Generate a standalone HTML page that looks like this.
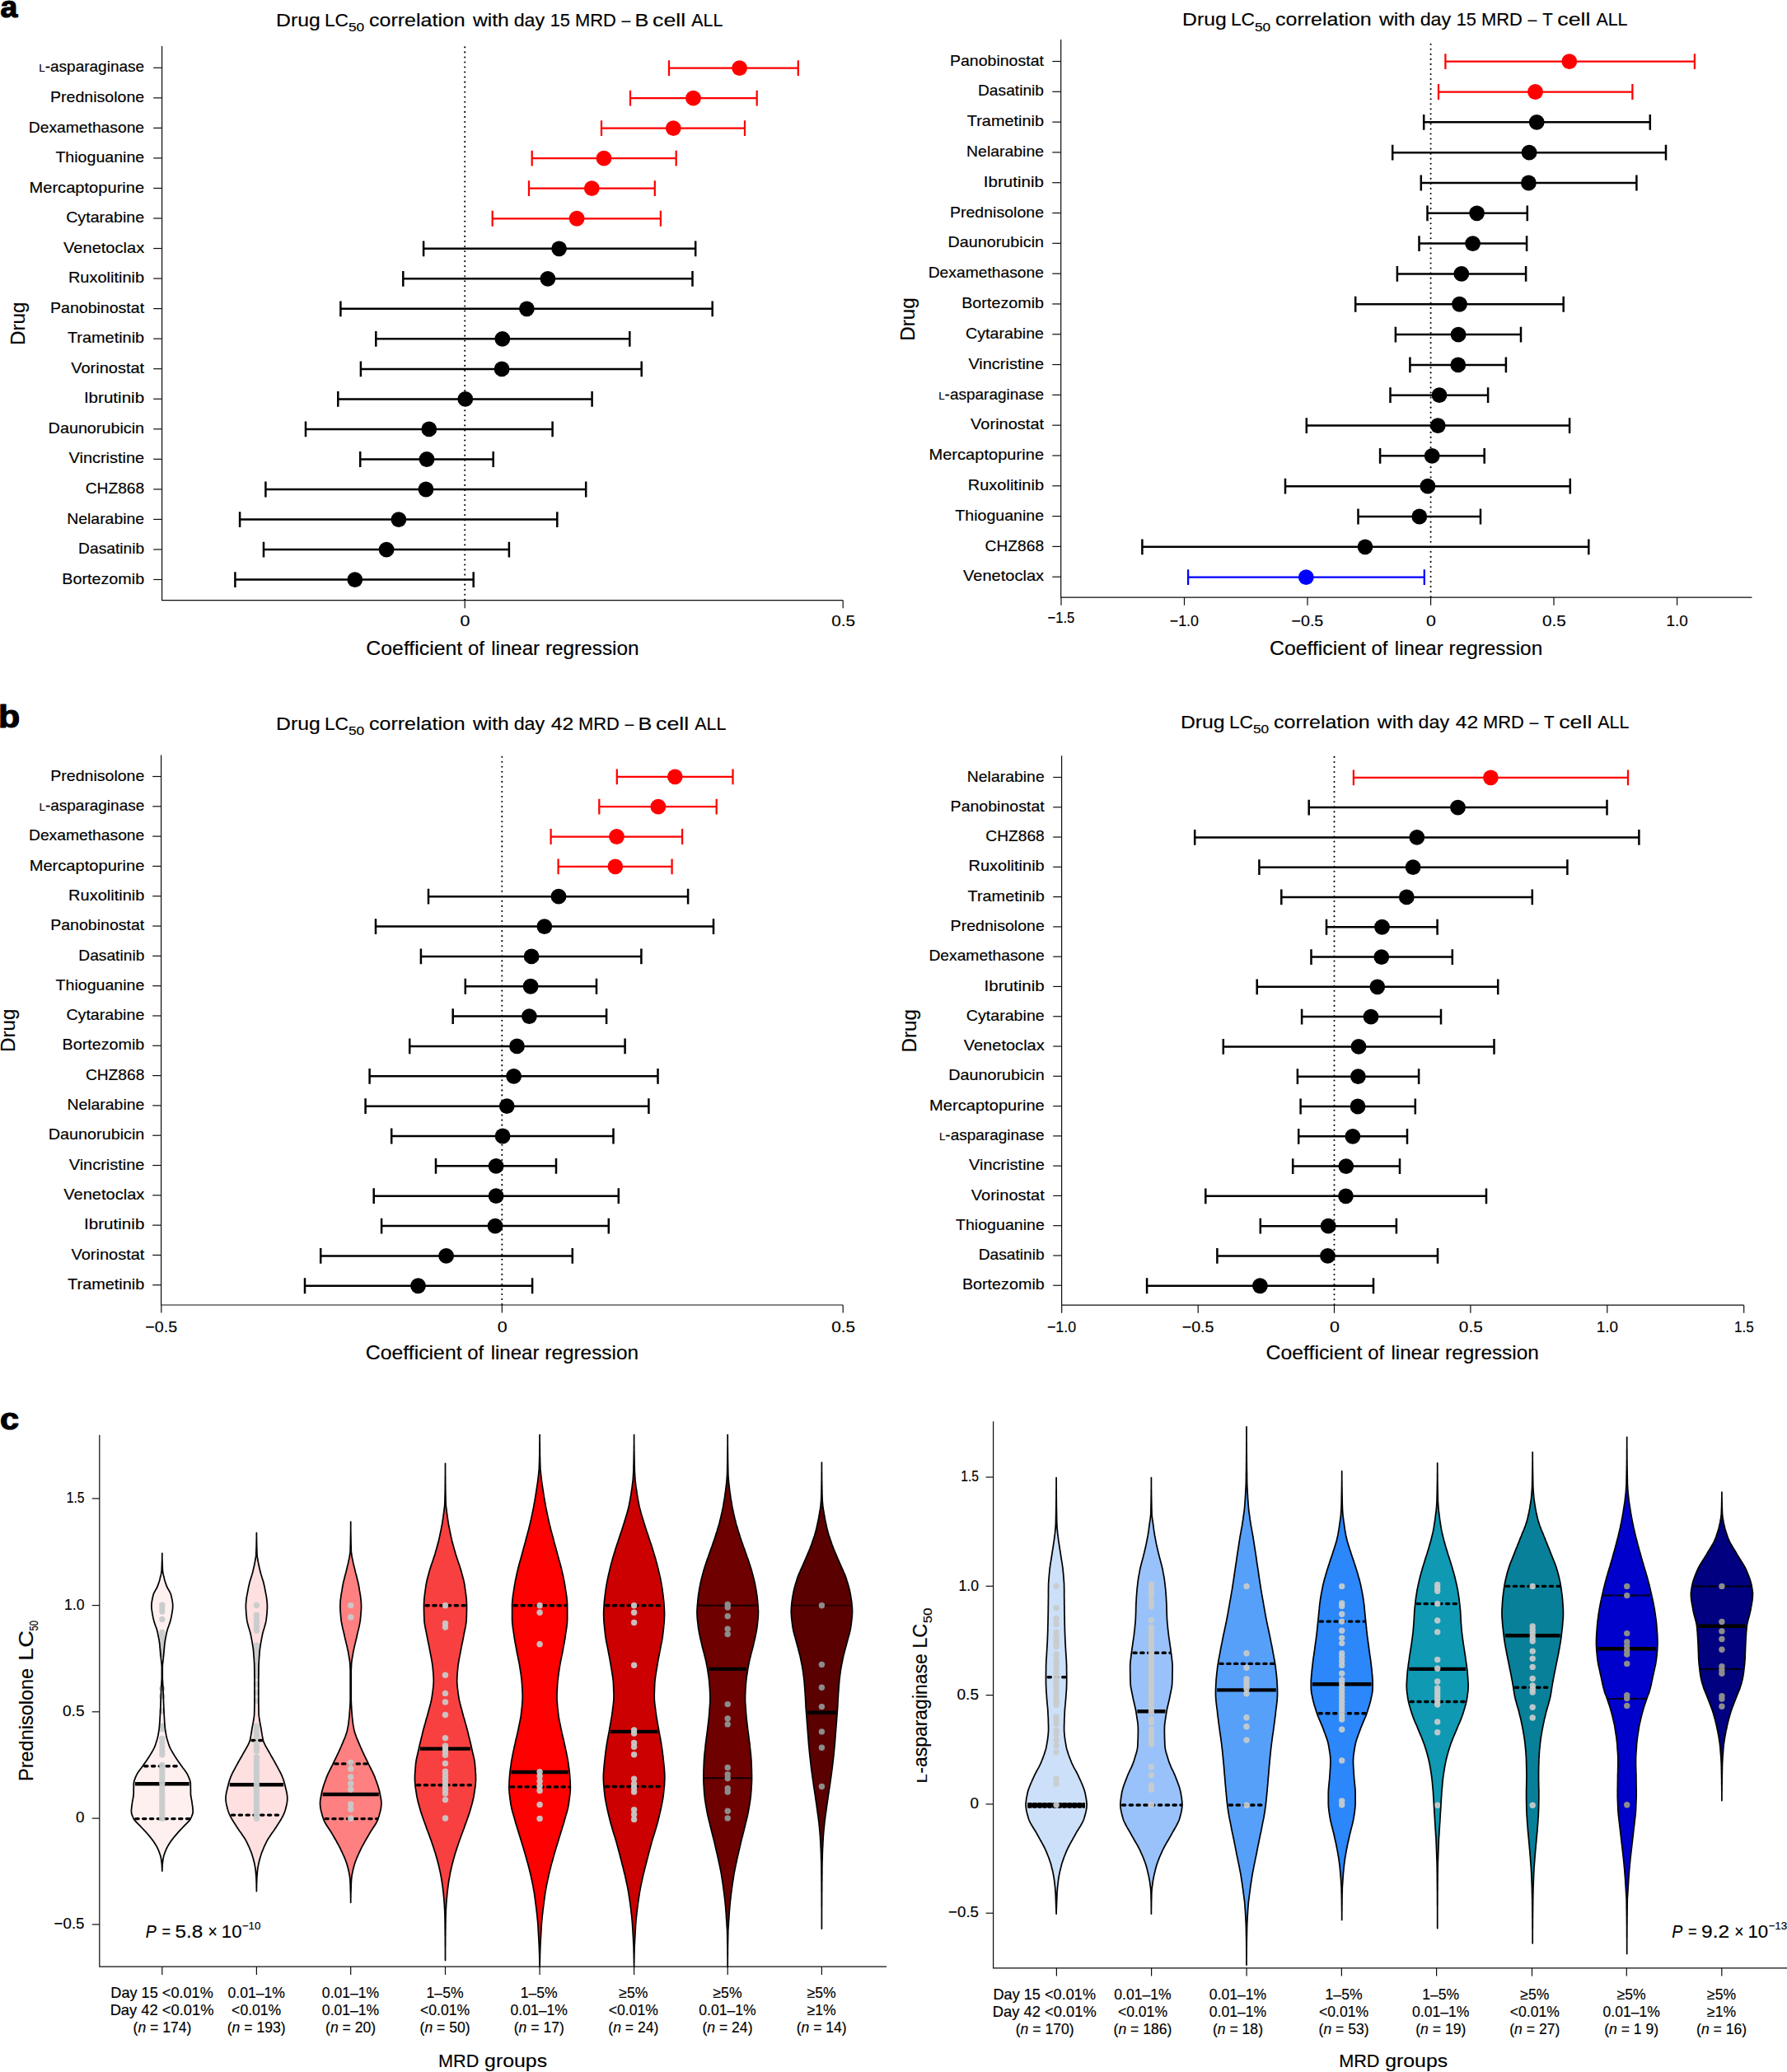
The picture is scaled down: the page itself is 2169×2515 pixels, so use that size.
<!DOCTYPE html>
<html lang="en"><head><meta charset="utf-8"><title>Drug LC50 correlation with MRD</title>
<style>
html,body{margin:0;padding:0;background:#fff;}
body{width:2169px;height:2515px;overflow:hidden;}
svg{display:block;font-family:"Liberation Sans", sans-serif;}
svg text{stroke:#000;stroke-width:0.16px;}
</style></head><body>
<svg width="2169" height="2515" viewBox="0 0 2169 2515">
<rect width="2169" height="2515" fill="#fff"/>
<line x1="564.2" y1="727.8" x2="564.2" y2="56.5" stroke="#000" stroke-width="2.1" stroke-linecap="round" stroke-dasharray="0.01 6.03" />
<path d="M196.6 56 V728.7 H1023.2" fill="none" stroke="#0d0d0d" stroke-width="1.22"/>
<line x1="186.2" y1="82.3" x2="196.6" y2="82.3" stroke="#0d0d0d" stroke-width="1.2"/>
<text transform="translate(47.3 87.45) scale(1.0332 1)" fill="#000"><tspan font-size="12.9" dy="0">L</tspan><tspan font-size="18.4" dy="0">-asparaginase</tspan></text>
<line x1="186.2" y1="118.84" x2="196.6" y2="118.84" stroke="#0d0d0d" stroke-width="1.2"/>
<text transform="translate(61 123.99) scale(1.0632 1)" font-size="18.4" fill="#000">Prednisolone</text>
<line x1="186.2" y1="155.38" x2="196.6" y2="155.38" stroke="#0d0d0d" stroke-width="1.2"/>
<text transform="translate(34.8 160.53) scale(1.0478 1)" font-size="18.4" fill="#000">Dexamethasone</text>
<line x1="186.2" y1="191.92" x2="196.6" y2="191.92" stroke="#0d0d0d" stroke-width="1.2"/>
<text transform="translate(67.4 197.07) scale(1.0643 1)" font-size="18.4" fill="#000">Thioguanine</text>
<line x1="186.2" y1="228.46" x2="196.6" y2="228.46" stroke="#0d0d0d" stroke-width="1.2"/>
<text transform="translate(35.5 233.61) scale(1.0927 1)" font-size="18.4" fill="#000">Mercaptopurine</text>
<line x1="186.2" y1="265" x2="196.6" y2="265" stroke="#0d0d0d" stroke-width="1.2"/>
<text transform="translate(80.2 270.15) scale(1.0676 1)" font-size="18.4" fill="#000">Cytarabine</text>
<line x1="186.2" y1="301.54" x2="196.6" y2="301.54" stroke="#0d0d0d" stroke-width="1.2"/>
<text transform="translate(77.1 306.69) scale(1.0897 1)" font-size="18.4" fill="#000">Venetoclax</text>
<line x1="186.2" y1="338.08" x2="196.6" y2="338.08" stroke="#0d0d0d" stroke-width="1.2"/>
<text transform="translate(82.9 343.23) scale(1.0873 1)" font-size="18.4" fill="#000">Ruxolitinib</text>
<line x1="186.2" y1="374.62" x2="196.6" y2="374.62" stroke="#0d0d0d" stroke-width="1.2"/>
<text transform="translate(61 379.77) scale(1.0631 1)" font-size="18.4" fill="#000">Panobinostat</text>
<line x1="186.2" y1="411.16" x2="196.6" y2="411.16" stroke="#0d0d0d" stroke-width="1.2"/>
<text transform="translate(81.9 416.31) scale(1.0819 1)" font-size="18.4" fill="#000">Trametinib</text>
<line x1="186.2" y1="447.7" x2="196.6" y2="447.7" stroke="#0d0d0d" stroke-width="1.2"/>
<text transform="translate(86.2 452.85) scale(1.0876 1)" font-size="18.4" fill="#000">Vorinostat</text>
<line x1="186.2" y1="484.24" x2="196.6" y2="484.24" stroke="#0d0d0d" stroke-width="1.2"/>
<text transform="translate(101.9 489.39) scale(1.1197 1)" font-size="18.4" fill="#000">Ibrutinib</text>
<line x1="186.2" y1="520.78" x2="196.6" y2="520.78" stroke="#0d0d0d" stroke-width="1.2"/>
<text transform="translate(58.6 525.93) scale(1.0754 1)" font-size="18.4" fill="#000">Daunorubicin</text>
<line x1="186.2" y1="557.32" x2="196.6" y2="557.32" stroke="#0d0d0d" stroke-width="1.2"/>
<text transform="translate(83.5 562.47) scale(1.0846 1)" font-size="18.4" fill="#000">Vincristine</text>
<line x1="186.2" y1="593.86" x2="196.6" y2="593.86" stroke="#0d0d0d" stroke-width="1.2"/>
<text transform="translate(103.7 599.01) scale(1.0435 1)" font-size="18.4" fill="#000">CHZ868</text>
<line x1="186.2" y1="630.4" x2="196.6" y2="630.4" stroke="#0d0d0d" stroke-width="1.2"/>
<text transform="translate(81.2 635.55) scale(1.0562 1)" font-size="18.4" fill="#000">Nelarabine</text>
<line x1="186.2" y1="666.94" x2="196.6" y2="666.94" stroke="#0d0d0d" stroke-width="1.2"/>
<text transform="translate(95.1 672.09) scale(1.0442 1)" font-size="18.4" fill="#000">Dasatinib</text>
<line x1="186.2" y1="703.48" x2="196.6" y2="703.48" stroke="#0d0d0d" stroke-width="1.2"/>
<text transform="translate(75.3 708.63) scale(1.0735 1)" font-size="18.4" fill="#000">Bortezomib</text>
<line x1="564.2" y1="728.7" x2="564.2" y2="738.3" stroke="#0d0d0d" stroke-width="1.2"/>
<text transform="translate(558.59 760.1) scale(1.1537 1)" font-size="18.6" fill="#000">0</text>
<line x1="1023.2" y1="728.7" x2="1023.2" y2="738.3" stroke="#0d0d0d" stroke-width="1.2"/>
<text transform="translate(1009.17 760.1) scale(1.1163 1)" font-size="18.6" fill="#000">0.5</text>
<path d="M812 73.2 V92 M968.8 73.2 V92 M812 82.6 H968.8" stroke="#ff0000" stroke-width="2.25" fill="none"/>
<circle cx="897.6" cy="82.6" r="9.4" fill="#ff0000"/>
<path d="M765 109.73 V128.53 M918.7 109.73 V128.53 M765 119.13 H918.7" stroke="#ff0000" stroke-width="2.25" fill="none"/>
<circle cx="841.5" cy="119.13" r="9.4" fill="#ff0000"/>
<path d="M730 146.26 V165.06 M904 146.26 V165.06 M730 155.66 H904" stroke="#ff0000" stroke-width="2.25" fill="none"/>
<circle cx="817.3" cy="155.66" r="9.4" fill="#ff0000"/>
<path d="M645.7 182.79 V201.59 M820.7 182.79 V201.59 M645.7 192.19 H820.7" stroke="#ff0000" stroke-width="2.25" fill="none"/>
<circle cx="733" cy="192.19" r="9.4" fill="#ff0000"/>
<path d="M642 219.32 V238.12 M794.8 219.32 V238.12 M642 228.72 H794.8" stroke="#ff0000" stroke-width="2.25" fill="none"/>
<circle cx="718.3" cy="228.72" r="9.4" fill="#ff0000"/>
<path d="M597.7 255.85 V274.65 M801.9 255.85 V274.65 M597.7 265.25 H801.9" stroke="#ff0000" stroke-width="2.25" fill="none"/>
<circle cx="700.1" cy="265.25" r="9.4" fill="#ff0000"/>
<path d="M514.1 292.38 V311.18 M844.2 292.38 V311.18 M514.1 301.78 H844.2" stroke="#000000" stroke-width="2.5" fill="none"/>
<circle cx="678.6" cy="301.78" r="9.4" fill="#000000"/>
<path d="M489.3 328.91 V347.71 M840.5 328.91 V347.71 M489.3 338.31 H840.5" stroke="#000000" stroke-width="2.5" fill="none"/>
<circle cx="664.9" cy="338.31" r="9.4" fill="#000000"/>
<path d="M413.4 365.44 V384.24 M864.7 365.44 V384.24 M413.4 374.84 H864.7" stroke="#000000" stroke-width="2.5" fill="none"/>
<circle cx="639.4" cy="374.84" r="9.4" fill="#000000"/>
<path d="M456.3 401.97 V420.77 M764.3 401.97 V420.77 M456.3 411.37 H764.3" stroke="#000000" stroke-width="2.5" fill="none"/>
<circle cx="609.8" cy="411.37" r="9.4" fill="#000000"/>
<path d="M437.9 438.5 V457.3 M778.7 438.5 V457.3 M437.9 447.9 H778.7" stroke="#000000" stroke-width="2.5" fill="none"/>
<circle cx="609.1" cy="447.9" r="9.4" fill="#000000"/>
<path d="M410.3 475.03 V493.83 M718.6 475.03 V493.83 M410.3 484.43 H718.6" stroke="#000000" stroke-width="2.5" fill="none"/>
<circle cx="564.8" cy="484.43" r="9.4" fill="#000000"/>
<path d="M371 511.56 V530.36 M670.6 511.56 V530.36 M371 520.96 H670.6" stroke="#000000" stroke-width="2.5" fill="none"/>
<circle cx="520.8" cy="520.96" r="9.4" fill="#000000"/>
<path d="M437.2 548.09 V566.89 M598.7 548.09 V566.89 M437.2 557.49 H598.7" stroke="#000000" stroke-width="2.5" fill="none"/>
<circle cx="518" cy="557.49" r="9.4" fill="#000000"/>
<path d="M322.4 584.62 V603.42 M711.2 584.62 V603.42 M322.4 594.02 H711.2" stroke="#000000" stroke-width="2.5" fill="none"/>
<circle cx="517" cy="594.02" r="9.4" fill="#000000"/>
<path d="M291.1 621.15 V639.95 M676.3 621.15 V639.95 M291.1 630.55 H676.3" stroke="#000000" stroke-width="2.5" fill="none"/>
<circle cx="483.9" cy="630.55" r="9.4" fill="#000000"/>
<path d="M320 657.68 V676.48 M617.9 657.68 V676.48 M320 667.08 H617.9" stroke="#000000" stroke-width="2.5" fill="none"/>
<circle cx="469.1" cy="667.08" r="9.4" fill="#000000"/>
<path d="M285.4 694.21 V713.01 M574.7 694.21 V713.01 M285.4 703.61 H574.7" stroke="#000000" stroke-width="2.5" fill="none"/>
<circle cx="430.8" cy="703.61" r="9.4" fill="#000000"/>
<text transform="translate(335.02 32.1) scale(1.0969 1)" font-size="22.6" fill="#000">Drug</text>
<text transform="translate(393.98 32.1) scale(1.0070 1)" font-size="22.6" fill="#000">LC</text>
<text transform="translate(423.01 38.4) scale(1.2532 1)" font-size="13.8" fill="#000">50</text>
<text transform="translate(448.1 32.1) scale(1.1057 1)" font-size="22.6" fill="#000">correlation</text>
<text transform="translate(573.9 32.1) scale(1.0939 1)" font-size="22.6" fill="#000">with</text>
<text transform="translate(623.67 32.1) scale(1.0315 1)" font-size="22.6" fill="#000">day</text>
<text transform="translate(667.66 32.1) scale(0.9650 1)" font-size="22.6" fill="#000">15</text>
<text transform="translate(698.05 32.1) scale(0.9693 1)" font-size="22.6" fill="#000">MRD</text>
<text transform="translate(754.6 32.1) scale(0.8610 1)" font-size="22.6" fill="#000">–</text>
<text transform="translate(770.58 32.1) scale(1.1165 1)" font-size="22.6" fill="#000">B</text>
<text transform="translate(792.03 32.1) scale(1.1863 1)" font-size="22.6" fill="#000">cell</text>
<text transform="translate(839.2 32.1) scale(0.9482 1)" font-size="22.6" fill="#000">ALL</text>
<text transform="translate(444.36 794.6) scale(1.0799 1)" font-size="23" fill="#000">Coefficient</text>
<text transform="translate(567.94 794.6) scale(1.0391 1)" font-size="23" fill="#000">of</text>
<text transform="translate(596.23 794.6) scale(1.0475 1)" font-size="23" fill="#000">linear</text>
<text transform="translate(661.92 794.6) scale(1.0590 1)" font-size="23" fill="#000">regression</text>
<text transform="translate(30.3 417) rotate(-90) translate(-1.94 0) scale(1.0274 1)" font-size="23.6" fill="#000">Drug</text>
<line x1="1736.6" y1="724.2" x2="1736.6" y2="48.4" stroke="#000" stroke-width="2.1" stroke-linecap="round" stroke-dasharray="0.01 6.03" />
<path d="M1287.7 47.9 V725.1 H2126.4" fill="none" stroke="#0d0d0d" stroke-width="1.22"/>
<line x1="1277.3" y1="74.5" x2="1287.7" y2="74.5" stroke="#0d0d0d" stroke-width="1.2"/>
<text transform="translate(1152.9 79.65) scale(1.0631 1)" font-size="18.4" fill="#000">Panobinostat</text>
<line x1="1277.3" y1="111.31" x2="1287.7" y2="111.31" stroke="#0d0d0d" stroke-width="1.2"/>
<text transform="translate(1187 116.46) scale(1.0442 1)" font-size="18.4" fill="#000">Dasatinib</text>
<line x1="1277.3" y1="148.11" x2="1287.7" y2="148.11" stroke="#0d0d0d" stroke-width="1.2"/>
<text transform="translate(1173.8 153.26) scale(1.0819 1)" font-size="18.4" fill="#000">Trametinib</text>
<line x1="1277.3" y1="184.92" x2="1287.7" y2="184.92" stroke="#0d0d0d" stroke-width="1.2"/>
<text transform="translate(1173.1 190.07) scale(1.0562 1)" font-size="18.4" fill="#000">Nelarabine</text>
<line x1="1277.3" y1="221.72" x2="1287.7" y2="221.72" stroke="#0d0d0d" stroke-width="1.2"/>
<text transform="translate(1193.8 226.87) scale(1.1197 1)" font-size="18.4" fill="#000">Ibrutinib</text>
<line x1="1277.3" y1="258.53" x2="1287.7" y2="258.53" stroke="#0d0d0d" stroke-width="1.2"/>
<text transform="translate(1152.9 263.68) scale(1.0632 1)" font-size="18.4" fill="#000">Prednisolone</text>
<line x1="1277.3" y1="295.34" x2="1287.7" y2="295.34" stroke="#0d0d0d" stroke-width="1.2"/>
<text transform="translate(1150.5 300.49) scale(1.0754 1)" font-size="18.4" fill="#000">Daunorubicin</text>
<line x1="1277.3" y1="332.14" x2="1287.7" y2="332.14" stroke="#0d0d0d" stroke-width="1.2"/>
<text transform="translate(1126.7 337.29) scale(1.0478 1)" font-size="18.4" fill="#000">Dexamethasone</text>
<line x1="1277.3" y1="368.95" x2="1287.7" y2="368.95" stroke="#0d0d0d" stroke-width="1.2"/>
<text transform="translate(1167.2 374.1) scale(1.0735 1)" font-size="18.4" fill="#000">Bortezomib</text>
<line x1="1277.3" y1="405.75" x2="1287.7" y2="405.75" stroke="#0d0d0d" stroke-width="1.2"/>
<text transform="translate(1172.1 410.9) scale(1.0676 1)" font-size="18.4" fill="#000">Cytarabine</text>
<line x1="1277.3" y1="442.56" x2="1287.7" y2="442.56" stroke="#0d0d0d" stroke-width="1.2"/>
<text transform="translate(1175.4 447.71) scale(1.0846 1)" font-size="18.4" fill="#000">Vincristine</text>
<line x1="1277.3" y1="479.37" x2="1287.7" y2="479.37" stroke="#0d0d0d" stroke-width="1.2"/>
<text transform="translate(1139.2 484.52) scale(1.0332 1)" fill="#000"><tspan font-size="12.9" dy="0">L</tspan><tspan font-size="18.4" dy="0">-asparaginase</tspan></text>
<line x1="1277.3" y1="516.17" x2="1287.7" y2="516.17" stroke="#0d0d0d" stroke-width="1.2"/>
<text transform="translate(1178.1 521.32) scale(1.0876 1)" font-size="18.4" fill="#000">Vorinostat</text>
<line x1="1277.3" y1="552.98" x2="1287.7" y2="552.98" stroke="#0d0d0d" stroke-width="1.2"/>
<text transform="translate(1127.4 558.13) scale(1.0927 1)" font-size="18.4" fill="#000">Mercaptopurine</text>
<line x1="1277.3" y1="589.78" x2="1287.7" y2="589.78" stroke="#0d0d0d" stroke-width="1.2"/>
<text transform="translate(1174.8 594.93) scale(1.0873 1)" font-size="18.4" fill="#000">Ruxolitinib</text>
<line x1="1277.3" y1="626.59" x2="1287.7" y2="626.59" stroke="#0d0d0d" stroke-width="1.2"/>
<text transform="translate(1159.3 631.74) scale(1.0643 1)" font-size="18.4" fill="#000">Thioguanine</text>
<line x1="1277.3" y1="663.4" x2="1287.7" y2="663.4" stroke="#0d0d0d" stroke-width="1.2"/>
<text transform="translate(1195.6 668.55) scale(1.0435 1)" font-size="18.4" fill="#000">CHZ868</text>
<line x1="1277.3" y1="700.2" x2="1287.7" y2="700.2" stroke="#0d0d0d" stroke-width="1.2"/>
<text transform="translate(1169 705.35) scale(1.0897 1)" font-size="18.4" fill="#000">Venetoclax</text>
<line x1="1288" y1="725.1" x2="1288" y2="734.7" stroke="#0d0d0d" stroke-width="1.2"/>
<text transform="translate(1271.41 756.1) scale(0.8984 1)" font-size="18.6" fill="#000">−1.5</text>
<line x1="1437.5" y1="725.1" x2="1437.5" y2="734.7" stroke="#0d0d0d" stroke-width="1.2"/>
<text transform="translate(1419.71 760.1) scale(0.9615 1)" font-size="18.6" fill="#000">−1.0</text>
<line x1="1587" y1="725.1" x2="1587" y2="734.7" stroke="#0d0d0d" stroke-width="1.2"/>
<text transform="translate(1567.47 760.1) scale(1.0582 1)" font-size="18.6" fill="#000">−0.5</text>
<line x1="1736.6" y1="725.1" x2="1736.6" y2="734.7" stroke="#0d0d0d" stroke-width="1.2"/>
<text transform="translate(1730.99 760.1) scale(1.1537 1)" font-size="18.6" fill="#000">0</text>
<line x1="1886" y1="725.1" x2="1886" y2="734.7" stroke="#0d0d0d" stroke-width="1.2"/>
<text transform="translate(1871.97 760.1) scale(1.1163 1)" font-size="18.6" fill="#000">0.5</text>
<line x1="2035.6" y1="725.1" x2="2035.6" y2="734.7" stroke="#0d0d0d" stroke-width="1.2"/>
<text transform="translate(2022.48 760.1) scale(1.0165 1)" font-size="18.6" fill="#000">1.0</text>
<path d="M1754.4 65.3 V84.1 M2056.9 65.3 V84.1 M1754.4 74.7 H2056.9" stroke="#ff0000" stroke-width="2.25" fill="none"/>
<circle cx="1904.8" cy="74.7" r="9.4" fill="#ff0000"/>
<path d="M1746 102.12 V120.92 M1981.4 102.12 V120.92 M1746 111.52 H1981.4" stroke="#ff0000" stroke-width="2.25" fill="none"/>
<circle cx="1863.5" cy="111.52" r="9.4" fill="#ff0000"/>
<path d="M1728.2 138.94 V157.74 M2002.8 138.94 V157.74 M1728.2 148.34 H2002.8" stroke="#000000" stroke-width="2.5" fill="none"/>
<circle cx="1865.2" cy="148.34" r="9.4" fill="#000000"/>
<path d="M1690.2 175.76 V194.56 M2022 175.76 V194.56 M1690.2 185.16 H2022" stroke="#000000" stroke-width="2.5" fill="none"/>
<circle cx="1856.1" cy="185.16" r="9.4" fill="#000000"/>
<path d="M1724.8 212.58 V231.38 M1986.4 212.58 V231.38 M1724.8 221.98 H1986.4" stroke="#000000" stroke-width="2.5" fill="none"/>
<circle cx="1855.4" cy="221.98" r="9.4" fill="#000000"/>
<path d="M1732.5 249.4 V268.2 M1853.8 249.4 V268.2 M1732.5 258.8 H1853.8" stroke="#000000" stroke-width="2.5" fill="none"/>
<circle cx="1792.6" cy="258.8" r="9.4" fill="#000000"/>
<path d="M1722.5 286.22 V305.02 M1853.1 286.22 V305.02 M1722.5 295.62 H1853.1" stroke="#000000" stroke-width="2.5" fill="none"/>
<circle cx="1787.6" cy="295.62" r="9.4" fill="#000000"/>
<path d="M1695.9 323.04 V341.84 M1852.1 323.04 V341.84 M1695.9 332.44 H1852.1" stroke="#000000" stroke-width="2.5" fill="none"/>
<circle cx="1773.8" cy="332.44" r="9.4" fill="#000000"/>
<path d="M1645.2 359.86 V378.66 M1897.7 359.86 V378.66 M1645.2 369.26 H1897.7" stroke="#000000" stroke-width="2.5" fill="none"/>
<circle cx="1771.5" cy="369.26" r="9.4" fill="#000000"/>
<path d="M1693.9 396.68 V415.48 M1846 396.68 V415.48 M1693.9 406.08 H1846" stroke="#000000" stroke-width="2.5" fill="none"/>
<circle cx="1770.1" cy="406.08" r="9.4" fill="#000000"/>
<path d="M1711.4 433.5 V452.3 M1827.9 433.5 V452.3 M1711.4 442.9 H1827.9" stroke="#000000" stroke-width="2.5" fill="none"/>
<circle cx="1769.8" cy="442.9" r="9.4" fill="#000000"/>
<path d="M1687.5 470.32 V489.12 M1806.1 470.32 V489.12 M1687.5 479.72 H1806.1" stroke="#000000" stroke-width="2.5" fill="none"/>
<circle cx="1747" cy="479.72" r="9.4" fill="#000000"/>
<path d="M1585.8 507.14 V525.94 M1905.1 507.14 V525.94 M1585.8 516.54 H1905.1" stroke="#000000" stroke-width="2.5" fill="none"/>
<circle cx="1745.3" cy="516.54" r="9.4" fill="#000000"/>
<path d="M1675.1 543.96 V562.76 M1801.7 543.96 V562.76 M1675.1 553.36 H1801.7" stroke="#000000" stroke-width="2.5" fill="none"/>
<circle cx="1738.2" cy="553.36" r="9.4" fill="#000000"/>
<path d="M1560 580.78 V599.58 M1905.8 580.78 V599.58 M1560 590.18 H1905.8" stroke="#000000" stroke-width="2.5" fill="none"/>
<circle cx="1732.9" cy="590.18" r="9.4" fill="#000000"/>
<path d="M1648.5 617.6 V636.4 M1797 617.6 V636.4 M1648.5 627 H1797" stroke="#000000" stroke-width="2.5" fill="none"/>
<circle cx="1722.8" cy="627" r="9.4" fill="#000000"/>
<path d="M1386.4 654.42 V673.22 M1928.3 654.42 V673.22 M1386.4 663.82 H1928.3" stroke="#000000" stroke-width="2.5" fill="none"/>
<circle cx="1657" cy="663.82" r="9.4" fill="#000000"/>
<path d="M1442.1 691.24 V710.04 M1728.8 691.24 V710.04 M1442.1 700.64 H1728.8" stroke="#0000ff" stroke-width="2.25" fill="none"/>
<circle cx="1585.3" cy="700.64" r="9.4" fill="#0000ff"/>
<text transform="translate(1435.02 31.3) scale(1.0969 1)" font-size="22.6" fill="#000">Drug</text>
<text transform="translate(1493.98 31.3) scale(1.0070 1)" font-size="22.6" fill="#000">LC</text>
<text transform="translate(1523.01 37.6) scale(1.2532 1)" font-size="13.8" fill="#000">50</text>
<text transform="translate(1548.1 31.3) scale(1.1057 1)" font-size="22.6" fill="#000">correlation</text>
<text transform="translate(1673.9 31.3) scale(1.0939 1)" font-size="22.6" fill="#000">with</text>
<text transform="translate(1723.67 31.3) scale(1.0315 1)" font-size="22.6" fill="#000">day</text>
<text transform="translate(1767.66 31.3) scale(0.9650 1)" font-size="22.6" fill="#000">15</text>
<text transform="translate(1798.05 31.3) scale(0.9693 1)" font-size="22.6" fill="#000">MRD</text>
<text transform="translate(1854.6 31.3) scale(0.8610 1)" font-size="22.6" fill="#000">–</text>
<text transform="translate(1872.19 31.3) scale(0.9082 1)" font-size="22.6" fill="#000">T</text>
<text transform="translate(1890.23 31.3) scale(1.1863 1)" font-size="22.6" fill="#000">cell</text>
<text transform="translate(1937.4 31.3) scale(0.9482 1)" font-size="22.6" fill="#000">ALL</text>
<text transform="translate(1540.96 794.6) scale(1.0799 1)" font-size="23" fill="#000">Coefficient</text>
<text transform="translate(1664.54 794.6) scale(1.0391 1)" font-size="23" fill="#000">of</text>
<text transform="translate(1692.83 794.6) scale(1.0475 1)" font-size="23" fill="#000">linear</text>
<text transform="translate(1758.52 794.6) scale(1.0590 1)" font-size="23" fill="#000">regression</text>
<text transform="translate(1109.8 411.9) rotate(-90) translate(-1.94 0) scale(1.0274 1)" font-size="23.6" fill="#000">Drug</text>
<line x1="609.3" y1="1583.1" x2="609.3" y2="917.1" stroke="#000" stroke-width="2.1" stroke-linecap="round" stroke-dasharray="0.01 6.03" />
<path d="M195.6 916.6 V1584 H1023.2" fill="none" stroke="#0d0d0d" stroke-width="1.22"/>
<line x1="185.2" y1="942.5" x2="195.6" y2="942.5" stroke="#0d0d0d" stroke-width="1.2"/>
<text transform="translate(61.2 947.65) scale(1.0632 1)" font-size="18.4" fill="#000">Prednisolone</text>
<line x1="185.2" y1="978.81" x2="195.6" y2="978.81" stroke="#0d0d0d" stroke-width="1.2"/>
<text transform="translate(47.5 983.96) scale(1.0332 1)" fill="#000"><tspan font-size="12.9" dy="0">L</tspan><tspan font-size="18.4" dy="0">-asparaginase</tspan></text>
<line x1="185.2" y1="1015.12" x2="195.6" y2="1015.12" stroke="#0d0d0d" stroke-width="1.2"/>
<text transform="translate(35 1020.27) scale(1.0478 1)" font-size="18.4" fill="#000">Dexamethasone</text>
<line x1="185.2" y1="1051.43" x2="195.6" y2="1051.43" stroke="#0d0d0d" stroke-width="1.2"/>
<text transform="translate(35.7 1056.58) scale(1.0927 1)" font-size="18.4" fill="#000">Mercaptopurine</text>
<line x1="185.2" y1="1087.74" x2="195.6" y2="1087.74" stroke="#0d0d0d" stroke-width="1.2"/>
<text transform="translate(83.1 1092.89) scale(1.0873 1)" font-size="18.4" fill="#000">Ruxolitinib</text>
<line x1="185.2" y1="1124.05" x2="195.6" y2="1124.05" stroke="#0d0d0d" stroke-width="1.2"/>
<text transform="translate(61.2 1129.2) scale(1.0631 1)" font-size="18.4" fill="#000">Panobinostat</text>
<line x1="185.2" y1="1160.36" x2="195.6" y2="1160.36" stroke="#0d0d0d" stroke-width="1.2"/>
<text transform="translate(95.3 1165.51) scale(1.0442 1)" font-size="18.4" fill="#000">Dasatinib</text>
<line x1="185.2" y1="1196.67" x2="195.6" y2="1196.67" stroke="#0d0d0d" stroke-width="1.2"/>
<text transform="translate(67.6 1201.82) scale(1.0643 1)" font-size="18.4" fill="#000">Thioguanine</text>
<line x1="185.2" y1="1232.98" x2="195.6" y2="1232.98" stroke="#0d0d0d" stroke-width="1.2"/>
<text transform="translate(80.4 1238.13) scale(1.0676 1)" font-size="18.4" fill="#000">Cytarabine</text>
<line x1="185.2" y1="1269.29" x2="195.6" y2="1269.29" stroke="#0d0d0d" stroke-width="1.2"/>
<text transform="translate(75.5 1274.44) scale(1.0735 1)" font-size="18.4" fill="#000">Bortezomib</text>
<line x1="185.2" y1="1305.6" x2="195.6" y2="1305.6" stroke="#0d0d0d" stroke-width="1.2"/>
<text transform="translate(103.9 1310.75) scale(1.0435 1)" font-size="18.4" fill="#000">CHZ868</text>
<line x1="185.2" y1="1341.91" x2="195.6" y2="1341.91" stroke="#0d0d0d" stroke-width="1.2"/>
<text transform="translate(81.4 1347.06) scale(1.0562 1)" font-size="18.4" fill="#000">Nelarabine</text>
<line x1="185.2" y1="1378.22" x2="195.6" y2="1378.22" stroke="#0d0d0d" stroke-width="1.2"/>
<text transform="translate(58.8 1383.37) scale(1.0754 1)" font-size="18.4" fill="#000">Daunorubicin</text>
<line x1="185.2" y1="1414.53" x2="195.6" y2="1414.53" stroke="#0d0d0d" stroke-width="1.2"/>
<text transform="translate(83.7 1419.68) scale(1.0846 1)" font-size="18.4" fill="#000">Vincristine</text>
<line x1="185.2" y1="1450.84" x2="195.6" y2="1450.84" stroke="#0d0d0d" stroke-width="1.2"/>
<text transform="translate(77.3 1455.99) scale(1.0897 1)" font-size="18.4" fill="#000">Venetoclax</text>
<line x1="185.2" y1="1487.15" x2="195.6" y2="1487.15" stroke="#0d0d0d" stroke-width="1.2"/>
<text transform="translate(102.1 1492.3) scale(1.1197 1)" font-size="18.4" fill="#000">Ibrutinib</text>
<line x1="185.2" y1="1523.46" x2="195.6" y2="1523.46" stroke="#0d0d0d" stroke-width="1.2"/>
<text transform="translate(86.4 1528.61) scale(1.0876 1)" font-size="18.4" fill="#000">Vorinostat</text>
<line x1="185.2" y1="1559.77" x2="195.6" y2="1559.77" stroke="#0d0d0d" stroke-width="1.2"/>
<text transform="translate(82.1 1564.92) scale(1.0819 1)" font-size="18.4" fill="#000">Trametinib</text>
<line x1="195.8" y1="1584" x2="195.8" y2="1593.6" stroke="#0d0d0d" stroke-width="1.2"/>
<text transform="translate(176.27 1616.8) scale(1.0582 1)" font-size="18.6" fill="#000">−0.5</text>
<line x1="609.3" y1="1584" x2="609.3" y2="1593.6" stroke="#0d0d0d" stroke-width="1.2"/>
<text transform="translate(603.69 1616.8) scale(1.1537 1)" font-size="18.6" fill="#000">0</text>
<line x1="1023.2" y1="1584" x2="1023.2" y2="1593.6" stroke="#0d0d0d" stroke-width="1.2"/>
<text transform="translate(1009.17 1616.8) scale(1.1163 1)" font-size="18.6" fill="#000">0.5</text>
<path d="M748.8 933.4 V952.2 M889.5 933.4 V952.2 M748.8 942.8 H889.5" stroke="#ff0000" stroke-width="2.25" fill="none"/>
<circle cx="819.3" cy="942.8" r="9.4" fill="#ff0000"/>
<path d="M727.3 969.75 V988.55 M869.7 969.75 V988.55 M727.3 979.15 H869.7" stroke="#ff0000" stroke-width="2.25" fill="none"/>
<circle cx="798.9" cy="979.15" r="9.4" fill="#ff0000"/>
<path d="M668.6 1006.1 V1024.9 M828.1 1006.1 V1024.9 M668.6 1015.5 H828.1" stroke="#ff0000" stroke-width="2.25" fill="none"/>
<circle cx="748.5" cy="1015.5" r="9.4" fill="#ff0000"/>
<path d="M677.6 1042.45 V1061.25 M815.6 1042.45 V1061.25 M677.6 1051.85 H815.6" stroke="#ff0000" stroke-width="2.25" fill="none"/>
<circle cx="746.8" cy="1051.85" r="9.4" fill="#ff0000"/>
<path d="M520 1078.8 V1097.6 M835.1 1078.8 V1097.6 M520 1088.2 H835.1" stroke="#000000" stroke-width="2.5" fill="none"/>
<circle cx="678" cy="1088.2" r="9.4" fill="#000000"/>
<path d="M456 1115.15 V1133.95 M866 1115.15 V1133.95 M456 1124.55 H866" stroke="#000000" stroke-width="2.5" fill="none"/>
<circle cx="660.8" cy="1124.55" r="9.4" fill="#000000"/>
<path d="M510.9 1151.5 V1170.3 M778.4 1151.5 V1170.3 M510.9 1160.9 H778.4" stroke="#000000" stroke-width="2.5" fill="none"/>
<circle cx="645.1" cy="1160.9" r="9.4" fill="#000000"/>
<path d="M564.8 1187.85 V1206.65 M724 1187.85 V1206.65 M564.8 1197.25 H724" stroke="#000000" stroke-width="2.5" fill="none"/>
<circle cx="644.1" cy="1197.25" r="9.4" fill="#000000"/>
<path d="M549.7 1224.2 V1243 M736.1 1224.2 V1243 M549.7 1233.6 H736.1" stroke="#000000" stroke-width="2.5" fill="none"/>
<circle cx="642.4" cy="1233.6" r="9.4" fill="#000000"/>
<path d="M497.2 1260.55 V1279.35 M758.6 1260.55 V1279.35 M497.2 1269.95 H758.6" stroke="#000000" stroke-width="2.5" fill="none"/>
<circle cx="627.5" cy="1269.95" r="9.4" fill="#000000"/>
<path d="M448.6 1296.9 V1315.7 M798.5 1296.9 V1315.7 M448.6 1306.3 H798.5" stroke="#000000" stroke-width="2.5" fill="none"/>
<circle cx="623.6" cy="1306.3" r="9.4" fill="#000000"/>
<path d="M443.6 1333.25 V1352.05 M787.4 1333.25 V1352.05 M443.6 1342.65 H787.4" stroke="#000000" stroke-width="2.5" fill="none"/>
<circle cx="615.2" cy="1342.65" r="9.4" fill="#000000"/>
<path d="M475.2 1369.6 V1388.4 M744.5 1369.6 V1388.4 M475.2 1379 H744.5" stroke="#000000" stroke-width="2.5" fill="none"/>
<circle cx="610.1" cy="1379" r="9.4" fill="#000000"/>
<path d="M529 1405.95 V1424.75 M675 1405.95 V1424.75 M529 1415.35 H675" stroke="#000000" stroke-width="2.5" fill="none"/>
<circle cx="602.1" cy="1415.35" r="9.4" fill="#000000"/>
<path d="M453.7 1442.3 V1461.1 M750.8 1442.3 V1461.1 M453.7 1451.7 H750.8" stroke="#000000" stroke-width="2.5" fill="none"/>
<circle cx="602.1" cy="1451.7" r="9.4" fill="#000000"/>
<path d="M463.1 1478.65 V1497.45 M738.8 1478.65 V1497.45 M463.1 1488.05 H738.8" stroke="#000000" stroke-width="2.5" fill="none"/>
<circle cx="601.1" cy="1488.05" r="9.4" fill="#000000"/>
<path d="M389.2 1515 V1533.8 M694.8 1515 V1533.8 M389.2 1524.4 H694.8" stroke="#000000" stroke-width="2.5" fill="none"/>
<circle cx="541.6" cy="1524.4" r="9.4" fill="#000000"/>
<path d="M370 1551.35 V1570.15 M646.1 1551.35 V1570.15 M370 1560.75 H646.1" stroke="#000000" stroke-width="2.5" fill="none"/>
<circle cx="507.5" cy="1560.75" r="9.4" fill="#000000"/>
<text transform="translate(335.02 886) scale(1.0969 1)" font-size="22.6" fill="#000">Drug</text>
<text transform="translate(393.98 886) scale(1.0070 1)" font-size="22.6" fill="#000">LC</text>
<text transform="translate(423.01 892.3) scale(1.2532 1)" font-size="13.8" fill="#000">50</text>
<text transform="translate(448.1 886) scale(1.1057 1)" font-size="22.6" fill="#000">correlation</text>
<text transform="translate(573.9 886) scale(1.0939 1)" font-size="22.6" fill="#000">with</text>
<text transform="translate(623.67 886) scale(1.0315 1)" font-size="22.6" fill="#000">day</text>
<text transform="translate(668.81 886) scale(1.0934 1)" font-size="22.6" fill="#000">42</text>
<text transform="translate(702.05 886) scale(0.9693 1)" font-size="22.6" fill="#000">MRD</text>
<text transform="translate(758.6 886) scale(0.8610 1)" font-size="22.6" fill="#000">–</text>
<text transform="translate(774.58 886) scale(1.1165 1)" font-size="22.6" fill="#000">B</text>
<text transform="translate(796.03 886) scale(1.1863 1)" font-size="22.6" fill="#000">cell</text>
<text transform="translate(843.2 886) scale(0.9482 1)" font-size="22.6" fill="#000">ALL</text>
<text transform="translate(443.76 1650.3) scale(1.0799 1)" font-size="23" fill="#000">Coefficient</text>
<text transform="translate(567.34 1650.3) scale(1.0391 1)" font-size="23" fill="#000">of</text>
<text transform="translate(595.63 1650.3) scale(1.0475 1)" font-size="23" fill="#000">linear</text>
<text transform="translate(661.32 1650.3) scale(1.0590 1)" font-size="23" fill="#000">regression</text>
<text transform="translate(17.9 1275) rotate(-90) translate(-1.94 0) scale(1.0274 1)" font-size="23.6" fill="#000">Drug</text>
<line x1="1619.5" y1="1583.3" x2="1619.5" y2="917.7" stroke="#000" stroke-width="2.1" stroke-linecap="round" stroke-dasharray="0.01 6.03" />
<path d="M1288.6 917.2 V1584.2 H2116.7" fill="none" stroke="#0d0d0d" stroke-width="1.22"/>
<line x1="1278.2" y1="943.5" x2="1288.6" y2="943.5" stroke="#0d0d0d" stroke-width="1.2"/>
<text transform="translate(1173.8 948.65) scale(1.0562 1)" font-size="18.4" fill="#000">Nelarabine</text>
<line x1="1278.2" y1="979.78" x2="1288.6" y2="979.78" stroke="#0d0d0d" stroke-width="1.2"/>
<text transform="translate(1153.6 984.93) scale(1.0631 1)" font-size="18.4" fill="#000">Panobinostat</text>
<line x1="1278.2" y1="1016.06" x2="1288.6" y2="1016.06" stroke="#0d0d0d" stroke-width="1.2"/>
<text transform="translate(1196.3 1021.21) scale(1.0435 1)" font-size="18.4" fill="#000">CHZ868</text>
<line x1="1278.2" y1="1052.34" x2="1288.6" y2="1052.34" stroke="#0d0d0d" stroke-width="1.2"/>
<text transform="translate(1175.5 1057.49) scale(1.0873 1)" font-size="18.4" fill="#000">Ruxolitinib</text>
<line x1="1278.2" y1="1088.62" x2="1288.6" y2="1088.62" stroke="#0d0d0d" stroke-width="1.2"/>
<text transform="translate(1174.5 1093.77) scale(1.0819 1)" font-size="18.4" fill="#000">Trametinib</text>
<line x1="1278.2" y1="1124.9" x2="1288.6" y2="1124.9" stroke="#0d0d0d" stroke-width="1.2"/>
<text transform="translate(1153.6 1130.05) scale(1.0632 1)" font-size="18.4" fill="#000">Prednisolone</text>
<line x1="1278.2" y1="1161.18" x2="1288.6" y2="1161.18" stroke="#0d0d0d" stroke-width="1.2"/>
<text transform="translate(1127.4 1166.33) scale(1.0478 1)" font-size="18.4" fill="#000">Dexamethasone</text>
<line x1="1278.2" y1="1197.46" x2="1288.6" y2="1197.46" stroke="#0d0d0d" stroke-width="1.2"/>
<text transform="translate(1194.5 1202.61) scale(1.1197 1)" font-size="18.4" fill="#000">Ibrutinib</text>
<line x1="1278.2" y1="1233.74" x2="1288.6" y2="1233.74" stroke="#0d0d0d" stroke-width="1.2"/>
<text transform="translate(1172.8 1238.89) scale(1.0676 1)" font-size="18.4" fill="#000">Cytarabine</text>
<line x1="1278.2" y1="1270.02" x2="1288.6" y2="1270.02" stroke="#0d0d0d" stroke-width="1.2"/>
<text transform="translate(1169.7 1275.17) scale(1.0897 1)" font-size="18.4" fill="#000">Venetoclax</text>
<line x1="1278.2" y1="1306.3" x2="1288.6" y2="1306.3" stroke="#0d0d0d" stroke-width="1.2"/>
<text transform="translate(1151.2 1311.45) scale(1.0754 1)" font-size="18.4" fill="#000">Daunorubicin</text>
<line x1="1278.2" y1="1342.58" x2="1288.6" y2="1342.58" stroke="#0d0d0d" stroke-width="1.2"/>
<text transform="translate(1128.1 1347.73) scale(1.0927 1)" font-size="18.4" fill="#000">Mercaptopurine</text>
<line x1="1278.2" y1="1378.86" x2="1288.6" y2="1378.86" stroke="#0d0d0d" stroke-width="1.2"/>
<text transform="translate(1139.9 1384.01) scale(1.0332 1)" fill="#000"><tspan font-size="12.9" dy="0">L</tspan><tspan font-size="18.4" dy="0">-asparaginase</tspan></text>
<line x1="1278.2" y1="1415.14" x2="1288.6" y2="1415.14" stroke="#0d0d0d" stroke-width="1.2"/>
<text transform="translate(1176.1 1420.29) scale(1.0846 1)" font-size="18.4" fill="#000">Vincristine</text>
<line x1="1278.2" y1="1451.42" x2="1288.6" y2="1451.42" stroke="#0d0d0d" stroke-width="1.2"/>
<text transform="translate(1178.8 1456.57) scale(1.0876 1)" font-size="18.4" fill="#000">Vorinostat</text>
<line x1="1278.2" y1="1487.7" x2="1288.6" y2="1487.7" stroke="#0d0d0d" stroke-width="1.2"/>
<text transform="translate(1160 1492.85) scale(1.0643 1)" font-size="18.4" fill="#000">Thioguanine</text>
<line x1="1278.2" y1="1523.98" x2="1288.6" y2="1523.98" stroke="#0d0d0d" stroke-width="1.2"/>
<text transform="translate(1187.7 1529.13) scale(1.0442 1)" font-size="18.4" fill="#000">Dasatinib</text>
<line x1="1278.2" y1="1560.26" x2="1288.6" y2="1560.26" stroke="#0d0d0d" stroke-width="1.2"/>
<text transform="translate(1167.9 1565.41) scale(1.0735 1)" font-size="18.4" fill="#000">Bortezomib</text>
<line x1="1288.7" y1="1584.2" x2="1288.7" y2="1593.8" stroke="#0d0d0d" stroke-width="1.2"/>
<text transform="translate(1270.91 1616.8) scale(0.9615 1)" font-size="18.6" fill="#000">−1.0</text>
<line x1="1454.2" y1="1584.2" x2="1454.2" y2="1593.8" stroke="#0d0d0d" stroke-width="1.2"/>
<text transform="translate(1434.67 1616.8) scale(1.0582 1)" font-size="18.6" fill="#000">−0.5</text>
<line x1="1619.5" y1="1584.2" x2="1619.5" y2="1593.8" stroke="#0d0d0d" stroke-width="1.2"/>
<text transform="translate(1613.89 1616.8) scale(1.1537 1)" font-size="18.6" fill="#000">0</text>
<line x1="1784.9" y1="1584.2" x2="1784.9" y2="1593.8" stroke="#0d0d0d" stroke-width="1.2"/>
<text transform="translate(1770.87 1616.8) scale(1.1163 1)" font-size="18.6" fill="#000">0.5</text>
<line x1="1950.8" y1="1584.2" x2="1950.8" y2="1593.8" stroke="#0d0d0d" stroke-width="1.2"/>
<text transform="translate(1937.68 1616.8) scale(1.0165 1)" font-size="18.6" fill="#000">1.0</text>
<line x1="2116.7" y1="1584.2" x2="2116.7" y2="1593.8" stroke="#0d0d0d" stroke-width="1.2"/>
<text transform="translate(2104.92 1616.8) scale(0.9192 1)" font-size="18.6" fill="#000">1.5</text>
<path d="M1642.9 934.4 V953.2 M1976 934.4 V953.2 M1642.9 943.8 H1976" stroke="#ff0000" stroke-width="2.25" fill="none"/>
<circle cx="1809.4" cy="943.8" r="9.4" fill="#ff0000"/>
<path d="M1588.7 970.69 V989.49 M1950.5 970.69 V989.49 M1588.7 980.09 H1950.5" stroke="#000000" stroke-width="2.5" fill="none"/>
<circle cx="1769.5" cy="980.09" r="9.4" fill="#000000"/>
<path d="M1450.2 1006.98 V1025.78 M1989.4 1006.98 V1025.78 M1450.2 1016.38 H1989.4" stroke="#000000" stroke-width="2.5" fill="none"/>
<circle cx="1719.8" cy="1016.38" r="9.4" fill="#000000"/>
<path d="M1528.4 1043.27 V1062.07 M1902.4 1043.27 V1062.07 M1528.4 1052.67 H1902.4" stroke="#000000" stroke-width="2.5" fill="none"/>
<circle cx="1715.1" cy="1052.67" r="9.4" fill="#000000"/>
<path d="M1555.3 1079.56 V1098.36 M1859.8 1079.56 V1098.36 M1555.3 1088.96 H1859.8" stroke="#000000" stroke-width="2.5" fill="none"/>
<circle cx="1707.3" cy="1088.96" r="9.4" fill="#000000"/>
<path d="M1610 1115.85 V1134.65 M1744.6 1115.85 V1134.65 M1610 1125.25 H1744.6" stroke="#000000" stroke-width="2.5" fill="none"/>
<circle cx="1677.5" cy="1125.25" r="9.4" fill="#000000"/>
<path d="M1591.5 1152.14 V1170.94 M1762.8 1152.14 V1170.94 M1591.5 1161.54 H1762.8" stroke="#000000" stroke-width="2.5" fill="none"/>
<circle cx="1676.8" cy="1161.54" r="9.4" fill="#000000"/>
<path d="M1525.7 1188.43 V1207.23 M1818.2 1188.43 V1207.23 M1525.7 1197.83 H1818.2" stroke="#000000" stroke-width="2.5" fill="none"/>
<circle cx="1671.8" cy="1197.83" r="9.4" fill="#000000"/>
<path d="M1580.1 1224.72 V1243.52 M1749 1224.72 V1243.52 M1580.1 1234.12 H1749" stroke="#000000" stroke-width="2.5" fill="none"/>
<circle cx="1664" cy="1234.12" r="9.4" fill="#000000"/>
<path d="M1484.8 1261.01 V1279.81 M1813.5 1261.01 V1279.81 M1484.8 1270.41 H1813.5" stroke="#000000" stroke-width="2.5" fill="none"/>
<circle cx="1649" cy="1270.41" r="9.4" fill="#000000"/>
<path d="M1574.9 1297.3 V1316.1 M1722.1 1297.3 V1316.1 M1574.9 1306.7 H1722.1" stroke="#000000" stroke-width="2.5" fill="none"/>
<circle cx="1648.4" cy="1306.7" r="9.4" fill="#000000"/>
<path d="M1578.6 1333.59 V1352.39 M1717.8 1333.59 V1352.39 M1578.6 1342.99 H1717.8" stroke="#000000" stroke-width="2.5" fill="none"/>
<circle cx="1648" cy="1342.99" r="9.4" fill="#000000"/>
<path d="M1576.2 1369.88 V1388.68 M1708 1369.88 V1388.68 M1576.2 1379.28 H1708" stroke="#000000" stroke-width="2.5" fill="none"/>
<circle cx="1641.9" cy="1379.28" r="9.4" fill="#000000"/>
<path d="M1569.2 1406.17 V1424.97 M1699 1406.17 V1424.97 M1569.2 1415.57 H1699" stroke="#000000" stroke-width="2.5" fill="none"/>
<circle cx="1633.8" cy="1415.57" r="9.4" fill="#000000"/>
<path d="M1463.3 1442.46 V1461.26 M1804 1442.46 V1461.26 M1463.3 1451.86 H1804" stroke="#000000" stroke-width="2.5" fill="none"/>
<circle cx="1633.5" cy="1451.86" r="9.4" fill="#000000"/>
<path d="M1529.8 1478.75 V1497.55 M1694.9 1478.75 V1497.55 M1529.8 1488.15 H1694.9" stroke="#000000" stroke-width="2.5" fill="none"/>
<circle cx="1612.2" cy="1488.15" r="9.4" fill="#000000"/>
<path d="M1477.4 1515.04 V1533.84 M1745 1515.04 V1533.84 M1477.4 1524.44 H1745" stroke="#000000" stroke-width="2.5" fill="none"/>
<circle cx="1611.5" cy="1524.44" r="9.4" fill="#000000"/>
<path d="M1392.1 1551.33 V1570.13 M1667 1551.33 V1570.13 M1392.1 1560.73 H1667" stroke="#000000" stroke-width="2.5" fill="none"/>
<circle cx="1529.4" cy="1560.73" r="9.4" fill="#000000"/>
<text transform="translate(1432.92 884) scale(1.0969 1)" font-size="22.6" fill="#000">Drug</text>
<text transform="translate(1491.88 884) scale(1.0070 1)" font-size="22.6" fill="#000">LC</text>
<text transform="translate(1520.91 890.3) scale(1.2532 1)" font-size="13.8" fill="#000">50</text>
<text transform="translate(1546 884) scale(1.1057 1)" font-size="22.6" fill="#000">correlation</text>
<text transform="translate(1671.8 884) scale(1.0939 1)" font-size="22.6" fill="#000">with</text>
<text transform="translate(1721.57 884) scale(1.0315 1)" font-size="22.6" fill="#000">day</text>
<text transform="translate(1766.71 884) scale(1.0934 1)" font-size="22.6" fill="#000">42</text>
<text transform="translate(1799.95 884) scale(0.9693 1)" font-size="22.6" fill="#000">MRD</text>
<text transform="translate(1856.5 884) scale(0.8610 1)" font-size="22.6" fill="#000">–</text>
<text transform="translate(1874.09 884) scale(0.9082 1)" font-size="22.6" fill="#000">T</text>
<text transform="translate(1892.13 884) scale(1.1863 1)" font-size="22.6" fill="#000">cell</text>
<text transform="translate(1939.3 884) scale(0.9482 1)" font-size="22.6" fill="#000">ALL</text>
<text transform="translate(1536.56 1650.3) scale(1.0799 1)" font-size="23" fill="#000">Coefficient</text>
<text transform="translate(1660.14 1650.3) scale(1.0391 1)" font-size="23" fill="#000">of</text>
<text transform="translate(1688.43 1650.3) scale(1.0475 1)" font-size="23" fill="#000">linear</text>
<text transform="translate(1754.12 1650.3) scale(1.0590 1)" font-size="23" fill="#000">regression</text>
<text transform="translate(1111.9 1275.5) rotate(-90) translate(-1.94 0) scale(1.0274 1)" font-size="23.6" fill="#000">Drug</text>
<path d="M196.8 1885.4 L196.8 1885.7 196.8 1888.3 196.8 1890.9 196.9 1893.5 197 1896.1 197.1 1898.7 197.2 1901.3 197.3 1903.9 197.4 1906.5 197.8 1909.1 198.3 1911.7 199 1914.3 199.6 1916.9 200.3 1919.5 201.2 1922.1 202.1 1924.7 203.2 1927.3 204.7 1929.9 206.2 1932.5 207.4 1935.1 208 1937.7 208.6 1940.3 209.1 1942.9 209.5 1945.5 209.7 1948.1 209.7 1950.7 209.5 1953.3 209.1 1955.9 208.7 1958.5 208.2 1961.1 207.7 1963.7 207.1 1966.3 206.4 1968.9 205.5 1971.5 204.6 1974.1 203.6 1976.7 202.9 1979.3 202.2 1981.9 201.7 1984.5 201.2 1987.1 200.7 1989.7 200.3 1992.3 199.9 1994.9 199.6 1997.5 199.4 2000.1 199.1 2002.7 198.9 2005.3 198.6 2007.9 198.4 2010.5 198.2 2013.1 197.9 2015.7 197.6 2018.3 197.3 2020.9 197.2 2023.5 197.2 2026.1 197.2 2028.7 197.2 2031.3 197.2 2033.9 197.2 2036.5 197.3 2039.1 197.5 2041.7 197.6 2044.3 197.8 2046.9 197.9 2049.5 198 2052.1 198.1 2054.7 198.2 2057.3 198.3 2059.9 198.4 2062.5 198.5 2065.1 198.6 2067.7 198.7 2070.3 198.8 2072.9 198.9 2075.5 199 2078.1 199.2 2080.7 199.3 2083.3 199.5 2085.9 199.6 2088.5 199.8 2091.1 200 2093.7 200.2 2096.3 200.5 2098.9 200.9 2101.5 201.3 2104.1 201.8 2106.7 202.4 2109.3 203.1 2111.9 203.9 2114.5 204.7 2117.1 205.6 2119.7 206.8 2122.3 208.2 2124.9 209.7 2127.5 211.3 2130.1 212.9 2132.7 214.6 2135.3 216.4 2137.9 218.2 2140.5 220 2143.1 221.9 2145.7 223.9 2148.3 225.8 2150.9 227.4 2153.5 228.6 2156.1 229.7 2158.7 230.6 2161.3 231.2 2163.9 231.3 2166.5 231.3 2169.1 231.4 2171.7 231.4 2174.3 231.4 2176.9 231.6 2179.5 232 2182.1 232.5 2184.7 233 2187.3 233.3 2189.9 233.7 2192.5 234 2195.1 234.2 2197.7 234.1 2200.3 233.4 2202.9 232.3 2205.5 231.1 2208.1 229.1 2210.7 226.5 2213.3 223.9 2215.9 221.5 2218.5 219 2221.1 216.6 2223.7 214.3 2226.3 212.1 2228.9 210 2231.5 208 2234.1 206.2 2236.7 204.6 2239.3 203.1 2241.9 201.8 2244.5 200.7 2247.1 199.8 2249.7 198.9 2252.3 198.3 2254.9 197.8 2257.5 197.5 2260.1 197.2 2262.7 197 2265.3 196.9 2267.9 196.8 2270.5 196.8 2271.1 196.8 2271.1 196.8 2271.1 196.8 2270.5 196.7 2267.9 196.6 2265.3 196.4 2262.7 196.1 2260.1 195.8 2257.5 195.3 2254.9 194.7 2252.3 193.8 2249.7 192.9 2247.1 191.8 2244.5 190.5 2241.9 189 2239.3 187.4 2236.7 185.6 2234.1 183.6 2231.5 181.5 2228.9 179.3 2226.3 177 2223.7 174.6 2221.1 172.1 2218.5 169.7 2215.9 167.1 2213.3 164.5 2210.7 162.5 2208.1 161.3 2205.5 160.2 2202.9 159.5 2200.3 159.4 2197.7 159.6 2195.1 159.9 2192.5 160.3 2189.9 160.6 2187.3 161.1 2184.7 161.6 2182.1 162 2179.5 162.2 2176.9 162.2 2174.3 162.2 2171.7 162.3 2169.1 162.3 2166.5 162.4 2163.9 163 2161.3 163.9 2158.7 165 2156.1 166.2 2153.5 167.8 2150.9 169.7 2148.3 171.7 2145.7 173.6 2143.1 175.4 2140.5 177.2 2137.9 179 2135.3 180.7 2132.7 182.3 2130.1 183.9 2127.5 185.4 2124.9 186.8 2122.3 188 2119.7 188.9 2117.1 189.7 2114.5 190.5 2111.9 191.2 2109.3 191.8 2106.7 192.3 2104.1 192.7 2101.5 193.1 2098.9 193.4 2096.3 193.6 2093.7 193.8 2091.1 194 2088.5 194.1 2085.9 194.3 2083.3 194.4 2080.7 194.6 2078.1 194.7 2075.5 194.8 2072.9 194.9 2070.3 195 2067.7 195.1 2065.1 195.2 2062.5 195.3 2059.9 195.4 2057.3 195.5 2054.7 195.6 2052.1 195.7 2049.5 195.8 2046.9 196 2044.3 196.1 2041.7 196.3 2039.1 196.4 2036.5 196.4 2033.9 196.4 2031.3 196.4 2028.7 196.4 2026.1 196.4 2023.5 196.3 2020.9 196 2018.3 195.7 2015.7 195.4 2013.1 195.2 2010.5 195 2007.9 194.7 2005.3 194.5 2002.7 194.2 2000.1 194 1997.5 193.7 1994.9 193.3 1992.3 192.9 1989.7 192.4 1987.1 191.9 1984.5 191.4 1981.9 190.7 1979.3 190 1976.7 189 1974.1 188.1 1971.5 187.2 1968.9 186.5 1966.3 185.9 1963.7 185.4 1961.1 184.9 1958.5 184.5 1955.9 184.1 1953.3 183.9 1950.7 183.9 1948.1 184.1 1945.5 184.5 1942.9 185 1940.3 185.6 1937.7 186.2 1935.1 187.4 1932.5 188.9 1929.9 190.4 1927.3 191.5 1924.7 192.4 1922.1 193.3 1919.5 194 1916.9 194.6 1914.3 195.3 1911.7 195.8 1909.1 196.2 1906.5 196.3 1903.9 196.4 1901.3 196.5 1898.7 196.6 1896.1 196.7 1893.5 196.8 1890.9 196.8 1888.3 196.8 1885.7Z" fill="#fff0f0" stroke="none"/>
<g><line x1="164.85" y1="2207.6" x2="230.15" y2="2207.6" stroke="#000" stroke-width="3.4" stroke-linecap="round" stroke-dasharray="3.2 5.6"/><line x1="175.7" y1="2143.8" x2="219.3" y2="2143.8" stroke="#000" stroke-width="3.4" stroke-linecap="round" stroke-dasharray="3.2 5.6"/><line x1="163.9" y1="2165.3" x2="229.7" y2="2165.3" stroke="#000" stroke-width="4.4"/></g>
<g fill="#c8cbcb" fill-opacity="0.93"><circle cx="196.8" cy="1948.1" r="3.7"/><circle cx="196.8" cy="1951.7" r="3.7"/><circle cx="196.8" cy="1956.1" r="3.7"/><circle cx="196.8" cy="1965.5" r="3.7"/><circle cx="196.8" cy="1981.4" r="3.7"/><circle cx="196.8" cy="1985.87" r="3.7"/><circle cx="196.8" cy="1990.33" r="3.7"/><circle cx="196.8" cy="1994.8" r="3.7"/><circle cx="196.8" cy="1999.27" r="3.7"/><circle cx="196.8" cy="2003.73" r="3.7"/><circle cx="196.8" cy="2008.2" r="3.7"/><circle cx="196.8" cy="2049.4" r="3.7"/><circle cx="196.8" cy="2058.9" r="3.7"/><circle cx="196.8" cy="2077" r="3.7"/><circle cx="196.8" cy="2095" r="3.7"/><circle cx="196.8" cy="2098.7" r="3.7"/><circle cx="196.8" cy="2110.3" r="3.7"/><circle cx="196.8" cy="2115.18" r="3.7"/><circle cx="196.8" cy="2120.05" r="3.7"/><circle cx="196.8" cy="2124.93" r="3.7"/><circle cx="196.8" cy="2129.8" r="3.7"/><circle cx="196.8" cy="2142.5" r="3.7"/><circle cx="196.8" cy="2146.81" r="3.7"/><circle cx="196.8" cy="2151.13" r="3.7"/><circle cx="196.8" cy="2155.44" r="3.7"/><circle cx="196.8" cy="2159.75" r="3.7"/><circle cx="196.8" cy="2164.07" r="3.7"/><circle cx="196.8" cy="2168.38" r="3.7"/><circle cx="196.8" cy="2172.69" r="3.7"/><circle cx="196.8" cy="2177.01" r="3.7"/><circle cx="196.8" cy="2181.32" r="3.7"/><circle cx="196.8" cy="2185.63" r="3.7"/><circle cx="196.8" cy="2189.95" r="3.7"/><circle cx="196.8" cy="2194.26" r="3.7"/><circle cx="196.8" cy="2198.57" r="3.7"/><circle cx="196.8" cy="2202.89" r="3.7"/><circle cx="196.8" cy="2207.2" r="3.7"/></g>
<path d="M196.8 1885.4 L196.8 1885.7 196.8 1888.3 196.8 1890.9 196.9 1893.5 197 1896.1 197.1 1898.7 197.2 1901.3 197.3 1903.9 197.4 1906.5 197.8 1909.1 198.3 1911.7 199 1914.3 199.6 1916.9 200.3 1919.5 201.2 1922.1 202.1 1924.7 203.2 1927.3 204.7 1929.9 206.2 1932.5 207.4 1935.1 208 1937.7 208.6 1940.3 209.1 1942.9 209.5 1945.5 209.7 1948.1 209.7 1950.7 209.5 1953.3 209.1 1955.9 208.7 1958.5 208.2 1961.1 207.7 1963.7 207.1 1966.3 206.4 1968.9 205.5 1971.5 204.6 1974.1 203.6 1976.7 202.9 1979.3 202.2 1981.9 201.7 1984.5 201.2 1987.1 200.7 1989.7 200.3 1992.3 199.9 1994.9 199.6 1997.5 199.4 2000.1 199.1 2002.7 198.9 2005.3 198.6 2007.9 198.4 2010.5 198.2 2013.1 197.9 2015.7 197.6 2018.3 197.3 2020.9 197.2 2023.5 197.2 2026.1 197.2 2028.7 197.2 2031.3 197.2 2033.9 197.2 2036.5 197.3 2039.1 197.5 2041.7 197.6 2044.3 197.8 2046.9 197.9 2049.5 198 2052.1 198.1 2054.7 198.2 2057.3 198.3 2059.9 198.4 2062.5 198.5 2065.1 198.6 2067.7 198.7 2070.3 198.8 2072.9 198.9 2075.5 199 2078.1 199.2 2080.7 199.3 2083.3 199.5 2085.9 199.6 2088.5 199.8 2091.1 200 2093.7 200.2 2096.3 200.5 2098.9 200.9 2101.5 201.3 2104.1 201.8 2106.7 202.4 2109.3 203.1 2111.9 203.9 2114.5 204.7 2117.1 205.6 2119.7 206.8 2122.3 208.2 2124.9 209.7 2127.5 211.3 2130.1 212.9 2132.7 214.6 2135.3 216.4 2137.9 218.2 2140.5 220 2143.1 221.9 2145.7 223.9 2148.3 225.8 2150.9 227.4 2153.5 228.6 2156.1 229.7 2158.7 230.6 2161.3 231.2 2163.9 231.3 2166.5 231.3 2169.1 231.4 2171.7 231.4 2174.3 231.4 2176.9 231.6 2179.5 232 2182.1 232.5 2184.7 233 2187.3 233.3 2189.9 233.7 2192.5 234 2195.1 234.2 2197.7 234.1 2200.3 233.4 2202.9 232.3 2205.5 231.1 2208.1 229.1 2210.7 226.5 2213.3 223.9 2215.9 221.5 2218.5 219 2221.1 216.6 2223.7 214.3 2226.3 212.1 2228.9 210 2231.5 208 2234.1 206.2 2236.7 204.6 2239.3 203.1 2241.9 201.8 2244.5 200.7 2247.1 199.8 2249.7 198.9 2252.3 198.3 2254.9 197.8 2257.5 197.5 2260.1 197.2 2262.7 197 2265.3 196.9 2267.9 196.8 2270.5 196.8 2271.1 196.8 2271.1 196.8 2271.1 196.8 2270.5 196.7 2267.9 196.6 2265.3 196.4 2262.7 196.1 2260.1 195.8 2257.5 195.3 2254.9 194.7 2252.3 193.8 2249.7 192.9 2247.1 191.8 2244.5 190.5 2241.9 189 2239.3 187.4 2236.7 185.6 2234.1 183.6 2231.5 181.5 2228.9 179.3 2226.3 177 2223.7 174.6 2221.1 172.1 2218.5 169.7 2215.9 167.1 2213.3 164.5 2210.7 162.5 2208.1 161.3 2205.5 160.2 2202.9 159.5 2200.3 159.4 2197.7 159.6 2195.1 159.9 2192.5 160.3 2189.9 160.6 2187.3 161.1 2184.7 161.6 2182.1 162 2179.5 162.2 2176.9 162.2 2174.3 162.2 2171.7 162.3 2169.1 162.3 2166.5 162.4 2163.9 163 2161.3 163.9 2158.7 165 2156.1 166.2 2153.5 167.8 2150.9 169.7 2148.3 171.7 2145.7 173.6 2143.1 175.4 2140.5 177.2 2137.9 179 2135.3 180.7 2132.7 182.3 2130.1 183.9 2127.5 185.4 2124.9 186.8 2122.3 188 2119.7 188.9 2117.1 189.7 2114.5 190.5 2111.9 191.2 2109.3 191.8 2106.7 192.3 2104.1 192.7 2101.5 193.1 2098.9 193.4 2096.3 193.6 2093.7 193.8 2091.1 194 2088.5 194.1 2085.9 194.3 2083.3 194.4 2080.7 194.6 2078.1 194.7 2075.5 194.8 2072.9 194.9 2070.3 195 2067.7 195.1 2065.1 195.2 2062.5 195.3 2059.9 195.4 2057.3 195.5 2054.7 195.6 2052.1 195.7 2049.5 195.8 2046.9 196 2044.3 196.1 2041.7 196.3 2039.1 196.4 2036.5 196.4 2033.9 196.4 2031.3 196.4 2028.7 196.4 2026.1 196.4 2023.5 196.3 2020.9 196 2018.3 195.7 2015.7 195.4 2013.1 195.2 2010.5 195 2007.9 194.7 2005.3 194.5 2002.7 194.2 2000.1 194 1997.5 193.7 1994.9 193.3 1992.3 192.9 1989.7 192.4 1987.1 191.9 1984.5 191.4 1981.9 190.7 1979.3 190 1976.7 189 1974.1 188.1 1971.5 187.2 1968.9 186.5 1966.3 185.9 1963.7 185.4 1961.1 184.9 1958.5 184.5 1955.9 184.1 1953.3 183.9 1950.7 183.9 1948.1 184.1 1945.5 184.5 1942.9 185 1940.3 185.6 1937.7 186.2 1935.1 187.4 1932.5 188.9 1929.9 190.4 1927.3 191.5 1924.7 192.4 1922.1 193.3 1919.5 194 1916.9 194.6 1914.3 195.3 1911.7 195.8 1909.1 196.2 1906.5 196.3 1903.9 196.4 1901.3 196.5 1898.7 196.6 1896.1 196.7 1893.5 196.8 1890.9 196.8 1888.3 196.8 1885.7Z" fill="none" stroke="#000" stroke-width="1.75" stroke-linejoin="round"/>
<path d="M311.4 1860.5 L311.4 1860.8 311.4 1863.4 311.4 1866 311.5 1868.6 311.5 1871.2 311.6 1873.8 311.6 1876.4 311.7 1879 311.8 1881.6 311.9 1884.2 312 1886.8 312.2 1889.4 312.7 1892 313.1 1894.6 313.6 1897.2 314.1 1899.8 314.7 1902.4 315.3 1905 315.9 1907.6 316.6 1910.2 317.4 1912.8 318.2 1915.4 319 1918 319.8 1920.6 320.4 1923.2 321 1925.8 321.5 1928.4 322 1931 322.5 1933.6 323 1936.2 323.5 1938.8 323.8 1941.4 324.1 1944 324.3 1946.6 324.4 1949.2 324.4 1951.8 324.2 1954.4 324.1 1957 323.9 1959.6 323.6 1962.2 323.3 1964.8 323 1967.4 322.4 1970 321.7 1972.6 321 1975.2 320.2 1977.8 319.4 1980.4 318.7 1983 318.2 1985.6 317.7 1988.2 317.2 1990.8 316.7 1993.4 316.3 1996 315.9 1998.6 315.5 2001.2 315.2 2003.8 315 2006.4 314.8 2009 314.6 2011.6 314.4 2014.2 314.3 2016.8 314.1 2019.4 314 2022 314 2024.6 313.9 2027.2 313.9 2029.8 313.9 2032.4 313.8 2035 313.8 2037.6 313.8 2040.2 313.8 2042.8 313.8 2045.4 313.8 2048 313.8 2050.6 313.8 2053.2 313.8 2055.8 313.8 2058.4 313.8 2061 313.8 2063.6 313.8 2066.2 313.9 2068.8 313.9 2071.4 314 2074 314 2076.6 314.1 2079.2 314.2 2081.8 314.5 2084.4 314.9 2087 315.3 2089.6 315.8 2092.2 316.3 2094.8 316.8 2097.4 317.2 2100 317.6 2102.6 318 2105.2 318.5 2107.8 319 2110.4 319.6 2113 320.6 2115.6 321.8 2118.2 323.2 2120.8 324.7 2123.4 326.2 2126 327.7 2128.6 329.1 2131.2 330.6 2133.8 332.1 2136.4 333.6 2139 335 2141.6 336.4 2144.2 337.8 2146.8 339.2 2149.4 340.6 2152 341.8 2154.6 342.9 2157.2 343.8 2159.8 344.7 2162.4 345.4 2165 346 2167.6 346.7 2170.2 347.3 2172.8 347.9 2175.4 348.4 2178 348.7 2180.6 348.8 2183.2 348.7 2185.8 348.3 2188.4 347.8 2191 347.2 2193.6 346.5 2196.2 345.7 2198.8 344.7 2201.4 343.5 2204 342.1 2206.6 340.6 2209.2 339 2211.8 337.3 2214.4 335.7 2217 334 2219.6 332.2 2222.2 330.3 2224.8 328.5 2227.4 326.8 2230 325.1 2232.6 323.7 2235.2 322.4 2237.8 321.2 2240.4 320 2243 319 2245.6 317.9 2248.2 317 2250.8 316.2 2253.4 315.4 2256 314.8 2258.6 314.1 2261.2 313.6 2263.8 313.1 2266.4 312.7 2269 312.4 2271.6 312.2 2274.2 312 2276.8 311.8 2279.4 311.7 2282 311.6 2284.6 311.5 2287.2 311.5 2289.8 311.4 2292.4 311.4 2295 311.4 2295.6 311.4 2295.6 311.4 2295.6 311.4 2295 311.4 2292.4 311.3 2289.8 311.3 2287.2 311.2 2284.6 311.1 2282 311 2279.4 310.8 2276.8 310.6 2274.2 310.4 2271.6 310.1 2269 309.7 2266.4 309.2 2263.8 308.7 2261.2 308 2258.6 307.4 2256 306.6 2253.4 305.8 2250.8 304.9 2248.2 303.8 2245.6 302.8 2243 301.6 2240.4 300.4 2237.8 299.1 2235.2 297.7 2232.6 296 2230 294.3 2227.4 292.5 2224.8 290.6 2222.2 288.8 2219.6 287.1 2217 285.5 2214.4 283.8 2211.8 282.2 2209.2 280.7 2206.6 279.3 2204 278.1 2201.4 277.1 2198.8 276.3 2196.2 275.6 2193.6 275 2191 274.5 2188.4 274.1 2185.8 274 2183.2 274.1 2180.6 274.4 2178 274.9 2175.4 275.5 2172.8 276.1 2170.2 276.8 2167.6 277.4 2165 278.1 2162.4 279 2159.8 279.9 2157.2 281 2154.6 282.2 2152 283.6 2149.4 285 2146.8 286.4 2144.2 287.8 2141.6 289.2 2139 290.7 2136.4 292.2 2133.8 293.7 2131.2 295.1 2128.6 296.6 2126 298.1 2123.4 299.6 2120.8 301 2118.2 302.2 2115.6 303.2 2113 303.8 2110.4 304.3 2107.8 304.8 2105.2 305.2 2102.6 305.6 2100 306 2097.4 306.5 2094.8 307 2092.2 307.5 2089.6 307.9 2087 308.3 2084.4 308.6 2081.8 308.7 2079.2 308.8 2076.6 308.8 2074 308.9 2071.4 308.9 2068.8 309 2066.2 309 2063.6 309 2061 309 2058.4 309 2055.8 309 2053.2 309 2050.6 309 2048 309 2045.4 309 2042.8 309 2040.2 309 2037.6 309 2035 308.9 2032.4 308.9 2029.8 308.9 2027.2 308.8 2024.6 308.8 2022 308.7 2019.4 308.5 2016.8 308.4 2014.2 308.2 2011.6 308 2009 307.8 2006.4 307.6 2003.8 307.3 2001.2 306.9 1998.6 306.5 1996 306.1 1993.4 305.6 1990.8 305.1 1988.2 304.6 1985.6 304.1 1983 303.4 1980.4 302.6 1977.8 301.8 1975.2 301.1 1972.6 300.4 1970 299.8 1967.4 299.5 1964.8 299.2 1962.2 298.9 1959.6 298.7 1957 298.6 1954.4 298.4 1951.8 298.4 1949.2 298.5 1946.6 298.7 1944 299 1941.4 299.3 1938.8 299.8 1936.2 300.3 1933.6 300.8 1931 301.3 1928.4 301.8 1925.8 302.4 1923.2 303 1920.6 303.8 1918 304.6 1915.4 305.4 1912.8 306.2 1910.2 306.9 1907.6 307.5 1905 308.1 1902.4 308.7 1899.8 309.2 1897.2 309.7 1894.6 310.1 1892 310.6 1889.4 310.8 1886.8 310.9 1884.2 311 1881.6 311.1 1879 311.2 1876.4 311.2 1873.8 311.3 1871.2 311.3 1868.6 311.4 1866 311.4 1863.4 311.4 1860.8Z" fill="#ffe0e0" stroke="none"/>
<g><line x1="281.51" y1="2203.1" x2="342.69" y2="2203.1" stroke="#000" stroke-width="3.4" stroke-linecap="round" stroke-dasharray="3.2 5.6"/><line x1="305.9" y1="2112.5" x2="318.3" y2="2112.5" stroke="#000" stroke-width="3.4" stroke-linecap="round" stroke-dasharray="3.2 5.6"/><line x1="278.7" y1="2166.3" x2="344.1" y2="2166.3" stroke="#000" stroke-width="4.4"/></g>
<g fill="#c8cbcb" fill-opacity="0.93"><circle cx="311.4" cy="1948.5" r="3.7"/><circle cx="311.4" cy="1960.4" r="3.7"/><circle cx="311.4" cy="1965.1" r="3.7"/><circle cx="311.4" cy="1969.8" r="3.7"/><circle cx="311.4" cy="1974.5" r="3.7"/><circle cx="311.4" cy="1979.2" r="3.7"/><circle cx="311.4" cy="1997.3" r="3.7"/><circle cx="311.4" cy="2002.37" r="3.7"/><circle cx="311.4" cy="2007.43" r="3.7"/><circle cx="311.4" cy="2012.5" r="3.7"/><circle cx="311.4" cy="2019.8" r="3.7"/><circle cx="311.4" cy="2024.6" r="3.7"/><circle cx="311.4" cy="2029.4" r="3.7"/><circle cx="311.4" cy="2034.2" r="3.7"/><circle cx="311.4" cy="2044.4" r="3.7"/><circle cx="311.4" cy="2054.5" r="3.7"/><circle cx="311.4" cy="2064.6" r="3.7"/><circle cx="311.4" cy="2095" r="3.7"/><circle cx="311.4" cy="2099.33" r="3.7"/><circle cx="311.4" cy="2103.67" r="3.7"/><circle cx="311.4" cy="2108" r="3.7"/><circle cx="311.4" cy="2116.8" r="3.7"/><circle cx="311.4" cy="2121.15" r="3.7"/><circle cx="311.4" cy="2125.5" r="3.7"/><circle cx="311.4" cy="2133" r="3.7"/><circle cx="311.4" cy="2137.12" r="3.7"/><circle cx="311.4" cy="2141.24" r="3.7"/><circle cx="311.4" cy="2145.37" r="3.7"/><circle cx="311.4" cy="2149.49" r="3.7"/><circle cx="311.4" cy="2153.61" r="3.7"/><circle cx="311.4" cy="2157.73" r="3.7"/><circle cx="311.4" cy="2161.86" r="3.7"/><circle cx="311.4" cy="2165.98" r="3.7"/><circle cx="311.4" cy="2170.1" r="3.7"/><circle cx="311.4" cy="2174.22" r="3.7"/><circle cx="311.4" cy="2178.34" r="3.7"/><circle cx="311.4" cy="2182.47" r="3.7"/><circle cx="311.4" cy="2186.59" r="3.7"/><circle cx="311.4" cy="2190.71" r="3.7"/><circle cx="311.4" cy="2194.83" r="3.7"/><circle cx="311.4" cy="2198.96" r="3.7"/><circle cx="311.4" cy="2203.08" r="3.7"/><circle cx="311.4" cy="2207.2" r="3.7"/></g>
<path d="M311.4 1860.5 L311.4 1860.8 311.4 1863.4 311.4 1866 311.5 1868.6 311.5 1871.2 311.6 1873.8 311.6 1876.4 311.7 1879 311.8 1881.6 311.9 1884.2 312 1886.8 312.2 1889.4 312.7 1892 313.1 1894.6 313.6 1897.2 314.1 1899.8 314.7 1902.4 315.3 1905 315.9 1907.6 316.6 1910.2 317.4 1912.8 318.2 1915.4 319 1918 319.8 1920.6 320.4 1923.2 321 1925.8 321.5 1928.4 322 1931 322.5 1933.6 323 1936.2 323.5 1938.8 323.8 1941.4 324.1 1944 324.3 1946.6 324.4 1949.2 324.4 1951.8 324.2 1954.4 324.1 1957 323.9 1959.6 323.6 1962.2 323.3 1964.8 323 1967.4 322.4 1970 321.7 1972.6 321 1975.2 320.2 1977.8 319.4 1980.4 318.7 1983 318.2 1985.6 317.7 1988.2 317.2 1990.8 316.7 1993.4 316.3 1996 315.9 1998.6 315.5 2001.2 315.2 2003.8 315 2006.4 314.8 2009 314.6 2011.6 314.4 2014.2 314.3 2016.8 314.1 2019.4 314 2022 314 2024.6 313.9 2027.2 313.9 2029.8 313.9 2032.4 313.8 2035 313.8 2037.6 313.8 2040.2 313.8 2042.8 313.8 2045.4 313.8 2048 313.8 2050.6 313.8 2053.2 313.8 2055.8 313.8 2058.4 313.8 2061 313.8 2063.6 313.8 2066.2 313.9 2068.8 313.9 2071.4 314 2074 314 2076.6 314.1 2079.2 314.2 2081.8 314.5 2084.4 314.9 2087 315.3 2089.6 315.8 2092.2 316.3 2094.8 316.8 2097.4 317.2 2100 317.6 2102.6 318 2105.2 318.5 2107.8 319 2110.4 319.6 2113 320.6 2115.6 321.8 2118.2 323.2 2120.8 324.7 2123.4 326.2 2126 327.7 2128.6 329.1 2131.2 330.6 2133.8 332.1 2136.4 333.6 2139 335 2141.6 336.4 2144.2 337.8 2146.8 339.2 2149.4 340.6 2152 341.8 2154.6 342.9 2157.2 343.8 2159.8 344.7 2162.4 345.4 2165 346 2167.6 346.7 2170.2 347.3 2172.8 347.9 2175.4 348.4 2178 348.7 2180.6 348.8 2183.2 348.7 2185.8 348.3 2188.4 347.8 2191 347.2 2193.6 346.5 2196.2 345.7 2198.8 344.7 2201.4 343.5 2204 342.1 2206.6 340.6 2209.2 339 2211.8 337.3 2214.4 335.7 2217 334 2219.6 332.2 2222.2 330.3 2224.8 328.5 2227.4 326.8 2230 325.1 2232.6 323.7 2235.2 322.4 2237.8 321.2 2240.4 320 2243 319 2245.6 317.9 2248.2 317 2250.8 316.2 2253.4 315.4 2256 314.8 2258.6 314.1 2261.2 313.6 2263.8 313.1 2266.4 312.7 2269 312.4 2271.6 312.2 2274.2 312 2276.8 311.8 2279.4 311.7 2282 311.6 2284.6 311.5 2287.2 311.5 2289.8 311.4 2292.4 311.4 2295 311.4 2295.6 311.4 2295.6 311.4 2295.6 311.4 2295 311.4 2292.4 311.3 2289.8 311.3 2287.2 311.2 2284.6 311.1 2282 311 2279.4 310.8 2276.8 310.6 2274.2 310.4 2271.6 310.1 2269 309.7 2266.4 309.2 2263.8 308.7 2261.2 308 2258.6 307.4 2256 306.6 2253.4 305.8 2250.8 304.9 2248.2 303.8 2245.6 302.8 2243 301.6 2240.4 300.4 2237.8 299.1 2235.2 297.7 2232.6 296 2230 294.3 2227.4 292.5 2224.8 290.6 2222.2 288.8 2219.6 287.1 2217 285.5 2214.4 283.8 2211.8 282.2 2209.2 280.7 2206.6 279.3 2204 278.1 2201.4 277.1 2198.8 276.3 2196.2 275.6 2193.6 275 2191 274.5 2188.4 274.1 2185.8 274 2183.2 274.1 2180.6 274.4 2178 274.9 2175.4 275.5 2172.8 276.1 2170.2 276.8 2167.6 277.4 2165 278.1 2162.4 279 2159.8 279.9 2157.2 281 2154.6 282.2 2152 283.6 2149.4 285 2146.8 286.4 2144.2 287.8 2141.6 289.2 2139 290.7 2136.4 292.2 2133.8 293.7 2131.2 295.1 2128.6 296.6 2126 298.1 2123.4 299.6 2120.8 301 2118.2 302.2 2115.6 303.2 2113 303.8 2110.4 304.3 2107.8 304.8 2105.2 305.2 2102.6 305.6 2100 306 2097.4 306.5 2094.8 307 2092.2 307.5 2089.6 307.9 2087 308.3 2084.4 308.6 2081.8 308.7 2079.2 308.8 2076.6 308.8 2074 308.9 2071.4 308.9 2068.8 309 2066.2 309 2063.6 309 2061 309 2058.4 309 2055.8 309 2053.2 309 2050.6 309 2048 309 2045.4 309 2042.8 309 2040.2 309 2037.6 309 2035 308.9 2032.4 308.9 2029.8 308.9 2027.2 308.8 2024.6 308.8 2022 308.7 2019.4 308.5 2016.8 308.4 2014.2 308.2 2011.6 308 2009 307.8 2006.4 307.6 2003.8 307.3 2001.2 306.9 1998.6 306.5 1996 306.1 1993.4 305.6 1990.8 305.1 1988.2 304.6 1985.6 304.1 1983 303.4 1980.4 302.6 1977.8 301.8 1975.2 301.1 1972.6 300.4 1970 299.8 1967.4 299.5 1964.8 299.2 1962.2 298.9 1959.6 298.7 1957 298.6 1954.4 298.4 1951.8 298.4 1949.2 298.5 1946.6 298.7 1944 299 1941.4 299.3 1938.8 299.8 1936.2 300.3 1933.6 300.8 1931 301.3 1928.4 301.8 1925.8 302.4 1923.2 303 1920.6 303.8 1918 304.6 1915.4 305.4 1912.8 306.2 1910.2 306.9 1907.6 307.5 1905 308.1 1902.4 308.7 1899.8 309.2 1897.2 309.7 1894.6 310.1 1892 310.6 1889.4 310.8 1886.8 310.9 1884.2 311 1881.6 311.1 1879 311.2 1876.4 311.2 1873.8 311.3 1871.2 311.3 1868.6 311.4 1866 311.4 1863.4 311.4 1860.8Z" fill="none" stroke="#000" stroke-width="1.75" stroke-linejoin="round"/>
<path d="M425.7 1847.2 L425.7 1847.5 425.7 1850.1 425.7 1852.7 425.7 1855.3 425.7 1857.9 425.8 1860.5 425.8 1863.1 425.9 1865.7 425.9 1868.3 426 1870.9 426 1873.5 426.1 1876.1 426.2 1878.7 426.2 1881.3 426.4 1883.9 426.7 1886.5 427.1 1889.1 427.6 1891.7 428.2 1894.3 428.7 1896.9 429.3 1899.5 430 1902.1 430.6 1904.7 431.2 1907.3 431.9 1909.9 432.6 1912.5 433.2 1915.1 433.9 1917.7 434.5 1920.3 435.1 1922.9 435.6 1925.5 436 1928.1 436.4 1930.7 436.9 1933.3 437.3 1935.9 437.7 1938.5 438 1941.1 438.3 1943.7 438.4 1946.3 438.5 1948.9 438.5 1951.5 438.4 1954.1 438.2 1956.7 438 1959.3 437.8 1961.9 437.5 1964.5 437.3 1967.1 436.8 1969.7 436.3 1972.3 435.8 1974.9 435.2 1977.5 434.5 1980.1 433.9 1982.7 433.3 1985.3 432.8 1987.9 432.1 1990.5 431.5 1993.1 430.9 1995.7 430.2 1998.3 429.7 2000.9 429.1 2003.5 428.6 2006.1 428.2 2008.7 427.7 2011.3 427.3 2013.9 426.9 2016.5 426.6 2019.1 426.5 2021.7 426.4 2024.3 426.2 2026.9 426.2 2029.5 426.2 2032.1 426.2 2034.7 426.2 2037.3 426.2 2039.9 426.2 2042.5 426.2 2045.1 426.2 2047.7 426.2 2050.3 426.2 2052.9 426.2 2055.5 426.2 2058.1 426.2 2060.7 426.2 2063.3 426.3 2065.9 426.4 2068.5 426.6 2071.1 426.7 2073.7 426.9 2076.3 427.1 2078.9 427.3 2081.5 427.5 2084.1 427.8 2086.7 428.1 2089.3 428.4 2091.9 428.8 2094.5 429.3 2097.1 429.8 2099.7 430.4 2102.3 431.3 2104.9 432.2 2107.5 433.2 2110.1 434.3 2112.7 435.4 2115.3 436.5 2117.9 437.6 2120.5 438.8 2123.1 439.9 2125.7 441.2 2128.3 442.4 2130.9 443.6 2133.5 444.9 2136.1 446.2 2138.7 447.4 2141.3 448.7 2143.9 450 2146.5 451.3 2149.1 452.6 2151.7 453.8 2154.3 454.9 2156.9 455.8 2159.5 456.8 2162.1 457.7 2164.7 458.6 2167.3 459.4 2169.9 460.1 2172.5 460.8 2175.1 461.3 2177.7 461.8 2180.3 462.3 2182.9 462.7 2185.5 462.9 2188.1 462.8 2190.7 462.6 2193.3 462.2 2195.9 461.6 2198.5 460.9 2201.1 460.2 2203.7 459.4 2206.3 458.5 2208.9 457.3 2211.5 455.9 2214.1 454.2 2216.7 452.5 2219.3 450.7 2221.9 449.1 2224.5 447.6 2227.1 446.1 2229.7 444.6 2232.3 443.1 2234.9 441.7 2237.5 440.2 2240.1 438.9 2242.7 437.6 2245.3 436.4 2247.9 435.2 2250.5 434 2253.1 432.9 2255.7 431.9 2258.3 430.9 2260.9 430.1 2263.5 429.4 2266.1 428.7 2268.7 428.1 2271.3 427.6 2273.9 427.1 2276.5 426.8 2279.1 426.5 2281.7 426.4 2284.3 426.2 2286.9 426.1 2289.5 426.1 2292.1 426 2294.7 425.9 2297.3 425.8 2299.9 425.8 2302.5 425.7 2305.1 425.7 2307.7 425.7 2309.3 425.7 2309.3 425.7 2309.3 425.7 2307.7 425.7 2305.1 425.6 2302.5 425.6 2299.9 425.5 2297.3 425.4 2294.7 425.3 2292.1 425.3 2289.5 425.2 2286.9 425 2284.3 424.9 2281.7 424.6 2279.1 424.3 2276.5 423.8 2273.9 423.3 2271.3 422.7 2268.7 422 2266.1 421.3 2263.5 420.5 2260.9 419.5 2258.3 418.5 2255.7 417.4 2253.1 416.2 2250.5 415 2247.9 413.8 2245.3 412.5 2242.7 411.2 2240.1 409.7 2237.5 408.3 2234.9 406.8 2232.3 405.3 2229.7 403.8 2227.1 402.3 2224.5 400.7 2221.9 398.9 2219.3 397.2 2216.7 395.5 2214.1 394.1 2211.5 392.9 2208.9 392 2206.3 391.2 2203.7 390.5 2201.1 389.8 2198.5 389.2 2195.9 388.8 2193.3 388.6 2190.7 388.5 2188.1 388.7 2185.5 389.1 2182.9 389.6 2180.3 390.1 2177.7 390.6 2175.1 391.3 2172.5 392 2169.9 392.8 2167.3 393.7 2164.7 394.6 2162.1 395.6 2159.5 396.5 2156.9 397.6 2154.3 398.8 2151.7 400.1 2149.1 401.4 2146.5 402.7 2143.9 404 2141.3 405.2 2138.7 406.5 2136.1 407.8 2133.5 409 2130.9 410.2 2128.3 411.5 2125.7 412.6 2123.1 413.8 2120.5 414.9 2117.9 416 2115.3 417.1 2112.7 418.2 2110.1 419.2 2107.5 420.1 2104.9 421 2102.3 421.6 2099.7 422.1 2097.1 422.6 2094.5 423 2091.9 423.3 2089.3 423.6 2086.7 423.9 2084.1 424.1 2081.5 424.3 2078.9 424.5 2076.3 424.7 2073.7 424.8 2071.1 425 2068.5 425.1 2065.9 425.2 2063.3 425.2 2060.7 425.2 2058.1 425.2 2055.5 425.2 2052.9 425.2 2050.3 425.2 2047.7 425.2 2045.1 425.2 2042.5 425.2 2039.9 425.2 2037.3 425.2 2034.7 425.2 2032.1 425.2 2029.5 425.2 2026.9 425 2024.3 424.9 2021.7 424.8 2019.1 424.5 2016.5 424.1 2013.9 423.7 2011.3 423.2 2008.7 422.8 2006.1 422.3 2003.5 421.7 2000.9 421.2 1998.3 420.5 1995.7 419.9 1993.1 419.3 1990.5 418.6 1987.9 418.1 1985.3 417.5 1982.7 416.9 1980.1 416.2 1977.5 415.6 1974.9 415.1 1972.3 414.6 1969.7 414.1 1967.1 413.9 1964.5 413.6 1961.9 413.4 1959.3 413.2 1956.7 413 1954.1 412.9 1951.5 412.9 1948.9 413 1946.3 413.1 1943.7 413.4 1941.1 413.7 1938.5 414.1 1935.9 414.5 1933.3 415 1930.7 415.4 1928.1 415.8 1925.5 416.3 1922.9 416.9 1920.3 417.5 1917.7 418.2 1915.1 418.8 1912.5 419.5 1909.9 420.2 1907.3 420.8 1904.7 421.4 1902.1 422.1 1899.5 422.7 1896.9 423.2 1894.3 423.8 1891.7 424.3 1889.1 424.7 1886.5 425 1883.9 425.2 1881.3 425.2 1878.7 425.3 1876.1 425.4 1873.5 425.4 1870.9 425.5 1868.3 425.5 1865.7 425.6 1863.1 425.6 1860.5 425.7 1857.9 425.7 1855.3 425.7 1852.7 425.7 1850.1 425.7 1847.5Z" fill="#ff8080" stroke="none"/>
<g><line x1="395.03" y1="2207.6" x2="457.77" y2="2207.6" stroke="#000" stroke-width="3.4" stroke-linecap="round" stroke-dasharray="3.2 5.6"/><line x1="406.8" y1="2140.9" x2="446" y2="2140.9" stroke="#000" stroke-width="3.4" stroke-linecap="round" stroke-dasharray="3.2 5.6"/><line x1="391.6" y1="2178" x2="459.8" y2="2178" stroke="#000" stroke-width="4.4"/></g>
<g fill="#c8cbcb" fill-opacity="0.93"><circle cx="425.7" cy="1948.6" r="3.7"/><circle cx="425.7" cy="1963" r="3.7"/><circle cx="425.7" cy="2139.5" r="3.7"/><circle cx="425.7" cy="2147" r="3.7"/><circle cx="425.7" cy="2157" r="3.7"/><circle cx="425.7" cy="2165" r="3.7"/><circle cx="425.7" cy="2172" r="3.7"/><circle cx="425.7" cy="2190" r="3.7"/><circle cx="425.7" cy="2196" r="3.7"/><circle cx="425.7" cy="2207.3" r="3.7"/></g>
<path d="M425.7 1847.2 L425.7 1847.5 425.7 1850.1 425.7 1852.7 425.7 1855.3 425.7 1857.9 425.8 1860.5 425.8 1863.1 425.9 1865.7 425.9 1868.3 426 1870.9 426 1873.5 426.1 1876.1 426.2 1878.7 426.2 1881.3 426.4 1883.9 426.7 1886.5 427.1 1889.1 427.6 1891.7 428.2 1894.3 428.7 1896.9 429.3 1899.5 430 1902.1 430.6 1904.7 431.2 1907.3 431.9 1909.9 432.6 1912.5 433.2 1915.1 433.9 1917.7 434.5 1920.3 435.1 1922.9 435.6 1925.5 436 1928.1 436.4 1930.7 436.9 1933.3 437.3 1935.9 437.7 1938.5 438 1941.1 438.3 1943.7 438.4 1946.3 438.5 1948.9 438.5 1951.5 438.4 1954.1 438.2 1956.7 438 1959.3 437.8 1961.9 437.5 1964.5 437.3 1967.1 436.8 1969.7 436.3 1972.3 435.8 1974.9 435.2 1977.5 434.5 1980.1 433.9 1982.7 433.3 1985.3 432.8 1987.9 432.1 1990.5 431.5 1993.1 430.9 1995.7 430.2 1998.3 429.7 2000.9 429.1 2003.5 428.6 2006.1 428.2 2008.7 427.7 2011.3 427.3 2013.9 426.9 2016.5 426.6 2019.1 426.5 2021.7 426.4 2024.3 426.2 2026.9 426.2 2029.5 426.2 2032.1 426.2 2034.7 426.2 2037.3 426.2 2039.9 426.2 2042.5 426.2 2045.1 426.2 2047.7 426.2 2050.3 426.2 2052.9 426.2 2055.5 426.2 2058.1 426.2 2060.7 426.2 2063.3 426.3 2065.9 426.4 2068.5 426.6 2071.1 426.7 2073.7 426.9 2076.3 427.1 2078.9 427.3 2081.5 427.5 2084.1 427.8 2086.7 428.1 2089.3 428.4 2091.9 428.8 2094.5 429.3 2097.1 429.8 2099.7 430.4 2102.3 431.3 2104.9 432.2 2107.5 433.2 2110.1 434.3 2112.7 435.4 2115.3 436.5 2117.9 437.6 2120.5 438.8 2123.1 439.9 2125.7 441.2 2128.3 442.4 2130.9 443.6 2133.5 444.9 2136.1 446.2 2138.7 447.4 2141.3 448.7 2143.9 450 2146.5 451.3 2149.1 452.6 2151.7 453.8 2154.3 454.9 2156.9 455.8 2159.5 456.8 2162.1 457.7 2164.7 458.6 2167.3 459.4 2169.9 460.1 2172.5 460.8 2175.1 461.3 2177.7 461.8 2180.3 462.3 2182.9 462.7 2185.5 462.9 2188.1 462.8 2190.7 462.6 2193.3 462.2 2195.9 461.6 2198.5 460.9 2201.1 460.2 2203.7 459.4 2206.3 458.5 2208.9 457.3 2211.5 455.9 2214.1 454.2 2216.7 452.5 2219.3 450.7 2221.9 449.1 2224.5 447.6 2227.1 446.1 2229.7 444.6 2232.3 443.1 2234.9 441.7 2237.5 440.2 2240.1 438.9 2242.7 437.6 2245.3 436.4 2247.9 435.2 2250.5 434 2253.1 432.9 2255.7 431.9 2258.3 430.9 2260.9 430.1 2263.5 429.4 2266.1 428.7 2268.7 428.1 2271.3 427.6 2273.9 427.1 2276.5 426.8 2279.1 426.5 2281.7 426.4 2284.3 426.2 2286.9 426.1 2289.5 426.1 2292.1 426 2294.7 425.9 2297.3 425.8 2299.9 425.8 2302.5 425.7 2305.1 425.7 2307.7 425.7 2309.3 425.7 2309.3 425.7 2309.3 425.7 2307.7 425.7 2305.1 425.6 2302.5 425.6 2299.9 425.5 2297.3 425.4 2294.7 425.3 2292.1 425.3 2289.5 425.2 2286.9 425 2284.3 424.9 2281.7 424.6 2279.1 424.3 2276.5 423.8 2273.9 423.3 2271.3 422.7 2268.7 422 2266.1 421.3 2263.5 420.5 2260.9 419.5 2258.3 418.5 2255.7 417.4 2253.1 416.2 2250.5 415 2247.9 413.8 2245.3 412.5 2242.7 411.2 2240.1 409.7 2237.5 408.3 2234.9 406.8 2232.3 405.3 2229.7 403.8 2227.1 402.3 2224.5 400.7 2221.9 398.9 2219.3 397.2 2216.7 395.5 2214.1 394.1 2211.5 392.9 2208.9 392 2206.3 391.2 2203.7 390.5 2201.1 389.8 2198.5 389.2 2195.9 388.8 2193.3 388.6 2190.7 388.5 2188.1 388.7 2185.5 389.1 2182.9 389.6 2180.3 390.1 2177.7 390.6 2175.1 391.3 2172.5 392 2169.9 392.8 2167.3 393.7 2164.7 394.6 2162.1 395.6 2159.5 396.5 2156.9 397.6 2154.3 398.8 2151.7 400.1 2149.1 401.4 2146.5 402.7 2143.9 404 2141.3 405.2 2138.7 406.5 2136.1 407.8 2133.5 409 2130.9 410.2 2128.3 411.5 2125.7 412.6 2123.1 413.8 2120.5 414.9 2117.9 416 2115.3 417.1 2112.7 418.2 2110.1 419.2 2107.5 420.1 2104.9 421 2102.3 421.6 2099.7 422.1 2097.1 422.6 2094.5 423 2091.9 423.3 2089.3 423.6 2086.7 423.9 2084.1 424.1 2081.5 424.3 2078.9 424.5 2076.3 424.7 2073.7 424.8 2071.1 425 2068.5 425.1 2065.9 425.2 2063.3 425.2 2060.7 425.2 2058.1 425.2 2055.5 425.2 2052.9 425.2 2050.3 425.2 2047.7 425.2 2045.1 425.2 2042.5 425.2 2039.9 425.2 2037.3 425.2 2034.7 425.2 2032.1 425.2 2029.5 425.2 2026.9 425 2024.3 424.9 2021.7 424.8 2019.1 424.5 2016.5 424.1 2013.9 423.7 2011.3 423.2 2008.7 422.8 2006.1 422.3 2003.5 421.7 2000.9 421.2 1998.3 420.5 1995.7 419.9 1993.1 419.3 1990.5 418.6 1987.9 418.1 1985.3 417.5 1982.7 416.9 1980.1 416.2 1977.5 415.6 1974.9 415.1 1972.3 414.6 1969.7 414.1 1967.1 413.9 1964.5 413.6 1961.9 413.4 1959.3 413.2 1956.7 413 1954.1 412.9 1951.5 412.9 1948.9 413 1946.3 413.1 1943.7 413.4 1941.1 413.7 1938.5 414.1 1935.9 414.5 1933.3 415 1930.7 415.4 1928.1 415.8 1925.5 416.3 1922.9 416.9 1920.3 417.5 1917.7 418.2 1915.1 418.8 1912.5 419.5 1909.9 420.2 1907.3 420.8 1904.7 421.4 1902.1 422.1 1899.5 422.7 1896.9 423.2 1894.3 423.8 1891.7 424.3 1889.1 424.7 1886.5 425 1883.9 425.2 1881.3 425.2 1878.7 425.3 1876.1 425.4 1873.5 425.4 1870.9 425.5 1868.3 425.5 1865.7 425.6 1863.1 425.6 1860.5 425.7 1857.9 425.7 1855.3 425.7 1852.7 425.7 1850.1 425.7 1847.5Z" fill="none" stroke="#000" stroke-width="1.75" stroke-linejoin="round"/>
<path d="M540.5 1776.3 L540.5 1776.6 540.5 1779.2 540.5 1781.8 540.5 1784.4 540.5 1787 540.5 1789.6 540.6 1792.2 540.6 1794.8 540.6 1797.4 540.6 1800 540.7 1802.6 540.7 1805.2 540.7 1807.8 540.8 1810.4 540.8 1813 540.9 1815.6 541 1818.2 541 1820.8 541.1 1823.4 541.2 1826 541.4 1828.6 541.8 1831.2 542.1 1833.8 542.4 1836.4 542.8 1839 543.1 1841.6 543.5 1844.2 543.9 1846.8 544.3 1849.4 544.8 1852 545.3 1854.6 545.8 1857.2 546.3 1859.8 546.9 1862.4 547.4 1865 548 1867.6 548.6 1870.2 549.3 1872.8 550 1875.4 550.7 1878 551.4 1880.6 552.2 1883.2 552.9 1885.8 553.7 1888.4 554.6 1891 555.4 1893.6 556.3 1896.2 557.2 1898.8 558.1 1901.4 558.9 1904 559.7 1906.6 560.4 1909.2 561.1 1911.8 561.8 1914.4 562.5 1917 563.1 1919.6 563.6 1922.2 564.1 1924.8 564.4 1927.4 564.8 1930 565.1 1932.6 565.5 1935.2 565.8 1937.8 566.1 1940.4 566.3 1943 566.4 1945.6 566.5 1948.2 566.5 1950.8 566.5 1953.4 566.4 1956 566.4 1958.6 566.3 1961.2 566.2 1963.8 566.1 1966.4 565.9 1969 565.5 1971.6 565.1 1974.2 564.6 1976.8 564 1979.4 563.5 1982 563 1984.6 562.5 1987.2 562 1989.8 561.5 1992.4 560.9 1995 560.4 1997.6 559.9 2000.2 559.4 2002.8 558.9 2005.4 558.4 2008 557.9 2010.6 557.4 2013.2 556.9 2015.8 556.5 2018.4 556.1 2021 555.8 2023.6 555.6 2026.2 555.3 2028.8 555.1 2031.4 554.9 2034 554.8 2036.6 554.7 2039.2 554.7 2041.8 554.9 2044.4 555.1 2047 555.4 2049.6 555.7 2052.2 556 2054.8 556.4 2057.4 556.8 2060 557.2 2062.6 557.8 2065.2 558.4 2067.8 559.1 2070.4 559.8 2073 560.5 2075.6 561.2 2078.2 561.9 2080.8 562.6 2083.4 563.4 2086 564.1 2088.6 564.8 2091.2 565.6 2093.8 566.3 2096.4 567 2099 567.6 2101.6 568.3 2104.2 568.9 2106.8 569.6 2109.4 570.2 2112 570.8 2114.6 571.5 2117.2 572 2119.8 572.6 2122.4 573.2 2125 573.8 2127.6 574.4 2130.2 575 2132.8 575.6 2135.4 576 2138 576.4 2140.6 576.6 2143.2 576.8 2145.8 577 2148.4 577.2 2151 577.4 2153.6 577.5 2156.2 577.5 2158.8 577.5 2161.4 577.3 2164 577.1 2166.6 576.8 2169.2 576.4 2171.8 576 2174.4 575.6 2177 575.2 2179.6 574.7 2182.2 574.1 2184.8 573.5 2187.4 572.8 2190 572.1 2192.6 571.3 2195.2 570.6 2197.8 569.8 2200.4 568.9 2203 568 2205.6 567.1 2208.2 566.2 2210.8 565.2 2213.4 564.3 2216 563.4 2218.6 562.4 2221.2 561.5 2223.8 560.5 2226.4 559.5 2229 558.6 2231.6 557.6 2234.2 556.8 2236.8 555.9 2239.4 555 2242 554.2 2244.6 553.3 2247.2 552.5 2249.8 551.7 2252.4 551 2255 550.3 2257.6 549.6 2260.2 548.9 2262.8 548.3 2265.4 547.7 2268 547.1 2270.6 546.5 2273.2 546.1 2275.8 545.6 2278.4 545.1 2281 544.7 2283.6 544.3 2286.2 543.9 2288.8 543.6 2291.4 543.3 2294 543 2296.6 542.7 2299.2 542.5 2301.8 542.2 2304.4 542 2307 541.8 2309.6 541.6 2312.2 541.5 2314.8 541.3 2317.4 541.2 2320 541.1 2322.6 541 2325.2 541 2327.8 540.9 2330.4 540.9 2333 540.8 2335.6 540.8 2338.2 540.8 2340.8 540.7 2343.4 540.7 2346 540.7 2348.6 540.6 2351.2 540.6 2353.8 540.6 2356.4 540.6 2359 540.6 2361.6 540.5 2364.2 540.5 2366.8 540.5 2369.4 540.5 2372 540.5 2374.6 540.5 2377.2 540.5 2379.4 540.5 2379.4 540.5 2379.4 540.5 2377.2 540.5 2374.6 540.5 2372 540.5 2369.4 540.5 2366.8 540.5 2364.2 540.4 2361.6 540.4 2359 540.4 2356.4 540.4 2353.8 540.4 2351.2 540.3 2348.6 540.3 2346 540.3 2343.4 540.2 2340.8 540.2 2338.2 540.2 2335.6 540.1 2333 540.1 2330.4 540 2327.8 540 2325.2 539.9 2322.6 539.8 2320 539.7 2317.4 539.5 2314.8 539.4 2312.2 539.2 2309.6 539 2307 538.8 2304.4 538.5 2301.8 538.3 2299.2 538 2296.6 537.7 2294 537.4 2291.4 537.1 2288.8 536.7 2286.2 536.3 2283.6 535.9 2281 535.4 2278.4 534.9 2275.8 534.5 2273.2 533.9 2270.6 533.3 2268 532.7 2265.4 532.1 2262.8 531.4 2260.2 530.7 2257.6 530 2255 529.3 2252.4 528.5 2249.8 527.7 2247.2 526.8 2244.6 526 2242 525.1 2239.4 524.2 2236.8 523.4 2234.2 522.4 2231.6 521.5 2229 520.5 2226.4 519.5 2223.8 518.6 2221.2 517.6 2218.6 516.7 2216 515.8 2213.4 514.8 2210.8 513.9 2208.2 513 2205.6 512.1 2203 511.2 2200.4 510.4 2197.8 509.7 2195.2 508.9 2192.6 508.2 2190 507.5 2187.4 506.9 2184.8 506.3 2182.2 505.8 2179.6 505.4 2177 505 2174.4 504.6 2171.8 504.2 2169.2 503.9 2166.6 503.7 2164 503.5 2161.4 503.5 2158.8 503.5 2156.2 503.6 2153.6 503.8 2151 504 2148.4 504.2 2145.8 504.4 2143.2 504.6 2140.6 505 2138 505.4 2135.4 506 2132.8 506.6 2130.2 507.2 2127.6 507.8 2125 508.4 2122.4 509 2119.8 509.5 2117.2 510.2 2114.6 510.8 2112 511.4 2109.4 512.1 2106.8 512.7 2104.2 513.4 2101.6 514 2099 514.7 2096.4 515.4 2093.8 516.2 2091.2 516.9 2088.6 517.6 2086 518.4 2083.4 519.1 2080.8 519.8 2078.2 520.5 2075.6 521.2 2073 521.9 2070.4 522.6 2067.8 523.2 2065.2 523.8 2062.6 524.2 2060 524.6 2057.4 525 2054.8 525.3 2052.2 525.6 2049.6 525.9 2047 526.1 2044.4 526.3 2041.8 526.3 2039.2 526.2 2036.6 526.1 2034 525.9 2031.4 525.7 2028.8 525.4 2026.2 525.2 2023.6 524.9 2021 524.5 2018.4 524.1 2015.8 523.6 2013.2 523.1 2010.6 522.6 2008 522.1 2005.4 521.6 2002.8 521.1 2000.2 520.6 1997.6 520.1 1995 519.5 1992.4 519 1989.8 518.5 1987.2 518 1984.6 517.5 1982 517 1979.4 516.4 1976.8 515.9 1974.2 515.5 1971.6 515.1 1969 514.9 1966.4 514.8 1963.8 514.7 1961.2 514.6 1958.6 514.6 1956 514.5 1953.4 514.5 1950.8 514.5 1948.2 514.6 1945.6 514.7 1943 514.9 1940.4 515.2 1937.8 515.5 1935.2 515.9 1932.6 516.2 1930 516.6 1927.4 516.9 1924.8 517.4 1922.2 517.9 1919.6 518.5 1917 519.2 1914.4 519.9 1911.8 520.6 1909.2 521.3 1906.6 522.1 1904 522.9 1901.4 523.8 1898.8 524.7 1896.2 525.6 1893.6 526.4 1891 527.3 1888.4 528.1 1885.8 528.8 1883.2 529.6 1880.6 530.3 1878 531 1875.4 531.7 1872.8 532.4 1870.2 533 1867.6 533.6 1865 534.1 1862.4 534.7 1859.8 535.2 1857.2 535.7 1854.6 536.2 1852 536.7 1849.4 537.1 1846.8 537.5 1844.2 537.9 1841.6 538.2 1839 538.6 1836.4 538.9 1833.8 539.2 1831.2 539.6 1828.6 539.8 1826 539.9 1823.4 540 1820.8 540 1818.2 540.1 1815.6 540.2 1813 540.2 1810.4 540.3 1807.8 540.3 1805.2 540.3 1802.6 540.4 1800 540.4 1797.4 540.4 1794.8 540.4 1792.2 540.5 1789.6 540.5 1787 540.5 1784.4 540.5 1781.8 540.5 1779.2 540.5 1776.6Z" fill="#f94040" stroke="none"/>
<g><line x1="506.54" y1="2166.7" x2="575.86" y2="2166.7" stroke="#000" stroke-width="3.4" stroke-linecap="round" stroke-dasharray="3.2 5.6"/><line x1="517.1" y1="1948.8" x2="565.3" y2="1948.8" stroke="#000" stroke-width="3.4" stroke-linecap="round" stroke-dasharray="3.2 5.6"/><line x1="509.93" y1="2122.6" x2="571.07" y2="2122.6" stroke="#000" stroke-width="4.4"/></g>
<g fill="#c8cbcb" fill-opacity="0.93"><circle cx="540.5" cy="1948.8" r="3.7"/><circle cx="540.5" cy="1970.5" r="3.7"/><circle cx="540.5" cy="1975" r="3.7"/><circle cx="540.5" cy="2033.2" r="3.7"/><circle cx="540.5" cy="2055.4" r="3.7"/><circle cx="540.5" cy="2065.9" r="3.7"/><circle cx="540.5" cy="2081.5" r="3.7"/><circle cx="540.5" cy="2109.6" r="3.7"/><circle cx="540.5" cy="2119.1" r="3.7"/><circle cx="540.5" cy="2122.5" r="3.7"/><circle cx="540.5" cy="2126" r="3.7"/><circle cx="540.5" cy="2130.3" r="3.7"/><circle cx="540.5" cy="2140.4" r="3.7"/><circle cx="540.5" cy="2150.2" r="3.7"/><circle cx="540.5" cy="2154.67" r="3.7"/><circle cx="540.5" cy="2159.13" r="3.7"/><circle cx="540.5" cy="2163.6" r="3.7"/><circle cx="540.5" cy="2168.07" r="3.7"/><circle cx="540.5" cy="2172.53" r="3.7"/><circle cx="540.5" cy="2177" r="3.7"/><circle cx="540.5" cy="2184.6" r="3.7"/><circle cx="540.5" cy="2207" r="3.7"/></g>
<path d="M540.5 1776.3 L540.5 1776.6 540.5 1779.2 540.5 1781.8 540.5 1784.4 540.5 1787 540.5 1789.6 540.6 1792.2 540.6 1794.8 540.6 1797.4 540.6 1800 540.7 1802.6 540.7 1805.2 540.7 1807.8 540.8 1810.4 540.8 1813 540.9 1815.6 541 1818.2 541 1820.8 541.1 1823.4 541.2 1826 541.4 1828.6 541.8 1831.2 542.1 1833.8 542.4 1836.4 542.8 1839 543.1 1841.6 543.5 1844.2 543.9 1846.8 544.3 1849.4 544.8 1852 545.3 1854.6 545.8 1857.2 546.3 1859.8 546.9 1862.4 547.4 1865 548 1867.6 548.6 1870.2 549.3 1872.8 550 1875.4 550.7 1878 551.4 1880.6 552.2 1883.2 552.9 1885.8 553.7 1888.4 554.6 1891 555.4 1893.6 556.3 1896.2 557.2 1898.8 558.1 1901.4 558.9 1904 559.7 1906.6 560.4 1909.2 561.1 1911.8 561.8 1914.4 562.5 1917 563.1 1919.6 563.6 1922.2 564.1 1924.8 564.4 1927.4 564.8 1930 565.1 1932.6 565.5 1935.2 565.8 1937.8 566.1 1940.4 566.3 1943 566.4 1945.6 566.5 1948.2 566.5 1950.8 566.5 1953.4 566.4 1956 566.4 1958.6 566.3 1961.2 566.2 1963.8 566.1 1966.4 565.9 1969 565.5 1971.6 565.1 1974.2 564.6 1976.8 564 1979.4 563.5 1982 563 1984.6 562.5 1987.2 562 1989.8 561.5 1992.4 560.9 1995 560.4 1997.6 559.9 2000.2 559.4 2002.8 558.9 2005.4 558.4 2008 557.9 2010.6 557.4 2013.2 556.9 2015.8 556.5 2018.4 556.1 2021 555.8 2023.6 555.6 2026.2 555.3 2028.8 555.1 2031.4 554.9 2034 554.8 2036.6 554.7 2039.2 554.7 2041.8 554.9 2044.4 555.1 2047 555.4 2049.6 555.7 2052.2 556 2054.8 556.4 2057.4 556.8 2060 557.2 2062.6 557.8 2065.2 558.4 2067.8 559.1 2070.4 559.8 2073 560.5 2075.6 561.2 2078.2 561.9 2080.8 562.6 2083.4 563.4 2086 564.1 2088.6 564.8 2091.2 565.6 2093.8 566.3 2096.4 567 2099 567.6 2101.6 568.3 2104.2 568.9 2106.8 569.6 2109.4 570.2 2112 570.8 2114.6 571.5 2117.2 572 2119.8 572.6 2122.4 573.2 2125 573.8 2127.6 574.4 2130.2 575 2132.8 575.6 2135.4 576 2138 576.4 2140.6 576.6 2143.2 576.8 2145.8 577 2148.4 577.2 2151 577.4 2153.6 577.5 2156.2 577.5 2158.8 577.5 2161.4 577.3 2164 577.1 2166.6 576.8 2169.2 576.4 2171.8 576 2174.4 575.6 2177 575.2 2179.6 574.7 2182.2 574.1 2184.8 573.5 2187.4 572.8 2190 572.1 2192.6 571.3 2195.2 570.6 2197.8 569.8 2200.4 568.9 2203 568 2205.6 567.1 2208.2 566.2 2210.8 565.2 2213.4 564.3 2216 563.4 2218.6 562.4 2221.2 561.5 2223.8 560.5 2226.4 559.5 2229 558.6 2231.6 557.6 2234.2 556.8 2236.8 555.9 2239.4 555 2242 554.2 2244.6 553.3 2247.2 552.5 2249.8 551.7 2252.4 551 2255 550.3 2257.6 549.6 2260.2 548.9 2262.8 548.3 2265.4 547.7 2268 547.1 2270.6 546.5 2273.2 546.1 2275.8 545.6 2278.4 545.1 2281 544.7 2283.6 544.3 2286.2 543.9 2288.8 543.6 2291.4 543.3 2294 543 2296.6 542.7 2299.2 542.5 2301.8 542.2 2304.4 542 2307 541.8 2309.6 541.6 2312.2 541.5 2314.8 541.3 2317.4 541.2 2320 541.1 2322.6 541 2325.2 541 2327.8 540.9 2330.4 540.9 2333 540.8 2335.6 540.8 2338.2 540.8 2340.8 540.7 2343.4 540.7 2346 540.7 2348.6 540.6 2351.2 540.6 2353.8 540.6 2356.4 540.6 2359 540.6 2361.6 540.5 2364.2 540.5 2366.8 540.5 2369.4 540.5 2372 540.5 2374.6 540.5 2377.2 540.5 2379.4 540.5 2379.4 540.5 2379.4 540.5 2377.2 540.5 2374.6 540.5 2372 540.5 2369.4 540.5 2366.8 540.5 2364.2 540.4 2361.6 540.4 2359 540.4 2356.4 540.4 2353.8 540.4 2351.2 540.3 2348.6 540.3 2346 540.3 2343.4 540.2 2340.8 540.2 2338.2 540.2 2335.6 540.1 2333 540.1 2330.4 540 2327.8 540 2325.2 539.9 2322.6 539.8 2320 539.7 2317.4 539.5 2314.8 539.4 2312.2 539.2 2309.6 539 2307 538.8 2304.4 538.5 2301.8 538.3 2299.2 538 2296.6 537.7 2294 537.4 2291.4 537.1 2288.8 536.7 2286.2 536.3 2283.6 535.9 2281 535.4 2278.4 534.9 2275.8 534.5 2273.2 533.9 2270.6 533.3 2268 532.7 2265.4 532.1 2262.8 531.4 2260.2 530.7 2257.6 530 2255 529.3 2252.4 528.5 2249.8 527.7 2247.2 526.8 2244.6 526 2242 525.1 2239.4 524.2 2236.8 523.4 2234.2 522.4 2231.6 521.5 2229 520.5 2226.4 519.5 2223.8 518.6 2221.2 517.6 2218.6 516.7 2216 515.8 2213.4 514.8 2210.8 513.9 2208.2 513 2205.6 512.1 2203 511.2 2200.4 510.4 2197.8 509.7 2195.2 508.9 2192.6 508.2 2190 507.5 2187.4 506.9 2184.8 506.3 2182.2 505.8 2179.6 505.4 2177 505 2174.4 504.6 2171.8 504.2 2169.2 503.9 2166.6 503.7 2164 503.5 2161.4 503.5 2158.8 503.5 2156.2 503.6 2153.6 503.8 2151 504 2148.4 504.2 2145.8 504.4 2143.2 504.6 2140.6 505 2138 505.4 2135.4 506 2132.8 506.6 2130.2 507.2 2127.6 507.8 2125 508.4 2122.4 509 2119.8 509.5 2117.2 510.2 2114.6 510.8 2112 511.4 2109.4 512.1 2106.8 512.7 2104.2 513.4 2101.6 514 2099 514.7 2096.4 515.4 2093.8 516.2 2091.2 516.9 2088.6 517.6 2086 518.4 2083.4 519.1 2080.8 519.8 2078.2 520.5 2075.6 521.2 2073 521.9 2070.4 522.6 2067.8 523.2 2065.2 523.8 2062.6 524.2 2060 524.6 2057.4 525 2054.8 525.3 2052.2 525.6 2049.6 525.9 2047 526.1 2044.4 526.3 2041.8 526.3 2039.2 526.2 2036.6 526.1 2034 525.9 2031.4 525.7 2028.8 525.4 2026.2 525.2 2023.6 524.9 2021 524.5 2018.4 524.1 2015.8 523.6 2013.2 523.1 2010.6 522.6 2008 522.1 2005.4 521.6 2002.8 521.1 2000.2 520.6 1997.6 520.1 1995 519.5 1992.4 519 1989.8 518.5 1987.2 518 1984.6 517.5 1982 517 1979.4 516.4 1976.8 515.9 1974.2 515.5 1971.6 515.1 1969 514.9 1966.4 514.8 1963.8 514.7 1961.2 514.6 1958.6 514.6 1956 514.5 1953.4 514.5 1950.8 514.5 1948.2 514.6 1945.6 514.7 1943 514.9 1940.4 515.2 1937.8 515.5 1935.2 515.9 1932.6 516.2 1930 516.6 1927.4 516.9 1924.8 517.4 1922.2 517.9 1919.6 518.5 1917 519.2 1914.4 519.9 1911.8 520.6 1909.2 521.3 1906.6 522.1 1904 522.9 1901.4 523.8 1898.8 524.7 1896.2 525.6 1893.6 526.4 1891 527.3 1888.4 528.1 1885.8 528.8 1883.2 529.6 1880.6 530.3 1878 531 1875.4 531.7 1872.8 532.4 1870.2 533 1867.6 533.6 1865 534.1 1862.4 534.7 1859.8 535.2 1857.2 535.7 1854.6 536.2 1852 536.7 1849.4 537.1 1846.8 537.5 1844.2 537.9 1841.6 538.2 1839 538.6 1836.4 538.9 1833.8 539.2 1831.2 539.6 1828.6 539.8 1826 539.9 1823.4 540 1820.8 540 1818.2 540.1 1815.6 540.2 1813 540.2 1810.4 540.3 1807.8 540.3 1805.2 540.3 1802.6 540.4 1800 540.4 1797.4 540.4 1794.8 540.4 1792.2 540.5 1789.6 540.5 1787 540.5 1784.4 540.5 1781.8 540.5 1779.2 540.5 1776.6Z" fill="none" stroke="#000" stroke-width="1.75" stroke-linejoin="round"/>
<path d="M655.1 1741.5 L655.1 1741.8 655.1 1744.4 655.1 1747 655.1 1749.6 655.2 1752.2 655.2 1754.8 655.2 1757.4 655.3 1760 655.3 1762.6 655.3 1765.2 655.4 1767.8 655.5 1770.4 655.5 1773 655.6 1775.6 655.7 1778.2 655.8 1780.8 655.9 1783.4 656.2 1786 656.4 1788.6 656.7 1791.2 657 1793.8 657.3 1796.4 657.6 1799 658 1801.6 658.4 1804.2 658.8 1806.8 659.2 1809.4 659.6 1812 660 1814.6 660.4 1817.2 660.9 1819.8 661.3 1822.4 661.8 1825 662.2 1827.6 662.7 1830.2 663.2 1832.8 663.8 1835.4 664.3 1838 664.9 1840.6 665.4 1843.2 666 1845.8 666.6 1848.4 667.2 1851 667.9 1853.6 668.5 1856.2 669.2 1858.8 669.9 1861.4 670.6 1864 671.3 1866.6 672 1869.2 672.6 1871.8 673.4 1874.4 674.1 1877 674.8 1879.6 675.5 1882.2 676.2 1884.8 676.9 1887.4 677.6 1890 678.3 1892.6 679.1 1895.2 679.8 1897.8 680.5 1900.4 681.2 1903 681.8 1905.6 682.4 1908.2 683 1910.8 683.6 1913.4 684.1 1916 684.7 1918.6 685.1 1921.2 685.6 1923.8 686 1926.4 686.4 1929 686.8 1931.6 687.2 1934.2 687.6 1936.8 687.9 1939.4 688.2 1942 688.4 1944.6 688.6 1947.2 688.6 1949.8 688.6 1952.4 688.6 1955 688.6 1957.6 688.6 1960.2 688.6 1962.8 688.6 1965.4 688.5 1968 688.3 1970.6 688 1973.2 687.7 1975.8 687.3 1978.4 686.9 1981 686.5 1983.6 686.2 1986.2 685.8 1988.8 685.3 1991.4 684.9 1994 684.4 1996.6 683.9 1999.2 683.4 2001.8 683 2004.4 682.5 2007 681.9 2009.6 681.4 2012.2 680.9 2014.8 680.3 2017.4 679.8 2020 679.4 2022.6 679 2025.2 678.6 2027.8 678.2 2030.4 677.8 2033 677.5 2035.6 677.2 2038.2 676.9 2040.8 676.7 2043.4 676.5 2046 676.4 2048.6 676.2 2051.2 676.1 2053.8 676 2056.4 676 2059 676 2061.6 676.1 2064.2 676.3 2066.8 676.5 2069.4 676.7 2072 677 2074.6 677.3 2077.2 677.6 2079.8 677.9 2082.4 678.3 2085 678.8 2087.6 679.3 2090.2 679.8 2092.8 680.4 2095.4 680.9 2098 681.5 2100.6 682 2103.2 682.6 2105.8 683.2 2108.4 683.9 2111 684.5 2113.6 685 2116.2 685.6 2118.8 686.2 2121.4 686.7 2124 687.3 2126.6 687.8 2129.2 688.3 2131.8 688.8 2134.4 689.3 2137 689.7 2139.6 690 2142.2 690.4 2144.8 690.8 2147.4 691.1 2150 691.4 2152.6 691.6 2155.2 691.8 2157.8 692 2160.4 692.1 2163 692.2 2165.6 692.3 2168.2 692.3 2170.8 692.2 2173.4 692 2176 691.7 2178.6 691.4 2181.2 691.1 2183.8 690.7 2186.4 690.4 2189 689.9 2191.6 689.4 2194.2 688.8 2196.8 688.1 2199.4 687.3 2202 686.6 2204.6 685.8 2207.2 685.1 2209.8 684.4 2212.4 683.6 2215 682.8 2217.6 682 2220.2 681.2 2222.8 680.4 2225.4 679.6 2228 678.8 2230.6 678 2233.2 677.2 2235.8 676.4 2238.4 675.6 2241 674.8 2243.6 674.1 2246.2 673.3 2248.8 672.5 2251.4 671.8 2254 671.1 2256.6 670.4 2259.2 669.6 2261.8 668.9 2264.4 668.3 2267 667.6 2269.6 667 2272.2 666.3 2274.8 665.8 2277.4 665.2 2280 664.6 2282.6 664.1 2285.2 663.5 2287.8 663 2290.4 662.6 2293 662.1 2295.6 661.7 2298.2 661.3 2300.8 661 2303.4 660.6 2306 660.3 2308.6 660 2311.2 659.6 2313.8 659.3 2316.4 659 2319 658.7 2321.6 658.4 2324.2 658.1 2326.8 657.9 2329.4 657.6 2332 657.4 2334.6 657.2 2337.2 657.1 2339.8 656.9 2342.4 656.8 2345 656.6 2347.6 656.5 2350.2 656.3 2352.8 656.2 2355.4 656.1 2358 655.9 2360.6 655.8 2363.2 655.7 2365.8 655.6 2368.4 655.5 2371 655.4 2373.6 655.4 2376.2 655.3 2378.8 655.2 2381.4 655.2 2384 655.1 2386.6 655.1 2387.4 655.1 2387.4 655.1 2387.4 655.1 2386.6 655 2384 655 2381.4 654.9 2378.8 654.8 2376.2 654.8 2373.6 654.7 2371 654.6 2368.4 654.5 2365.8 654.4 2363.2 654.3 2360.6 654.1 2358 654 2355.4 653.9 2352.8 653.7 2350.2 653.6 2347.6 653.4 2345 653.3 2342.4 653.1 2339.8 653 2337.2 652.8 2334.6 652.6 2332 652.3 2329.4 652.1 2326.8 651.8 2324.2 651.5 2321.6 651.2 2319 650.9 2316.4 650.6 2313.8 650.2 2311.2 649.9 2308.6 649.6 2306 649.2 2303.4 648.9 2300.8 648.5 2298.2 648.1 2295.6 647.6 2293 647.2 2290.4 646.7 2287.8 646.1 2285.2 645.6 2282.6 645 2280 644.4 2277.4 643.9 2274.8 643.2 2272.2 642.6 2269.6 641.9 2267 641.3 2264.4 640.6 2261.8 639.8 2259.2 639.1 2256.6 638.4 2254 637.7 2251.4 636.9 2248.8 636.1 2246.2 635.4 2243.6 634.6 2241 633.8 2238.4 633 2235.8 632.2 2233.2 631.4 2230.6 630.6 2228 629.8 2225.4 629 2222.8 628.2 2220.2 627.4 2217.6 626.6 2215 625.8 2212.4 625.1 2209.8 624.4 2207.2 623.6 2204.6 622.9 2202 622.1 2199.4 621.4 2196.8 620.8 2194.2 620.3 2191.6 619.8 2189 619.5 2186.4 619.1 2183.8 618.8 2181.2 618.5 2178.6 618.2 2176 618 2173.4 617.9 2170.8 617.9 2168.2 618 2165.6 618.1 2163 618.2 2160.4 618.4 2157.8 618.6 2155.2 618.8 2152.6 619.1 2150 619.4 2147.4 619.8 2144.8 620.2 2142.2 620.5 2139.6 620.9 2137 621.4 2134.4 621.9 2131.8 622.4 2129.2 622.9 2126.6 623.5 2124 624 2121.4 624.6 2118.8 625.2 2116.2 625.7 2113.6 626.3 2111 627 2108.4 627.6 2105.8 628.2 2103.2 628.7 2100.6 629.3 2098 629.8 2095.4 630.4 2092.8 630.9 2090.2 631.4 2087.6 631.9 2085 632.3 2082.4 632.6 2079.8 632.9 2077.2 633.2 2074.6 633.5 2072 633.7 2069.4 633.9 2066.8 634.1 2064.2 634.2 2061.6 634.2 2059 634.2 2056.4 634.1 2053.8 634 2051.2 633.8 2048.6 633.7 2046 633.5 2043.4 633.3 2040.8 633 2038.2 632.7 2035.6 632.4 2033 632 2030.4 631.6 2027.8 631.2 2025.2 630.8 2022.6 630.4 2020 629.9 2017.4 629.3 2014.8 628.8 2012.2 628.3 2009.6 627.7 2007 627.2 2004.4 626.8 2001.8 626.3 1999.2 625.8 1996.6 625.3 1994 624.9 1991.4 624.4 1988.8 624 1986.2 623.7 1983.6 623.3 1981 622.9 1978.4 622.5 1975.8 622.2 1973.2 621.9 1970.6 621.7 1968 621.6 1965.4 621.6 1962.8 621.6 1960.2 621.6 1957.6 621.6 1955 621.6 1952.4 621.6 1949.8 621.6 1947.2 621.8 1944.6 622 1942 622.3 1939.4 622.6 1936.8 623 1934.2 623.4 1931.6 623.8 1929 624.2 1926.4 624.6 1923.8 625.1 1921.2 625.5 1918.6 626.1 1916 626.6 1913.4 627.2 1910.8 627.8 1908.2 628.4 1905.6 629 1903 629.7 1900.4 630.4 1897.8 631.1 1895.2 631.9 1892.6 632.6 1890 633.3 1887.4 634 1884.8 634.7 1882.2 635.4 1879.6 636.1 1877 636.8 1874.4 637.6 1871.8 638.2 1869.2 638.9 1866.6 639.6 1864 640.3 1861.4 641 1858.8 641.7 1856.2 642.3 1853.6 643 1851 643.6 1848.4 644.2 1845.8 644.8 1843.2 645.3 1840.6 645.9 1838 646.4 1835.4 647 1832.8 647.5 1830.2 648 1827.6 648.4 1825 648.9 1822.4 649.3 1819.8 649.8 1817.2 650.2 1814.6 650.6 1812 651 1809.4 651.4 1806.8 651.8 1804.2 652.2 1801.6 652.6 1799 652.9 1796.4 653.2 1793.8 653.5 1791.2 653.8 1788.6 654 1786 654.3 1783.4 654.4 1780.8 654.5 1778.2 654.6 1775.6 654.7 1773 654.7 1770.4 654.8 1767.8 654.9 1765.2 654.9 1762.6 654.9 1760 655 1757.4 655 1754.8 655 1752.2 655.1 1749.6 655.1 1747 655.1 1744.4 655.1 1741.8Z" fill="#ff0000" stroke="none"/>
<g><line x1="620.5" y1="2168.9" x2="691.1" y2="2168.9" stroke="#000" stroke-width="3.4" stroke-linecap="round" stroke-dasharray="3.2 5.6"/><line x1="624.2" y1="1948.8" x2="687.4" y2="1948.8" stroke="#000" stroke-width="3.4" stroke-linecap="round" stroke-dasharray="3.2 5.6"/><line x1="620.57" y1="2151" x2="689.63" y2="2151" stroke="#000" stroke-width="4.4"/></g>
<g fill="#c8cbcb" fill-opacity="0.93"><circle cx="655.1" cy="1948.8" r="3.7"/><circle cx="655.1" cy="1957.2" r="3.7"/><circle cx="655.1" cy="1995.8" r="3.7"/><circle cx="655.1" cy="2150.7" r="3.7"/><circle cx="655.1" cy="2156" r="3.7"/><circle cx="655.1" cy="2162" r="3.7"/><circle cx="655.1" cy="2168" r="3.7"/><circle cx="655.1" cy="2173.5" r="3.7"/><circle cx="655.1" cy="2190.4" r="3.7"/><circle cx="655.1" cy="2207.4" r="3.7"/></g>
<path d="M655.1 1741.5 L655.1 1741.8 655.1 1744.4 655.1 1747 655.1 1749.6 655.2 1752.2 655.2 1754.8 655.2 1757.4 655.3 1760 655.3 1762.6 655.3 1765.2 655.4 1767.8 655.5 1770.4 655.5 1773 655.6 1775.6 655.7 1778.2 655.8 1780.8 655.9 1783.4 656.2 1786 656.4 1788.6 656.7 1791.2 657 1793.8 657.3 1796.4 657.6 1799 658 1801.6 658.4 1804.2 658.8 1806.8 659.2 1809.4 659.6 1812 660 1814.6 660.4 1817.2 660.9 1819.8 661.3 1822.4 661.8 1825 662.2 1827.6 662.7 1830.2 663.2 1832.8 663.8 1835.4 664.3 1838 664.9 1840.6 665.4 1843.2 666 1845.8 666.6 1848.4 667.2 1851 667.9 1853.6 668.5 1856.2 669.2 1858.8 669.9 1861.4 670.6 1864 671.3 1866.6 672 1869.2 672.6 1871.8 673.4 1874.4 674.1 1877 674.8 1879.6 675.5 1882.2 676.2 1884.8 676.9 1887.4 677.6 1890 678.3 1892.6 679.1 1895.2 679.8 1897.8 680.5 1900.4 681.2 1903 681.8 1905.6 682.4 1908.2 683 1910.8 683.6 1913.4 684.1 1916 684.7 1918.6 685.1 1921.2 685.6 1923.8 686 1926.4 686.4 1929 686.8 1931.6 687.2 1934.2 687.6 1936.8 687.9 1939.4 688.2 1942 688.4 1944.6 688.6 1947.2 688.6 1949.8 688.6 1952.4 688.6 1955 688.6 1957.6 688.6 1960.2 688.6 1962.8 688.6 1965.4 688.5 1968 688.3 1970.6 688 1973.2 687.7 1975.8 687.3 1978.4 686.9 1981 686.5 1983.6 686.2 1986.2 685.8 1988.8 685.3 1991.4 684.9 1994 684.4 1996.6 683.9 1999.2 683.4 2001.8 683 2004.4 682.5 2007 681.9 2009.6 681.4 2012.2 680.9 2014.8 680.3 2017.4 679.8 2020 679.4 2022.6 679 2025.2 678.6 2027.8 678.2 2030.4 677.8 2033 677.5 2035.6 677.2 2038.2 676.9 2040.8 676.7 2043.4 676.5 2046 676.4 2048.6 676.2 2051.2 676.1 2053.8 676 2056.4 676 2059 676 2061.6 676.1 2064.2 676.3 2066.8 676.5 2069.4 676.7 2072 677 2074.6 677.3 2077.2 677.6 2079.8 677.9 2082.4 678.3 2085 678.8 2087.6 679.3 2090.2 679.8 2092.8 680.4 2095.4 680.9 2098 681.5 2100.6 682 2103.2 682.6 2105.8 683.2 2108.4 683.9 2111 684.5 2113.6 685 2116.2 685.6 2118.8 686.2 2121.4 686.7 2124 687.3 2126.6 687.8 2129.2 688.3 2131.8 688.8 2134.4 689.3 2137 689.7 2139.6 690 2142.2 690.4 2144.8 690.8 2147.4 691.1 2150 691.4 2152.6 691.6 2155.2 691.8 2157.8 692 2160.4 692.1 2163 692.2 2165.6 692.3 2168.2 692.3 2170.8 692.2 2173.4 692 2176 691.7 2178.6 691.4 2181.2 691.1 2183.8 690.7 2186.4 690.4 2189 689.9 2191.6 689.4 2194.2 688.8 2196.8 688.1 2199.4 687.3 2202 686.6 2204.6 685.8 2207.2 685.1 2209.8 684.4 2212.4 683.6 2215 682.8 2217.6 682 2220.2 681.2 2222.8 680.4 2225.4 679.6 2228 678.8 2230.6 678 2233.2 677.2 2235.8 676.4 2238.4 675.6 2241 674.8 2243.6 674.1 2246.2 673.3 2248.8 672.5 2251.4 671.8 2254 671.1 2256.6 670.4 2259.2 669.6 2261.8 668.9 2264.4 668.3 2267 667.6 2269.6 667 2272.2 666.3 2274.8 665.8 2277.4 665.2 2280 664.6 2282.6 664.1 2285.2 663.5 2287.8 663 2290.4 662.6 2293 662.1 2295.6 661.7 2298.2 661.3 2300.8 661 2303.4 660.6 2306 660.3 2308.6 660 2311.2 659.6 2313.8 659.3 2316.4 659 2319 658.7 2321.6 658.4 2324.2 658.1 2326.8 657.9 2329.4 657.6 2332 657.4 2334.6 657.2 2337.2 657.1 2339.8 656.9 2342.4 656.8 2345 656.6 2347.6 656.5 2350.2 656.3 2352.8 656.2 2355.4 656.1 2358 655.9 2360.6 655.8 2363.2 655.7 2365.8 655.6 2368.4 655.5 2371 655.4 2373.6 655.4 2376.2 655.3 2378.8 655.2 2381.4 655.2 2384 655.1 2386.6 655.1 2387.4 655.1 2387.4 655.1 2387.4 655.1 2386.6 655 2384 655 2381.4 654.9 2378.8 654.8 2376.2 654.8 2373.6 654.7 2371 654.6 2368.4 654.5 2365.8 654.4 2363.2 654.3 2360.6 654.1 2358 654 2355.4 653.9 2352.8 653.7 2350.2 653.6 2347.6 653.4 2345 653.3 2342.4 653.1 2339.8 653 2337.2 652.8 2334.6 652.6 2332 652.3 2329.4 652.1 2326.8 651.8 2324.2 651.5 2321.6 651.2 2319 650.9 2316.4 650.6 2313.8 650.2 2311.2 649.9 2308.6 649.6 2306 649.2 2303.4 648.9 2300.8 648.5 2298.2 648.1 2295.6 647.6 2293 647.2 2290.4 646.7 2287.8 646.1 2285.2 645.6 2282.6 645 2280 644.4 2277.4 643.9 2274.8 643.2 2272.2 642.6 2269.6 641.9 2267 641.3 2264.4 640.6 2261.8 639.8 2259.2 639.1 2256.6 638.4 2254 637.7 2251.4 636.9 2248.8 636.1 2246.2 635.4 2243.6 634.6 2241 633.8 2238.4 633 2235.8 632.2 2233.2 631.4 2230.6 630.6 2228 629.8 2225.4 629 2222.8 628.2 2220.2 627.4 2217.6 626.6 2215 625.8 2212.4 625.1 2209.8 624.4 2207.2 623.6 2204.6 622.9 2202 622.1 2199.4 621.4 2196.8 620.8 2194.2 620.3 2191.6 619.8 2189 619.5 2186.4 619.1 2183.8 618.8 2181.2 618.5 2178.6 618.2 2176 618 2173.4 617.9 2170.8 617.9 2168.2 618 2165.6 618.1 2163 618.2 2160.4 618.4 2157.8 618.6 2155.2 618.8 2152.6 619.1 2150 619.4 2147.4 619.8 2144.8 620.2 2142.2 620.5 2139.6 620.9 2137 621.4 2134.4 621.9 2131.8 622.4 2129.2 622.9 2126.6 623.5 2124 624 2121.4 624.6 2118.8 625.2 2116.2 625.7 2113.6 626.3 2111 627 2108.4 627.6 2105.8 628.2 2103.2 628.7 2100.6 629.3 2098 629.8 2095.4 630.4 2092.8 630.9 2090.2 631.4 2087.6 631.9 2085 632.3 2082.4 632.6 2079.8 632.9 2077.2 633.2 2074.6 633.5 2072 633.7 2069.4 633.9 2066.8 634.1 2064.2 634.2 2061.6 634.2 2059 634.2 2056.4 634.1 2053.8 634 2051.2 633.8 2048.6 633.7 2046 633.5 2043.4 633.3 2040.8 633 2038.2 632.7 2035.6 632.4 2033 632 2030.4 631.6 2027.8 631.2 2025.2 630.8 2022.6 630.4 2020 629.9 2017.4 629.3 2014.8 628.8 2012.2 628.3 2009.6 627.7 2007 627.2 2004.4 626.8 2001.8 626.3 1999.2 625.8 1996.6 625.3 1994 624.9 1991.4 624.4 1988.8 624 1986.2 623.7 1983.6 623.3 1981 622.9 1978.4 622.5 1975.8 622.2 1973.2 621.9 1970.6 621.7 1968 621.6 1965.4 621.6 1962.8 621.6 1960.2 621.6 1957.6 621.6 1955 621.6 1952.4 621.6 1949.8 621.6 1947.2 621.8 1944.6 622 1942 622.3 1939.4 622.6 1936.8 623 1934.2 623.4 1931.6 623.8 1929 624.2 1926.4 624.6 1923.8 625.1 1921.2 625.5 1918.6 626.1 1916 626.6 1913.4 627.2 1910.8 627.8 1908.2 628.4 1905.6 629 1903 629.7 1900.4 630.4 1897.8 631.1 1895.2 631.9 1892.6 632.6 1890 633.3 1887.4 634 1884.8 634.7 1882.2 635.4 1879.6 636.1 1877 636.8 1874.4 637.6 1871.8 638.2 1869.2 638.9 1866.6 639.6 1864 640.3 1861.4 641 1858.8 641.7 1856.2 642.3 1853.6 643 1851 643.6 1848.4 644.2 1845.8 644.8 1843.2 645.3 1840.6 645.9 1838 646.4 1835.4 647 1832.8 647.5 1830.2 648 1827.6 648.4 1825 648.9 1822.4 649.3 1819.8 649.8 1817.2 650.2 1814.6 650.6 1812 651 1809.4 651.4 1806.8 651.8 1804.2 652.2 1801.6 652.6 1799 652.9 1796.4 653.2 1793.8 653.5 1791.2 653.8 1788.6 654 1786 654.3 1783.4 654.4 1780.8 654.5 1778.2 654.6 1775.6 654.7 1773 654.7 1770.4 654.8 1767.8 654.9 1765.2 654.9 1762.6 654.9 1760 655 1757.4 655 1754.8 655 1752.2 655.1 1749.6 655.1 1747 655.1 1744.4 655.1 1741.8Z" fill="none" stroke="#000" stroke-width="1.75" stroke-linejoin="round"/>
<path d="M769.6 1741.5 L769.6 1741.8 769.6 1744.4 769.6 1747 769.6 1749.6 769.6 1752.2 769.7 1754.8 769.7 1757.4 769.7 1760 769.8 1762.6 769.8 1765.2 769.9 1767.8 769.9 1770.4 770 1773 770 1775.6 770.1 1778.2 770.2 1780.8 770.2 1783.4 770.3 1786 770.5 1788.6 770.6 1791.2 770.8 1793.8 771 1796.4 771.3 1799 771.6 1801.6 771.9 1804.2 772.3 1806.8 772.7 1809.4 773 1812 773.4 1814.6 773.9 1817.2 774.3 1819.8 774.8 1822.4 775.3 1825 775.8 1827.6 776.4 1830.2 777.1 1832.8 777.8 1835.4 778.5 1838 779.3 1840.6 780.1 1843.2 780.9 1845.8 781.7 1848.4 782.5 1851 783.3 1853.6 784.2 1856.2 785 1858.8 785.9 1861.4 786.8 1864 787.6 1866.6 788.5 1869.2 789.3 1871.8 790.2 1874.4 791.1 1877 791.9 1879.6 792.7 1882.2 793.5 1884.8 794.3 1887.4 795.1 1890 795.8 1892.6 796.5 1895.2 797.3 1897.8 797.9 1900.4 798.6 1903 799.2 1905.6 799.8 1908.2 800.4 1910.8 801 1913.4 801.6 1916 802.1 1918.6 802.6 1921.2 803.1 1923.8 803.5 1926.4 803.9 1929 804.2 1931.6 804.6 1934.2 804.9 1936.8 805.2 1939.4 805.5 1942 805.8 1944.6 806 1947.2 806.1 1949.8 806.3 1952.4 806.4 1955 806.5 1957.6 806.5 1960.2 806.4 1962.8 806.3 1965.4 806.2 1968 806 1970.6 805.7 1973.2 805.5 1975.8 805.2 1978.4 804.9 1981 804.6 1983.6 804.3 1986.2 803.9 1988.8 803.5 1991.4 803 1994 802.4 1996.6 801.9 1999.2 801.4 2001.8 800.9 2004.4 800.4 2007 799.9 2009.6 799.4 2012.2 798.9 2014.8 798.5 2017.4 798 2020 797.6 2022.6 797.2 2025.2 796.7 2027.8 796.3 2030.4 795.9 2033 795.5 2035.6 795.2 2038.2 794.9 2040.8 794.7 2043.4 794.6 2046 794.5 2048.6 794.4 2051.2 794.3 2053.8 794.2 2056.4 794.2 2059 794.2 2061.6 794.4 2064.2 794.6 2066.8 794.9 2069.4 795.2 2072 795.6 2074.6 795.9 2077.2 796.3 2079.8 796.6 2082.4 797 2085 797.5 2087.6 797.9 2090.2 798.4 2092.8 798.8 2095.4 799.3 2098 799.7 2100.6 800.2 2103.2 800.7 2105.8 801.2 2108.4 801.7 2111 802.1 2113.6 802.6 2116.2 803 2118.8 803.4 2121.4 803.7 2124 804.1 2126.6 804.4 2129.2 804.8 2131.8 805 2134.4 805.3 2137 805.6 2139.6 805.8 2142.2 806.1 2144.8 806.3 2147.4 806.5 2150 806.7 2152.6 806.8 2155.2 806.8 2157.8 806.8 2160.4 806.6 2163 806.5 2165.6 806.3 2168.2 806 2170.8 805.8 2173.4 805.5 2176 805.2 2178.6 804.9 2181.2 804.5 2183.8 804 2186.4 803.5 2189 803 2191.6 802.4 2194.2 801.9 2196.8 801.3 2199.4 800.7 2202 800.1 2204.6 799.4 2207.2 798.8 2209.8 798.1 2212.4 797.4 2215 796.6 2217.6 795.9 2220.2 795.1 2222.8 794.3 2225.4 793.5 2228 792.6 2230.6 791.9 2233.2 791.1 2235.8 790.4 2238.4 789.7 2241 789 2243.6 788.3 2246.2 787.6 2248.8 786.9 2251.4 786.3 2254 785.6 2256.6 784.9 2259.2 784.3 2261.8 783.6 2264.4 782.9 2267 782.3 2269.6 781.7 2272.2 781 2274.8 780.4 2277.4 779.8 2280 779.3 2282.6 778.7 2285.2 778.1 2287.8 777.6 2290.4 777.1 2293 776.6 2295.6 776.2 2298.2 775.8 2300.8 775.4 2303.4 775 2306 774.6 2308.6 774.3 2311.2 773.9 2313.8 773.6 2316.4 773.3 2319 773 2321.6 772.7 2324.2 772.4 2326.8 772.2 2329.4 771.9 2332 771.7 2334.6 771.5 2337.2 771.4 2339.8 771.2 2342.4 771.1 2345 770.9 2347.6 770.8 2350.2 770.6 2352.8 770.5 2355.4 770.4 2358 770.2 2360.6 770.1 2363.2 770 2365.8 770 2368.4 769.9 2371 769.8 2373.6 769.8 2376.2 769.7 2378.8 769.7 2381.4 769.6 2384 769.6 2386.6 769.6 2387.4 769.6 2387.4 769.6 2387.4 769.6 2386.6 769.6 2384 769.5 2381.4 769.5 2378.8 769.4 2376.2 769.4 2373.6 769.3 2371 769.2 2368.4 769.2 2365.8 769.1 2363.2 769 2360.6 768.8 2358 768.7 2355.4 768.6 2352.8 768.4 2350.2 768.3 2347.6 768.1 2345 768 2342.4 767.8 2339.8 767.7 2337.2 767.5 2334.6 767.3 2332 767 2329.4 766.8 2326.8 766.5 2324.2 766.2 2321.6 765.9 2319 765.6 2316.4 765.3 2313.8 764.9 2311.2 764.6 2308.6 764.2 2306 763.8 2303.4 763.4 2300.8 763 2298.2 762.6 2295.6 762.1 2293 761.6 2290.4 761.1 2287.8 760.5 2285.2 759.9 2282.6 759.4 2280 758.8 2277.4 758.2 2274.8 757.5 2272.2 756.9 2269.6 756.3 2267 755.6 2264.4 754.9 2261.8 754.3 2259.2 753.6 2256.6 752.9 2254 752.3 2251.4 751.6 2248.8 750.9 2246.2 750.2 2243.6 749.5 2241 748.8 2238.4 748.1 2235.8 747.3 2233.2 746.6 2230.6 745.7 2228 744.9 2225.4 744.1 2222.8 743.3 2220.2 742.6 2217.6 741.8 2215 741.1 2212.4 740.4 2209.8 739.8 2207.2 739.1 2204.6 738.5 2202 737.9 2199.4 737.3 2196.8 736.8 2194.2 736.2 2191.6 735.7 2189 735.2 2186.4 734.7 2183.8 734.3 2181.2 734 2178.6 733.7 2176 733.4 2173.4 733.2 2170.8 732.9 2168.2 732.7 2165.6 732.6 2163 732.4 2160.4 732.4 2157.8 732.4 2155.2 732.5 2152.6 732.7 2150 732.9 2147.4 733.1 2144.8 733.4 2142.2 733.6 2139.6 733.9 2137 734.2 2134.4 734.4 2131.8 734.8 2129.2 735.1 2126.6 735.5 2124 735.8 2121.4 736.2 2118.8 736.6 2116.2 737.1 2113.6 737.5 2111 738 2108.4 738.5 2105.8 739 2103.2 739.5 2100.6 739.9 2098 740.4 2095.4 740.8 2092.8 741.3 2090.2 741.7 2087.6 742.2 2085 742.6 2082.4 742.9 2079.8 743.3 2077.2 743.6 2074.6 744 2072 744.3 2069.4 744.6 2066.8 744.8 2064.2 745 2061.6 745 2059 745 2056.4 744.9 2053.8 744.8 2051.2 744.7 2048.6 744.6 2046 744.5 2043.4 744.3 2040.8 744 2038.2 743.7 2035.6 743.3 2033 742.9 2030.4 742.5 2027.8 742 2025.2 741.6 2022.6 741.2 2020 740.7 2017.4 740.3 2014.8 739.8 2012.2 739.3 2009.6 738.8 2007 738.3 2004.4 737.8 2001.8 737.3 1999.2 736.8 1996.6 736.2 1994 735.7 1991.4 735.3 1988.8 734.9 1986.2 734.6 1983.6 734.3 1981 734 1978.4 733.7 1975.8 733.5 1973.2 733.2 1970.6 733 1968 732.9 1965.4 732.8 1962.8 732.7 1960.2 732.7 1957.6 732.8 1955 732.9 1952.4 733.1 1949.8 733.2 1947.2 733.4 1944.6 733.7 1942 734 1939.4 734.3 1936.8 734.6 1934.2 735 1931.6 735.3 1929 735.7 1926.4 736.1 1923.8 736.6 1921.2 737.1 1918.6 737.6 1916 738.2 1913.4 738.8 1910.8 739.4 1908.2 740 1905.6 740.6 1903 741.3 1900.4 741.9 1897.8 742.7 1895.2 743.4 1892.6 744.1 1890 744.9 1887.4 745.7 1884.8 746.5 1882.2 747.3 1879.6 748.1 1877 749 1874.4 749.9 1871.8 750.7 1869.2 751.6 1866.6 752.4 1864 753.3 1861.4 754.2 1858.8 755 1856.2 755.9 1853.6 756.7 1851 757.5 1848.4 758.3 1845.8 759.1 1843.2 759.9 1840.6 760.7 1838 761.4 1835.4 762.1 1832.8 762.8 1830.2 763.4 1827.6 763.9 1825 764.4 1822.4 764.9 1819.8 765.3 1817.2 765.8 1814.6 766.2 1812 766.5 1809.4 766.9 1806.8 767.3 1804.2 767.6 1801.6 767.9 1799 768.2 1796.4 768.4 1793.8 768.6 1791.2 768.7 1788.6 768.9 1786 769 1783.4 769 1780.8 769.1 1778.2 769.2 1775.6 769.2 1773 769.3 1770.4 769.3 1767.8 769.4 1765.2 769.4 1762.6 769.5 1760 769.5 1757.4 769.5 1754.8 769.6 1752.2 769.6 1749.6 769.6 1747 769.6 1744.4 769.6 1741.8Z" fill="#cc0000" stroke="none"/>
<g><line x1="735.55" y1="2168.5" x2="805.05" y2="2168.5" stroke="#000" stroke-width="3.4" stroke-linecap="round" stroke-dasharray="3.2 5.6"/><line x1="735.73" y1="1948.8" x2="804.87" y2="1948.8" stroke="#000" stroke-width="3.4" stroke-linecap="round" stroke-dasharray="3.2 5.6"/><line x1="740.85" y1="2101.9" x2="798.35" y2="2101.9" stroke="#000" stroke-width="4.4"/></g>
<g fill="#c8cbcb" fill-opacity="0.93"><circle cx="769.6" cy="1948.8" r="3.7"/><circle cx="769.6" cy="1957.2" r="3.7"/><circle cx="769.6" cy="1969.5" r="3.7"/><circle cx="769.6" cy="2021.2" r="3.7"/><circle cx="769.6" cy="2100" r="3.7"/><circle cx="769.6" cy="2104" r="3.7"/><circle cx="769.6" cy="2115.4" r="3.7"/><circle cx="769.6" cy="2120.3" r="3.7"/><circle cx="769.6" cy="2129.7" r="3.7"/><circle cx="769.6" cy="2159.1" r="3.7"/><circle cx="769.6" cy="2165.3" r="3.7"/><circle cx="769.6" cy="2170" r="3.7"/><circle cx="769.6" cy="2175" r="3.7"/><circle cx="769.6" cy="2196.7" r="3.7"/><circle cx="769.6" cy="2202.5" r="3.7"/><circle cx="769.6" cy="2208.4" r="3.7"/></g>
<path d="M769.6 1741.5 L769.6 1741.8 769.6 1744.4 769.6 1747 769.6 1749.6 769.6 1752.2 769.7 1754.8 769.7 1757.4 769.7 1760 769.8 1762.6 769.8 1765.2 769.9 1767.8 769.9 1770.4 770 1773 770 1775.6 770.1 1778.2 770.2 1780.8 770.2 1783.4 770.3 1786 770.5 1788.6 770.6 1791.2 770.8 1793.8 771 1796.4 771.3 1799 771.6 1801.6 771.9 1804.2 772.3 1806.8 772.7 1809.4 773 1812 773.4 1814.6 773.9 1817.2 774.3 1819.8 774.8 1822.4 775.3 1825 775.8 1827.6 776.4 1830.2 777.1 1832.8 777.8 1835.4 778.5 1838 779.3 1840.6 780.1 1843.2 780.9 1845.8 781.7 1848.4 782.5 1851 783.3 1853.6 784.2 1856.2 785 1858.8 785.9 1861.4 786.8 1864 787.6 1866.6 788.5 1869.2 789.3 1871.8 790.2 1874.4 791.1 1877 791.9 1879.6 792.7 1882.2 793.5 1884.8 794.3 1887.4 795.1 1890 795.8 1892.6 796.5 1895.2 797.3 1897.8 797.9 1900.4 798.6 1903 799.2 1905.6 799.8 1908.2 800.4 1910.8 801 1913.4 801.6 1916 802.1 1918.6 802.6 1921.2 803.1 1923.8 803.5 1926.4 803.9 1929 804.2 1931.6 804.6 1934.2 804.9 1936.8 805.2 1939.4 805.5 1942 805.8 1944.6 806 1947.2 806.1 1949.8 806.3 1952.4 806.4 1955 806.5 1957.6 806.5 1960.2 806.4 1962.8 806.3 1965.4 806.2 1968 806 1970.6 805.7 1973.2 805.5 1975.8 805.2 1978.4 804.9 1981 804.6 1983.6 804.3 1986.2 803.9 1988.8 803.5 1991.4 803 1994 802.4 1996.6 801.9 1999.2 801.4 2001.8 800.9 2004.4 800.4 2007 799.9 2009.6 799.4 2012.2 798.9 2014.8 798.5 2017.4 798 2020 797.6 2022.6 797.2 2025.2 796.7 2027.8 796.3 2030.4 795.9 2033 795.5 2035.6 795.2 2038.2 794.9 2040.8 794.7 2043.4 794.6 2046 794.5 2048.6 794.4 2051.2 794.3 2053.8 794.2 2056.4 794.2 2059 794.2 2061.6 794.4 2064.2 794.6 2066.8 794.9 2069.4 795.2 2072 795.6 2074.6 795.9 2077.2 796.3 2079.8 796.6 2082.4 797 2085 797.5 2087.6 797.9 2090.2 798.4 2092.8 798.8 2095.4 799.3 2098 799.7 2100.6 800.2 2103.2 800.7 2105.8 801.2 2108.4 801.7 2111 802.1 2113.6 802.6 2116.2 803 2118.8 803.4 2121.4 803.7 2124 804.1 2126.6 804.4 2129.2 804.8 2131.8 805 2134.4 805.3 2137 805.6 2139.6 805.8 2142.2 806.1 2144.8 806.3 2147.4 806.5 2150 806.7 2152.6 806.8 2155.2 806.8 2157.8 806.8 2160.4 806.6 2163 806.5 2165.6 806.3 2168.2 806 2170.8 805.8 2173.4 805.5 2176 805.2 2178.6 804.9 2181.2 804.5 2183.8 804 2186.4 803.5 2189 803 2191.6 802.4 2194.2 801.9 2196.8 801.3 2199.4 800.7 2202 800.1 2204.6 799.4 2207.2 798.8 2209.8 798.1 2212.4 797.4 2215 796.6 2217.6 795.9 2220.2 795.1 2222.8 794.3 2225.4 793.5 2228 792.6 2230.6 791.9 2233.2 791.1 2235.8 790.4 2238.4 789.7 2241 789 2243.6 788.3 2246.2 787.6 2248.8 786.9 2251.4 786.3 2254 785.6 2256.6 784.9 2259.2 784.3 2261.8 783.6 2264.4 782.9 2267 782.3 2269.6 781.7 2272.2 781 2274.8 780.4 2277.4 779.8 2280 779.3 2282.6 778.7 2285.2 778.1 2287.8 777.6 2290.4 777.1 2293 776.6 2295.6 776.2 2298.2 775.8 2300.8 775.4 2303.4 775 2306 774.6 2308.6 774.3 2311.2 773.9 2313.8 773.6 2316.4 773.3 2319 773 2321.6 772.7 2324.2 772.4 2326.8 772.2 2329.4 771.9 2332 771.7 2334.6 771.5 2337.2 771.4 2339.8 771.2 2342.4 771.1 2345 770.9 2347.6 770.8 2350.2 770.6 2352.8 770.5 2355.4 770.4 2358 770.2 2360.6 770.1 2363.2 770 2365.8 770 2368.4 769.9 2371 769.8 2373.6 769.8 2376.2 769.7 2378.8 769.7 2381.4 769.6 2384 769.6 2386.6 769.6 2387.4 769.6 2387.4 769.6 2387.4 769.6 2386.6 769.6 2384 769.5 2381.4 769.5 2378.8 769.4 2376.2 769.4 2373.6 769.3 2371 769.2 2368.4 769.2 2365.8 769.1 2363.2 769 2360.6 768.8 2358 768.7 2355.4 768.6 2352.8 768.4 2350.2 768.3 2347.6 768.1 2345 768 2342.4 767.8 2339.8 767.7 2337.2 767.5 2334.6 767.3 2332 767 2329.4 766.8 2326.8 766.5 2324.2 766.2 2321.6 765.9 2319 765.6 2316.4 765.3 2313.8 764.9 2311.2 764.6 2308.6 764.2 2306 763.8 2303.4 763.4 2300.8 763 2298.2 762.6 2295.6 762.1 2293 761.6 2290.4 761.1 2287.8 760.5 2285.2 759.9 2282.6 759.4 2280 758.8 2277.4 758.2 2274.8 757.5 2272.2 756.9 2269.6 756.3 2267 755.6 2264.4 754.9 2261.8 754.3 2259.2 753.6 2256.6 752.9 2254 752.3 2251.4 751.6 2248.8 750.9 2246.2 750.2 2243.6 749.5 2241 748.8 2238.4 748.1 2235.8 747.3 2233.2 746.6 2230.6 745.7 2228 744.9 2225.4 744.1 2222.8 743.3 2220.2 742.6 2217.6 741.8 2215 741.1 2212.4 740.4 2209.8 739.8 2207.2 739.1 2204.6 738.5 2202 737.9 2199.4 737.3 2196.8 736.8 2194.2 736.2 2191.6 735.7 2189 735.2 2186.4 734.7 2183.8 734.3 2181.2 734 2178.6 733.7 2176 733.4 2173.4 733.2 2170.8 732.9 2168.2 732.7 2165.6 732.6 2163 732.4 2160.4 732.4 2157.8 732.4 2155.2 732.5 2152.6 732.7 2150 732.9 2147.4 733.1 2144.8 733.4 2142.2 733.6 2139.6 733.9 2137 734.2 2134.4 734.4 2131.8 734.8 2129.2 735.1 2126.6 735.5 2124 735.8 2121.4 736.2 2118.8 736.6 2116.2 737.1 2113.6 737.5 2111 738 2108.4 738.5 2105.8 739 2103.2 739.5 2100.6 739.9 2098 740.4 2095.4 740.8 2092.8 741.3 2090.2 741.7 2087.6 742.2 2085 742.6 2082.4 742.9 2079.8 743.3 2077.2 743.6 2074.6 744 2072 744.3 2069.4 744.6 2066.8 744.8 2064.2 745 2061.6 745 2059 745 2056.4 744.9 2053.8 744.8 2051.2 744.7 2048.6 744.6 2046 744.5 2043.4 744.3 2040.8 744 2038.2 743.7 2035.6 743.3 2033 742.9 2030.4 742.5 2027.8 742 2025.2 741.6 2022.6 741.2 2020 740.7 2017.4 740.3 2014.8 739.8 2012.2 739.3 2009.6 738.8 2007 738.3 2004.4 737.8 2001.8 737.3 1999.2 736.8 1996.6 736.2 1994 735.7 1991.4 735.3 1988.8 734.9 1986.2 734.6 1983.6 734.3 1981 734 1978.4 733.7 1975.8 733.5 1973.2 733.2 1970.6 733 1968 732.9 1965.4 732.8 1962.8 732.7 1960.2 732.7 1957.6 732.8 1955 732.9 1952.4 733.1 1949.8 733.2 1947.2 733.4 1944.6 733.7 1942 734 1939.4 734.3 1936.8 734.6 1934.2 735 1931.6 735.3 1929 735.7 1926.4 736.1 1923.8 736.6 1921.2 737.1 1918.6 737.6 1916 738.2 1913.4 738.8 1910.8 739.4 1908.2 740 1905.6 740.6 1903 741.3 1900.4 741.9 1897.8 742.7 1895.2 743.4 1892.6 744.1 1890 744.9 1887.4 745.7 1884.8 746.5 1882.2 747.3 1879.6 748.1 1877 749 1874.4 749.9 1871.8 750.7 1869.2 751.6 1866.6 752.4 1864 753.3 1861.4 754.2 1858.8 755 1856.2 755.9 1853.6 756.7 1851 757.5 1848.4 758.3 1845.8 759.1 1843.2 759.9 1840.6 760.7 1838 761.4 1835.4 762.1 1832.8 762.8 1830.2 763.4 1827.6 763.9 1825 764.4 1822.4 764.9 1819.8 765.3 1817.2 765.8 1814.6 766.2 1812 766.5 1809.4 766.9 1806.8 767.3 1804.2 767.6 1801.6 767.9 1799 768.2 1796.4 768.4 1793.8 768.6 1791.2 768.7 1788.6 768.9 1786 769 1783.4 769 1780.8 769.1 1778.2 769.2 1775.6 769.2 1773 769.3 1770.4 769.3 1767.8 769.4 1765.2 769.4 1762.6 769.5 1760 769.5 1757.4 769.5 1754.8 769.6 1752.2 769.6 1749.6 769.6 1747 769.6 1744.4 769.6 1741.8Z" fill="none" stroke="#000" stroke-width="1.75" stroke-linejoin="round"/>
<path d="M883.2 1741.5 L883.2 1741.8 883.2 1744.4 883.2 1747 883.2 1749.6 883.2 1752.2 883.2 1754.8 883.3 1757.4 883.3 1760 883.3 1762.6 883.4 1765.2 883.4 1767.8 883.4 1770.4 883.5 1773 883.5 1775.6 883.6 1778.2 883.6 1780.8 883.7 1783.4 883.7 1786 883.8 1788.6 883.9 1791.2 884.1 1793.8 884.3 1796.4 884.5 1799 884.8 1801.6 885.1 1804.2 885.4 1806.8 885.7 1809.4 886.1 1812 886.5 1814.6 886.8 1817.2 887.2 1819.8 887.7 1822.4 888.1 1825 888.5 1827.6 889 1830.2 889.6 1832.8 890.1 1835.4 890.7 1838 891.3 1840.6 891.9 1843.2 892.6 1845.8 893.2 1848.4 893.9 1851 894.7 1853.6 895.5 1856.2 896.2 1858.8 897.1 1861.4 897.9 1864 898.7 1866.6 899.6 1869.2 900.5 1871.8 901.4 1874.4 902.3 1877 903.3 1879.6 904.2 1882.2 905.1 1884.8 906 1887.4 906.9 1890 907.9 1892.6 908.8 1895.2 909.6 1897.8 910.5 1900.4 911.3 1903 912.1 1905.6 912.8 1908.2 913.5 1910.8 914.2 1913.4 914.9 1916 915.5 1918.6 916.1 1921.2 916.6 1923.8 917.1 1926.4 917.6 1929 918 1931.6 918.4 1934.2 918.8 1936.8 919.1 1939.4 919.4 1942 919.6 1944.6 919.8 1947.2 920.1 1949.8 920.2 1952.4 920.4 1955 920.4 1957.6 920.3 1960.2 920.2 1962.8 920 1965.4 919.7 1968 919.4 1970.6 919.1 1973.2 918.8 1975.8 918.4 1978.4 917.9 1981 917.4 1983.6 916.9 1986.2 916.3 1988.8 915.7 1991.4 915.1 1994 914.5 1996.6 913.9 1999.2 913.2 2001.8 912.5 2004.4 911.8 2007 911.2 2009.6 910.5 2012.2 909.9 2014.8 909.3 2017.4 908.8 2020 908.3 2022.6 907.8 2025.2 907.4 2027.8 907 2030.4 906.6 2033 906.2 2035.6 905.9 2038.2 905.6 2040.8 905.4 2043.4 905.2 2046 905 2048.6 904.8 2051.2 904.7 2053.8 904.6 2056.4 904.5 2059 904.5 2061.6 904.5 2064.2 904.6 2066.8 904.8 2069.4 905 2072 905.2 2074.6 905.4 2077.2 905.5 2079.8 905.8 2082.4 906 2085 906.3 2087.6 906.6 2090.2 906.9 2092.8 907.2 2095.4 907.5 2098 907.8 2100.6 908.2 2103.2 908.5 2105.8 908.9 2108.4 909.2 2111 909.5 2113.6 909.9 2116.2 910.2 2118.8 910.4 2121.4 910.7 2124 911 2126.6 911.3 2129.2 911.5 2131.8 911.7 2134.4 911.9 2137 912 2139.6 912.1 2142.2 912.2 2144.8 912.3 2147.4 912.4 2150 912.4 2152.6 912.5 2155.2 912.5 2157.8 912.5 2160.4 912.4 2163 912.3 2165.6 912.1 2168.2 912 2170.8 911.8 2173.4 911.6 2176 911.4 2178.6 911.1 2181.2 910.8 2183.8 910.4 2186.4 910 2189 909.6 2191.6 909.1 2194.2 908.7 2196.8 908.2 2199.4 907.7 2202 907.1 2204.6 906.5 2207.2 905.9 2209.8 905.2 2212.4 904.6 2215 904 2217.6 903.3 2220.2 902.7 2222.8 902 2225.4 901.4 2228 900.7 2230.6 900 2233.2 899.4 2235.8 898.8 2238.4 898.2 2241 897.6 2243.6 897 2246.2 896.4 2248.8 895.8 2251.4 895.2 2254 894.6 2256.6 894.1 2259.2 893.5 2261.8 893 2264.4 892.4 2267 891.9 2269.6 891.4 2272.2 890.9 2274.8 890.5 2277.4 890.1 2280 889.7 2282.6 889.3 2285.2 888.9 2287.8 888.6 2290.4 888.2 2293 887.9 2295.6 887.5 2298.2 887.2 2300.8 886.9 2303.4 886.6 2306 886.3 2308.6 886.1 2311.2 885.8 2313.8 885.6 2316.4 885.4 2319 885.2 2321.6 885 2324.2 884.9 2326.8 884.7 2329.4 884.5 2332 884.3 2334.6 884.2 2337.2 884 2339.8 883.8 2342.4 883.7 2345 883.7 2347.6 883.6 2350.2 883.6 2352.8 883.5 2355.4 883.5 2358 883.4 2360.6 883.4 2363.2 883.3 2365.8 883.3 2368.4 883.3 2371 883.3 2373.6 883.2 2376.2 883.2 2378.8 883.2 2381.4 883.2 2384 883.2 2386.6 883.2 2387.4 883.2 2387.4 883.2 2387.4 883.2 2386.6 883.2 2384 883.2 2381.4 883.2 2378.8 883.2 2376.2 883.1 2373.6 883.1 2371 883.1 2368.4 883.1 2365.8 883 2363.2 883 2360.6 882.9 2358 882.9 2355.4 882.8 2352.8 882.8 2350.2 882.7 2347.6 882.7 2345 882.6 2342.4 882.4 2339.8 882.2 2337.2 882.1 2334.6 881.9 2332 881.7 2329.4 881.5 2326.8 881.4 2324.2 881.2 2321.6 881 2319 880.8 2316.4 880.6 2313.8 880.3 2311.2 880.1 2308.6 879.8 2306 879.5 2303.4 879.2 2300.8 878.9 2298.2 878.5 2295.6 878.2 2293 877.8 2290.4 877.5 2287.8 877.1 2285.2 876.7 2282.6 876.3 2280 875.9 2277.4 875.5 2274.8 875 2272.2 874.5 2269.6 874 2267 873.4 2264.4 872.9 2261.8 872.3 2259.2 871.8 2256.6 871.2 2254 870.6 2251.4 870 2248.8 869.4 2246.2 868.8 2243.6 868.2 2241 867.6 2238.4 867 2235.8 866.4 2233.2 865.7 2230.6 865 2228 864.4 2225.4 863.7 2222.8 863.1 2220.2 862.4 2217.6 861.8 2215 861.2 2212.4 860.5 2209.8 859.9 2207.2 859.3 2204.6 858.7 2202 858.2 2199.4 857.7 2196.8 857.3 2194.2 856.8 2191.6 856.4 2189 856 2186.4 855.6 2183.8 855.3 2181.2 855 2178.6 854.8 2176 854.6 2173.4 854.4 2170.8 854.3 2168.2 854.1 2165.6 854 2163 853.9 2160.4 853.9 2157.8 853.9 2155.2 854 2152.6 854 2150 854.1 2147.4 854.2 2144.8 854.3 2142.2 854.4 2139.6 854.5 2137 854.7 2134.4 854.9 2131.8 855.1 2129.2 855.4 2126.6 855.7 2124 856 2121.4 856.2 2118.8 856.5 2116.2 856.9 2113.6 857.2 2111 857.5 2108.4 857.9 2105.8 858.2 2103.2 858.6 2100.6 858.9 2098 859.2 2095.4 859.5 2092.8 859.8 2090.2 860.1 2087.6 860.4 2085 860.6 2082.4 860.9 2079.8 861 2077.2 861.2 2074.6 861.4 2072 861.6 2069.4 861.8 2066.8 861.9 2064.2 861.9 2061.6 861.9 2059 861.8 2056.4 861.7 2053.8 861.6 2051.2 861.4 2048.6 861.2 2046 861 2043.4 860.8 2040.8 860.5 2038.2 860.2 2035.6 859.8 2033 859.4 2030.4 859 2027.8 858.6 2025.2 858.1 2022.6 857.6 2020 857.1 2017.4 856.5 2014.8 855.9 2012.2 855.2 2009.6 854.6 2007 853.9 2004.4 853.2 2001.8 852.5 1999.2 851.9 1996.6 851.3 1994 850.7 1991.4 850.1 1988.8 849.5 1986.2 849 1983.6 848.5 1981 848 1978.4 847.6 1975.8 847.3 1973.2 847 1970.6 846.7 1968 846.4 1965.4 846.2 1962.8 846.1 1960.2 846 1957.6 846 1955 846.2 1952.4 846.3 1949.8 846.6 1947.2 846.8 1944.6 847 1942 847.3 1939.4 847.6 1936.8 848 1934.2 848.4 1931.6 848.8 1929 849.3 1926.4 849.8 1923.8 850.3 1921.2 850.9 1918.6 851.5 1916 852.2 1913.4 852.9 1910.8 853.6 1908.2 854.3 1905.6 855.1 1903 855.9 1900.4 856.8 1897.8 857.6 1895.2 858.5 1892.6 859.5 1890 860.4 1887.4 861.3 1884.8 862.2 1882.2 863.1 1879.6 864.1 1877 865 1874.4 865.9 1871.8 866.8 1869.2 867.7 1866.6 868.5 1864 869.3 1861.4 870.2 1858.8 870.9 1856.2 871.7 1853.6 872.5 1851 873.2 1848.4 873.8 1845.8 874.5 1843.2 875.1 1840.6 875.7 1838 876.3 1835.4 876.8 1832.8 877.4 1830.2 877.9 1827.6 878.3 1825 878.7 1822.4 879.2 1819.8 879.6 1817.2 879.9 1814.6 880.3 1812 880.7 1809.4 881 1806.8 881.3 1804.2 881.6 1801.6 881.9 1799 882.1 1796.4 882.3 1793.8 882.5 1791.2 882.6 1788.6 882.7 1786 882.7 1783.4 882.8 1780.8 882.8 1778.2 882.9 1775.6 882.9 1773 883 1770.4 883 1767.8 883 1765.2 883.1 1762.6 883.1 1760 883.1 1757.4 883.2 1754.8 883.2 1752.2 883.2 1749.6 883.2 1747 883.2 1744.4 883.2 1741.8Z" fill="#6f0000" stroke="none"/>
<g><line x1="856.1" y1="2158.3" x2="911" y2="2158.3" stroke="#000" stroke-width="2.5" stroke-linecap="round" stroke-dasharray="0.01 2.85"/><line x1="848.62" y1="1948.8" x2="918.48" y2="1948.8" stroke="#000" stroke-width="2.5" stroke-linecap="round" stroke-dasharray="0.01 2.85"/><line x1="860.33" y1="2025.9" x2="906.07" y2="2025.9" stroke="#000" stroke-width="4.4"/></g>
<g fill="#8c8c8c" fill-opacity="1"><circle cx="883.2" cy="1947.4" r="3.7"/><circle cx="883.2" cy="1951" r="3.7"/><circle cx="883.2" cy="1961.7" r="3.7"/><circle cx="883.2" cy="1977.2" r="3.7"/><circle cx="883.2" cy="1983.6" r="3.7"/><circle cx="883.2" cy="2068.6" r="3.7"/><circle cx="883.2" cy="2086" r="3.7"/><circle cx="883.2" cy="2092.9" r="3.7"/><circle cx="883.2" cy="2145.4" r="3.7"/><circle cx="883.2" cy="2153.6" r="3.7"/><circle cx="883.2" cy="2158.5" r="3.7"/><circle cx="883.2" cy="2170.8" r="3.7"/><circle cx="883.2" cy="2175.1" r="3.7"/><circle cx="883.2" cy="2198.2" r="3.7"/><circle cx="883.2" cy="2206.9" r="3.7"/></g>
<path d="M883.2 1741.5 L883.2 1741.8 883.2 1744.4 883.2 1747 883.2 1749.6 883.2 1752.2 883.2 1754.8 883.3 1757.4 883.3 1760 883.3 1762.6 883.4 1765.2 883.4 1767.8 883.4 1770.4 883.5 1773 883.5 1775.6 883.6 1778.2 883.6 1780.8 883.7 1783.4 883.7 1786 883.8 1788.6 883.9 1791.2 884.1 1793.8 884.3 1796.4 884.5 1799 884.8 1801.6 885.1 1804.2 885.4 1806.8 885.7 1809.4 886.1 1812 886.5 1814.6 886.8 1817.2 887.2 1819.8 887.7 1822.4 888.1 1825 888.5 1827.6 889 1830.2 889.6 1832.8 890.1 1835.4 890.7 1838 891.3 1840.6 891.9 1843.2 892.6 1845.8 893.2 1848.4 893.9 1851 894.7 1853.6 895.5 1856.2 896.2 1858.8 897.1 1861.4 897.9 1864 898.7 1866.6 899.6 1869.2 900.5 1871.8 901.4 1874.4 902.3 1877 903.3 1879.6 904.2 1882.2 905.1 1884.8 906 1887.4 906.9 1890 907.9 1892.6 908.8 1895.2 909.6 1897.8 910.5 1900.4 911.3 1903 912.1 1905.6 912.8 1908.2 913.5 1910.8 914.2 1913.4 914.9 1916 915.5 1918.6 916.1 1921.2 916.6 1923.8 917.1 1926.4 917.6 1929 918 1931.6 918.4 1934.2 918.8 1936.8 919.1 1939.4 919.4 1942 919.6 1944.6 919.8 1947.2 920.1 1949.8 920.2 1952.4 920.4 1955 920.4 1957.6 920.3 1960.2 920.2 1962.8 920 1965.4 919.7 1968 919.4 1970.6 919.1 1973.2 918.8 1975.8 918.4 1978.4 917.9 1981 917.4 1983.6 916.9 1986.2 916.3 1988.8 915.7 1991.4 915.1 1994 914.5 1996.6 913.9 1999.2 913.2 2001.8 912.5 2004.4 911.8 2007 911.2 2009.6 910.5 2012.2 909.9 2014.8 909.3 2017.4 908.8 2020 908.3 2022.6 907.8 2025.2 907.4 2027.8 907 2030.4 906.6 2033 906.2 2035.6 905.9 2038.2 905.6 2040.8 905.4 2043.4 905.2 2046 905 2048.6 904.8 2051.2 904.7 2053.8 904.6 2056.4 904.5 2059 904.5 2061.6 904.5 2064.2 904.6 2066.8 904.8 2069.4 905 2072 905.2 2074.6 905.4 2077.2 905.5 2079.8 905.8 2082.4 906 2085 906.3 2087.6 906.6 2090.2 906.9 2092.8 907.2 2095.4 907.5 2098 907.8 2100.6 908.2 2103.2 908.5 2105.8 908.9 2108.4 909.2 2111 909.5 2113.6 909.9 2116.2 910.2 2118.8 910.4 2121.4 910.7 2124 911 2126.6 911.3 2129.2 911.5 2131.8 911.7 2134.4 911.9 2137 912 2139.6 912.1 2142.2 912.2 2144.8 912.3 2147.4 912.4 2150 912.4 2152.6 912.5 2155.2 912.5 2157.8 912.5 2160.4 912.4 2163 912.3 2165.6 912.1 2168.2 912 2170.8 911.8 2173.4 911.6 2176 911.4 2178.6 911.1 2181.2 910.8 2183.8 910.4 2186.4 910 2189 909.6 2191.6 909.1 2194.2 908.7 2196.8 908.2 2199.4 907.7 2202 907.1 2204.6 906.5 2207.2 905.9 2209.8 905.2 2212.4 904.6 2215 904 2217.6 903.3 2220.2 902.7 2222.8 902 2225.4 901.4 2228 900.7 2230.6 900 2233.2 899.4 2235.8 898.8 2238.4 898.2 2241 897.6 2243.6 897 2246.2 896.4 2248.8 895.8 2251.4 895.2 2254 894.6 2256.6 894.1 2259.2 893.5 2261.8 893 2264.4 892.4 2267 891.9 2269.6 891.4 2272.2 890.9 2274.8 890.5 2277.4 890.1 2280 889.7 2282.6 889.3 2285.2 888.9 2287.8 888.6 2290.4 888.2 2293 887.9 2295.6 887.5 2298.2 887.2 2300.8 886.9 2303.4 886.6 2306 886.3 2308.6 886.1 2311.2 885.8 2313.8 885.6 2316.4 885.4 2319 885.2 2321.6 885 2324.2 884.9 2326.8 884.7 2329.4 884.5 2332 884.3 2334.6 884.2 2337.2 884 2339.8 883.8 2342.4 883.7 2345 883.7 2347.6 883.6 2350.2 883.6 2352.8 883.5 2355.4 883.5 2358 883.4 2360.6 883.4 2363.2 883.3 2365.8 883.3 2368.4 883.3 2371 883.3 2373.6 883.2 2376.2 883.2 2378.8 883.2 2381.4 883.2 2384 883.2 2386.6 883.2 2387.4 883.2 2387.4 883.2 2387.4 883.2 2386.6 883.2 2384 883.2 2381.4 883.2 2378.8 883.2 2376.2 883.1 2373.6 883.1 2371 883.1 2368.4 883.1 2365.8 883 2363.2 883 2360.6 882.9 2358 882.9 2355.4 882.8 2352.8 882.8 2350.2 882.7 2347.6 882.7 2345 882.6 2342.4 882.4 2339.8 882.2 2337.2 882.1 2334.6 881.9 2332 881.7 2329.4 881.5 2326.8 881.4 2324.2 881.2 2321.6 881 2319 880.8 2316.4 880.6 2313.8 880.3 2311.2 880.1 2308.6 879.8 2306 879.5 2303.4 879.2 2300.8 878.9 2298.2 878.5 2295.6 878.2 2293 877.8 2290.4 877.5 2287.8 877.1 2285.2 876.7 2282.6 876.3 2280 875.9 2277.4 875.5 2274.8 875 2272.2 874.5 2269.6 874 2267 873.4 2264.4 872.9 2261.8 872.3 2259.2 871.8 2256.6 871.2 2254 870.6 2251.4 870 2248.8 869.4 2246.2 868.8 2243.6 868.2 2241 867.6 2238.4 867 2235.8 866.4 2233.2 865.7 2230.6 865 2228 864.4 2225.4 863.7 2222.8 863.1 2220.2 862.4 2217.6 861.8 2215 861.2 2212.4 860.5 2209.8 859.9 2207.2 859.3 2204.6 858.7 2202 858.2 2199.4 857.7 2196.8 857.3 2194.2 856.8 2191.6 856.4 2189 856 2186.4 855.6 2183.8 855.3 2181.2 855 2178.6 854.8 2176 854.6 2173.4 854.4 2170.8 854.3 2168.2 854.1 2165.6 854 2163 853.9 2160.4 853.9 2157.8 853.9 2155.2 854 2152.6 854 2150 854.1 2147.4 854.2 2144.8 854.3 2142.2 854.4 2139.6 854.5 2137 854.7 2134.4 854.9 2131.8 855.1 2129.2 855.4 2126.6 855.7 2124 856 2121.4 856.2 2118.8 856.5 2116.2 856.9 2113.6 857.2 2111 857.5 2108.4 857.9 2105.8 858.2 2103.2 858.6 2100.6 858.9 2098 859.2 2095.4 859.5 2092.8 859.8 2090.2 860.1 2087.6 860.4 2085 860.6 2082.4 860.9 2079.8 861 2077.2 861.2 2074.6 861.4 2072 861.6 2069.4 861.8 2066.8 861.9 2064.2 861.9 2061.6 861.9 2059 861.8 2056.4 861.7 2053.8 861.6 2051.2 861.4 2048.6 861.2 2046 861 2043.4 860.8 2040.8 860.5 2038.2 860.2 2035.6 859.8 2033 859.4 2030.4 859 2027.8 858.6 2025.2 858.1 2022.6 857.6 2020 857.1 2017.4 856.5 2014.8 855.9 2012.2 855.2 2009.6 854.6 2007 853.9 2004.4 853.2 2001.8 852.5 1999.2 851.9 1996.6 851.3 1994 850.7 1991.4 850.1 1988.8 849.5 1986.2 849 1983.6 848.5 1981 848 1978.4 847.6 1975.8 847.3 1973.2 847 1970.6 846.7 1968 846.4 1965.4 846.2 1962.8 846.1 1960.2 846 1957.6 846 1955 846.2 1952.4 846.3 1949.8 846.6 1947.2 846.8 1944.6 847 1942 847.3 1939.4 847.6 1936.8 848 1934.2 848.4 1931.6 848.8 1929 849.3 1926.4 849.8 1923.8 850.3 1921.2 850.9 1918.6 851.5 1916 852.2 1913.4 852.9 1910.8 853.6 1908.2 854.3 1905.6 855.1 1903 855.9 1900.4 856.8 1897.8 857.6 1895.2 858.5 1892.6 859.5 1890 860.4 1887.4 861.3 1884.8 862.2 1882.2 863.1 1879.6 864.1 1877 865 1874.4 865.9 1871.8 866.8 1869.2 867.7 1866.6 868.5 1864 869.3 1861.4 870.2 1858.8 870.9 1856.2 871.7 1853.6 872.5 1851 873.2 1848.4 873.8 1845.8 874.5 1843.2 875.1 1840.6 875.7 1838 876.3 1835.4 876.8 1832.8 877.4 1830.2 877.9 1827.6 878.3 1825 878.7 1822.4 879.2 1819.8 879.6 1817.2 879.9 1814.6 880.3 1812 880.7 1809.4 881 1806.8 881.3 1804.2 881.6 1801.6 881.9 1799 882.1 1796.4 882.3 1793.8 882.5 1791.2 882.6 1788.6 882.7 1786 882.7 1783.4 882.8 1780.8 882.8 1778.2 882.9 1775.6 882.9 1773 883 1770.4 883 1767.8 883 1765.2 883.1 1762.6 883.1 1760 883.1 1757.4 883.2 1754.8 883.2 1752.2 883.2 1749.6 883.2 1747 883.2 1744.4 883.2 1741.8Z" fill="none" stroke="#000" stroke-width="1.75" stroke-linejoin="round"/>
<path d="M997.4 1775.1 L997.4 1775.4 997.4 1778 997.4 1780.6 997.4 1783.2 997.4 1785.8 997.5 1788.4 997.5 1791 997.5 1793.6 997.5 1796.2 997.6 1798.8 997.6 1801.4 997.7 1804 997.7 1806.6 997.8 1809.2 997.8 1811.8 997.9 1814.4 998 1817 998.1 1819.6 998.2 1822.2 998.5 1824.8 998.7 1827.4 999 1830 999.4 1832.6 999.9 1835.2 1000.3 1837.8 1000.8 1840.4 1001.2 1843 1001.7 1845.6 1002.3 1848.2 1002.8 1850.8 1003.4 1853.4 1004 1856 1004.6 1858.6 1005.4 1861.2 1006.1 1863.8 1007 1866.4 1007.9 1869 1008.8 1871.6 1009.7 1874.2 1010.7 1876.8 1011.6 1879.4 1012.7 1882 1013.8 1884.6 1014.9 1887.2 1016 1889.8 1017.1 1892.4 1018.3 1895 1019.4 1897.6 1020.5 1900.2 1021.7 1902.8 1022.9 1905.4 1024 1908 1025.2 1910.6 1026.2 1913.2 1027.1 1915.8 1027.9 1918.4 1028.7 1921 1029.5 1923.6 1030.2 1926.2 1030.9 1928.8 1031.5 1931.4 1032 1934 1032.5 1936.6 1032.9 1939.2 1033.3 1941.8 1033.7 1944.4 1034 1947 1034.2 1949.6 1034.4 1952.2 1034.5 1954.8 1034.5 1957.4 1034.3 1960 1034.2 1962.6 1033.9 1965.2 1033.6 1967.8 1033.3 1970.4 1032.9 1973 1032.6 1975.6 1032.1 1978.2 1031.5 1980.8 1030.9 1983.4 1030.1 1986 1029.4 1988.6 1028.7 1991.2 1028 1993.8 1027.3 1996.4 1026.6 1999 1025.9 2001.6 1025.2 2004.2 1024.6 2006.8 1023.9 2009.4 1023.3 2012 1022.8 2014.6 1022.3 2017.2 1021.7 2019.8 1021.2 2022.4 1020.8 2025 1020.3 2027.6 1020 2030.2 1019.6 2032.8 1019.3 2035.4 1019 2038 1018.7 2040.6 1018.5 2043.2 1018.3 2045.8 1018.1 2048.4 1017.9 2051 1017.7 2053.6 1017.5 2056.2 1017.4 2058.8 1017.2 2061.4 1017.1 2064 1016.9 2066.6 1016.8 2069.2 1016.7 2071.8 1016.5 2074.4 1016.3 2077 1016.1 2079.6 1015.9 2082.2 1015.7 2084.8 1015.5 2087.4 1015.3 2090 1015.1 2092.6 1014.9 2095.2 1014.7 2097.8 1014.5 2100.4 1014.3 2103 1014.1 2105.6 1013.9 2108.2 1013.7 2110.8 1013.5 2113.4 1013.3 2116 1013.1 2118.6 1012.8 2121.2 1012.6 2123.8 1012.3 2126.4 1012.1 2129 1011.8 2131.6 1011.5 2134.2 1011.2 2136.8 1010.9 2139.4 1010.6 2142 1010.3 2144.6 1010 2147.2 1009.6 2149.8 1009.3 2152.4 1008.9 2155 1008.6 2157.6 1008.2 2160.2 1007.8 2162.8 1007.5 2165.4 1007.1 2168 1006.7 2170.6 1006.3 2173.2 1005.9 2175.8 1005.5 2178.4 1005.1 2181 1004.8 2183.6 1004.4 2186.2 1004 2188.8 1003.6 2191.4 1003.3 2194 1002.9 2196.6 1002.6 2199.2 1002.2 2201.8 1001.8 2204.4 1001.5 2207 1001.2 2209.6 1000.8 2212.2 1000.6 2214.8 1000.3 2217.4 1000.1 2220 999.8 2222.6 999.6 2225.2 999.4 2227.8 999.2 2230.4 999.1 2233 998.9 2235.6 998.8 2238.2 998.7 2240.8 998.5 2243.4 998.4 2246 998.3 2248.6 998.2 2251.2 998.2 2253.8 998.1 2256.4 998 2259 997.9 2261.6 997.9 2264.2 997.8 2266.8 997.8 2269.4 997.8 2272 997.8 2274.6 997.7 2277.2 997.7 2279.8 997.7 2282.4 997.6 2285 997.6 2287.6 997.6 2290.2 997.6 2292.8 997.6 2295.4 997.5 2298 997.5 2300.6 997.5 2303.2 997.5 2305.8 997.5 2308.4 997.5 2311 997.5 2313.6 997.4 2316.2 997.4 2318.8 997.4 2321.4 997.4 2324 997.4 2326.6 997.4 2329.2 997.4 2331.8 997.4 2334.4 997.4 2337 997.4 2339.6 997.4 2341 997.4 2341 997.4 2341 997.4 2339.6 997.4 2337 997.4 2334.4 997.4 2331.8 997.4 2329.2 997.4 2326.6 997.4 2324 997.4 2321.4 997.4 2318.8 997.4 2316.2 997.3 2313.6 997.3 2311 997.3 2308.4 997.3 2305.8 997.3 2303.2 997.3 2300.6 997.3 2298 997.2 2295.4 997.2 2292.8 997.2 2290.2 997.2 2287.6 997.2 2285 997.1 2282.4 997.1 2279.8 997.1 2277.2 997 2274.6 997 2272 997 2269.4 997 2266.8 996.9 2264.2 996.9 2261.6 996.8 2259 996.7 2256.4 996.6 2253.8 996.6 2251.2 996.5 2248.6 996.4 2246 996.3 2243.4 996.1 2240.8 996 2238.2 995.9 2235.6 995.7 2233 995.6 2230.4 995.4 2227.8 995.2 2225.2 995 2222.6 994.7 2220 994.5 2217.4 994.2 2214.8 994 2212.2 993.6 2209.6 993.3 2207 993 2204.4 992.6 2201.8 992.2 2199.2 991.9 2196.6 991.5 2194 991.2 2191.4 990.8 2188.8 990.4 2186.2 990 2183.6 989.7 2181 989.3 2178.4 988.9 2175.8 988.5 2173.2 988.1 2170.6 987.7 2168 987.3 2165.4 987 2162.8 986.6 2160.2 986.2 2157.6 985.9 2155 985.5 2152.4 985.2 2149.8 984.8 2147.2 984.5 2144.6 984.2 2142 983.9 2139.4 983.6 2136.8 983.3 2134.2 983 2131.6 982.7 2129 982.5 2126.4 982.2 2123.8 982 2121.2 981.7 2118.6 981.5 2116 981.3 2113.4 981.1 2110.8 980.9 2108.2 980.7 2105.6 980.5 2103 980.3 2100.4 980.1 2097.8 979.9 2095.2 979.7 2092.6 979.5 2090 979.3 2087.4 979.1 2084.8 978.9 2082.2 978.7 2079.6 978.5 2077 978.3 2074.4 978.1 2071.8 978 2069.2 977.9 2066.6 977.7 2064 977.6 2061.4 977.4 2058.8 977.3 2056.2 977.1 2053.6 976.9 2051 976.7 2048.4 976.5 2045.8 976.3 2043.2 976.1 2040.6 975.8 2038 975.5 2035.4 975.2 2032.8 974.8 2030.2 974.5 2027.6 974 2025 973.6 2022.4 973.1 2019.8 972.5 2017.2 972 2014.6 971.5 2012 970.9 2009.4 970.2 2006.8 969.6 2004.2 968.9 2001.6 968.2 1999 967.5 1996.4 966.8 1993.8 966.1 1991.2 965.4 1988.6 964.7 1986 963.9 1983.4 963.3 1980.8 962.7 1978.2 962.2 1975.6 961.9 1973 961.5 1970.4 961.2 1967.8 960.9 1965.2 960.6 1962.6 960.5 1960 960.3 1957.4 960.3 1954.8 960.4 1952.2 960.6 1949.6 960.8 1947 961.1 1944.4 961.5 1941.8 961.9 1939.2 962.3 1936.6 962.8 1934 963.3 1931.4 963.9 1928.8 964.6 1926.2 965.3 1923.6 966.1 1921 966.9 1918.4 967.7 1915.8 968.6 1913.2 969.6 1910.6 970.8 1908 971.9 1905.4 973.1 1902.8 974.3 1900.2 975.4 1897.6 976.5 1895 977.7 1892.4 978.8 1889.8 979.9 1887.2 981 1884.6 982.1 1882 983.2 1879.4 984.1 1876.8 985.1 1874.2 986 1871.6 986.9 1869 987.8 1866.4 988.7 1863.8 989.4 1861.2 990.2 1858.6 990.8 1856 991.4 1853.4 992 1850.8 992.5 1848.2 993.1 1845.6 993.6 1843 994 1840.4 994.5 1837.8 994.9 1835.2 995.4 1832.6 995.8 1830 996.1 1827.4 996.3 1824.8 996.6 1822.2 996.7 1819.6 996.8 1817 996.9 1814.4 997 1811.8 997 1809.2 997.1 1806.6 997.1 1804 997.2 1801.4 997.2 1798.8 997.3 1796.2 997.3 1793.6 997.3 1791 997.3 1788.4 997.4 1785.8 997.4 1783.2 997.4 1780.6 997.4 1778 997.4 1775.4Z" fill="#5a0000" stroke="none"/>
<g><line x1="962.63" y1="1948.8" x2="1032.97" y2="1948.8" stroke="#000" stroke-width="1.9" stroke-linecap="round" stroke-dasharray="0.01 2.45"/><line x1="980.22" y1="2078.8" x2="1014.58" y2="2078.8" stroke="#000" stroke-width="4.4"/></g>
<g fill="#8c8c8c" fill-opacity="1"><circle cx="997.4" cy="1948.8" r="3.7"/><circle cx="997.4" cy="2020.4" r="3.7"/><circle cx="997.4" cy="2048.3" r="3.7"/><circle cx="997.4" cy="2071.6" r="3.7"/><circle cx="997.4" cy="2101.9" r="3.7"/><circle cx="997.4" cy="2121.3" r="3.7"/><circle cx="997.4" cy="2168.5" r="3.7"/></g>
<path d="M997.4 1775.1 L997.4 1775.4 997.4 1778 997.4 1780.6 997.4 1783.2 997.4 1785.8 997.5 1788.4 997.5 1791 997.5 1793.6 997.5 1796.2 997.6 1798.8 997.6 1801.4 997.7 1804 997.7 1806.6 997.8 1809.2 997.8 1811.8 997.9 1814.4 998 1817 998.1 1819.6 998.2 1822.2 998.5 1824.8 998.7 1827.4 999 1830 999.4 1832.6 999.9 1835.2 1000.3 1837.8 1000.8 1840.4 1001.2 1843 1001.7 1845.6 1002.3 1848.2 1002.8 1850.8 1003.4 1853.4 1004 1856 1004.6 1858.6 1005.4 1861.2 1006.1 1863.8 1007 1866.4 1007.9 1869 1008.8 1871.6 1009.7 1874.2 1010.7 1876.8 1011.6 1879.4 1012.7 1882 1013.8 1884.6 1014.9 1887.2 1016 1889.8 1017.1 1892.4 1018.3 1895 1019.4 1897.6 1020.5 1900.2 1021.7 1902.8 1022.9 1905.4 1024 1908 1025.2 1910.6 1026.2 1913.2 1027.1 1915.8 1027.9 1918.4 1028.7 1921 1029.5 1923.6 1030.2 1926.2 1030.9 1928.8 1031.5 1931.4 1032 1934 1032.5 1936.6 1032.9 1939.2 1033.3 1941.8 1033.7 1944.4 1034 1947 1034.2 1949.6 1034.4 1952.2 1034.5 1954.8 1034.5 1957.4 1034.3 1960 1034.2 1962.6 1033.9 1965.2 1033.6 1967.8 1033.3 1970.4 1032.9 1973 1032.6 1975.6 1032.1 1978.2 1031.5 1980.8 1030.9 1983.4 1030.1 1986 1029.4 1988.6 1028.7 1991.2 1028 1993.8 1027.3 1996.4 1026.6 1999 1025.9 2001.6 1025.2 2004.2 1024.6 2006.8 1023.9 2009.4 1023.3 2012 1022.8 2014.6 1022.3 2017.2 1021.7 2019.8 1021.2 2022.4 1020.8 2025 1020.3 2027.6 1020 2030.2 1019.6 2032.8 1019.3 2035.4 1019 2038 1018.7 2040.6 1018.5 2043.2 1018.3 2045.8 1018.1 2048.4 1017.9 2051 1017.7 2053.6 1017.5 2056.2 1017.4 2058.8 1017.2 2061.4 1017.1 2064 1016.9 2066.6 1016.8 2069.2 1016.7 2071.8 1016.5 2074.4 1016.3 2077 1016.1 2079.6 1015.9 2082.2 1015.7 2084.8 1015.5 2087.4 1015.3 2090 1015.1 2092.6 1014.9 2095.2 1014.7 2097.8 1014.5 2100.4 1014.3 2103 1014.1 2105.6 1013.9 2108.2 1013.7 2110.8 1013.5 2113.4 1013.3 2116 1013.1 2118.6 1012.8 2121.2 1012.6 2123.8 1012.3 2126.4 1012.1 2129 1011.8 2131.6 1011.5 2134.2 1011.2 2136.8 1010.9 2139.4 1010.6 2142 1010.3 2144.6 1010 2147.2 1009.6 2149.8 1009.3 2152.4 1008.9 2155 1008.6 2157.6 1008.2 2160.2 1007.8 2162.8 1007.5 2165.4 1007.1 2168 1006.7 2170.6 1006.3 2173.2 1005.9 2175.8 1005.5 2178.4 1005.1 2181 1004.8 2183.6 1004.4 2186.2 1004 2188.8 1003.6 2191.4 1003.3 2194 1002.9 2196.6 1002.6 2199.2 1002.2 2201.8 1001.8 2204.4 1001.5 2207 1001.2 2209.6 1000.8 2212.2 1000.6 2214.8 1000.3 2217.4 1000.1 2220 999.8 2222.6 999.6 2225.2 999.4 2227.8 999.2 2230.4 999.1 2233 998.9 2235.6 998.8 2238.2 998.7 2240.8 998.5 2243.4 998.4 2246 998.3 2248.6 998.2 2251.2 998.2 2253.8 998.1 2256.4 998 2259 997.9 2261.6 997.9 2264.2 997.8 2266.8 997.8 2269.4 997.8 2272 997.8 2274.6 997.7 2277.2 997.7 2279.8 997.7 2282.4 997.6 2285 997.6 2287.6 997.6 2290.2 997.6 2292.8 997.6 2295.4 997.5 2298 997.5 2300.6 997.5 2303.2 997.5 2305.8 997.5 2308.4 997.5 2311 997.5 2313.6 997.4 2316.2 997.4 2318.8 997.4 2321.4 997.4 2324 997.4 2326.6 997.4 2329.2 997.4 2331.8 997.4 2334.4 997.4 2337 997.4 2339.6 997.4 2341 997.4 2341 997.4 2341 997.4 2339.6 997.4 2337 997.4 2334.4 997.4 2331.8 997.4 2329.2 997.4 2326.6 997.4 2324 997.4 2321.4 997.4 2318.8 997.4 2316.2 997.3 2313.6 997.3 2311 997.3 2308.4 997.3 2305.8 997.3 2303.2 997.3 2300.6 997.3 2298 997.2 2295.4 997.2 2292.8 997.2 2290.2 997.2 2287.6 997.2 2285 997.1 2282.4 997.1 2279.8 997.1 2277.2 997 2274.6 997 2272 997 2269.4 997 2266.8 996.9 2264.2 996.9 2261.6 996.8 2259 996.7 2256.4 996.6 2253.8 996.6 2251.2 996.5 2248.6 996.4 2246 996.3 2243.4 996.1 2240.8 996 2238.2 995.9 2235.6 995.7 2233 995.6 2230.4 995.4 2227.8 995.2 2225.2 995 2222.6 994.7 2220 994.5 2217.4 994.2 2214.8 994 2212.2 993.6 2209.6 993.3 2207 993 2204.4 992.6 2201.8 992.2 2199.2 991.9 2196.6 991.5 2194 991.2 2191.4 990.8 2188.8 990.4 2186.2 990 2183.6 989.7 2181 989.3 2178.4 988.9 2175.8 988.5 2173.2 988.1 2170.6 987.7 2168 987.3 2165.4 987 2162.8 986.6 2160.2 986.2 2157.6 985.9 2155 985.5 2152.4 985.2 2149.8 984.8 2147.2 984.5 2144.6 984.2 2142 983.9 2139.4 983.6 2136.8 983.3 2134.2 983 2131.6 982.7 2129 982.5 2126.4 982.2 2123.8 982 2121.2 981.7 2118.6 981.5 2116 981.3 2113.4 981.1 2110.8 980.9 2108.2 980.7 2105.6 980.5 2103 980.3 2100.4 980.1 2097.8 979.9 2095.2 979.7 2092.6 979.5 2090 979.3 2087.4 979.1 2084.8 978.9 2082.2 978.7 2079.6 978.5 2077 978.3 2074.4 978.1 2071.8 978 2069.2 977.9 2066.6 977.7 2064 977.6 2061.4 977.4 2058.8 977.3 2056.2 977.1 2053.6 976.9 2051 976.7 2048.4 976.5 2045.8 976.3 2043.2 976.1 2040.6 975.8 2038 975.5 2035.4 975.2 2032.8 974.8 2030.2 974.5 2027.6 974 2025 973.6 2022.4 973.1 2019.8 972.5 2017.2 972 2014.6 971.5 2012 970.9 2009.4 970.2 2006.8 969.6 2004.2 968.9 2001.6 968.2 1999 967.5 1996.4 966.8 1993.8 966.1 1991.2 965.4 1988.6 964.7 1986 963.9 1983.4 963.3 1980.8 962.7 1978.2 962.2 1975.6 961.9 1973 961.5 1970.4 961.2 1967.8 960.9 1965.2 960.6 1962.6 960.5 1960 960.3 1957.4 960.3 1954.8 960.4 1952.2 960.6 1949.6 960.8 1947 961.1 1944.4 961.5 1941.8 961.9 1939.2 962.3 1936.6 962.8 1934 963.3 1931.4 963.9 1928.8 964.6 1926.2 965.3 1923.6 966.1 1921 966.9 1918.4 967.7 1915.8 968.6 1913.2 969.6 1910.6 970.8 1908 971.9 1905.4 973.1 1902.8 974.3 1900.2 975.4 1897.6 976.5 1895 977.7 1892.4 978.8 1889.8 979.9 1887.2 981 1884.6 982.1 1882 983.2 1879.4 984.1 1876.8 985.1 1874.2 986 1871.6 986.9 1869 987.8 1866.4 988.7 1863.8 989.4 1861.2 990.2 1858.6 990.8 1856 991.4 1853.4 992 1850.8 992.5 1848.2 993.1 1845.6 993.6 1843 994 1840.4 994.5 1837.8 994.9 1835.2 995.4 1832.6 995.8 1830 996.1 1827.4 996.3 1824.8 996.6 1822.2 996.7 1819.6 996.8 1817 996.9 1814.4 997 1811.8 997 1809.2 997.1 1806.6 997.1 1804 997.2 1801.4 997.2 1798.8 997.3 1796.2 997.3 1793.6 997.3 1791 997.3 1788.4 997.4 1785.8 997.4 1783.2 997.4 1780.6 997.4 1778 997.4 1775.4Z" fill="none" stroke="#000" stroke-width="1.75" stroke-linejoin="round"/>
<path d="M120.8 1741.7 V2387.2 H1076" fill="none" stroke="#0d0d0d" stroke-width="1.22"/>
<line x1="111.8" y1="1818.9" x2="120.8" y2="1818.9" stroke="#0d0d0d" stroke-width="1.2"/>
<text transform="translate(80.7 1824.1) scale(0.8431 1)" font-size="18.6" fill="#000">1.5</text>
<line x1="111.8" y1="1948.6" x2="120.8" y2="1948.6" stroke="#0d0d0d" stroke-width="1.2"/>
<text transform="translate(78 1953.8) scale(0.9475 1)" font-size="18.6" fill="#000">1.0</text>
<line x1="111.8" y1="2077.8" x2="120.8" y2="2077.8" stroke="#0d0d0d" stroke-width="1.2"/>
<text transform="translate(76 2083) scale(1.0249 1)" font-size="18.6" fill="#000">0.5</text>
<line x1="111.8" y1="2207.1" x2="120.8" y2="2207.1" stroke="#0d0d0d" stroke-width="1.2"/>
<text transform="translate(92 2212.3) scale(1.0150 1)" font-size="18.6" fill="#000">0</text>
<line x1="111.8" y1="2335.9" x2="120.8" y2="2335.9" stroke="#0d0d0d" stroke-width="1.2"/>
<text transform="translate(65.6 2341.1) scale(1.0049 1)" font-size="18.6" fill="#000">−0.5</text>
<line x1="196.8" y1="2387.2" x2="196.8" y2="2397" stroke="#0d0d0d" stroke-width="1.2"/>
<line x1="311.4" y1="2387.2" x2="311.4" y2="2397" stroke="#0d0d0d" stroke-width="1.2"/>
<line x1="425.7" y1="2387.2" x2="425.7" y2="2397" stroke="#0d0d0d" stroke-width="1.2"/>
<line x1="540.5" y1="2387.2" x2="540.5" y2="2397" stroke="#0d0d0d" stroke-width="1.2"/>
<line x1="655.1" y1="2387.2" x2="655.1" y2="2397" stroke="#0d0d0d" stroke-width="1.2"/>
<line x1="769.6" y1="2387.2" x2="769.6" y2="2397" stroke="#0d0d0d" stroke-width="1.2"/>
<line x1="883.2" y1="2387.2" x2="883.2" y2="2397" stroke="#0d0d0d" stroke-width="1.2"/>
<line x1="997.4" y1="2387.2" x2="997.4" y2="2397" stroke="#0d0d0d" stroke-width="1.2"/>
<text transform="translate(134.3 2425) scale(1.0027 1)" font-size="18.1" fill="#000">Day 15 &lt;0.01%</text>
<text transform="translate(133.63 2445.8) scale(1.0133 1)" font-size="18.1" fill="#000">Day 42 &lt;0.01%</text>
<text transform="translate(161.55 2466.6) scale(0.9720 1)" fill="#000"><tspan font-size="18.1" dy="0">(</tspan><tspan font-size="18.1" dy="0" font-style="italic">n</tspan><tspan font-size="18.1" dy="0"> = 174)</tspan></text>
<text transform="translate(276.47 2425) scale(0.9720 1)" font-size="18.1" fill="#000">0.01–1%</text>
<text transform="translate(281.12 2445.8) scale(0.9720 1)" font-size="18.1" fill="#000">&lt;0.01%</text>
<text transform="translate(275.75 2466.6) scale(0.9720 1)" fill="#000"><tspan font-size="18.1" dy="0">(</tspan><tspan font-size="18.1" dy="0" font-style="italic">n</tspan><tspan font-size="18.1" dy="0"> = 193)</tspan></text>
<text transform="translate(390.87 2425) scale(0.9720 1)" font-size="18.1" fill="#000">0.01–1%</text>
<text transform="translate(390.87 2445.8) scale(0.9720 1)" font-size="18.1" fill="#000">0.01–1%</text>
<text transform="translate(395.04 2466.6) scale(0.9720 1)" fill="#000"><tspan font-size="18.1" dy="0">(</tspan><tspan font-size="18.1" dy="0" font-style="italic">n</tspan><tspan font-size="18.1" dy="0"> = 20)</tspan></text>
<text transform="translate(517.6 2425) scale(0.9720 1)" font-size="18.1" fill="#000">1–5%</text>
<text transform="translate(510.02 2445.8) scale(0.9720 1)" font-size="18.1" fill="#000">&lt;0.01%</text>
<text transform="translate(509.54 2466.6) scale(0.9720 1)" fill="#000"><tspan font-size="18.1" dy="0">(</tspan><tspan font-size="18.1" dy="0" font-style="italic">n</tspan><tspan font-size="18.1" dy="0"> = 50)</tspan></text>
<text transform="translate(631.8 2425) scale(0.9720 1)" font-size="18.1" fill="#000">1–5%</text>
<text transform="translate(619.57 2445.8) scale(0.9720 1)" font-size="18.1" fill="#000">0.01–1%</text>
<text transform="translate(623.74 2466.6) scale(0.9720 1)" fill="#000"><tspan font-size="18.1" dy="0">(</tspan><tspan font-size="18.1" dy="0" font-style="italic">n</tspan><tspan font-size="18.1" dy="0"> = 17)</tspan></text>
<text transform="translate(751.36 2425) scale(0.9720 1)" font-size="18.1" fill="#000">≥5%</text>
<text transform="translate(738.82 2445.8) scale(0.9720 1)" font-size="18.1" fill="#000">&lt;0.01%</text>
<text transform="translate(738.34 2466.6) scale(0.9720 1)" fill="#000"><tspan font-size="18.1" dy="0">(</tspan><tspan font-size="18.1" dy="0" font-style="italic">n</tspan><tspan font-size="18.1" dy="0"> = 24)</tspan></text>
<text transform="translate(865.46 2425) scale(0.9720 1)" font-size="18.1" fill="#000">≥5%</text>
<text transform="translate(848.27 2445.8) scale(0.9720 1)" font-size="18.1" fill="#000">0.01–1%</text>
<text transform="translate(852.44 2466.6) scale(0.9720 1)" fill="#000"><tspan font-size="18.1" dy="0">(</tspan><tspan font-size="18.1" dy="0" font-style="italic">n</tspan><tspan font-size="18.1" dy="0"> = 24)</tspan></text>
<text transform="translate(979.66 2425) scale(0.9720 1)" font-size="18.1" fill="#000">≥5%</text>
<text transform="translate(979.66 2445.8) scale(0.9720 1)" font-size="18.1" fill="#000">≥1%</text>
<text transform="translate(966.64 2466.6) scale(0.9720 1)" fill="#000"><tspan font-size="18.1" dy="0">(</tspan><tspan font-size="18.1" dy="0" font-style="italic">n</tspan><tspan font-size="18.1" dy="0"> = 14)</tspan></text>
<text transform="translate(532.07 2509.1) scale(1.0034 1)" font-size="21.6" fill="#000">MRD</text>
<text transform="translate(588.11 2509.1) scale(1.1508 1)" font-size="21.6" fill="#000">groups</text>
<text transform="translate(39.7 2160.1) rotate(-90) translate(-1.88 0) scale(1.0043 1)" font-size="23.4" fill="#000">Prednisolone</text>
<text transform="translate(39.7 2160.1) rotate(-90) translate(144.3 0) scale(1.2268 1)" font-size="23.4" fill="#000">LC</text>
<text transform="translate(39.7 2160.1) rotate(-90) translate(180.66 5.9) scale(0.7982 1)" font-size="13.8" fill="#000">50</text>
<text transform="translate(176.71 2352.3) scale(0.8755 1)" font-size="22.3" font-style="italic" fill="#000">P</text>
<text transform="translate(196.39 2352.3) scale(0.8136 1)" font-size="22.3" fill="#000">=</text>
<text transform="translate(212.53 2352.3) scale(1.0886 1)" font-size="22.3" fill="#000">5.8</text>
<text transform="translate(252.55 2352.3) scale(0.8666 1)" font-size="22.3" fill="#000">×</text>
<text transform="translate(268.84 2352.3) scale(0.9955 1)" font-size="22.3" fill="#000">10</text>
<text transform="translate(293.83 2342.2) scale(1.0598 1)" font-size="12.6" fill="#000">−10</text>
<path d="M1282.1 1793.5 L1282.1 1793.8 1282.1 1796.4 1282.1 1799 1282.1 1801.6 1282.1 1804.2 1282.1 1806.8 1282.2 1809.4 1282.2 1812 1282.2 1814.6 1282.2 1817.2 1282.2 1819.8 1282.3 1822.4 1282.3 1825 1282.3 1827.6 1282.4 1830.2 1282.4 1832.8 1282.5 1835.4 1282.5 1838 1282.6 1840.6 1282.6 1843.2 1282.7 1845.8 1282.7 1848.4 1282.9 1851 1283 1853.6 1283.2 1856.2 1283.5 1858.8 1283.7 1861.4 1284.1 1864 1284.4 1866.6 1284.7 1869.2 1285.1 1871.8 1285.5 1874.4 1285.9 1877 1286.3 1879.6 1286.7 1882.2 1287.1 1884.8 1287.5 1887.4 1287.9 1890 1288.3 1892.6 1288.7 1895.2 1289.2 1897.8 1289.5 1900.4 1289.9 1903 1290.2 1905.6 1290.4 1908.2 1290.7 1910.8 1290.9 1913.4 1291.1 1916 1291.3 1918.6 1291.5 1921.2 1291.6 1923.8 1291.6 1926.4 1291.7 1929 1291.7 1931.6 1291.7 1934.2 1291.7 1936.8 1291.7 1939.4 1291.8 1942 1291.8 1944.6 1291.8 1947.2 1291.9 1949.8 1291.9 1952.4 1291.9 1955 1292 1957.6 1292 1960.2 1292.1 1962.8 1292.1 1965.4 1292.2 1968 1292.2 1970.6 1292.3 1973.2 1292.4 1975.8 1292.4 1978.4 1292.5 1981 1292.6 1983.6 1292.7 1986.2 1292.8 1988.8 1292.9 1991.4 1293 1994 1293.2 1996.6 1293.3 1999.2 1293.5 2001.8 1293.6 2004.4 1293.8 2007 1293.9 2009.6 1294.1 2012.2 1294.3 2014.8 1294.4 2017.4 1294.5 2020 1294.6 2022.6 1294.6 2025.2 1294.6 2027.8 1294.7 2030.4 1294.7 2033 1294.7 2035.6 1294.7 2038.2 1294.7 2040.8 1294.7 2043.4 1294.6 2046 1294.5 2048.6 1294.4 2051.2 1294.2 2053.8 1294 2056.4 1293.8 2059 1293.7 2061.6 1293.4 2064.2 1293.2 2066.8 1293 2069.4 1292.7 2072 1292.5 2074.6 1292.3 2077.2 1292.2 2079.8 1292.1 2082.4 1291.9 2085 1291.8 2087.6 1291.8 2090.2 1291.7 2092.8 1291.6 2095.4 1291.6 2098 1291.6 2100.6 1291.8 2103.2 1292 2105.8 1292.3 2108.4 1292.6 2111 1293 2113.6 1293.5 2116.2 1293.9 2118.8 1294.4 2121.4 1295.1 2124 1295.9 2126.6 1296.7 2129.2 1297.7 2131.8 1298.6 2134.4 1299.7 2137 1300.7 2139.6 1301.9 2142.2 1303.2 2144.8 1304.6 2147.4 1306.1 2150 1307.4 2152.6 1308.7 2155.2 1309.9 2157.8 1311.1 2160.4 1312.2 2163 1313.4 2165.6 1314.4 2168.2 1315.4 2170.8 1316.3 2173.4 1317 2176 1317.5 2178.6 1318 2181.2 1318.5 2183.8 1318.8 2186.4 1319.1 2189 1319.1 2191.6 1318.9 2194.2 1318.5 2196.8 1318 2199.4 1317.3 2202 1316.6 2204.6 1315.9 2207.2 1314.9 2209.8 1313.7 2212.4 1312.2 2215 1310.7 2217.6 1309 2220.2 1307.4 2222.8 1305.9 2225.4 1304.5 2228 1303 2230.6 1301.6 2233.2 1300.1 2235.8 1298.7 2238.4 1297.3 2241 1296 2243.6 1294.8 2246.2 1293.7 2248.8 1292.7 2251.4 1291.6 2254 1290.7 2256.6 1289.8 2259.2 1288.9 2261.8 1288.2 2264.4 1287.6 2267 1286.9 2269.6 1286.3 2272.2 1285.8 2274.8 1285.3 2277.4 1284.9 2280 1284.5 2282.6 1284.2 2285.2 1283.9 2287.8 1283.6 2290.4 1283.4 2293 1283.2 2295.6 1283 2298.2 1282.9 2300.8 1282.8 2303.4 1282.7 2306 1282.6 2308.6 1282.5 2311.2 1282.4 2313.8 1282.3 2316.4 1282.2 2319 1282.1 2321.6 1282.1 2323 1282.1 2323 1282.1 2323 1282.1 2321.6 1282 2319 1281.9 2316.4 1281.8 2313.8 1281.7 2311.2 1281.6 2308.6 1281.5 2306 1281.4 2303.4 1281.3 2300.8 1281.2 2298.2 1281 2295.6 1280.8 2293 1280.6 2290.4 1280.3 2287.8 1280 2285.2 1279.7 2282.6 1279.3 2280 1278.9 2277.4 1278.4 2274.8 1277.9 2272.2 1277.3 2269.6 1276.6 2267 1276 2264.4 1275.3 2261.8 1274.4 2259.2 1273.5 2256.6 1272.6 2254 1271.5 2251.4 1270.5 2248.8 1269.4 2246.2 1268.2 2243.6 1266.9 2241 1265.5 2238.4 1264.1 2235.8 1262.6 2233.2 1261.2 2230.6 1259.7 2228 1258.3 2225.4 1256.8 2222.8 1255.2 2220.2 1253.5 2217.6 1252 2215 1250.5 2212.4 1249.3 2209.8 1248.3 2207.2 1247.6 2204.6 1246.9 2202 1246.2 2199.4 1245.7 2196.8 1245.3 2194.2 1245.1 2191.6 1245.1 2189 1245.4 2186.4 1245.7 2183.8 1246.2 2181.2 1246.7 2178.6 1247.2 2176 1247.9 2173.4 1248.8 2170.8 1249.8 2168.2 1250.8 2165.6 1252 2163 1253.1 2160.4 1254.3 2157.8 1255.5 2155.2 1256.8 2152.6 1258.1 2150 1259.6 2147.4 1261 2144.8 1262.3 2142.2 1263.5 2139.6 1264.5 2137 1265.6 2134.4 1266.5 2131.8 1267.5 2129.2 1268.3 2126.6 1269.1 2124 1269.8 2121.4 1270.3 2118.8 1270.7 2116.2 1271.2 2113.6 1271.6 2111 1271.9 2108.4 1272.2 2105.8 1272.4 2103.2 1272.6 2100.6 1272.6 2098 1272.6 2095.4 1272.5 2092.8 1272.4 2090.2 1272.4 2087.6 1272.3 2085 1272.1 2082.4 1272 2079.8 1271.9 2077.2 1271.7 2074.6 1271.5 2072 1271.2 2069.4 1271 2066.8 1270.8 2064.2 1270.5 2061.6 1270.4 2059 1270.2 2056.4 1270 2053.8 1269.8 2051.2 1269.7 2048.6 1269.6 2046 1269.5 2043.4 1269.5 2040.8 1269.5 2038.2 1269.5 2035.6 1269.5 2033 1269.5 2030.4 1269.6 2027.8 1269.6 2025.2 1269.6 2022.6 1269.7 2020 1269.8 2017.4 1269.9 2014.8 1270.1 2012.2 1270.3 2009.6 1270.4 2007 1270.6 2004.4 1270.7 2001.8 1270.9 1999.2 1271 1996.6 1271.2 1994 1271.3 1991.4 1271.4 1988.8 1271.5 1986.2 1271.6 1983.6 1271.7 1981 1271.8 1978.4 1271.8 1975.8 1271.9 1973.2 1272 1970.6 1272 1968 1272.1 1965.4 1272.1 1962.8 1272.2 1960.2 1272.2 1957.6 1272.3 1955 1272.3 1952.4 1272.3 1949.8 1272.4 1947.2 1272.4 1944.6 1272.4 1942 1272.5 1939.4 1272.5 1936.8 1272.5 1934.2 1272.5 1931.6 1272.5 1929 1272.6 1926.4 1272.6 1923.8 1272.7 1921.2 1272.9 1918.6 1273.1 1916 1273.3 1913.4 1273.5 1910.8 1273.8 1908.2 1274 1905.6 1274.3 1903 1274.7 1900.4 1275 1897.8 1275.5 1895.2 1275.9 1892.6 1276.3 1890 1276.7 1887.4 1277.1 1884.8 1277.5 1882.2 1277.9 1879.6 1278.3 1877 1278.7 1874.4 1279.1 1871.8 1279.5 1869.2 1279.8 1866.6 1280.1 1864 1280.5 1861.4 1280.7 1858.8 1281 1856.2 1281.2 1853.6 1281.3 1851 1281.5 1848.4 1281.5 1845.8 1281.6 1843.2 1281.6 1840.6 1281.7 1838 1281.7 1835.4 1281.8 1832.8 1281.8 1830.2 1281.9 1827.6 1281.9 1825 1281.9 1822.4 1282 1819.8 1282 1817.2 1282 1814.6 1282 1812 1282 1809.4 1282.1 1806.8 1282.1 1804.2 1282.1 1801.6 1282.1 1799 1282.1 1796.4 1282.1 1793.8Z" fill="#cce0fa" stroke="none"/>
<g><line x1="1272.12" y1="2035.7" x2="1293.48" y2="2035.7" stroke="#000" stroke-width="3.4" stroke-linecap="round" stroke-dasharray="3.2 5.6"/><line x1="1247.3" y1="2191.3" x2="1316.9" y2="2191.3" stroke="#000" stroke-width="5.5"/><line x1="1247.5" y1="2191.3" x2="1316.7" y2="2191.3" stroke="#000" stroke-width="6.7" stroke-dasharray="4.6 1.45"/></g>
<g fill="#c8cbcb" fill-opacity="0.93"><circle cx="1282.1" cy="1925.3" r="3.7"/><circle cx="1282.1" cy="1951.8" r="3.7"/><circle cx="1282.1" cy="1964.4" r="3.7"/><circle cx="1282.1" cy="1971.2" r="3.7"/><circle cx="1282.1" cy="1981.1" r="3.7"/><circle cx="1282.1" cy="1985.45" r="3.7"/><circle cx="1282.1" cy="1989.8" r="3.7"/><circle cx="1282.1" cy="1994.15" r="3.7"/><circle cx="1282.1" cy="1998.5" r="3.7"/><circle cx="1282.1" cy="2007.9" r="3.7"/><circle cx="1282.1" cy="2014.4" r="3.7"/><circle cx="1282.1" cy="2018.63" r="3.7"/><circle cx="1282.1" cy="2022.86" r="3.7"/><circle cx="1282.1" cy="2027.09" r="3.7"/><circle cx="1282.1" cy="2031.32" r="3.7"/><circle cx="1282.1" cy="2035.55" r="3.7"/><circle cx="1282.1" cy="2039.78" r="3.7"/><circle cx="1282.1" cy="2044.02" r="3.7"/><circle cx="1282.1" cy="2048.25" r="3.7"/><circle cx="1282.1" cy="2052.48" r="3.7"/><circle cx="1282.1" cy="2056.71" r="3.7"/><circle cx="1282.1" cy="2060.94" r="3.7"/><circle cx="1282.1" cy="2065.17" r="3.7"/><circle cx="1282.1" cy="2069.4" r="3.7"/><circle cx="1282.1" cy="2083.9" r="3.7"/><circle cx="1282.1" cy="2088.2" r="3.7"/><circle cx="1282.1" cy="2092.6" r="3.7"/><circle cx="1282.1" cy="2100.5" r="3.7"/><circle cx="1282.1" cy="2105.6" r="3.7"/><circle cx="1282.1" cy="2112.1" r="3.7"/><circle cx="1282.1" cy="2118.6" r="3.7"/><circle cx="1282.1" cy="2126.6" r="3.7"/><circle cx="1282.1" cy="2159.2" r="3.7"/><circle cx="1282.1" cy="2165" r="3.7"/><circle cx="1282.1" cy="2190.7" r="3.7"/></g>
<path d="M1282.1 1793.5 L1282.1 1793.8 1282.1 1796.4 1282.1 1799 1282.1 1801.6 1282.1 1804.2 1282.1 1806.8 1282.2 1809.4 1282.2 1812 1282.2 1814.6 1282.2 1817.2 1282.2 1819.8 1282.3 1822.4 1282.3 1825 1282.3 1827.6 1282.4 1830.2 1282.4 1832.8 1282.5 1835.4 1282.5 1838 1282.6 1840.6 1282.6 1843.2 1282.7 1845.8 1282.7 1848.4 1282.9 1851 1283 1853.6 1283.2 1856.2 1283.5 1858.8 1283.7 1861.4 1284.1 1864 1284.4 1866.6 1284.7 1869.2 1285.1 1871.8 1285.5 1874.4 1285.9 1877 1286.3 1879.6 1286.7 1882.2 1287.1 1884.8 1287.5 1887.4 1287.9 1890 1288.3 1892.6 1288.7 1895.2 1289.2 1897.8 1289.5 1900.4 1289.9 1903 1290.2 1905.6 1290.4 1908.2 1290.7 1910.8 1290.9 1913.4 1291.1 1916 1291.3 1918.6 1291.5 1921.2 1291.6 1923.8 1291.6 1926.4 1291.7 1929 1291.7 1931.6 1291.7 1934.2 1291.7 1936.8 1291.7 1939.4 1291.8 1942 1291.8 1944.6 1291.8 1947.2 1291.9 1949.8 1291.9 1952.4 1291.9 1955 1292 1957.6 1292 1960.2 1292.1 1962.8 1292.1 1965.4 1292.2 1968 1292.2 1970.6 1292.3 1973.2 1292.4 1975.8 1292.4 1978.4 1292.5 1981 1292.6 1983.6 1292.7 1986.2 1292.8 1988.8 1292.9 1991.4 1293 1994 1293.2 1996.6 1293.3 1999.2 1293.5 2001.8 1293.6 2004.4 1293.8 2007 1293.9 2009.6 1294.1 2012.2 1294.3 2014.8 1294.4 2017.4 1294.5 2020 1294.6 2022.6 1294.6 2025.2 1294.6 2027.8 1294.7 2030.4 1294.7 2033 1294.7 2035.6 1294.7 2038.2 1294.7 2040.8 1294.7 2043.4 1294.6 2046 1294.5 2048.6 1294.4 2051.2 1294.2 2053.8 1294 2056.4 1293.8 2059 1293.7 2061.6 1293.4 2064.2 1293.2 2066.8 1293 2069.4 1292.7 2072 1292.5 2074.6 1292.3 2077.2 1292.2 2079.8 1292.1 2082.4 1291.9 2085 1291.8 2087.6 1291.8 2090.2 1291.7 2092.8 1291.6 2095.4 1291.6 2098 1291.6 2100.6 1291.8 2103.2 1292 2105.8 1292.3 2108.4 1292.6 2111 1293 2113.6 1293.5 2116.2 1293.9 2118.8 1294.4 2121.4 1295.1 2124 1295.9 2126.6 1296.7 2129.2 1297.7 2131.8 1298.6 2134.4 1299.7 2137 1300.7 2139.6 1301.9 2142.2 1303.2 2144.8 1304.6 2147.4 1306.1 2150 1307.4 2152.6 1308.7 2155.2 1309.9 2157.8 1311.1 2160.4 1312.2 2163 1313.4 2165.6 1314.4 2168.2 1315.4 2170.8 1316.3 2173.4 1317 2176 1317.5 2178.6 1318 2181.2 1318.5 2183.8 1318.8 2186.4 1319.1 2189 1319.1 2191.6 1318.9 2194.2 1318.5 2196.8 1318 2199.4 1317.3 2202 1316.6 2204.6 1315.9 2207.2 1314.9 2209.8 1313.7 2212.4 1312.2 2215 1310.7 2217.6 1309 2220.2 1307.4 2222.8 1305.9 2225.4 1304.5 2228 1303 2230.6 1301.6 2233.2 1300.1 2235.8 1298.7 2238.4 1297.3 2241 1296 2243.6 1294.8 2246.2 1293.7 2248.8 1292.7 2251.4 1291.6 2254 1290.7 2256.6 1289.8 2259.2 1288.9 2261.8 1288.2 2264.4 1287.6 2267 1286.9 2269.6 1286.3 2272.2 1285.8 2274.8 1285.3 2277.4 1284.9 2280 1284.5 2282.6 1284.2 2285.2 1283.9 2287.8 1283.6 2290.4 1283.4 2293 1283.2 2295.6 1283 2298.2 1282.9 2300.8 1282.8 2303.4 1282.7 2306 1282.6 2308.6 1282.5 2311.2 1282.4 2313.8 1282.3 2316.4 1282.2 2319 1282.1 2321.6 1282.1 2323 1282.1 2323 1282.1 2323 1282.1 2321.6 1282 2319 1281.9 2316.4 1281.8 2313.8 1281.7 2311.2 1281.6 2308.6 1281.5 2306 1281.4 2303.4 1281.3 2300.8 1281.2 2298.2 1281 2295.6 1280.8 2293 1280.6 2290.4 1280.3 2287.8 1280 2285.2 1279.7 2282.6 1279.3 2280 1278.9 2277.4 1278.4 2274.8 1277.9 2272.2 1277.3 2269.6 1276.6 2267 1276 2264.4 1275.3 2261.8 1274.4 2259.2 1273.5 2256.6 1272.6 2254 1271.5 2251.4 1270.5 2248.8 1269.4 2246.2 1268.2 2243.6 1266.9 2241 1265.5 2238.4 1264.1 2235.8 1262.6 2233.2 1261.2 2230.6 1259.7 2228 1258.3 2225.4 1256.8 2222.8 1255.2 2220.2 1253.5 2217.6 1252 2215 1250.5 2212.4 1249.3 2209.8 1248.3 2207.2 1247.6 2204.6 1246.9 2202 1246.2 2199.4 1245.7 2196.8 1245.3 2194.2 1245.1 2191.6 1245.1 2189 1245.4 2186.4 1245.7 2183.8 1246.2 2181.2 1246.7 2178.6 1247.2 2176 1247.9 2173.4 1248.8 2170.8 1249.8 2168.2 1250.8 2165.6 1252 2163 1253.1 2160.4 1254.3 2157.8 1255.5 2155.2 1256.8 2152.6 1258.1 2150 1259.6 2147.4 1261 2144.8 1262.3 2142.2 1263.5 2139.6 1264.5 2137 1265.6 2134.4 1266.5 2131.8 1267.5 2129.2 1268.3 2126.6 1269.1 2124 1269.8 2121.4 1270.3 2118.8 1270.7 2116.2 1271.2 2113.6 1271.6 2111 1271.9 2108.4 1272.2 2105.8 1272.4 2103.2 1272.6 2100.6 1272.6 2098 1272.6 2095.4 1272.5 2092.8 1272.4 2090.2 1272.4 2087.6 1272.3 2085 1272.1 2082.4 1272 2079.8 1271.9 2077.2 1271.7 2074.6 1271.5 2072 1271.2 2069.4 1271 2066.8 1270.8 2064.2 1270.5 2061.6 1270.4 2059 1270.2 2056.4 1270 2053.8 1269.8 2051.2 1269.7 2048.6 1269.6 2046 1269.5 2043.4 1269.5 2040.8 1269.5 2038.2 1269.5 2035.6 1269.5 2033 1269.5 2030.4 1269.6 2027.8 1269.6 2025.2 1269.6 2022.6 1269.7 2020 1269.8 2017.4 1269.9 2014.8 1270.1 2012.2 1270.3 2009.6 1270.4 2007 1270.6 2004.4 1270.7 2001.8 1270.9 1999.2 1271 1996.6 1271.2 1994 1271.3 1991.4 1271.4 1988.8 1271.5 1986.2 1271.6 1983.6 1271.7 1981 1271.8 1978.4 1271.8 1975.8 1271.9 1973.2 1272 1970.6 1272 1968 1272.1 1965.4 1272.1 1962.8 1272.2 1960.2 1272.2 1957.6 1272.3 1955 1272.3 1952.4 1272.3 1949.8 1272.4 1947.2 1272.4 1944.6 1272.4 1942 1272.5 1939.4 1272.5 1936.8 1272.5 1934.2 1272.5 1931.6 1272.5 1929 1272.6 1926.4 1272.6 1923.8 1272.7 1921.2 1272.9 1918.6 1273.1 1916 1273.3 1913.4 1273.5 1910.8 1273.8 1908.2 1274 1905.6 1274.3 1903 1274.7 1900.4 1275 1897.8 1275.5 1895.2 1275.9 1892.6 1276.3 1890 1276.7 1887.4 1277.1 1884.8 1277.5 1882.2 1277.9 1879.6 1278.3 1877 1278.7 1874.4 1279.1 1871.8 1279.5 1869.2 1279.8 1866.6 1280.1 1864 1280.5 1861.4 1280.7 1858.8 1281 1856.2 1281.2 1853.6 1281.3 1851 1281.5 1848.4 1281.5 1845.8 1281.6 1843.2 1281.6 1840.6 1281.7 1838 1281.7 1835.4 1281.8 1832.8 1281.8 1830.2 1281.9 1827.6 1281.9 1825 1281.9 1822.4 1282 1819.8 1282 1817.2 1282 1814.6 1282 1812 1282 1809.4 1282.1 1806.8 1282.1 1804.2 1282.1 1801.6 1282.1 1799 1282.1 1796.4 1282.1 1793.8Z" fill="none" stroke="#000" stroke-width="1.75" stroke-linejoin="round"/>
<path d="M1397.4 1793.5 L1397.4 1793.8 1397.4 1796.4 1397.4 1799 1397.4 1801.6 1397.4 1804.2 1397.4 1806.8 1397.5 1809.4 1397.5 1812 1397.5 1814.6 1397.6 1817.2 1397.6 1819.8 1397.7 1822.4 1397.7 1825 1397.8 1827.6 1397.8 1830.2 1397.9 1832.8 1398 1835.4 1398 1838 1398.3 1840.6 1398.6 1843.2 1399 1845.8 1399.4 1848.4 1399.7 1851 1400.1 1853.6 1400.4 1856.2 1400.8 1858.8 1401.2 1861.4 1401.6 1864 1402.1 1866.6 1402.6 1869.2 1403.1 1871.8 1403.6 1874.4 1404.2 1877 1404.8 1879.6 1405.4 1882.2 1406 1884.8 1406.7 1887.4 1407.3 1890 1408 1892.6 1408.7 1895.2 1409.4 1897.8 1410.1 1900.4 1410.7 1903 1411.3 1905.6 1411.7 1908.2 1412.2 1910.8 1412.7 1913.4 1413.1 1916 1413.5 1918.6 1413.8 1921.2 1414.1 1923.8 1414.4 1926.4 1414.7 1929 1414.9 1931.6 1415.1 1934.2 1415.3 1936.8 1415.5 1939.4 1415.6 1942 1415.8 1944.6 1415.9 1947.2 1416 1949.8 1416.1 1952.4 1416.1 1955 1416.2 1957.6 1416.3 1960.2 1416.4 1962.8 1416.5 1965.4 1416.7 1968 1416.9 1970.6 1417.2 1973.2 1417.4 1975.8 1417.7 1978.4 1418 1981 1418.3 1983.6 1418.6 1986.2 1419 1988.8 1419.4 1991.4 1419.7 1994 1420.1 1996.6 1420.5 1999.2 1420.9 2001.8 1421.2 2004.4 1421.5 2007 1421.9 2009.6 1422.2 2012.2 1422.5 2014.8 1422.8 2017.4 1423 2020 1423.1 2022.6 1423.1 2025.2 1423.1 2027.8 1423 2030.4 1423 2033 1422.9 2035.6 1422.9 2038.2 1422.8 2040.8 1422.7 2043.4 1422.5 2046 1422.1 2048.6 1421.6 2051.2 1421.1 2053.8 1420.5 2056.4 1420 2059 1419.5 2061.6 1418.9 2064.2 1418.3 2066.8 1417.7 2069.4 1417.1 2072 1416.5 2074.6 1416 2077.2 1415.6 2079.8 1415.2 2082.4 1414.8 2085 1414.4 2087.6 1414 2090.2 1413.7 2092.8 1413.5 2095.4 1413.4 2098 1413.4 2100.6 1413.4 2103.2 1413.5 2105.8 1413.5 2108.4 1413.6 2111 1413.7 2113.6 1413.8 2116.2 1413.9 2118.8 1414.2 2121.4 1414.6 2124 1415.2 2126.6 1416 2129.2 1416.8 2131.8 1417.6 2134.4 1418.4 2137 1419.3 2139.6 1420.3 2142.2 1421.4 2144.8 1422.6 2147.4 1423.9 2150 1425.1 2152.6 1426.2 2155.2 1427.2 2157.8 1428.2 2160.4 1429.2 2163 1430.2 2165.6 1431.1 2168.2 1431.9 2170.8 1432.6 2173.4 1433.2 2176 1433.6 2178.6 1434 2181.2 1434.4 2183.8 1434.7 2186.4 1434.9 2189 1434.9 2191.6 1434.7 2194.2 1434.3 2196.8 1433.8 2199.4 1433.2 2202 1432.5 2204.6 1431.8 2207.2 1430.9 2209.8 1429.7 2212.4 1428.4 2215 1427 2217.6 1425.5 2220.2 1424 2222.8 1422.5 2225.4 1421.1 2228 1419.6 2230.6 1418.1 2233.2 1416.6 2235.8 1415.1 2238.4 1413.6 2241 1412.3 2243.6 1411 2246.2 1409.8 2248.8 1408.7 2251.4 1407.5 2254 1406.5 2256.6 1405.5 2259.2 1404.6 2261.8 1403.7 2264.4 1403 2267 1402.3 2269.6 1401.7 2272.2 1401.1 2274.8 1400.5 2277.4 1400 2280 1399.5 2282.6 1399.1 2285.2 1398.8 2287.8 1398.4 2290.4 1398.1 2293 1397.9 2295.6 1397.8 2298.2 1397.7 2300.8 1397.7 2303.4 1397.6 2306 1397.5 2308.6 1397.5 2311.2 1397.5 2313.8 1397.4 2316.4 1397.4 2319 1397.4 2321.6 1397.4 2323 1397.4 2323 1397.4 2323 1397.4 2321.6 1397.4 2319 1397.4 2316.4 1397.3 2313.8 1397.3 2311.2 1397.3 2308.6 1397.2 2306 1397.1 2303.4 1397.1 2300.8 1397 2298.2 1396.9 2295.6 1396.7 2293 1396.4 2290.4 1396 2287.8 1395.7 2285.2 1395.3 2282.6 1394.8 2280 1394.3 2277.4 1393.7 2274.8 1393.1 2272.2 1392.5 2269.6 1391.8 2267 1391.1 2264.4 1390.2 2261.8 1389.3 2259.2 1388.3 2256.6 1387.3 2254 1386.1 2251.4 1385 2248.8 1383.8 2246.2 1382.5 2243.6 1381.2 2241 1379.7 2238.4 1378.2 2235.8 1376.7 2233.2 1375.2 2230.6 1373.7 2228 1372.3 2225.4 1370.8 2222.8 1369.3 2220.2 1367.8 2217.6 1366.4 2215 1365.1 2212.4 1363.9 2209.8 1363 2207.2 1362.3 2204.6 1361.6 2202 1361 2199.4 1360.5 2196.8 1360.1 2194.2 1359.9 2191.6 1359.9 2189 1360.1 2186.4 1360.4 2183.8 1360.8 2181.2 1361.2 2178.6 1361.6 2176 1362.2 2173.4 1362.9 2170.8 1363.7 2168.2 1364.6 2165.6 1365.6 2163 1366.6 2160.4 1367.6 2157.8 1368.6 2155.2 1369.7 2152.6 1370.9 2150 1372.2 2147.4 1373.4 2144.8 1374.5 2142.2 1375.5 2139.6 1376.4 2137 1377.2 2134.4 1378 2131.8 1378.8 2129.2 1379.6 2126.6 1380.2 2124 1380.6 2121.4 1380.9 2118.8 1381 2116.2 1381.1 2113.6 1381.2 2111 1381.3 2108.4 1381.3 2105.8 1381.4 2103.2 1381.4 2100.6 1381.4 2098 1381.3 2095.4 1381.1 2092.8 1380.8 2090.2 1380.4 2087.6 1380 2085 1379.6 2082.4 1379.2 2079.8 1378.8 2077.2 1378.3 2074.6 1377.7 2072 1377.1 2069.4 1376.5 2066.8 1375.9 2064.2 1375.3 2061.6 1374.8 2059 1374.3 2056.4 1373.7 2053.8 1373.2 2051.2 1372.7 2048.6 1372.3 2046 1372.1 2043.4 1372 2040.8 1371.9 2038.2 1371.9 2035.6 1371.8 2033 1371.8 2030.4 1371.7 2027.8 1371.7 2025.2 1371.7 2022.6 1371.8 2020 1372 2017.4 1372.3 2014.8 1372.6 2012.2 1372.9 2009.6 1373.3 2007 1373.6 2004.4 1373.9 2001.8 1374.3 1999.2 1374.7 1996.6 1375.1 1994 1375.4 1991.4 1375.8 1988.8 1376.2 1986.2 1376.5 1983.6 1376.8 1981 1377.1 1978.4 1377.4 1975.8 1377.6 1973.2 1377.9 1970.6 1378.1 1968 1378.3 1965.4 1378.4 1962.8 1378.5 1960.2 1378.6 1957.6 1378.7 1955 1378.7 1952.4 1378.8 1949.8 1378.9 1947.2 1379 1944.6 1379.2 1942 1379.3 1939.4 1379.5 1936.8 1379.7 1934.2 1379.9 1931.6 1380.1 1929 1380.4 1926.4 1380.7 1923.8 1381 1921.2 1381.3 1918.6 1381.7 1916 1382.1 1913.4 1382.6 1910.8 1383.1 1908.2 1383.5 1905.6 1384.1 1903 1384.7 1900.4 1385.4 1897.8 1386.1 1895.2 1386.8 1892.6 1387.5 1890 1388.1 1887.4 1388.8 1884.8 1389.4 1882.2 1390 1879.6 1390.6 1877 1391.2 1874.4 1391.7 1871.8 1392.2 1869.2 1392.7 1866.6 1393.2 1864 1393.6 1861.4 1394 1858.8 1394.4 1856.2 1394.7 1853.6 1395.1 1851 1395.4 1848.4 1395.8 1845.8 1396.2 1843.2 1396.5 1840.6 1396.8 1838 1396.8 1835.4 1396.9 1832.8 1397 1830.2 1397 1827.6 1397.1 1825 1397.1 1822.4 1397.2 1819.8 1397.2 1817.2 1397.3 1814.6 1397.3 1812 1397.3 1809.4 1397.4 1806.8 1397.4 1804.2 1397.4 1801.6 1397.4 1799 1397.4 1796.4 1397.4 1793.8Z" fill="#99c2fa" stroke="none"/>
<g><line x1="1362.5" y1="2191" x2="1433.7" y2="2191" stroke="#000" stroke-width="3.4" stroke-linecap="round" stroke-dasharray="3.2 5.6"/><line x1="1375.99" y1="2006.3" x2="1420.21" y2="2006.3" stroke="#000" stroke-width="3.4" stroke-linecap="round" stroke-dasharray="3.2 5.6"/><line x1="1380.37" y1="2077.2" x2="1414.43" y2="2077.2" stroke="#000" stroke-width="4.4"/></g>
<g fill="#c8cbcb" fill-opacity="0.93"><circle cx="1397.4" cy="1923.2" r="3.7"/><circle cx="1397.4" cy="1928" r="3.7"/><circle cx="1397.4" cy="1932.8" r="3.7"/><circle cx="1397.4" cy="1937.6" r="3.7"/><circle cx="1397.4" cy="1944.2" r="3.7"/><circle cx="1397.4" cy="1950" r="3.7"/><circle cx="1397.4" cy="1966.6" r="3.7"/><circle cx="1397.4" cy="1975.3" r="3.7"/><circle cx="1397.4" cy="1979.58" r="3.7"/><circle cx="1397.4" cy="1983.87" r="3.7"/><circle cx="1397.4" cy="1988.15" r="3.7"/><circle cx="1397.4" cy="1992.43" r="3.7"/><circle cx="1397.4" cy="1996.72" r="3.7"/><circle cx="1397.4" cy="2001" r="3.7"/><circle cx="1397.4" cy="2005.28" r="3.7"/><circle cx="1397.4" cy="2009.57" r="3.7"/><circle cx="1397.4" cy="2013.85" r="3.7"/><circle cx="1397.4" cy="2018.13" r="3.7"/><circle cx="1397.4" cy="2022.42" r="3.7"/><circle cx="1397.4" cy="2026.7" r="3.7"/><circle cx="1397.4" cy="2030.98" r="3.7"/><circle cx="1397.4" cy="2035.27" r="3.7"/><circle cx="1397.4" cy="2039.55" r="3.7"/><circle cx="1397.4" cy="2043.83" r="3.7"/><circle cx="1397.4" cy="2048.12" r="3.7"/><circle cx="1397.4" cy="2052.4" r="3.7"/><circle cx="1397.4" cy="2056.68" r="3.7"/><circle cx="1397.4" cy="2060.97" r="3.7"/><circle cx="1397.4" cy="2065.25" r="3.7"/><circle cx="1397.4" cy="2069.53" r="3.7"/><circle cx="1397.4" cy="2073.82" r="3.7"/><circle cx="1397.4" cy="2078.1" r="3.7"/><circle cx="1397.4" cy="2086.8" r="3.7"/><circle cx="1397.4" cy="2091.1" r="3.7"/><circle cx="1397.4" cy="2099.1" r="3.7"/><circle cx="1397.4" cy="2103.62" r="3.7"/><circle cx="1397.4" cy="2108.15" r="3.7"/><circle cx="1397.4" cy="2112.67" r="3.7"/><circle cx="1397.4" cy="2117.2" r="3.7"/><circle cx="1397.4" cy="2144.7" r="3.7"/><circle cx="1397.4" cy="2154.8" r="3.7"/><circle cx="1397.4" cy="2167.1" r="3.7"/><circle cx="1397.4" cy="2172.2" r="3.7"/><circle cx="1397.4" cy="2190.7" r="3.7"/></g>
<path d="M1397.4 1793.5 L1397.4 1793.8 1397.4 1796.4 1397.4 1799 1397.4 1801.6 1397.4 1804.2 1397.4 1806.8 1397.5 1809.4 1397.5 1812 1397.5 1814.6 1397.6 1817.2 1397.6 1819.8 1397.7 1822.4 1397.7 1825 1397.8 1827.6 1397.8 1830.2 1397.9 1832.8 1398 1835.4 1398 1838 1398.3 1840.6 1398.6 1843.2 1399 1845.8 1399.4 1848.4 1399.7 1851 1400.1 1853.6 1400.4 1856.2 1400.8 1858.8 1401.2 1861.4 1401.6 1864 1402.1 1866.6 1402.6 1869.2 1403.1 1871.8 1403.6 1874.4 1404.2 1877 1404.8 1879.6 1405.4 1882.2 1406 1884.8 1406.7 1887.4 1407.3 1890 1408 1892.6 1408.7 1895.2 1409.4 1897.8 1410.1 1900.4 1410.7 1903 1411.3 1905.6 1411.7 1908.2 1412.2 1910.8 1412.7 1913.4 1413.1 1916 1413.5 1918.6 1413.8 1921.2 1414.1 1923.8 1414.4 1926.4 1414.7 1929 1414.9 1931.6 1415.1 1934.2 1415.3 1936.8 1415.5 1939.4 1415.6 1942 1415.8 1944.6 1415.9 1947.2 1416 1949.8 1416.1 1952.4 1416.1 1955 1416.2 1957.6 1416.3 1960.2 1416.4 1962.8 1416.5 1965.4 1416.7 1968 1416.9 1970.6 1417.2 1973.2 1417.4 1975.8 1417.7 1978.4 1418 1981 1418.3 1983.6 1418.6 1986.2 1419 1988.8 1419.4 1991.4 1419.7 1994 1420.1 1996.6 1420.5 1999.2 1420.9 2001.8 1421.2 2004.4 1421.5 2007 1421.9 2009.6 1422.2 2012.2 1422.5 2014.8 1422.8 2017.4 1423 2020 1423.1 2022.6 1423.1 2025.2 1423.1 2027.8 1423 2030.4 1423 2033 1422.9 2035.6 1422.9 2038.2 1422.8 2040.8 1422.7 2043.4 1422.5 2046 1422.1 2048.6 1421.6 2051.2 1421.1 2053.8 1420.5 2056.4 1420 2059 1419.5 2061.6 1418.9 2064.2 1418.3 2066.8 1417.7 2069.4 1417.1 2072 1416.5 2074.6 1416 2077.2 1415.6 2079.8 1415.2 2082.4 1414.8 2085 1414.4 2087.6 1414 2090.2 1413.7 2092.8 1413.5 2095.4 1413.4 2098 1413.4 2100.6 1413.4 2103.2 1413.5 2105.8 1413.5 2108.4 1413.6 2111 1413.7 2113.6 1413.8 2116.2 1413.9 2118.8 1414.2 2121.4 1414.6 2124 1415.2 2126.6 1416 2129.2 1416.8 2131.8 1417.6 2134.4 1418.4 2137 1419.3 2139.6 1420.3 2142.2 1421.4 2144.8 1422.6 2147.4 1423.9 2150 1425.1 2152.6 1426.2 2155.2 1427.2 2157.8 1428.2 2160.4 1429.2 2163 1430.2 2165.6 1431.1 2168.2 1431.9 2170.8 1432.6 2173.4 1433.2 2176 1433.6 2178.6 1434 2181.2 1434.4 2183.8 1434.7 2186.4 1434.9 2189 1434.9 2191.6 1434.7 2194.2 1434.3 2196.8 1433.8 2199.4 1433.2 2202 1432.5 2204.6 1431.8 2207.2 1430.9 2209.8 1429.7 2212.4 1428.4 2215 1427 2217.6 1425.5 2220.2 1424 2222.8 1422.5 2225.4 1421.1 2228 1419.6 2230.6 1418.1 2233.2 1416.6 2235.8 1415.1 2238.4 1413.6 2241 1412.3 2243.6 1411 2246.2 1409.8 2248.8 1408.7 2251.4 1407.5 2254 1406.5 2256.6 1405.5 2259.2 1404.6 2261.8 1403.7 2264.4 1403 2267 1402.3 2269.6 1401.7 2272.2 1401.1 2274.8 1400.5 2277.4 1400 2280 1399.5 2282.6 1399.1 2285.2 1398.8 2287.8 1398.4 2290.4 1398.1 2293 1397.9 2295.6 1397.8 2298.2 1397.7 2300.8 1397.7 2303.4 1397.6 2306 1397.5 2308.6 1397.5 2311.2 1397.5 2313.8 1397.4 2316.4 1397.4 2319 1397.4 2321.6 1397.4 2323 1397.4 2323 1397.4 2323 1397.4 2321.6 1397.4 2319 1397.4 2316.4 1397.3 2313.8 1397.3 2311.2 1397.3 2308.6 1397.2 2306 1397.1 2303.4 1397.1 2300.8 1397 2298.2 1396.9 2295.6 1396.7 2293 1396.4 2290.4 1396 2287.8 1395.7 2285.2 1395.3 2282.6 1394.8 2280 1394.3 2277.4 1393.7 2274.8 1393.1 2272.2 1392.5 2269.6 1391.8 2267 1391.1 2264.4 1390.2 2261.8 1389.3 2259.2 1388.3 2256.6 1387.3 2254 1386.1 2251.4 1385 2248.8 1383.8 2246.2 1382.5 2243.6 1381.2 2241 1379.7 2238.4 1378.2 2235.8 1376.7 2233.2 1375.2 2230.6 1373.7 2228 1372.3 2225.4 1370.8 2222.8 1369.3 2220.2 1367.8 2217.6 1366.4 2215 1365.1 2212.4 1363.9 2209.8 1363 2207.2 1362.3 2204.6 1361.6 2202 1361 2199.4 1360.5 2196.8 1360.1 2194.2 1359.9 2191.6 1359.9 2189 1360.1 2186.4 1360.4 2183.8 1360.8 2181.2 1361.2 2178.6 1361.6 2176 1362.2 2173.4 1362.9 2170.8 1363.7 2168.2 1364.6 2165.6 1365.6 2163 1366.6 2160.4 1367.6 2157.8 1368.6 2155.2 1369.7 2152.6 1370.9 2150 1372.2 2147.4 1373.4 2144.8 1374.5 2142.2 1375.5 2139.6 1376.4 2137 1377.2 2134.4 1378 2131.8 1378.8 2129.2 1379.6 2126.6 1380.2 2124 1380.6 2121.4 1380.9 2118.8 1381 2116.2 1381.1 2113.6 1381.2 2111 1381.3 2108.4 1381.3 2105.8 1381.4 2103.2 1381.4 2100.6 1381.4 2098 1381.3 2095.4 1381.1 2092.8 1380.8 2090.2 1380.4 2087.6 1380 2085 1379.6 2082.4 1379.2 2079.8 1378.8 2077.2 1378.3 2074.6 1377.7 2072 1377.1 2069.4 1376.5 2066.8 1375.9 2064.2 1375.3 2061.6 1374.8 2059 1374.3 2056.4 1373.7 2053.8 1373.2 2051.2 1372.7 2048.6 1372.3 2046 1372.1 2043.4 1372 2040.8 1371.9 2038.2 1371.9 2035.6 1371.8 2033 1371.8 2030.4 1371.7 2027.8 1371.7 2025.2 1371.7 2022.6 1371.8 2020 1372 2017.4 1372.3 2014.8 1372.6 2012.2 1372.9 2009.6 1373.3 2007 1373.6 2004.4 1373.9 2001.8 1374.3 1999.2 1374.7 1996.6 1375.1 1994 1375.4 1991.4 1375.8 1988.8 1376.2 1986.2 1376.5 1983.6 1376.8 1981 1377.1 1978.4 1377.4 1975.8 1377.6 1973.2 1377.9 1970.6 1378.1 1968 1378.3 1965.4 1378.4 1962.8 1378.5 1960.2 1378.6 1957.6 1378.7 1955 1378.7 1952.4 1378.8 1949.8 1378.9 1947.2 1379 1944.6 1379.2 1942 1379.3 1939.4 1379.5 1936.8 1379.7 1934.2 1379.9 1931.6 1380.1 1929 1380.4 1926.4 1380.7 1923.8 1381 1921.2 1381.3 1918.6 1381.7 1916 1382.1 1913.4 1382.6 1910.8 1383.1 1908.2 1383.5 1905.6 1384.1 1903 1384.7 1900.4 1385.4 1897.8 1386.1 1895.2 1386.8 1892.6 1387.5 1890 1388.1 1887.4 1388.8 1884.8 1389.4 1882.2 1390 1879.6 1390.6 1877 1391.2 1874.4 1391.7 1871.8 1392.2 1869.2 1392.7 1866.6 1393.2 1864 1393.6 1861.4 1394 1858.8 1394.4 1856.2 1394.7 1853.6 1395.1 1851 1395.4 1848.4 1395.8 1845.8 1396.2 1843.2 1396.5 1840.6 1396.8 1838 1396.8 1835.4 1396.9 1832.8 1397 1830.2 1397 1827.6 1397.1 1825 1397.1 1822.4 1397.2 1819.8 1397.2 1817.2 1397.3 1814.6 1397.3 1812 1397.3 1809.4 1397.4 1806.8 1397.4 1804.2 1397.4 1801.6 1397.4 1799 1397.4 1796.4 1397.4 1793.8Z" fill="none" stroke="#000" stroke-width="1.75" stroke-linejoin="round"/>
<path d="M1513 1731.8 L1513 1732.1 1513 1734.7 1513 1737.3 1513 1739.9 1513 1742.5 1513 1745.1 1513 1747.7 1513 1750.3 1513.1 1752.9 1513.1 1755.5 1513.1 1758.1 1513.1 1760.7 1513.1 1763.3 1513.2 1765.9 1513.2 1768.5 1513.2 1771.1 1513.2 1773.7 1513.3 1776.3 1513.3 1778.9 1513.3 1781.5 1513.4 1784.1 1513.4 1786.7 1513.5 1789.3 1513.5 1791.9 1513.5 1794.5 1513.6 1797.1 1513.6 1799.7 1513.7 1802.3 1513.8 1804.9 1514 1807.5 1514.1 1810.1 1514.2 1812.7 1514.4 1815.3 1514.5 1817.9 1514.7 1820.5 1514.9 1823.1 1515.1 1825.7 1515.3 1828.3 1515.5 1830.9 1515.8 1833.5 1516.1 1836.1 1516.5 1838.7 1516.9 1841.3 1517.2 1843.9 1517.6 1846.5 1518 1849.1 1518.4 1851.7 1518.9 1854.3 1519.4 1856.9 1519.8 1859.5 1520.3 1862.1 1520.8 1864.7 1521.2 1867.3 1521.6 1869.9 1522 1872.5 1522.4 1875.1 1522.8 1877.7 1523.2 1880.3 1523.6 1882.9 1524 1885.5 1524.4 1888.1 1524.8 1890.7 1525.1 1893.3 1525.5 1895.9 1525.9 1898.5 1526.3 1901.1 1526.7 1903.7 1527.1 1906.3 1527.5 1908.9 1527.8 1911.5 1528.2 1914.1 1528.6 1916.7 1529 1919.3 1529.4 1921.9 1529.8 1924.5 1530.2 1927.1 1530.6 1929.7 1531.1 1932.3 1531.5 1934.9 1532 1937.5 1532.4 1940.1 1532.9 1942.7 1533.4 1945.3 1533.8 1947.9 1534.3 1950.5 1534.7 1953.1 1535.2 1955.7 1535.6 1958.3 1536.1 1960.9 1536.6 1963.5 1537.1 1966.1 1537.6 1968.7 1538.2 1971.3 1538.7 1973.9 1539.3 1976.5 1539.8 1979.1 1540.4 1981.7 1540.9 1984.3 1541.5 1986.9 1542 1989.5 1542.5 1992.1 1543 1994.7 1543.6 1997.3 1544.1 1999.9 1544.6 2002.5 1545 2005.1 1545.5 2007.7 1546 2010.3 1546.5 2012.9 1547 2015.5 1547.4 2018.1 1547.8 2020.7 1548.2 2023.3 1548.5 2025.9 1548.8 2028.5 1549.1 2031.1 1549.4 2033.7 1549.6 2036.3 1549.9 2038.9 1550 2041.5 1550.2 2044.1 1550.3 2046.7 1550.4 2049.3 1550.5 2051.9 1550.5 2054.5 1550.5 2057.1 1550.4 2059.7 1550.2 2062.3 1550 2064.9 1549.7 2067.5 1549.4 2070.1 1549.1 2072.7 1548.7 2075.3 1548.4 2077.9 1548.2 2080.5 1547.9 2083.1 1547.5 2085.7 1547.2 2088.3 1546.9 2090.9 1546.5 2093.5 1546.2 2096.1 1545.8 2098.7 1545.5 2101.3 1545.1 2103.9 1544.7 2106.5 1544.3 2109.1 1544 2111.7 1543.6 2114.3 1543.3 2116.9 1543 2119.5 1542.7 2122.1 1542.4 2124.7 1542.1 2127.3 1541.9 2129.9 1541.6 2132.5 1541.4 2135.1 1541.1 2137.7 1540.9 2140.3 1540.6 2142.9 1540.4 2145.5 1540.2 2148.1 1540 2150.7 1539.8 2153.3 1539.5 2155.9 1539.3 2158.5 1539.1 2161.1 1538.9 2163.7 1538.7 2166.3 1538.4 2168.9 1538.2 2171.5 1538 2174.1 1537.7 2176.7 1537.5 2179.3 1537.2 2181.9 1537 2184.5 1536.7 2187.1 1536.4 2189.7 1536.1 2192.3 1535.7 2194.9 1535.4 2197.5 1535 2200.1 1534.5 2202.7 1534.1 2205.3 1533.6 2207.9 1533 2210.5 1532.5 2213.1 1532 2215.7 1531.5 2218.3 1531 2220.9 1530.5 2223.5 1529.9 2226.1 1529.4 2228.7 1528.8 2231.3 1528.3 2233.9 1527.8 2236.5 1527.2 2239.1 1526.7 2241.7 1526.2 2244.3 1525.7 2246.9 1525.2 2249.5 1524.7 2252.1 1524.1 2254.7 1523.6 2257.3 1523.1 2259.9 1522.5 2262.5 1522 2265.1 1521.5 2267.7 1521 2270.3 1520.5 2272.9 1520 2275.5 1519.6 2278.1 1519.2 2280.7 1518.8 2283.3 1518.4 2285.9 1518 2288.5 1517.7 2291.1 1517.3 2293.7 1517 2296.3 1516.6 2298.9 1516.3 2301.5 1516 2304.1 1515.6 2306.7 1515.3 2309.3 1515.1 2311.9 1514.9 2314.5 1514.7 2317.1 1514.5 2319.7 1514.4 2322.3 1514.2 2324.9 1514.1 2327.5 1514 2330.1 1513.8 2332.7 1513.7 2335.3 1513.6 2337.9 1513.5 2340.5 1513.5 2343.1 1513.4 2345.7 1513.4 2348.3 1513.3 2350.9 1513.3 2353.5 1513.2 2356.1 1513.2 2358.7 1513.2 2361.3 1513.1 2363.9 1513.1 2366.5 1513.1 2369.1 1513.1 2371.7 1513 2374.3 1513 2376.9 1513 2379.5 1513 2382.1 1513 2384.7 1513 2385.1 1513 2385.1 1513 2385.1 1513 2384.7 1513 2382.1 1513 2379.5 1513 2376.9 1513 2374.3 1512.9 2371.7 1512.9 2369.1 1512.9 2366.5 1512.9 2363.9 1512.8 2361.3 1512.8 2358.7 1512.8 2356.1 1512.7 2353.5 1512.7 2350.9 1512.6 2348.3 1512.6 2345.7 1512.5 2343.1 1512.5 2340.5 1512.4 2337.9 1512.3 2335.3 1512.2 2332.7 1512 2330.1 1511.9 2327.5 1511.8 2324.9 1511.6 2322.3 1511.5 2319.7 1511.3 2317.1 1511.1 2314.5 1510.9 2311.9 1510.7 2309.3 1510.4 2306.7 1510 2304.1 1509.7 2301.5 1509.4 2298.9 1509 2296.3 1508.7 2293.7 1508.3 2291.1 1508 2288.5 1507.6 2285.9 1507.2 2283.3 1506.8 2280.7 1506.4 2278.1 1506 2275.5 1505.5 2272.9 1505 2270.3 1504.5 2267.7 1504 2265.1 1503.5 2262.5 1502.9 2259.9 1502.4 2257.3 1501.9 2254.7 1501.3 2252.1 1500.8 2249.5 1500.3 2246.9 1499.8 2244.3 1499.3 2241.7 1498.8 2239.1 1498.2 2236.5 1497.7 2233.9 1497.2 2231.3 1496.6 2228.7 1496.1 2226.1 1495.5 2223.5 1495 2220.9 1494.5 2218.3 1494 2215.7 1493.5 2213.1 1493 2210.5 1492.4 2207.9 1491.9 2205.3 1491.5 2202.7 1491 2200.1 1490.6 2197.5 1490.3 2194.9 1489.9 2192.3 1489.6 2189.7 1489.3 2187.1 1489 2184.5 1488.8 2181.9 1488.5 2179.3 1488.3 2176.7 1488 2174.1 1487.8 2171.5 1487.6 2168.9 1487.3 2166.3 1487.1 2163.7 1486.9 2161.1 1486.7 2158.5 1486.5 2155.9 1486.2 2153.3 1486 2150.7 1485.8 2148.1 1485.6 2145.5 1485.4 2142.9 1485.1 2140.3 1484.9 2137.7 1484.6 2135.1 1484.4 2132.5 1484.1 2129.9 1483.9 2127.3 1483.6 2124.7 1483.3 2122.1 1483 2119.5 1482.7 2116.9 1482.4 2114.3 1482 2111.7 1481.7 2109.1 1481.3 2106.5 1480.9 2103.9 1480.5 2101.3 1480.2 2098.7 1479.8 2096.1 1479.5 2093.5 1479.1 2090.9 1478.8 2088.3 1478.5 2085.7 1478.1 2083.1 1477.8 2080.5 1477.6 2077.9 1477.3 2075.3 1476.9 2072.7 1476.6 2070.1 1476.3 2067.5 1476 2064.9 1475.8 2062.3 1475.6 2059.7 1475.5 2057.1 1475.5 2054.5 1475.5 2051.9 1475.6 2049.3 1475.7 2046.7 1475.8 2044.1 1476 2041.5 1476.1 2038.9 1476.4 2036.3 1476.6 2033.7 1476.9 2031.1 1477.2 2028.5 1477.5 2025.9 1477.8 2023.3 1478.2 2020.7 1478.6 2018.1 1479 2015.5 1479.5 2012.9 1480 2010.3 1480.5 2007.7 1481 2005.1 1481.4 2002.5 1481.9 1999.9 1482.4 1997.3 1483 1994.7 1483.5 1992.1 1484 1989.5 1484.5 1986.9 1485.1 1984.3 1485.6 1981.7 1486.2 1979.1 1486.7 1976.5 1487.3 1973.9 1487.8 1971.3 1488.4 1968.7 1488.9 1966.1 1489.4 1963.5 1489.9 1960.9 1490.4 1958.3 1490.8 1955.7 1491.3 1953.1 1491.7 1950.5 1492.2 1947.9 1492.6 1945.3 1493.1 1942.7 1493.6 1940.1 1494 1937.5 1494.5 1934.9 1494.9 1932.3 1495.4 1929.7 1495.8 1927.1 1496.2 1924.5 1496.6 1921.9 1497 1919.3 1497.4 1916.7 1497.8 1914.1 1498.2 1911.5 1498.5 1908.9 1498.9 1906.3 1499.3 1903.7 1499.7 1901.1 1500.1 1898.5 1500.5 1895.9 1500.9 1893.3 1501.2 1890.7 1501.6 1888.1 1502 1885.5 1502.4 1882.9 1502.8 1880.3 1503.2 1877.7 1503.6 1875.1 1504 1872.5 1504.4 1869.9 1504.8 1867.3 1505.2 1864.7 1505.7 1862.1 1506.2 1859.5 1506.6 1856.9 1507.1 1854.3 1507.6 1851.7 1508 1849.1 1508.4 1846.5 1508.8 1843.9 1509.1 1841.3 1509.5 1838.7 1509.9 1836.1 1510.2 1833.5 1510.5 1830.9 1510.7 1828.3 1510.9 1825.7 1511.1 1823.1 1511.3 1820.5 1511.5 1817.9 1511.6 1815.3 1511.8 1812.7 1511.9 1810.1 1512 1807.5 1512.2 1804.9 1512.3 1802.3 1512.4 1799.7 1512.4 1797.1 1512.5 1794.5 1512.5 1791.9 1512.5 1789.3 1512.6 1786.7 1512.6 1784.1 1512.7 1781.5 1512.7 1778.9 1512.7 1776.3 1512.8 1773.7 1512.8 1771.1 1512.8 1768.5 1512.8 1765.9 1512.9 1763.3 1512.9 1760.7 1512.9 1758.1 1512.9 1755.5 1512.9 1752.9 1513 1750.3 1513 1747.7 1513 1745.1 1513 1742.5 1513 1739.9 1513 1737.3 1513 1734.7 1513 1732.1Z" fill="#57a0fa" stroke="none"/>
<g><line x1="1492.37" y1="2191" x2="1535.03" y2="2191" stroke="#000" stroke-width="3.4" stroke-linecap="round" stroke-dasharray="3.2 5.6"/><line x1="1480.95" y1="2019.4" x2="1546.45" y2="2019.4" stroke="#000" stroke-width="3.4" stroke-linecap="round" stroke-dasharray="3.2 5.6"/><line x1="1477.15" y1="2051.4" x2="1548.85" y2="2051.4" stroke="#000" stroke-width="4.4"/></g>
<g fill="#c8cbcb" fill-opacity="0.93"><circle cx="1513" cy="1925.4" r="3.7"/><circle cx="1513" cy="2006.7" r="3.7"/><circle cx="1513" cy="2024.3" r="3.7"/><circle cx="1513" cy="2038" r="3.7"/><circle cx="1513" cy="2042" r="3.7"/><circle cx="1513" cy="2046" r="3.7"/><circle cx="1513" cy="2050" r="3.7"/><circle cx="1513" cy="2055.7" r="3.7"/><circle cx="1513" cy="2084.7" r="3.7"/><circle cx="1513" cy="2095.8" r="3.7"/><circle cx="1513" cy="2112.1" r="3.7"/><circle cx="1513" cy="2191.2" r="3.7"/></g>
<path d="M1513 1731.8 L1513 1732.1 1513 1734.7 1513 1737.3 1513 1739.9 1513 1742.5 1513 1745.1 1513 1747.7 1513 1750.3 1513.1 1752.9 1513.1 1755.5 1513.1 1758.1 1513.1 1760.7 1513.1 1763.3 1513.2 1765.9 1513.2 1768.5 1513.2 1771.1 1513.2 1773.7 1513.3 1776.3 1513.3 1778.9 1513.3 1781.5 1513.4 1784.1 1513.4 1786.7 1513.5 1789.3 1513.5 1791.9 1513.5 1794.5 1513.6 1797.1 1513.6 1799.7 1513.7 1802.3 1513.8 1804.9 1514 1807.5 1514.1 1810.1 1514.2 1812.7 1514.4 1815.3 1514.5 1817.9 1514.7 1820.5 1514.9 1823.1 1515.1 1825.7 1515.3 1828.3 1515.5 1830.9 1515.8 1833.5 1516.1 1836.1 1516.5 1838.7 1516.9 1841.3 1517.2 1843.9 1517.6 1846.5 1518 1849.1 1518.4 1851.7 1518.9 1854.3 1519.4 1856.9 1519.8 1859.5 1520.3 1862.1 1520.8 1864.7 1521.2 1867.3 1521.6 1869.9 1522 1872.5 1522.4 1875.1 1522.8 1877.7 1523.2 1880.3 1523.6 1882.9 1524 1885.5 1524.4 1888.1 1524.8 1890.7 1525.1 1893.3 1525.5 1895.9 1525.9 1898.5 1526.3 1901.1 1526.7 1903.7 1527.1 1906.3 1527.5 1908.9 1527.8 1911.5 1528.2 1914.1 1528.6 1916.7 1529 1919.3 1529.4 1921.9 1529.8 1924.5 1530.2 1927.1 1530.6 1929.7 1531.1 1932.3 1531.5 1934.9 1532 1937.5 1532.4 1940.1 1532.9 1942.7 1533.4 1945.3 1533.8 1947.9 1534.3 1950.5 1534.7 1953.1 1535.2 1955.7 1535.6 1958.3 1536.1 1960.9 1536.6 1963.5 1537.1 1966.1 1537.6 1968.7 1538.2 1971.3 1538.7 1973.9 1539.3 1976.5 1539.8 1979.1 1540.4 1981.7 1540.9 1984.3 1541.5 1986.9 1542 1989.5 1542.5 1992.1 1543 1994.7 1543.6 1997.3 1544.1 1999.9 1544.6 2002.5 1545 2005.1 1545.5 2007.7 1546 2010.3 1546.5 2012.9 1547 2015.5 1547.4 2018.1 1547.8 2020.7 1548.2 2023.3 1548.5 2025.9 1548.8 2028.5 1549.1 2031.1 1549.4 2033.7 1549.6 2036.3 1549.9 2038.9 1550 2041.5 1550.2 2044.1 1550.3 2046.7 1550.4 2049.3 1550.5 2051.9 1550.5 2054.5 1550.5 2057.1 1550.4 2059.7 1550.2 2062.3 1550 2064.9 1549.7 2067.5 1549.4 2070.1 1549.1 2072.7 1548.7 2075.3 1548.4 2077.9 1548.2 2080.5 1547.9 2083.1 1547.5 2085.7 1547.2 2088.3 1546.9 2090.9 1546.5 2093.5 1546.2 2096.1 1545.8 2098.7 1545.5 2101.3 1545.1 2103.9 1544.7 2106.5 1544.3 2109.1 1544 2111.7 1543.6 2114.3 1543.3 2116.9 1543 2119.5 1542.7 2122.1 1542.4 2124.7 1542.1 2127.3 1541.9 2129.9 1541.6 2132.5 1541.4 2135.1 1541.1 2137.7 1540.9 2140.3 1540.6 2142.9 1540.4 2145.5 1540.2 2148.1 1540 2150.7 1539.8 2153.3 1539.5 2155.9 1539.3 2158.5 1539.1 2161.1 1538.9 2163.7 1538.7 2166.3 1538.4 2168.9 1538.2 2171.5 1538 2174.1 1537.7 2176.7 1537.5 2179.3 1537.2 2181.9 1537 2184.5 1536.7 2187.1 1536.4 2189.7 1536.1 2192.3 1535.7 2194.9 1535.4 2197.5 1535 2200.1 1534.5 2202.7 1534.1 2205.3 1533.6 2207.9 1533 2210.5 1532.5 2213.1 1532 2215.7 1531.5 2218.3 1531 2220.9 1530.5 2223.5 1529.9 2226.1 1529.4 2228.7 1528.8 2231.3 1528.3 2233.9 1527.8 2236.5 1527.2 2239.1 1526.7 2241.7 1526.2 2244.3 1525.7 2246.9 1525.2 2249.5 1524.7 2252.1 1524.1 2254.7 1523.6 2257.3 1523.1 2259.9 1522.5 2262.5 1522 2265.1 1521.5 2267.7 1521 2270.3 1520.5 2272.9 1520 2275.5 1519.6 2278.1 1519.2 2280.7 1518.8 2283.3 1518.4 2285.9 1518 2288.5 1517.7 2291.1 1517.3 2293.7 1517 2296.3 1516.6 2298.9 1516.3 2301.5 1516 2304.1 1515.6 2306.7 1515.3 2309.3 1515.1 2311.9 1514.9 2314.5 1514.7 2317.1 1514.5 2319.7 1514.4 2322.3 1514.2 2324.9 1514.1 2327.5 1514 2330.1 1513.8 2332.7 1513.7 2335.3 1513.6 2337.9 1513.5 2340.5 1513.5 2343.1 1513.4 2345.7 1513.4 2348.3 1513.3 2350.9 1513.3 2353.5 1513.2 2356.1 1513.2 2358.7 1513.2 2361.3 1513.1 2363.9 1513.1 2366.5 1513.1 2369.1 1513.1 2371.7 1513 2374.3 1513 2376.9 1513 2379.5 1513 2382.1 1513 2384.7 1513 2385.1 1513 2385.1 1513 2385.1 1513 2384.7 1513 2382.1 1513 2379.5 1513 2376.9 1513 2374.3 1512.9 2371.7 1512.9 2369.1 1512.9 2366.5 1512.9 2363.9 1512.8 2361.3 1512.8 2358.7 1512.8 2356.1 1512.7 2353.5 1512.7 2350.9 1512.6 2348.3 1512.6 2345.7 1512.5 2343.1 1512.5 2340.5 1512.4 2337.9 1512.3 2335.3 1512.2 2332.7 1512 2330.1 1511.9 2327.5 1511.8 2324.9 1511.6 2322.3 1511.5 2319.7 1511.3 2317.1 1511.1 2314.5 1510.9 2311.9 1510.7 2309.3 1510.4 2306.7 1510 2304.1 1509.7 2301.5 1509.4 2298.9 1509 2296.3 1508.7 2293.7 1508.3 2291.1 1508 2288.5 1507.6 2285.9 1507.2 2283.3 1506.8 2280.7 1506.4 2278.1 1506 2275.5 1505.5 2272.9 1505 2270.3 1504.5 2267.7 1504 2265.1 1503.5 2262.5 1502.9 2259.9 1502.4 2257.3 1501.9 2254.7 1501.3 2252.1 1500.8 2249.5 1500.3 2246.9 1499.8 2244.3 1499.3 2241.7 1498.8 2239.1 1498.2 2236.5 1497.7 2233.9 1497.2 2231.3 1496.6 2228.7 1496.1 2226.1 1495.5 2223.5 1495 2220.9 1494.5 2218.3 1494 2215.7 1493.5 2213.1 1493 2210.5 1492.4 2207.9 1491.9 2205.3 1491.5 2202.7 1491 2200.1 1490.6 2197.5 1490.3 2194.9 1489.9 2192.3 1489.6 2189.7 1489.3 2187.1 1489 2184.5 1488.8 2181.9 1488.5 2179.3 1488.3 2176.7 1488 2174.1 1487.8 2171.5 1487.6 2168.9 1487.3 2166.3 1487.1 2163.7 1486.9 2161.1 1486.7 2158.5 1486.5 2155.9 1486.2 2153.3 1486 2150.7 1485.8 2148.1 1485.6 2145.5 1485.4 2142.9 1485.1 2140.3 1484.9 2137.7 1484.6 2135.1 1484.4 2132.5 1484.1 2129.9 1483.9 2127.3 1483.6 2124.7 1483.3 2122.1 1483 2119.5 1482.7 2116.9 1482.4 2114.3 1482 2111.7 1481.7 2109.1 1481.3 2106.5 1480.9 2103.9 1480.5 2101.3 1480.2 2098.7 1479.8 2096.1 1479.5 2093.5 1479.1 2090.9 1478.8 2088.3 1478.5 2085.7 1478.1 2083.1 1477.8 2080.5 1477.6 2077.9 1477.3 2075.3 1476.9 2072.7 1476.6 2070.1 1476.3 2067.5 1476 2064.9 1475.8 2062.3 1475.6 2059.7 1475.5 2057.1 1475.5 2054.5 1475.5 2051.9 1475.6 2049.3 1475.7 2046.7 1475.8 2044.1 1476 2041.5 1476.1 2038.9 1476.4 2036.3 1476.6 2033.7 1476.9 2031.1 1477.2 2028.5 1477.5 2025.9 1477.8 2023.3 1478.2 2020.7 1478.6 2018.1 1479 2015.5 1479.5 2012.9 1480 2010.3 1480.5 2007.7 1481 2005.1 1481.4 2002.5 1481.9 1999.9 1482.4 1997.3 1483 1994.7 1483.5 1992.1 1484 1989.5 1484.5 1986.9 1485.1 1984.3 1485.6 1981.7 1486.2 1979.1 1486.7 1976.5 1487.3 1973.9 1487.8 1971.3 1488.4 1968.7 1488.9 1966.1 1489.4 1963.5 1489.9 1960.9 1490.4 1958.3 1490.8 1955.7 1491.3 1953.1 1491.7 1950.5 1492.2 1947.9 1492.6 1945.3 1493.1 1942.7 1493.6 1940.1 1494 1937.5 1494.5 1934.9 1494.9 1932.3 1495.4 1929.7 1495.8 1927.1 1496.2 1924.5 1496.6 1921.9 1497 1919.3 1497.4 1916.7 1497.8 1914.1 1498.2 1911.5 1498.5 1908.9 1498.9 1906.3 1499.3 1903.7 1499.7 1901.1 1500.1 1898.5 1500.5 1895.9 1500.9 1893.3 1501.2 1890.7 1501.6 1888.1 1502 1885.5 1502.4 1882.9 1502.8 1880.3 1503.2 1877.7 1503.6 1875.1 1504 1872.5 1504.4 1869.9 1504.8 1867.3 1505.2 1864.7 1505.7 1862.1 1506.2 1859.5 1506.6 1856.9 1507.1 1854.3 1507.6 1851.7 1508 1849.1 1508.4 1846.5 1508.8 1843.9 1509.1 1841.3 1509.5 1838.7 1509.9 1836.1 1510.2 1833.5 1510.5 1830.9 1510.7 1828.3 1510.9 1825.7 1511.1 1823.1 1511.3 1820.5 1511.5 1817.9 1511.6 1815.3 1511.8 1812.7 1511.9 1810.1 1512 1807.5 1512.2 1804.9 1512.3 1802.3 1512.4 1799.7 1512.4 1797.1 1512.5 1794.5 1512.5 1791.9 1512.5 1789.3 1512.6 1786.7 1512.6 1784.1 1512.7 1781.5 1512.7 1778.9 1512.7 1776.3 1512.8 1773.7 1512.8 1771.1 1512.8 1768.5 1512.8 1765.9 1512.9 1763.3 1512.9 1760.7 1512.9 1758.1 1512.9 1755.5 1512.9 1752.9 1513 1750.3 1513 1747.7 1513 1745.1 1513 1742.5 1513 1739.9 1513 1737.3 1513 1734.7 1513 1732.1Z" fill="none" stroke="#000" stroke-width="1.75" stroke-linejoin="round"/>
<path d="M1628.7 1785.7 L1628.7 1786 1628.7 1788.6 1628.7 1791.2 1628.7 1793.8 1628.7 1796.4 1628.8 1799 1628.8 1801.6 1628.8 1804.2 1628.9 1806.8 1628.9 1809.4 1629 1812 1629 1814.6 1629.1 1817.2 1629.1 1819.8 1629.2 1822.4 1629.2 1825 1629.3 1827.6 1629.4 1830.2 1629.5 1832.8 1629.7 1835.4 1629.9 1838 1630.1 1840.6 1630.5 1843.2 1630.8 1845.8 1631.2 1848.4 1631.6 1851 1631.9 1853.6 1632.3 1856.2 1632.8 1858.8 1633.2 1861.4 1633.7 1864 1634.3 1866.6 1634.9 1869.2 1635.6 1871.8 1636.4 1874.4 1637.2 1877 1638 1879.6 1638.9 1882.2 1639.7 1884.8 1640.5 1887.4 1641.4 1890 1642.3 1892.6 1643.2 1895.2 1644 1897.8 1644.9 1900.4 1645.7 1903 1646.5 1905.6 1647.3 1908.2 1648.1 1910.8 1648.8 1913.4 1649.6 1916 1650.3 1918.6 1650.9 1921.2 1651.6 1923.8 1652.1 1926.4 1652.6 1929 1653.1 1931.6 1653.6 1934.2 1654.1 1936.8 1654.5 1939.4 1654.9 1942 1655.2 1944.6 1655.6 1947.2 1655.9 1949.8 1656.1 1952.4 1656.4 1955 1656.6 1957.6 1656.9 1960.2 1657.1 1962.8 1657.4 1965.4 1657.7 1968 1657.9 1970.6 1658.2 1973.2 1658.5 1975.8 1658.7 1978.4 1659 1981 1659.3 1983.6 1659.6 1986.2 1660 1988.8 1660.3 1991.4 1660.7 1994 1661 1996.6 1661.4 1999.2 1661.7 2001.8 1662.1 2004.4 1662.4 2007 1662.8 2009.6 1663.2 2012.2 1663.6 2014.8 1663.9 2017.4 1664.2 2020 1664.5 2022.6 1664.8 2025.2 1665.1 2027.8 1665.3 2030.4 1665.6 2033 1665.8 2035.6 1666 2038.2 1666.1 2040.8 1666.1 2043.4 1666.1 2046 1666.1 2048.6 1666 2051.2 1665.7 2053.8 1665.3 2056.4 1664.7 2059 1664.2 2061.6 1663.6 2064.2 1662.9 2066.8 1662.2 2069.4 1661.4 2072 1660.6 2074.6 1659.8 2077.2 1658.9 2079.8 1658 2082.4 1656.9 2085 1655.8 2087.6 1654.7 2090.2 1653.6 2092.8 1652.5 2095.4 1651.5 2098 1650.5 2100.6 1649.6 2103.2 1648.6 2105.8 1647.7 2108.4 1646.8 2111 1646 2113.6 1645.3 2116.2 1644.8 2118.8 1644.3 2121.4 1643.9 2124 1643.5 2126.6 1643.1 2129.2 1642.8 2131.8 1642.6 2134.4 1642.5 2137 1642.5 2139.6 1642.6 2142.2 1642.7 2144.8 1642.9 2147.4 1643.1 2150 1643.2 2152.6 1643.4 2155.2 1643.6 2157.8 1643.8 2160.4 1644.1 2163 1644.3 2165.6 1644.6 2168.2 1644.8 2170.8 1645 2173.4 1645.1 2176 1645.1 2178.6 1645.1 2181.2 1645.1 2183.8 1645.1 2186.4 1645.1 2189 1645 2191.6 1644.8 2194.2 1644.5 2196.8 1644.2 2199.4 1643.8 2202 1643.4 2204.6 1643 2207.2 1642.5 2209.8 1641.9 2212.4 1641.3 2215 1640.6 2217.6 1639.9 2220.2 1639.3 2222.8 1638.6 2225.4 1638 2228 1637.5 2230.6 1636.9 2233.2 1636.3 2235.8 1635.7 2238.4 1635.2 2241 1634.7 2243.6 1634.2 2246.2 1633.7 2248.8 1633.3 2251.4 1632.8 2254 1632.4 2256.6 1632.1 2259.2 1631.7 2261.8 1631.4 2264.4 1631.1 2267 1630.9 2269.6 1630.6 2272.2 1630.4 2274.8 1630.2 2277.4 1630 2280 1629.8 2282.6 1629.7 2285.2 1629.5 2287.8 1629.3 2290.4 1629.2 2293 1629.2 2295.6 1629.1 2298.2 1629 2300.8 1629 2303.4 1628.9 2306 1628.9 2308.6 1628.9 2311.2 1628.8 2313.8 1628.8 2316.4 1628.8 2319 1628.7 2321.6 1628.7 2324.2 1628.7 2326.8 1628.7 2329.4 1628.7 2330.4 1628.7 2330.4 1628.7 2330.4 1628.7 2329.4 1628.7 2326.8 1628.7 2324.2 1628.7 2321.6 1628.6 2319 1628.6 2316.4 1628.6 2313.8 1628.5 2311.2 1628.5 2308.6 1628.5 2306 1628.4 2303.4 1628.4 2300.8 1628.3 2298.2 1628.2 2295.6 1628.2 2293 1628.1 2290.4 1627.9 2287.8 1627.7 2285.2 1627.6 2282.6 1627.4 2280 1627.2 2277.4 1627 2274.8 1626.8 2272.2 1626.5 2269.6 1626.3 2267 1626 2264.4 1625.7 2261.8 1625.3 2259.2 1625 2256.6 1624.6 2254 1624.1 2251.4 1623.7 2248.8 1623.2 2246.2 1622.7 2243.6 1622.2 2241 1621.7 2238.4 1621.1 2235.8 1620.5 2233.2 1619.9 2230.6 1619.4 2228 1618.8 2225.4 1618.1 2222.8 1617.5 2220.2 1616.8 2217.6 1616.1 2215 1615.5 2212.4 1614.9 2209.8 1614.4 2207.2 1614 2204.6 1613.6 2202 1613.2 2199.4 1612.9 2196.8 1612.6 2194.2 1612.4 2191.6 1612.3 2189 1612.3 2186.4 1612.3 2183.8 1612.3 2181.2 1612.3 2178.6 1612.3 2176 1612.4 2173.4 1612.6 2170.8 1612.8 2168.2 1613.1 2165.6 1613.3 2163 1613.6 2160.4 1613.8 2157.8 1614 2155.2 1614.2 2152.6 1614.3 2150 1614.5 2147.4 1614.7 2144.8 1614.8 2142.2 1614.9 2139.6 1614.9 2137 1614.8 2134.4 1614.6 2131.8 1614.3 2129.2 1613.9 2126.6 1613.5 2124 1613.1 2121.4 1612.6 2118.8 1612.1 2116.2 1611.4 2113.6 1610.6 2111 1609.7 2108.4 1608.8 2105.8 1607.8 2103.2 1606.9 2100.6 1605.9 2098 1604.9 2095.4 1603.8 2092.8 1602.7 2090.2 1601.6 2087.6 1600.5 2085 1599.4 2082.4 1598.5 2079.8 1597.6 2077.2 1596.8 2074.6 1596 2072 1595.2 2069.4 1594.5 2066.8 1593.8 2064.2 1593.2 2061.6 1592.7 2059 1592.1 2056.4 1591.7 2053.8 1591.4 2051.2 1591.3 2048.6 1591.3 2046 1591.3 2043.4 1591.3 2040.8 1591.4 2038.2 1591.6 2035.6 1591.8 2033 1592.1 2030.4 1592.3 2027.8 1592.6 2025.2 1592.9 2022.6 1593.2 2020 1593.5 2017.4 1593.8 2014.8 1594.2 2012.2 1594.6 2009.6 1595 2007 1595.3 2004.4 1595.7 2001.8 1596 1999.2 1596.4 1996.6 1596.7 1994 1597.1 1991.4 1597.4 1988.8 1597.8 1986.2 1598.1 1983.6 1598.4 1981 1598.7 1978.4 1598.9 1975.8 1599.2 1973.2 1599.5 1970.6 1599.7 1968 1600 1965.4 1600.3 1962.8 1600.5 1960.2 1600.8 1957.6 1601 1955 1601.3 1952.4 1601.5 1949.8 1601.8 1947.2 1602.2 1944.6 1602.5 1942 1602.9 1939.4 1603.3 1936.8 1603.8 1934.2 1604.3 1931.6 1604.8 1929 1605.3 1926.4 1605.8 1923.8 1606.5 1921.2 1607.1 1918.6 1607.8 1916 1608.6 1913.4 1609.3 1910.8 1610.1 1908.2 1610.9 1905.6 1611.7 1903 1612.5 1900.4 1613.4 1897.8 1614.2 1895.2 1615.1 1892.6 1616 1890 1616.9 1887.4 1617.7 1884.8 1618.5 1882.2 1619.4 1879.6 1620.2 1877 1621 1874.4 1621.8 1871.8 1622.5 1869.2 1623.1 1866.6 1623.7 1864 1624.2 1861.4 1624.6 1858.8 1625.1 1856.2 1625.5 1853.6 1625.8 1851 1626.2 1848.4 1626.6 1845.8 1626.9 1843.2 1627.3 1840.6 1627.5 1838 1627.7 1835.4 1627.9 1832.8 1628 1830.2 1628.1 1827.6 1628.2 1825 1628.2 1822.4 1628.3 1819.8 1628.3 1817.2 1628.4 1814.6 1628.4 1812 1628.5 1809.4 1628.5 1806.8 1628.6 1804.2 1628.6 1801.6 1628.6 1799 1628.7 1796.4 1628.7 1793.8 1628.7 1791.2 1628.7 1788.6 1628.7 1786Z" fill="#2b87fa" stroke="none"/>
<g><line x1="1601.1" y1="2079.8" x2="1657.7" y2="2079.8" stroke="#000" stroke-width="3.4" stroke-linecap="round" stroke-dasharray="3.2 5.6"/><line x1="1602.34" y1="1968.1" x2="1656.46" y2="1968.1" stroke="#000" stroke-width="3.4" stroke-linecap="round" stroke-dasharray="3.2 5.6"/><line x1="1592.9" y1="2044.3" x2="1664.5" y2="2044.3" stroke="#000" stroke-width="4.4"/></g>
<g fill="#c8cbcb" fill-opacity="0.93"><circle cx="1628.7" cy="1925.4" r="3.7"/><circle cx="1628.7" cy="1946" r="3.7"/><circle cx="1628.7" cy="1949.5" r="3.7"/><circle cx="1628.7" cy="1959.3" r="3.7"/><circle cx="1628.7" cy="1968.1" r="3.7"/><circle cx="1628.7" cy="1979.3" r="3.7"/><circle cx="1628.7" cy="1988.1" r="3.7"/><circle cx="1628.7" cy="1994.6" r="3.7"/><circle cx="1628.7" cy="2006.7" r="3.7"/><circle cx="1628.7" cy="2011.5" r="3.7"/><circle cx="1628.7" cy="2016.5" r="3.7"/><circle cx="1628.7" cy="2021.4" r="3.7"/><circle cx="1628.7" cy="2031.2" r="3.7"/><circle cx="1628.7" cy="2039" r="3.7"/><circle cx="1628.7" cy="2043.36" r="3.7"/><circle cx="1628.7" cy="2047.73" r="3.7"/><circle cx="1628.7" cy="2052.09" r="3.7"/><circle cx="1628.7" cy="2056.45" r="3.7"/><circle cx="1628.7" cy="2060.82" r="3.7"/><circle cx="1628.7" cy="2065.18" r="3.7"/><circle cx="1628.7" cy="2069.55" r="3.7"/><circle cx="1628.7" cy="2073.91" r="3.7"/><circle cx="1628.7" cy="2078.27" r="3.7"/><circle cx="1628.7" cy="2082.64" r="3.7"/><circle cx="1628.7" cy="2087" r="3.7"/><circle cx="1628.7" cy="2099.3" r="3.7"/><circle cx="1628.7" cy="2136.9" r="3.7"/><circle cx="1628.7" cy="2185.9" r="3.7"/><circle cx="1628.7" cy="2190.8" r="3.7"/></g>
<path d="M1628.7 1785.7 L1628.7 1786 1628.7 1788.6 1628.7 1791.2 1628.7 1793.8 1628.7 1796.4 1628.8 1799 1628.8 1801.6 1628.8 1804.2 1628.9 1806.8 1628.9 1809.4 1629 1812 1629 1814.6 1629.1 1817.2 1629.1 1819.8 1629.2 1822.4 1629.2 1825 1629.3 1827.6 1629.4 1830.2 1629.5 1832.8 1629.7 1835.4 1629.9 1838 1630.1 1840.6 1630.5 1843.2 1630.8 1845.8 1631.2 1848.4 1631.6 1851 1631.9 1853.6 1632.3 1856.2 1632.8 1858.8 1633.2 1861.4 1633.7 1864 1634.3 1866.6 1634.9 1869.2 1635.6 1871.8 1636.4 1874.4 1637.2 1877 1638 1879.6 1638.9 1882.2 1639.7 1884.8 1640.5 1887.4 1641.4 1890 1642.3 1892.6 1643.2 1895.2 1644 1897.8 1644.9 1900.4 1645.7 1903 1646.5 1905.6 1647.3 1908.2 1648.1 1910.8 1648.8 1913.4 1649.6 1916 1650.3 1918.6 1650.9 1921.2 1651.6 1923.8 1652.1 1926.4 1652.6 1929 1653.1 1931.6 1653.6 1934.2 1654.1 1936.8 1654.5 1939.4 1654.9 1942 1655.2 1944.6 1655.6 1947.2 1655.9 1949.8 1656.1 1952.4 1656.4 1955 1656.6 1957.6 1656.9 1960.2 1657.1 1962.8 1657.4 1965.4 1657.7 1968 1657.9 1970.6 1658.2 1973.2 1658.5 1975.8 1658.7 1978.4 1659 1981 1659.3 1983.6 1659.6 1986.2 1660 1988.8 1660.3 1991.4 1660.7 1994 1661 1996.6 1661.4 1999.2 1661.7 2001.8 1662.1 2004.4 1662.4 2007 1662.8 2009.6 1663.2 2012.2 1663.6 2014.8 1663.9 2017.4 1664.2 2020 1664.5 2022.6 1664.8 2025.2 1665.1 2027.8 1665.3 2030.4 1665.6 2033 1665.8 2035.6 1666 2038.2 1666.1 2040.8 1666.1 2043.4 1666.1 2046 1666.1 2048.6 1666 2051.2 1665.7 2053.8 1665.3 2056.4 1664.7 2059 1664.2 2061.6 1663.6 2064.2 1662.9 2066.8 1662.2 2069.4 1661.4 2072 1660.6 2074.6 1659.8 2077.2 1658.9 2079.8 1658 2082.4 1656.9 2085 1655.8 2087.6 1654.7 2090.2 1653.6 2092.8 1652.5 2095.4 1651.5 2098 1650.5 2100.6 1649.6 2103.2 1648.6 2105.8 1647.7 2108.4 1646.8 2111 1646 2113.6 1645.3 2116.2 1644.8 2118.8 1644.3 2121.4 1643.9 2124 1643.5 2126.6 1643.1 2129.2 1642.8 2131.8 1642.6 2134.4 1642.5 2137 1642.5 2139.6 1642.6 2142.2 1642.7 2144.8 1642.9 2147.4 1643.1 2150 1643.2 2152.6 1643.4 2155.2 1643.6 2157.8 1643.8 2160.4 1644.1 2163 1644.3 2165.6 1644.6 2168.2 1644.8 2170.8 1645 2173.4 1645.1 2176 1645.1 2178.6 1645.1 2181.2 1645.1 2183.8 1645.1 2186.4 1645.1 2189 1645 2191.6 1644.8 2194.2 1644.5 2196.8 1644.2 2199.4 1643.8 2202 1643.4 2204.6 1643 2207.2 1642.5 2209.8 1641.9 2212.4 1641.3 2215 1640.6 2217.6 1639.9 2220.2 1639.3 2222.8 1638.6 2225.4 1638 2228 1637.5 2230.6 1636.9 2233.2 1636.3 2235.8 1635.7 2238.4 1635.2 2241 1634.7 2243.6 1634.2 2246.2 1633.7 2248.8 1633.3 2251.4 1632.8 2254 1632.4 2256.6 1632.1 2259.2 1631.7 2261.8 1631.4 2264.4 1631.1 2267 1630.9 2269.6 1630.6 2272.2 1630.4 2274.8 1630.2 2277.4 1630 2280 1629.8 2282.6 1629.7 2285.2 1629.5 2287.8 1629.3 2290.4 1629.2 2293 1629.2 2295.6 1629.1 2298.2 1629 2300.8 1629 2303.4 1628.9 2306 1628.9 2308.6 1628.9 2311.2 1628.8 2313.8 1628.8 2316.4 1628.8 2319 1628.7 2321.6 1628.7 2324.2 1628.7 2326.8 1628.7 2329.4 1628.7 2330.4 1628.7 2330.4 1628.7 2330.4 1628.7 2329.4 1628.7 2326.8 1628.7 2324.2 1628.7 2321.6 1628.6 2319 1628.6 2316.4 1628.6 2313.8 1628.5 2311.2 1628.5 2308.6 1628.5 2306 1628.4 2303.4 1628.4 2300.8 1628.3 2298.2 1628.2 2295.6 1628.2 2293 1628.1 2290.4 1627.9 2287.8 1627.7 2285.2 1627.6 2282.6 1627.4 2280 1627.2 2277.4 1627 2274.8 1626.8 2272.2 1626.5 2269.6 1626.3 2267 1626 2264.4 1625.7 2261.8 1625.3 2259.2 1625 2256.6 1624.6 2254 1624.1 2251.4 1623.7 2248.8 1623.2 2246.2 1622.7 2243.6 1622.2 2241 1621.7 2238.4 1621.1 2235.8 1620.5 2233.2 1619.9 2230.6 1619.4 2228 1618.8 2225.4 1618.1 2222.8 1617.5 2220.2 1616.8 2217.6 1616.1 2215 1615.5 2212.4 1614.9 2209.8 1614.4 2207.2 1614 2204.6 1613.6 2202 1613.2 2199.4 1612.9 2196.8 1612.6 2194.2 1612.4 2191.6 1612.3 2189 1612.3 2186.4 1612.3 2183.8 1612.3 2181.2 1612.3 2178.6 1612.3 2176 1612.4 2173.4 1612.6 2170.8 1612.8 2168.2 1613.1 2165.6 1613.3 2163 1613.6 2160.4 1613.8 2157.8 1614 2155.2 1614.2 2152.6 1614.3 2150 1614.5 2147.4 1614.7 2144.8 1614.8 2142.2 1614.9 2139.6 1614.9 2137 1614.8 2134.4 1614.6 2131.8 1614.3 2129.2 1613.9 2126.6 1613.5 2124 1613.1 2121.4 1612.6 2118.8 1612.1 2116.2 1611.4 2113.6 1610.6 2111 1609.7 2108.4 1608.8 2105.8 1607.8 2103.2 1606.9 2100.6 1605.9 2098 1604.9 2095.4 1603.8 2092.8 1602.7 2090.2 1601.6 2087.6 1600.5 2085 1599.4 2082.4 1598.5 2079.8 1597.6 2077.2 1596.8 2074.6 1596 2072 1595.2 2069.4 1594.5 2066.8 1593.8 2064.2 1593.2 2061.6 1592.7 2059 1592.1 2056.4 1591.7 2053.8 1591.4 2051.2 1591.3 2048.6 1591.3 2046 1591.3 2043.4 1591.3 2040.8 1591.4 2038.2 1591.6 2035.6 1591.8 2033 1592.1 2030.4 1592.3 2027.8 1592.6 2025.2 1592.9 2022.6 1593.2 2020 1593.5 2017.4 1593.8 2014.8 1594.2 2012.2 1594.6 2009.6 1595 2007 1595.3 2004.4 1595.7 2001.8 1596 1999.2 1596.4 1996.6 1596.7 1994 1597.1 1991.4 1597.4 1988.8 1597.8 1986.2 1598.1 1983.6 1598.4 1981 1598.7 1978.4 1598.9 1975.8 1599.2 1973.2 1599.5 1970.6 1599.7 1968 1600 1965.4 1600.3 1962.8 1600.5 1960.2 1600.8 1957.6 1601 1955 1601.3 1952.4 1601.5 1949.8 1601.8 1947.2 1602.2 1944.6 1602.5 1942 1602.9 1939.4 1603.3 1936.8 1603.8 1934.2 1604.3 1931.6 1604.8 1929 1605.3 1926.4 1605.8 1923.8 1606.5 1921.2 1607.1 1918.6 1607.8 1916 1608.6 1913.4 1609.3 1910.8 1610.1 1908.2 1610.9 1905.6 1611.7 1903 1612.5 1900.4 1613.4 1897.8 1614.2 1895.2 1615.1 1892.6 1616 1890 1616.9 1887.4 1617.7 1884.8 1618.5 1882.2 1619.4 1879.6 1620.2 1877 1621 1874.4 1621.8 1871.8 1622.5 1869.2 1623.1 1866.6 1623.7 1864 1624.2 1861.4 1624.6 1858.8 1625.1 1856.2 1625.5 1853.6 1625.8 1851 1626.2 1848.4 1626.6 1845.8 1626.9 1843.2 1627.3 1840.6 1627.5 1838 1627.7 1835.4 1627.9 1832.8 1628 1830.2 1628.1 1827.6 1628.2 1825 1628.2 1822.4 1628.3 1819.8 1628.3 1817.2 1628.4 1814.6 1628.4 1812 1628.5 1809.4 1628.5 1806.8 1628.6 1804.2 1628.6 1801.6 1628.6 1799 1628.7 1796.4 1628.7 1793.8 1628.7 1791.2 1628.7 1788.6 1628.7 1786Z" fill="none" stroke="#000" stroke-width="1.75" stroke-linejoin="round"/>
<path d="M1744.7 1775.9 L1744.7 1776.2 1744.7 1778.8 1744.7 1781.4 1744.7 1784 1744.7 1786.6 1744.8 1789.2 1744.8 1791.8 1744.8 1794.4 1744.8 1797 1744.9 1799.6 1744.9 1802.2 1745 1804.8 1745 1807.4 1745.1 1810 1745.1 1812.6 1745.2 1815.2 1745.3 1817.8 1745.3 1820.4 1745.4 1823 1745.6 1825.6 1745.7 1828.2 1746 1830.8 1746.2 1833.4 1746.5 1836 1746.9 1838.6 1747.2 1841.2 1747.5 1843.8 1747.9 1846.4 1748.3 1849 1748.7 1851.6 1749.1 1854.2 1749.6 1856.8 1750.1 1859.4 1750.7 1862 1751.3 1864.6 1752 1867.2 1752.6 1869.8 1753.4 1872.4 1754.1 1875 1754.8 1877.6 1755.6 1880.2 1756.4 1882.8 1757.2 1885.4 1758 1888 1758.9 1890.6 1759.7 1893.2 1760.5 1895.8 1761.3 1898.4 1762.1 1901 1762.9 1903.6 1763.6 1906.2 1764.4 1908.8 1765.1 1911.4 1765.8 1914 1766.4 1916.6 1767 1919.2 1767.6 1921.8 1768.2 1924.4 1768.7 1927 1769.3 1929.6 1769.7 1932.2 1770.1 1934.8 1770.5 1937.4 1770.9 1940 1771.2 1942.6 1771.5 1945.2 1771.8 1947.8 1772.1 1950.4 1772.3 1953 1772.6 1955.6 1772.7 1958.2 1772.9 1960.8 1773 1963.4 1773.2 1966 1773.3 1968.6 1773.5 1971.2 1773.7 1973.8 1773.9 1976.4 1774.1 1979 1774.4 1981.6 1774.7 1984.2 1775 1986.8 1775.4 1989.4 1775.7 1992 1776.1 1994.6 1776.5 1997.2 1776.9 1999.8 1777.3 2002.4 1777.7 2005 1778.1 2007.6 1778.5 2010.2 1778.9 2012.8 1779.2 2015.4 1779.6 2018 1780 2020.6 1780.3 2023.2 1780.7 2025.8 1781 2028.4 1781.2 2031 1781.4 2033.6 1781.6 2036.2 1781.8 2038.8 1781.9 2041.4 1782.1 2044 1782.1 2046.6 1782 2049.2 1781.9 2051.8 1781.6 2054.4 1781.2 2057 1780.9 2059.6 1780.5 2062.2 1780 2064.8 1779.4 2067.4 1778.7 2070 1778 2072.6 1777.2 2075.2 1776.4 2077.8 1775.6 2080.4 1774.7 2083 1773.7 2085.6 1772.7 2088.2 1771.6 2090.8 1770.4 2093.4 1769.3 2096 1768.3 2098.6 1767.2 2101.2 1766.1 2103.8 1765 2106.4 1763.9 2109 1762.9 2111.6 1761.9 2114.2 1760.9 2116.8 1760 2119.4 1759.2 2122 1758.4 2124.6 1757.6 2127.2 1756.9 2129.8 1756.2 2132.4 1755.5 2135 1755 2137.6 1754.4 2140.2 1753.9 2142.8 1753.4 2145.4 1753 2148 1752.6 2150.6 1752.2 2153.2 1751.8 2155.8 1751.5 2158.4 1751.2 2161 1750.9 2163.6 1750.7 2166.2 1750.5 2168.8 1750.2 2171.4 1750 2174 1749.8 2176.6 1749.7 2179.2 1749.5 2181.8 1749.3 2184.4 1749.2 2187 1749 2189.6 1748.9 2192.2 1748.7 2194.8 1748.6 2197.4 1748.4 2200 1748.2 2202.6 1748.1 2205.2 1747.9 2207.8 1747.8 2210.4 1747.6 2213 1747.4 2215.6 1747.3 2218.2 1747.1 2220.8 1746.9 2223.4 1746.8 2226 1746.6 2228.6 1746.4 2231.2 1746.3 2233.8 1746.2 2236.4 1746.1 2239 1746 2241.6 1745.9 2244.2 1745.8 2246.8 1745.7 2249.4 1745.6 2252 1745.5 2254.6 1745.4 2257.2 1745.3 2259.8 1745.2 2262.4 1745.2 2265 1745.1 2267.6 1745.1 2270.2 1745.1 2272.8 1745 2275.4 1745 2278 1745 2280.6 1745 2283.2 1744.9 2285.8 1744.9 2288.4 1744.9 2291 1744.9 2293.6 1744.8 2296.2 1744.8 2298.8 1744.8 2301.4 1744.8 2304 1744.8 2306.6 1744.8 2309.2 1744.8 2311.8 1744.7 2314.4 1744.7 2317 1744.7 2319.6 1744.7 2322.2 1744.7 2324.8 1744.7 2327.4 1744.7 2330 1744.7 2332.6 1744.7 2335.2 1744.7 2337.8 1744.7 2340.4 1744.7 2340.6 1744.7 2340.6 1744.7 2340.6 1744.7 2340.4 1744.7 2337.8 1744.7 2335.2 1744.7 2332.6 1744.7 2330 1744.7 2327.4 1744.7 2324.8 1744.7 2322.2 1744.7 2319.6 1744.7 2317 1744.7 2314.4 1744.6 2311.8 1744.6 2309.2 1744.6 2306.6 1744.6 2304 1744.6 2301.4 1744.6 2298.8 1744.6 2296.2 1744.5 2293.6 1744.5 2291 1744.5 2288.4 1744.5 2285.8 1744.4 2283.2 1744.4 2280.6 1744.4 2278 1744.4 2275.4 1744.3 2272.8 1744.3 2270.2 1744.3 2267.6 1744.2 2265 1744.2 2262.4 1744.1 2259.8 1744 2257.2 1743.9 2254.6 1743.8 2252 1743.7 2249.4 1743.6 2246.8 1743.5 2244.2 1743.4 2241.6 1743.3 2239 1743.2 2236.4 1743.1 2233.8 1743 2231.2 1742.8 2228.6 1742.6 2226 1742.5 2223.4 1742.3 2220.8 1742.1 2218.2 1742 2215.6 1741.8 2213 1741.6 2210.4 1741.5 2207.8 1741.3 2205.2 1741.2 2202.6 1741 2200 1740.8 2197.4 1740.7 2194.8 1740.5 2192.2 1740.4 2189.6 1740.2 2187 1740.1 2184.4 1739.9 2181.8 1739.7 2179.2 1739.6 2176.6 1739.4 2174 1739.2 2171.4 1738.9 2168.8 1738.7 2166.2 1738.5 2163.6 1738.2 2161 1737.9 2158.4 1737.6 2155.8 1737.2 2153.2 1736.8 2150.6 1736.4 2148 1736 2145.4 1735.5 2142.8 1735 2140.2 1734.4 2137.6 1733.9 2135 1733.2 2132.4 1732.5 2129.8 1731.8 2127.2 1731 2124.6 1730.2 2122 1729.4 2119.4 1728.5 2116.8 1727.5 2114.2 1726.5 2111.6 1725.5 2109 1724.4 2106.4 1723.3 2103.8 1722.2 2101.2 1721.1 2098.6 1720.1 2096 1719 2093.4 1717.8 2090.8 1716.7 2088.2 1715.7 2085.6 1714.7 2083 1713.8 2080.4 1713 2077.8 1712.2 2075.2 1711.4 2072.6 1710.7 2070 1710 2067.4 1709.4 2064.8 1708.9 2062.2 1708.5 2059.6 1708.2 2057 1707.8 2054.4 1707.5 2051.8 1707.4 2049.2 1707.3 2046.6 1707.3 2044 1707.5 2041.4 1707.6 2038.8 1707.8 2036.2 1708 2033.6 1708.2 2031 1708.4 2028.4 1708.7 2025.8 1709.1 2023.2 1709.4 2020.6 1709.8 2018 1710.2 2015.4 1710.5 2012.8 1710.9 2010.2 1711.3 2007.6 1711.7 2005 1712.1 2002.4 1712.5 1999.8 1712.9 1997.2 1713.3 1994.6 1713.7 1992 1714 1989.4 1714.4 1986.8 1714.7 1984.2 1715 1981.6 1715.3 1979 1715.5 1976.4 1715.7 1973.8 1715.9 1971.2 1716.1 1968.6 1716.2 1966 1716.4 1963.4 1716.5 1960.8 1716.7 1958.2 1716.8 1955.6 1717.1 1953 1717.3 1950.4 1717.6 1947.8 1717.9 1945.2 1718.2 1942.6 1718.5 1940 1718.9 1937.4 1719.3 1934.8 1719.7 1932.2 1720.1 1929.6 1720.7 1927 1721.2 1924.4 1721.8 1921.8 1722.4 1919.2 1723 1916.6 1723.6 1914 1724.3 1911.4 1725 1908.8 1725.8 1906.2 1726.5 1903.6 1727.3 1901 1728.1 1898.4 1728.9 1895.8 1729.7 1893.2 1730.5 1890.6 1731.4 1888 1732.2 1885.4 1733 1882.8 1733.8 1880.2 1734.6 1877.6 1735.3 1875 1736 1872.4 1736.8 1869.8 1737.4 1867.2 1738.1 1864.6 1738.7 1862 1739.3 1859.4 1739.8 1856.8 1740.3 1854.2 1740.7 1851.6 1741.1 1849 1741.5 1846.4 1741.9 1843.8 1742.2 1841.2 1742.5 1838.6 1742.9 1836 1743.2 1833.4 1743.4 1830.8 1743.7 1828.2 1743.8 1825.6 1744 1823 1744.1 1820.4 1744.1 1817.8 1744.2 1815.2 1744.3 1812.6 1744.3 1810 1744.4 1807.4 1744.4 1804.8 1744.5 1802.2 1744.5 1799.6 1744.6 1797 1744.6 1794.4 1744.6 1791.8 1744.6 1789.2 1744.7 1786.6 1744.7 1784 1744.7 1781.4 1744.7 1778.8 1744.7 1776.2Z" fill="#0f99b3" stroke="none"/>
<g><line x1="1712.17" y1="2065.5" x2="1778.63" y2="2065.5" stroke="#000" stroke-width="3.4" stroke-linecap="round" stroke-dasharray="3.2 5.6"/><line x1="1720.3" y1="1946.6" x2="1770.5" y2="1946.6" stroke="#000" stroke-width="3.4" stroke-linecap="round" stroke-dasharray="3.2 5.6"/><line x1="1710.32" y1="2025.9" x2="1779.08" y2="2025.9" stroke="#000" stroke-width="4.4"/></g>
<g fill="#c8cbcb" fill-opacity="0.93"><circle cx="1744.7" cy="1923.5" r="3.7"/><circle cx="1744.7" cy="1927.4" r="3.7"/><circle cx="1744.7" cy="1931.3" r="3.7"/><circle cx="1744.7" cy="1946.6" r="3.7"/><circle cx="1744.7" cy="1967" r="3.7"/><circle cx="1744.7" cy="1980.9" r="3.7"/><circle cx="1744.7" cy="2014.5" r="3.7"/><circle cx="1744.7" cy="2025.3" r="3.7"/><circle cx="1744.7" cy="2041" r="3.7"/><circle cx="1744.7" cy="2049" r="3.7"/><circle cx="1744.7" cy="2053" r="3.7"/><circle cx="1744.7" cy="2057" r="3.7"/><circle cx="1744.7" cy="2061" r="3.7"/><circle cx="1744.7" cy="2065" r="3.7"/><circle cx="1744.7" cy="2069" r="3.7"/><circle cx="1744.7" cy="2089.9" r="3.7"/><circle cx="1744.7" cy="2102.7" r="3.7"/><circle cx="1744.7" cy="2191.2" r="3.7"/></g>
<path d="M1744.7 1775.9 L1744.7 1776.2 1744.7 1778.8 1744.7 1781.4 1744.7 1784 1744.7 1786.6 1744.8 1789.2 1744.8 1791.8 1744.8 1794.4 1744.8 1797 1744.9 1799.6 1744.9 1802.2 1745 1804.8 1745 1807.4 1745.1 1810 1745.1 1812.6 1745.2 1815.2 1745.3 1817.8 1745.3 1820.4 1745.4 1823 1745.6 1825.6 1745.7 1828.2 1746 1830.8 1746.2 1833.4 1746.5 1836 1746.9 1838.6 1747.2 1841.2 1747.5 1843.8 1747.9 1846.4 1748.3 1849 1748.7 1851.6 1749.1 1854.2 1749.6 1856.8 1750.1 1859.4 1750.7 1862 1751.3 1864.6 1752 1867.2 1752.6 1869.8 1753.4 1872.4 1754.1 1875 1754.8 1877.6 1755.6 1880.2 1756.4 1882.8 1757.2 1885.4 1758 1888 1758.9 1890.6 1759.7 1893.2 1760.5 1895.8 1761.3 1898.4 1762.1 1901 1762.9 1903.6 1763.6 1906.2 1764.4 1908.8 1765.1 1911.4 1765.8 1914 1766.4 1916.6 1767 1919.2 1767.6 1921.8 1768.2 1924.4 1768.7 1927 1769.3 1929.6 1769.7 1932.2 1770.1 1934.8 1770.5 1937.4 1770.9 1940 1771.2 1942.6 1771.5 1945.2 1771.8 1947.8 1772.1 1950.4 1772.3 1953 1772.6 1955.6 1772.7 1958.2 1772.9 1960.8 1773 1963.4 1773.2 1966 1773.3 1968.6 1773.5 1971.2 1773.7 1973.8 1773.9 1976.4 1774.1 1979 1774.4 1981.6 1774.7 1984.2 1775 1986.8 1775.4 1989.4 1775.7 1992 1776.1 1994.6 1776.5 1997.2 1776.9 1999.8 1777.3 2002.4 1777.7 2005 1778.1 2007.6 1778.5 2010.2 1778.9 2012.8 1779.2 2015.4 1779.6 2018 1780 2020.6 1780.3 2023.2 1780.7 2025.8 1781 2028.4 1781.2 2031 1781.4 2033.6 1781.6 2036.2 1781.8 2038.8 1781.9 2041.4 1782.1 2044 1782.1 2046.6 1782 2049.2 1781.9 2051.8 1781.6 2054.4 1781.2 2057 1780.9 2059.6 1780.5 2062.2 1780 2064.8 1779.4 2067.4 1778.7 2070 1778 2072.6 1777.2 2075.2 1776.4 2077.8 1775.6 2080.4 1774.7 2083 1773.7 2085.6 1772.7 2088.2 1771.6 2090.8 1770.4 2093.4 1769.3 2096 1768.3 2098.6 1767.2 2101.2 1766.1 2103.8 1765 2106.4 1763.9 2109 1762.9 2111.6 1761.9 2114.2 1760.9 2116.8 1760 2119.4 1759.2 2122 1758.4 2124.6 1757.6 2127.2 1756.9 2129.8 1756.2 2132.4 1755.5 2135 1755 2137.6 1754.4 2140.2 1753.9 2142.8 1753.4 2145.4 1753 2148 1752.6 2150.6 1752.2 2153.2 1751.8 2155.8 1751.5 2158.4 1751.2 2161 1750.9 2163.6 1750.7 2166.2 1750.5 2168.8 1750.2 2171.4 1750 2174 1749.8 2176.6 1749.7 2179.2 1749.5 2181.8 1749.3 2184.4 1749.2 2187 1749 2189.6 1748.9 2192.2 1748.7 2194.8 1748.6 2197.4 1748.4 2200 1748.2 2202.6 1748.1 2205.2 1747.9 2207.8 1747.8 2210.4 1747.6 2213 1747.4 2215.6 1747.3 2218.2 1747.1 2220.8 1746.9 2223.4 1746.8 2226 1746.6 2228.6 1746.4 2231.2 1746.3 2233.8 1746.2 2236.4 1746.1 2239 1746 2241.6 1745.9 2244.2 1745.8 2246.8 1745.7 2249.4 1745.6 2252 1745.5 2254.6 1745.4 2257.2 1745.3 2259.8 1745.2 2262.4 1745.2 2265 1745.1 2267.6 1745.1 2270.2 1745.1 2272.8 1745 2275.4 1745 2278 1745 2280.6 1745 2283.2 1744.9 2285.8 1744.9 2288.4 1744.9 2291 1744.9 2293.6 1744.8 2296.2 1744.8 2298.8 1744.8 2301.4 1744.8 2304 1744.8 2306.6 1744.8 2309.2 1744.8 2311.8 1744.7 2314.4 1744.7 2317 1744.7 2319.6 1744.7 2322.2 1744.7 2324.8 1744.7 2327.4 1744.7 2330 1744.7 2332.6 1744.7 2335.2 1744.7 2337.8 1744.7 2340.4 1744.7 2340.6 1744.7 2340.6 1744.7 2340.6 1744.7 2340.4 1744.7 2337.8 1744.7 2335.2 1744.7 2332.6 1744.7 2330 1744.7 2327.4 1744.7 2324.8 1744.7 2322.2 1744.7 2319.6 1744.7 2317 1744.7 2314.4 1744.6 2311.8 1744.6 2309.2 1744.6 2306.6 1744.6 2304 1744.6 2301.4 1744.6 2298.8 1744.6 2296.2 1744.5 2293.6 1744.5 2291 1744.5 2288.4 1744.5 2285.8 1744.4 2283.2 1744.4 2280.6 1744.4 2278 1744.4 2275.4 1744.3 2272.8 1744.3 2270.2 1744.3 2267.6 1744.2 2265 1744.2 2262.4 1744.1 2259.8 1744 2257.2 1743.9 2254.6 1743.8 2252 1743.7 2249.4 1743.6 2246.8 1743.5 2244.2 1743.4 2241.6 1743.3 2239 1743.2 2236.4 1743.1 2233.8 1743 2231.2 1742.8 2228.6 1742.6 2226 1742.5 2223.4 1742.3 2220.8 1742.1 2218.2 1742 2215.6 1741.8 2213 1741.6 2210.4 1741.5 2207.8 1741.3 2205.2 1741.2 2202.6 1741 2200 1740.8 2197.4 1740.7 2194.8 1740.5 2192.2 1740.4 2189.6 1740.2 2187 1740.1 2184.4 1739.9 2181.8 1739.7 2179.2 1739.6 2176.6 1739.4 2174 1739.2 2171.4 1738.9 2168.8 1738.7 2166.2 1738.5 2163.6 1738.2 2161 1737.9 2158.4 1737.6 2155.8 1737.2 2153.2 1736.8 2150.6 1736.4 2148 1736 2145.4 1735.5 2142.8 1735 2140.2 1734.4 2137.6 1733.9 2135 1733.2 2132.4 1732.5 2129.8 1731.8 2127.2 1731 2124.6 1730.2 2122 1729.4 2119.4 1728.5 2116.8 1727.5 2114.2 1726.5 2111.6 1725.5 2109 1724.4 2106.4 1723.3 2103.8 1722.2 2101.2 1721.1 2098.6 1720.1 2096 1719 2093.4 1717.8 2090.8 1716.7 2088.2 1715.7 2085.6 1714.7 2083 1713.8 2080.4 1713 2077.8 1712.2 2075.2 1711.4 2072.6 1710.7 2070 1710 2067.4 1709.4 2064.8 1708.9 2062.2 1708.5 2059.6 1708.2 2057 1707.8 2054.4 1707.5 2051.8 1707.4 2049.2 1707.3 2046.6 1707.3 2044 1707.5 2041.4 1707.6 2038.8 1707.8 2036.2 1708 2033.6 1708.2 2031 1708.4 2028.4 1708.7 2025.8 1709.1 2023.2 1709.4 2020.6 1709.8 2018 1710.2 2015.4 1710.5 2012.8 1710.9 2010.2 1711.3 2007.6 1711.7 2005 1712.1 2002.4 1712.5 1999.8 1712.9 1997.2 1713.3 1994.6 1713.7 1992 1714 1989.4 1714.4 1986.8 1714.7 1984.2 1715 1981.6 1715.3 1979 1715.5 1976.4 1715.7 1973.8 1715.9 1971.2 1716.1 1968.6 1716.2 1966 1716.4 1963.4 1716.5 1960.8 1716.7 1958.2 1716.8 1955.6 1717.1 1953 1717.3 1950.4 1717.6 1947.8 1717.9 1945.2 1718.2 1942.6 1718.5 1940 1718.9 1937.4 1719.3 1934.8 1719.7 1932.2 1720.1 1929.6 1720.7 1927 1721.2 1924.4 1721.8 1921.8 1722.4 1919.2 1723 1916.6 1723.6 1914 1724.3 1911.4 1725 1908.8 1725.8 1906.2 1726.5 1903.6 1727.3 1901 1728.1 1898.4 1728.9 1895.8 1729.7 1893.2 1730.5 1890.6 1731.4 1888 1732.2 1885.4 1733 1882.8 1733.8 1880.2 1734.6 1877.6 1735.3 1875 1736 1872.4 1736.8 1869.8 1737.4 1867.2 1738.1 1864.6 1738.7 1862 1739.3 1859.4 1739.8 1856.8 1740.3 1854.2 1740.7 1851.6 1741.1 1849 1741.5 1846.4 1741.9 1843.8 1742.2 1841.2 1742.5 1838.6 1742.9 1836 1743.2 1833.4 1743.4 1830.8 1743.7 1828.2 1743.8 1825.6 1744 1823 1744.1 1820.4 1744.1 1817.8 1744.2 1815.2 1744.3 1812.6 1744.3 1810 1744.4 1807.4 1744.4 1804.8 1744.5 1802.2 1744.5 1799.6 1744.6 1797 1744.6 1794.4 1744.6 1791.8 1744.6 1789.2 1744.7 1786.6 1744.7 1784 1744.7 1781.4 1744.7 1778.8 1744.7 1776.2Z" fill="none" stroke="#000" stroke-width="1.75" stroke-linejoin="round"/>
<path d="M1860.2 1762.6 L1860.2 1762.9 1860.2 1765.5 1860.2 1768.1 1860.2 1770.7 1860.2 1773.3 1860.3 1775.9 1860.3 1778.5 1860.3 1781.1 1860.4 1783.7 1860.4 1786.3 1860.5 1788.9 1860.5 1791.5 1860.6 1794.1 1860.6 1796.7 1860.7 1799.3 1860.7 1801.9 1860.8 1804.5 1860.9 1807.1 1861.1 1809.7 1861.3 1812.3 1861.5 1814.9 1861.7 1817.5 1862 1820.1 1862.4 1822.7 1862.8 1825.3 1863.2 1827.9 1863.6 1830.5 1864.1 1833.1 1864.6 1835.7 1865.2 1838.3 1865.8 1840.9 1866.4 1843.5 1867.1 1846.1 1867.9 1848.7 1868.7 1851.3 1869.7 1853.9 1870.7 1856.5 1871.8 1859.1 1872.9 1861.7 1873.9 1864.3 1875 1866.9 1876 1869.5 1877 1872.1 1878.1 1874.7 1879.1 1877.3 1880.2 1879.9 1881.2 1882.5 1882.2 1885.1 1883.2 1887.7 1884.3 1890.3 1885.3 1892.9 1886.4 1895.5 1887.4 1898.1 1888.4 1900.7 1889.2 1903.3 1890 1905.9 1890.8 1908.5 1891.4 1911.1 1892.1 1913.7 1892.7 1916.3 1893.3 1918.9 1893.8 1921.5 1894.3 1924.1 1894.7 1926.7 1895.1 1929.3 1895.4 1931.9 1895.8 1934.5 1896.1 1937.1 1896.4 1939.7 1896.6 1942.3 1896.8 1944.9 1897 1947.5 1897.1 1950.1 1897.3 1952.7 1897.4 1955.3 1897.4 1957.9 1897.4 1960.5 1897.3 1963.1 1897.1 1965.7 1896.9 1968.3 1896.7 1970.9 1896.5 1973.5 1896.2 1976.1 1895.9 1978.7 1895.6 1981.3 1895.3 1983.9 1895 1986.5 1894.7 1989.1 1894.3 1991.7 1893.9 1994.3 1893.4 1996.9 1893 1999.5 1892.5 2002.1 1892 2004.7 1891.6 2007.3 1891 2009.9 1890.5 2012.5 1890 2015.1 1889.4 2017.7 1888.9 2020.3 1888.4 2022.9 1887.9 2025.5 1887.3 2028.1 1886.8 2030.7 1886.3 2033.3 1885.8 2035.9 1885.3 2038.5 1884.8 2041.1 1884.4 2043.7 1883.9 2046.3 1883.5 2048.9 1883.1 2051.5 1882.7 2054.1 1882.3 2056.7 1881.8 2059.3 1881.2 2061.9 1880.5 2064.5 1879.8 2067.1 1879.1 2069.7 1878.3 2072.3 1877.5 2074.9 1876.8 2077.5 1876.2 2080.1 1875.6 2082.7 1874.9 2085.3 1874.3 2087.9 1873.8 2090.5 1873.2 2093.1 1872.7 2095.7 1872.2 2098.3 1871.7 2100.9 1871.3 2103.5 1870.8 2106.1 1870.4 2108.7 1870 2111.3 1869.7 2113.9 1869.4 2116.5 1869.1 2119.1 1868.9 2121.7 1868.6 2124.3 1868.4 2126.9 1868.2 2129.5 1868.1 2132.1 1867.9 2134.7 1867.8 2137.3 1867.8 2139.9 1867.7 2142.5 1867.6 2145.1 1867.6 2147.7 1867.5 2150.3 1867.5 2152.9 1867.5 2155.5 1867.5 2158.1 1867.5 2160.7 1867.6 2163.3 1867.6 2165.9 1867.7 2168.5 1867.7 2171.1 1867.8 2173.7 1867.8 2176.3 1867.8 2178.9 1867.8 2181.5 1867.8 2184.1 1867.7 2186.7 1867.7 2189.3 1867.6 2191.9 1867.6 2194.5 1867.5 2197.1 1867.4 2199.7 1867.3 2202.3 1867.1 2204.9 1866.9 2207.5 1866.8 2210.1 1866.6 2212.7 1866.4 2215.3 1866.2 2217.9 1866 2220.5 1865.8 2223.1 1865.5 2225.7 1865.3 2228.3 1865 2230.9 1864.8 2233.5 1864.6 2236.1 1864.3 2238.7 1864.1 2241.3 1863.9 2243.9 1863.6 2246.5 1863.4 2249.1 1863.2 2251.7 1863 2254.3 1862.8 2256.9 1862.6 2259.5 1862.4 2262.1 1862.2 2264.7 1862 2267.3 1861.9 2269.9 1861.7 2272.5 1861.6 2275.1 1861.5 2277.7 1861.4 2280.3 1861.3 2282.9 1861.2 2285.5 1861.1 2288.1 1861 2290.7 1860.9 2293.3 1860.9 2295.9 1860.8 2298.5 1860.7 2301.1 1860.7 2303.7 1860.6 2306.3 1860.6 2308.9 1860.6 2311.5 1860.5 2314.1 1860.5 2316.7 1860.5 2319.3 1860.4 2321.9 1860.4 2324.5 1860.4 2327.1 1860.3 2329.7 1860.3 2332.3 1860.3 2334.9 1860.3 2337.5 1860.3 2340.1 1860.2 2342.7 1860.2 2345.3 1860.2 2347.9 1860.2 2350.5 1860.2 2353.1 1860.2 2355.7 1860.2 2358.3 1860.2 2358.8 1860.2 2358.8 1860.2 2358.8 1860.2 2358.3 1860.2 2355.7 1860.2 2353.1 1860.2 2350.5 1860.2 2347.9 1860.2 2345.3 1860.2 2342.7 1860.1 2340.1 1860.1 2337.5 1860.1 2334.9 1860.1 2332.3 1860.1 2329.7 1860 2327.1 1860 2324.5 1860 2321.9 1859.9 2319.3 1859.9 2316.7 1859.9 2314.1 1859.8 2311.5 1859.8 2308.9 1859.8 2306.3 1859.7 2303.7 1859.7 2301.1 1859.6 2298.5 1859.5 2295.9 1859.5 2293.3 1859.4 2290.7 1859.3 2288.1 1859.2 2285.5 1859.1 2282.9 1859 2280.3 1858.9 2277.7 1858.8 2275.1 1858.7 2272.5 1858.5 2269.9 1858.4 2267.3 1858.2 2264.7 1858 2262.1 1857.8 2259.5 1857.6 2256.9 1857.4 2254.3 1857.2 2251.7 1857 2249.1 1856.8 2246.5 1856.5 2243.9 1856.3 2241.3 1856.1 2238.7 1855.8 2236.1 1855.6 2233.5 1855.4 2230.9 1855.1 2228.3 1854.9 2225.7 1854.6 2223.1 1854.4 2220.5 1854.2 2217.9 1854 2215.3 1853.8 2212.7 1853.6 2210.1 1853.5 2207.5 1853.3 2204.9 1853.1 2202.3 1853 2199.7 1852.9 2197.1 1852.8 2194.5 1852.8 2191.9 1852.7 2189.3 1852.7 2186.7 1852.6 2184.1 1852.6 2181.5 1852.6 2178.9 1852.6 2176.3 1852.6 2173.7 1852.7 2171.1 1852.7 2168.5 1852.8 2165.9 1852.8 2163.3 1852.9 2160.7 1852.9 2158.1 1852.9 2155.5 1852.9 2152.9 1852.9 2150.3 1852.8 2147.7 1852.8 2145.1 1852.7 2142.5 1852.6 2139.9 1852.6 2137.3 1852.5 2134.7 1852.3 2132.1 1852.2 2129.5 1852 2126.9 1851.8 2124.3 1851.5 2121.7 1851.3 2119.1 1851 2116.5 1850.7 2113.9 1850.4 2111.3 1850 2108.7 1849.6 2106.1 1849.1 2103.5 1848.7 2100.9 1848.2 2098.3 1847.7 2095.7 1847.2 2093.1 1846.6 2090.5 1846.1 2087.9 1845.5 2085.3 1844.8 2082.7 1844.2 2080.1 1843.6 2077.5 1842.9 2074.9 1842.1 2072.3 1841.3 2069.7 1840.6 2067.1 1839.9 2064.5 1839.2 2061.9 1838.6 2059.3 1838.1 2056.7 1837.7 2054.1 1837.3 2051.5 1836.9 2048.9 1836.5 2046.3 1836 2043.7 1835.6 2041.1 1835.1 2038.5 1834.6 2035.9 1834.1 2033.3 1833.6 2030.7 1833.1 2028.1 1832.5 2025.5 1832 2022.9 1831.5 2020.3 1831 2017.7 1830.4 2015.1 1829.9 2012.5 1829.4 2009.9 1828.8 2007.3 1828.4 2004.7 1827.9 2002.1 1827.4 1999.5 1827 1996.9 1826.5 1994.3 1826.1 1991.7 1825.7 1989.1 1825.4 1986.5 1825.1 1983.9 1824.8 1981.3 1824.5 1978.7 1824.2 1976.1 1823.9 1973.5 1823.7 1970.9 1823.5 1968.3 1823.3 1965.7 1823.1 1963.1 1823 1960.5 1823 1957.9 1823 1955.3 1823.1 1952.7 1823.3 1950.1 1823.4 1947.5 1823.6 1944.9 1823.8 1942.3 1824 1939.7 1824.3 1937.1 1824.6 1934.5 1825 1931.9 1825.3 1929.3 1825.7 1926.7 1826.1 1924.1 1826.6 1921.5 1827.1 1918.9 1827.7 1916.3 1828.3 1913.7 1829 1911.1 1829.6 1908.5 1830.4 1905.9 1831.2 1903.3 1832 1900.7 1833 1898.1 1834 1895.5 1835.1 1892.9 1836.1 1890.3 1837.2 1887.7 1838.2 1885.1 1839.2 1882.5 1840.2 1879.9 1841.3 1877.3 1842.3 1874.7 1843.4 1872.1 1844.4 1869.5 1845.4 1866.9 1846.5 1864.3 1847.5 1861.7 1848.6 1859.1 1849.7 1856.5 1850.7 1853.9 1851.7 1851.3 1852.5 1848.7 1853.3 1846.1 1854 1843.5 1854.6 1840.9 1855.2 1838.3 1855.8 1835.7 1856.3 1833.1 1856.8 1830.5 1857.2 1827.9 1857.6 1825.3 1858 1822.7 1858.4 1820.1 1858.7 1817.5 1858.9 1814.9 1859.1 1812.3 1859.3 1809.7 1859.5 1807.1 1859.6 1804.5 1859.7 1801.9 1859.7 1799.3 1859.8 1796.7 1859.8 1794.1 1859.9 1791.5 1859.9 1788.9 1860 1786.3 1860 1783.7 1860.1 1781.1 1860.1 1778.5 1860.1 1775.9 1860.2 1773.3 1860.2 1770.7 1860.2 1768.1 1860.2 1765.5 1860.2 1762.9Z" fill="#088099" stroke="none"/>
<g><line x1="1839.37" y1="2048.2" x2="1882.43" y2="2048.2" stroke="#000" stroke-width="3.4" stroke-linecap="round" stroke-dasharray="3.2 5.6"/><line x1="1828.5" y1="1925.4" x2="1893.3" y2="1925.4" stroke="#000" stroke-width="3.4" stroke-linecap="round" stroke-dasharray="3.2 5.6"/><line x1="1826.81" y1="1985.2" x2="1893.59" y2="1985.2" stroke="#000" stroke-width="4.4"/></g>
<g fill="#c8cbcb" fill-opacity="0.93"><circle cx="1860.2" cy="1925.4" r="3.7"/><circle cx="1860.2" cy="1974" r="3.7"/><circle cx="1860.2" cy="1978.5" r="3.7"/><circle cx="1860.2" cy="1983" r="3.7"/><circle cx="1860.2" cy="1987.5" r="3.7"/><circle cx="1860.2" cy="1992" r="3.7"/><circle cx="1860.2" cy="2004.2" r="3.7"/><circle cx="1860.2" cy="2013.2" r="3.7"/><circle cx="1860.2" cy="2023.4" r="3.7"/><circle cx="1860.2" cy="2037.5" r="3.7"/><circle cx="1860.2" cy="2046" r="3.7"/><circle cx="1860.2" cy="2050" r="3.7"/><circle cx="1860.2" cy="2054" r="3.7"/><circle cx="1860.2" cy="2072.3" r="3.7"/><circle cx="1860.2" cy="2085" r="3.7"/><circle cx="1860.2" cy="2191.2" r="3.7"/></g>
<path d="M1860.2 1762.6 L1860.2 1762.9 1860.2 1765.5 1860.2 1768.1 1860.2 1770.7 1860.2 1773.3 1860.3 1775.9 1860.3 1778.5 1860.3 1781.1 1860.4 1783.7 1860.4 1786.3 1860.5 1788.9 1860.5 1791.5 1860.6 1794.1 1860.6 1796.7 1860.7 1799.3 1860.7 1801.9 1860.8 1804.5 1860.9 1807.1 1861.1 1809.7 1861.3 1812.3 1861.5 1814.9 1861.7 1817.5 1862 1820.1 1862.4 1822.7 1862.8 1825.3 1863.2 1827.9 1863.6 1830.5 1864.1 1833.1 1864.6 1835.7 1865.2 1838.3 1865.8 1840.9 1866.4 1843.5 1867.1 1846.1 1867.9 1848.7 1868.7 1851.3 1869.7 1853.9 1870.7 1856.5 1871.8 1859.1 1872.9 1861.7 1873.9 1864.3 1875 1866.9 1876 1869.5 1877 1872.1 1878.1 1874.7 1879.1 1877.3 1880.2 1879.9 1881.2 1882.5 1882.2 1885.1 1883.2 1887.7 1884.3 1890.3 1885.3 1892.9 1886.4 1895.5 1887.4 1898.1 1888.4 1900.7 1889.2 1903.3 1890 1905.9 1890.8 1908.5 1891.4 1911.1 1892.1 1913.7 1892.7 1916.3 1893.3 1918.9 1893.8 1921.5 1894.3 1924.1 1894.7 1926.7 1895.1 1929.3 1895.4 1931.9 1895.8 1934.5 1896.1 1937.1 1896.4 1939.7 1896.6 1942.3 1896.8 1944.9 1897 1947.5 1897.1 1950.1 1897.3 1952.7 1897.4 1955.3 1897.4 1957.9 1897.4 1960.5 1897.3 1963.1 1897.1 1965.7 1896.9 1968.3 1896.7 1970.9 1896.5 1973.5 1896.2 1976.1 1895.9 1978.7 1895.6 1981.3 1895.3 1983.9 1895 1986.5 1894.7 1989.1 1894.3 1991.7 1893.9 1994.3 1893.4 1996.9 1893 1999.5 1892.5 2002.1 1892 2004.7 1891.6 2007.3 1891 2009.9 1890.5 2012.5 1890 2015.1 1889.4 2017.7 1888.9 2020.3 1888.4 2022.9 1887.9 2025.5 1887.3 2028.1 1886.8 2030.7 1886.3 2033.3 1885.8 2035.9 1885.3 2038.5 1884.8 2041.1 1884.4 2043.7 1883.9 2046.3 1883.5 2048.9 1883.1 2051.5 1882.7 2054.1 1882.3 2056.7 1881.8 2059.3 1881.2 2061.9 1880.5 2064.5 1879.8 2067.1 1879.1 2069.7 1878.3 2072.3 1877.5 2074.9 1876.8 2077.5 1876.2 2080.1 1875.6 2082.7 1874.9 2085.3 1874.3 2087.9 1873.8 2090.5 1873.2 2093.1 1872.7 2095.7 1872.2 2098.3 1871.7 2100.9 1871.3 2103.5 1870.8 2106.1 1870.4 2108.7 1870 2111.3 1869.7 2113.9 1869.4 2116.5 1869.1 2119.1 1868.9 2121.7 1868.6 2124.3 1868.4 2126.9 1868.2 2129.5 1868.1 2132.1 1867.9 2134.7 1867.8 2137.3 1867.8 2139.9 1867.7 2142.5 1867.6 2145.1 1867.6 2147.7 1867.5 2150.3 1867.5 2152.9 1867.5 2155.5 1867.5 2158.1 1867.5 2160.7 1867.6 2163.3 1867.6 2165.9 1867.7 2168.5 1867.7 2171.1 1867.8 2173.7 1867.8 2176.3 1867.8 2178.9 1867.8 2181.5 1867.8 2184.1 1867.7 2186.7 1867.7 2189.3 1867.6 2191.9 1867.6 2194.5 1867.5 2197.1 1867.4 2199.7 1867.3 2202.3 1867.1 2204.9 1866.9 2207.5 1866.8 2210.1 1866.6 2212.7 1866.4 2215.3 1866.2 2217.9 1866 2220.5 1865.8 2223.1 1865.5 2225.7 1865.3 2228.3 1865 2230.9 1864.8 2233.5 1864.6 2236.1 1864.3 2238.7 1864.1 2241.3 1863.9 2243.9 1863.6 2246.5 1863.4 2249.1 1863.2 2251.7 1863 2254.3 1862.8 2256.9 1862.6 2259.5 1862.4 2262.1 1862.2 2264.7 1862 2267.3 1861.9 2269.9 1861.7 2272.5 1861.6 2275.1 1861.5 2277.7 1861.4 2280.3 1861.3 2282.9 1861.2 2285.5 1861.1 2288.1 1861 2290.7 1860.9 2293.3 1860.9 2295.9 1860.8 2298.5 1860.7 2301.1 1860.7 2303.7 1860.6 2306.3 1860.6 2308.9 1860.6 2311.5 1860.5 2314.1 1860.5 2316.7 1860.5 2319.3 1860.4 2321.9 1860.4 2324.5 1860.4 2327.1 1860.3 2329.7 1860.3 2332.3 1860.3 2334.9 1860.3 2337.5 1860.3 2340.1 1860.2 2342.7 1860.2 2345.3 1860.2 2347.9 1860.2 2350.5 1860.2 2353.1 1860.2 2355.7 1860.2 2358.3 1860.2 2358.8 1860.2 2358.8 1860.2 2358.8 1860.2 2358.3 1860.2 2355.7 1860.2 2353.1 1860.2 2350.5 1860.2 2347.9 1860.2 2345.3 1860.2 2342.7 1860.1 2340.1 1860.1 2337.5 1860.1 2334.9 1860.1 2332.3 1860.1 2329.7 1860 2327.1 1860 2324.5 1860 2321.9 1859.9 2319.3 1859.9 2316.7 1859.9 2314.1 1859.8 2311.5 1859.8 2308.9 1859.8 2306.3 1859.7 2303.7 1859.7 2301.1 1859.6 2298.5 1859.5 2295.9 1859.5 2293.3 1859.4 2290.7 1859.3 2288.1 1859.2 2285.5 1859.1 2282.9 1859 2280.3 1858.9 2277.7 1858.8 2275.1 1858.7 2272.5 1858.5 2269.9 1858.4 2267.3 1858.2 2264.7 1858 2262.1 1857.8 2259.5 1857.6 2256.9 1857.4 2254.3 1857.2 2251.7 1857 2249.1 1856.8 2246.5 1856.5 2243.9 1856.3 2241.3 1856.1 2238.7 1855.8 2236.1 1855.6 2233.5 1855.4 2230.9 1855.1 2228.3 1854.9 2225.7 1854.6 2223.1 1854.4 2220.5 1854.2 2217.9 1854 2215.3 1853.8 2212.7 1853.6 2210.1 1853.5 2207.5 1853.3 2204.9 1853.1 2202.3 1853 2199.7 1852.9 2197.1 1852.8 2194.5 1852.8 2191.9 1852.7 2189.3 1852.7 2186.7 1852.6 2184.1 1852.6 2181.5 1852.6 2178.9 1852.6 2176.3 1852.6 2173.7 1852.7 2171.1 1852.7 2168.5 1852.8 2165.9 1852.8 2163.3 1852.9 2160.7 1852.9 2158.1 1852.9 2155.5 1852.9 2152.9 1852.9 2150.3 1852.8 2147.7 1852.8 2145.1 1852.7 2142.5 1852.6 2139.9 1852.6 2137.3 1852.5 2134.7 1852.3 2132.1 1852.2 2129.5 1852 2126.9 1851.8 2124.3 1851.5 2121.7 1851.3 2119.1 1851 2116.5 1850.7 2113.9 1850.4 2111.3 1850 2108.7 1849.6 2106.1 1849.1 2103.5 1848.7 2100.9 1848.2 2098.3 1847.7 2095.7 1847.2 2093.1 1846.6 2090.5 1846.1 2087.9 1845.5 2085.3 1844.8 2082.7 1844.2 2080.1 1843.6 2077.5 1842.9 2074.9 1842.1 2072.3 1841.3 2069.7 1840.6 2067.1 1839.9 2064.5 1839.2 2061.9 1838.6 2059.3 1838.1 2056.7 1837.7 2054.1 1837.3 2051.5 1836.9 2048.9 1836.5 2046.3 1836 2043.7 1835.6 2041.1 1835.1 2038.5 1834.6 2035.9 1834.1 2033.3 1833.6 2030.7 1833.1 2028.1 1832.5 2025.5 1832 2022.9 1831.5 2020.3 1831 2017.7 1830.4 2015.1 1829.9 2012.5 1829.4 2009.9 1828.8 2007.3 1828.4 2004.7 1827.9 2002.1 1827.4 1999.5 1827 1996.9 1826.5 1994.3 1826.1 1991.7 1825.7 1989.1 1825.4 1986.5 1825.1 1983.9 1824.8 1981.3 1824.5 1978.7 1824.2 1976.1 1823.9 1973.5 1823.7 1970.9 1823.5 1968.3 1823.3 1965.7 1823.1 1963.1 1823 1960.5 1823 1957.9 1823 1955.3 1823.1 1952.7 1823.3 1950.1 1823.4 1947.5 1823.6 1944.9 1823.8 1942.3 1824 1939.7 1824.3 1937.1 1824.6 1934.5 1825 1931.9 1825.3 1929.3 1825.7 1926.7 1826.1 1924.1 1826.6 1921.5 1827.1 1918.9 1827.7 1916.3 1828.3 1913.7 1829 1911.1 1829.6 1908.5 1830.4 1905.9 1831.2 1903.3 1832 1900.7 1833 1898.1 1834 1895.5 1835.1 1892.9 1836.1 1890.3 1837.2 1887.7 1838.2 1885.1 1839.2 1882.5 1840.2 1879.9 1841.3 1877.3 1842.3 1874.7 1843.4 1872.1 1844.4 1869.5 1845.4 1866.9 1846.5 1864.3 1847.5 1861.7 1848.6 1859.1 1849.7 1856.5 1850.7 1853.9 1851.7 1851.3 1852.5 1848.7 1853.3 1846.1 1854 1843.5 1854.6 1840.9 1855.2 1838.3 1855.8 1835.7 1856.3 1833.1 1856.8 1830.5 1857.2 1827.9 1857.6 1825.3 1858 1822.7 1858.4 1820.1 1858.7 1817.5 1858.9 1814.9 1859.1 1812.3 1859.3 1809.7 1859.5 1807.1 1859.6 1804.5 1859.7 1801.9 1859.7 1799.3 1859.8 1796.7 1859.8 1794.1 1859.9 1791.5 1859.9 1788.9 1860 1786.3 1860 1783.7 1860.1 1781.1 1860.1 1778.5 1860.1 1775.9 1860.2 1773.3 1860.2 1770.7 1860.2 1768.1 1860.2 1765.5 1860.2 1762.9Z" fill="none" stroke="#000" stroke-width="1.75" stroke-linejoin="round"/>
<path d="M1974.7 1744.4 L1974.7 1744.7 1974.7 1747.3 1974.7 1749.9 1974.7 1752.5 1974.7 1755.1 1974.7 1757.7 1974.8 1760.3 1974.8 1762.9 1974.8 1765.5 1974.8 1768.1 1974.8 1770.7 1974.9 1773.3 1974.9 1775.9 1974.9 1778.5 1975 1781.1 1975 1783.7 1975.1 1786.3 1975.1 1788.9 1975.2 1791.5 1975.2 1794.1 1975.3 1796.7 1975.3 1799.3 1975.4 1801.9 1975.6 1804.5 1975.7 1807.1 1975.9 1809.7 1976.1 1812.3 1976.4 1814.9 1976.7 1817.5 1977 1820.1 1977.3 1822.7 1977.7 1825.3 1978.1 1827.9 1978.5 1830.5 1978.9 1833.1 1979.3 1835.7 1979.8 1838.3 1980.2 1840.9 1980.7 1843.5 1981.2 1846.1 1981.7 1848.7 1982.3 1851.3 1982.8 1853.9 1983.4 1856.5 1984 1859.1 1984.6 1861.7 1985.2 1864.3 1985.9 1866.9 1986.6 1869.5 1987.2 1872.1 1987.9 1874.7 1988.6 1877.3 1989.3 1879.9 1990 1882.5 1990.8 1885.1 1991.5 1887.7 1992.2 1890.3 1993 1892.9 1993.7 1895.5 1994.5 1898.1 1995.2 1900.7 1996 1903.3 1996.8 1905.9 1997.6 1908.5 1998.3 1911.1 1999.1 1913.7 1999.8 1916.3 2000.5 1918.9 2001.2 1921.5 2001.8 1924.1 2002.5 1926.7 2003.1 1929.3 2003.7 1931.9 2004.3 1934.5 2004.9 1937.1 2005.5 1939.7 2006 1942.3 2006.6 1944.9 2007.1 1947.5 2007.6 1950.1 2008.1 1952.7 2008.5 1955.3 2008.9 1957.9 2009.3 1960.5 2009.6 1963.1 2010 1965.7 2010.3 1968.3 2010.6 1970.9 2010.8 1973.5 2011 1976.1 2011.2 1978.7 2011.4 1981.3 2011.6 1983.9 2011.7 1986.5 2011.8 1989.1 2011.9 1991.7 2011.9 1994.3 2011.9 1996.9 2011.7 1999.5 2011.6 2002.1 2011.4 2004.7 2011.1 2007.3 2010.9 2009.9 2010.6 2012.5 2010.3 2015.1 2009.9 2017.7 2009.5 2020.3 2008.9 2022.9 2008.3 2025.5 2007.7 2028.1 2007.2 2030.7 2006.6 2033.3 2006 2035.9 2005.5 2038.5 2004.9 2041.1 2004.4 2043.7 2003.8 2046.3 2003.1 2048.9 2002.4 2051.5 2001.7 2054.1 2000.7 2056.7 1999.7 2059.3 1998.8 2061.9 1997.9 2064.5 1997 2067.1 1996.1 2069.7 1995.3 2072.3 1994.5 2074.9 1993.8 2077.5 1993.1 2080.1 1992.4 2082.7 1991.8 2085.3 1991.2 2087.9 1990.6 2090.5 1990 2093.1 1989.5 2095.7 1989.1 2098.3 1988.7 2100.9 1988.3 2103.5 1987.9 2106.1 1987.5 2108.7 1987.2 2111.3 1986.9 2113.9 1986.6 2116.5 1986.4 2119.1 1986.3 2121.7 1986.1 2124.3 1985.9 2126.9 1985.7 2129.5 1985.6 2132.1 1985.5 2134.7 1985.5 2137.3 1985.5 2139.9 1985.5 2142.5 1985.6 2145.1 1985.7 2147.7 1985.7 2150.3 1985.8 2152.9 1985.9 2155.5 1985.9 2158.1 1985.9 2160.7 1986 2163.3 1986 2165.9 1986 2168.5 1986.1 2171.1 1986.1 2173.7 1986.1 2176.3 1986.1 2178.9 1986.1 2181.5 1986 2184.1 1985.9 2186.7 1985.8 2189.3 1985.7 2191.9 1985.6 2194.5 1985.5 2197.1 1985.3 2199.7 1985.1 2202.3 1984.8 2204.9 1984.5 2207.5 1984.2 2210.1 1983.9 2212.7 1983.6 2215.3 1983.3 2217.9 1983 2220.5 1982.7 2223.1 1982.4 2225.7 1982.1 2228.3 1981.8 2230.9 1981.5 2233.5 1981.2 2236.1 1980.9 2238.7 1980.6 2241.3 1980.3 2243.9 1980 2246.5 1979.7 2249.1 1979.4 2251.7 1979.1 2254.3 1978.8 2256.9 1978.6 2259.5 1978.3 2262.1 1978.1 2264.7 1977.8 2267.3 1977.6 2269.9 1977.4 2272.5 1977.2 2275.1 1977 2277.7 1976.8 2280.3 1976.6 2282.9 1976.5 2285.5 1976.3 2288.1 1976.1 2290.7 1976 2293.3 1975.8 2295.9 1975.7 2298.5 1975.5 2301.1 1975.3 2303.7 1975.2 2306.3 1975.2 2308.9 1975.1 2311.5 1975.1 2314.1 1975.1 2316.7 1975 2319.3 1975 2321.9 1975 2324.5 1974.9 2327.1 1974.9 2329.7 1974.9 2332.3 1974.9 2334.9 1974.8 2337.5 1974.8 2340.1 1974.8 2342.7 1974.8 2345.3 1974.8 2347.9 1974.8 2350.5 1974.7 2353.1 1974.7 2355.7 1974.7 2358.3 1974.7 2360.9 1974.7 2363.5 1974.7 2366.1 1974.7 2368.7 1974.7 2371.3 1974.7 2371.4 1974.7 2371.4 1974.7 2371.4 1974.7 2371.3 1974.7 2368.7 1974.7 2366.1 1974.7 2363.5 1974.7 2360.9 1974.7 2358.3 1974.7 2355.7 1974.7 2353.1 1974.6 2350.5 1974.6 2347.9 1974.6 2345.3 1974.6 2342.7 1974.6 2340.1 1974.6 2337.5 1974.5 2334.9 1974.5 2332.3 1974.5 2329.7 1974.5 2327.1 1974.4 2324.5 1974.4 2321.9 1974.4 2319.3 1974.3 2316.7 1974.3 2314.1 1974.3 2311.5 1974.2 2308.9 1974.2 2306.3 1974.1 2303.7 1973.9 2301.1 1973.7 2298.5 1973.6 2295.9 1973.4 2293.3 1973.3 2290.7 1973.1 2288.1 1972.9 2285.5 1972.8 2282.9 1972.6 2280.3 1972.4 2277.7 1972.2 2275.1 1972 2272.5 1971.8 2269.9 1971.6 2267.3 1971.3 2264.7 1971.1 2262.1 1970.8 2259.5 1970.6 2256.9 1970.3 2254.3 1970 2251.7 1969.7 2249.1 1969.4 2246.5 1969.1 2243.9 1968.8 2241.3 1968.5 2238.7 1968.2 2236.1 1967.9 2233.5 1967.6 2230.9 1967.3 2228.3 1967 2225.7 1966.7 2223.1 1966.4 2220.5 1966.1 2217.9 1965.8 2215.3 1965.5 2212.7 1965.2 2210.1 1964.9 2207.5 1964.6 2204.9 1964.3 2202.3 1964.1 2199.7 1963.9 2197.1 1963.8 2194.5 1963.7 2191.9 1963.6 2189.3 1963.5 2186.7 1963.4 2184.1 1963.3 2181.5 1963.3 2178.9 1963.3 2176.3 1963.3 2173.7 1963.3 2171.1 1963.4 2168.5 1963.4 2165.9 1963.4 2163.3 1963.5 2160.7 1963.5 2158.1 1963.5 2155.5 1963.6 2152.9 1963.7 2150.3 1963.7 2147.7 1963.8 2145.1 1963.9 2142.5 1963.9 2139.9 1963.9 2137.3 1963.9 2134.7 1963.8 2132.1 1963.7 2129.5 1963.5 2126.9 1963.3 2124.3 1963.1 2121.7 1963 2119.1 1962.8 2116.5 1962.5 2113.9 1962.2 2111.3 1961.9 2108.7 1961.5 2106.1 1961.1 2103.5 1960.7 2100.9 1960.3 2098.3 1959.9 2095.7 1959.4 2093.1 1958.8 2090.5 1958.2 2087.9 1957.6 2085.3 1957 2082.7 1956.3 2080.1 1955.6 2077.5 1954.9 2074.9 1954.1 2072.3 1953.3 2069.7 1952.4 2067.1 1951.5 2064.5 1950.6 2061.9 1949.7 2059.3 1948.7 2056.7 1947.7 2054.1 1947 2051.5 1946.3 2048.9 1945.6 2046.3 1945 2043.7 1944.5 2041.1 1943.9 2038.5 1943.4 2035.9 1942.8 2033.3 1942.2 2030.7 1941.7 2028.1 1941.1 2025.5 1940.5 2022.9 1939.9 2020.3 1939.5 2017.7 1939.1 2015.1 1938.8 2012.5 1938.5 2009.9 1938.3 2007.3 1938 2004.7 1937.8 2002.1 1937.7 1999.5 1937.5 1996.9 1937.5 1994.3 1937.5 1991.7 1937.6 1989.1 1937.7 1986.5 1937.8 1983.9 1938 1981.3 1938.2 1978.7 1938.4 1976.1 1938.6 1973.5 1938.8 1970.9 1939.1 1968.3 1939.4 1965.7 1939.8 1963.1 1940.1 1960.5 1940.5 1957.9 1940.9 1955.3 1941.3 1952.7 1941.8 1950.1 1942.3 1947.5 1942.8 1944.9 1943.4 1942.3 1943.9 1939.7 1944.5 1937.1 1945.1 1934.5 1945.7 1931.9 1946.3 1929.3 1946.9 1926.7 1947.6 1924.1 1948.2 1921.5 1948.9 1918.9 1949.6 1916.3 1950.3 1913.7 1951.1 1911.1 1951.8 1908.5 1952.6 1905.9 1953.4 1903.3 1954.2 1900.7 1954.9 1898.1 1955.7 1895.5 1956.4 1892.9 1957.2 1890.3 1957.9 1887.7 1958.6 1885.1 1959.4 1882.5 1960.1 1879.9 1960.8 1877.3 1961.5 1874.7 1962.2 1872.1 1962.8 1869.5 1963.5 1866.9 1964.2 1864.3 1964.8 1861.7 1965.4 1859.1 1966 1856.5 1966.6 1853.9 1967.1 1851.3 1967.7 1848.7 1968.2 1846.1 1968.7 1843.5 1969.2 1840.9 1969.6 1838.3 1970.1 1835.7 1970.5 1833.1 1970.9 1830.5 1971.3 1827.9 1971.7 1825.3 1972.1 1822.7 1972.4 1820.1 1972.7 1817.5 1973 1814.9 1973.3 1812.3 1973.5 1809.7 1973.7 1807.1 1973.8 1804.5 1974 1801.9 1974.1 1799.3 1974.1 1796.7 1974.2 1794.1 1974.2 1791.5 1974.3 1788.9 1974.3 1786.3 1974.4 1783.7 1974.4 1781.1 1974.5 1778.5 1974.5 1775.9 1974.5 1773.3 1974.6 1770.7 1974.6 1768.1 1974.6 1765.5 1974.6 1762.9 1974.6 1760.3 1974.7 1757.7 1974.7 1755.1 1974.7 1752.5 1974.7 1749.9 1974.7 1747.3 1974.7 1744.7Z" fill="#0000cc" stroke="none"/>
<g><line x1="1952.79" y1="2061.9" x2="1997.31" y2="2061.9" stroke="#000" stroke-width="2.5" stroke-linecap="round" stroke-dasharray="0.01 2.85"/><line x1="1946.79" y1="1936.6" x2="2003.31" y2="1936.6" stroke="#000" stroke-width="2.5" stroke-linecap="round" stroke-dasharray="0.01 2.85"/><line x1="1939.35" y1="2001.2" x2="2010.05" y2="2001.2" stroke="#000" stroke-width="4.4"/></g>
<g fill="#8c8c8c" fill-opacity="1"><circle cx="1974.7" cy="1925.4" r="3.7"/><circle cx="1974.7" cy="1936.6" r="3.7"/><circle cx="1974.7" cy="1982.6" r="3.7"/><circle cx="1974.7" cy="1993" r="3.7"/><circle cx="1974.7" cy="1998" r="3.7"/><circle cx="1974.7" cy="2003" r="3.7"/><circle cx="1974.7" cy="2008" r="3.7"/><circle cx="1974.7" cy="2019.4" r="3.7"/><circle cx="1974.7" cy="2057.6" r="3.7"/><circle cx="1974.7" cy="2061.5" r="3.7"/><circle cx="1974.7" cy="2070.4" r="3.7"/><circle cx="1974.7" cy="2190.8" r="3.7"/></g>
<path d="M1974.7 1744.4 L1974.7 1744.7 1974.7 1747.3 1974.7 1749.9 1974.7 1752.5 1974.7 1755.1 1974.7 1757.7 1974.8 1760.3 1974.8 1762.9 1974.8 1765.5 1974.8 1768.1 1974.8 1770.7 1974.9 1773.3 1974.9 1775.9 1974.9 1778.5 1975 1781.1 1975 1783.7 1975.1 1786.3 1975.1 1788.9 1975.2 1791.5 1975.2 1794.1 1975.3 1796.7 1975.3 1799.3 1975.4 1801.9 1975.6 1804.5 1975.7 1807.1 1975.9 1809.7 1976.1 1812.3 1976.4 1814.9 1976.7 1817.5 1977 1820.1 1977.3 1822.7 1977.7 1825.3 1978.1 1827.9 1978.5 1830.5 1978.9 1833.1 1979.3 1835.7 1979.8 1838.3 1980.2 1840.9 1980.7 1843.5 1981.2 1846.1 1981.7 1848.7 1982.3 1851.3 1982.8 1853.9 1983.4 1856.5 1984 1859.1 1984.6 1861.7 1985.2 1864.3 1985.9 1866.9 1986.6 1869.5 1987.2 1872.1 1987.9 1874.7 1988.6 1877.3 1989.3 1879.9 1990 1882.5 1990.8 1885.1 1991.5 1887.7 1992.2 1890.3 1993 1892.9 1993.7 1895.5 1994.5 1898.1 1995.2 1900.7 1996 1903.3 1996.8 1905.9 1997.6 1908.5 1998.3 1911.1 1999.1 1913.7 1999.8 1916.3 2000.5 1918.9 2001.2 1921.5 2001.8 1924.1 2002.5 1926.7 2003.1 1929.3 2003.7 1931.9 2004.3 1934.5 2004.9 1937.1 2005.5 1939.7 2006 1942.3 2006.6 1944.9 2007.1 1947.5 2007.6 1950.1 2008.1 1952.7 2008.5 1955.3 2008.9 1957.9 2009.3 1960.5 2009.6 1963.1 2010 1965.7 2010.3 1968.3 2010.6 1970.9 2010.8 1973.5 2011 1976.1 2011.2 1978.7 2011.4 1981.3 2011.6 1983.9 2011.7 1986.5 2011.8 1989.1 2011.9 1991.7 2011.9 1994.3 2011.9 1996.9 2011.7 1999.5 2011.6 2002.1 2011.4 2004.7 2011.1 2007.3 2010.9 2009.9 2010.6 2012.5 2010.3 2015.1 2009.9 2017.7 2009.5 2020.3 2008.9 2022.9 2008.3 2025.5 2007.7 2028.1 2007.2 2030.7 2006.6 2033.3 2006 2035.9 2005.5 2038.5 2004.9 2041.1 2004.4 2043.7 2003.8 2046.3 2003.1 2048.9 2002.4 2051.5 2001.7 2054.1 2000.7 2056.7 1999.7 2059.3 1998.8 2061.9 1997.9 2064.5 1997 2067.1 1996.1 2069.7 1995.3 2072.3 1994.5 2074.9 1993.8 2077.5 1993.1 2080.1 1992.4 2082.7 1991.8 2085.3 1991.2 2087.9 1990.6 2090.5 1990 2093.1 1989.5 2095.7 1989.1 2098.3 1988.7 2100.9 1988.3 2103.5 1987.9 2106.1 1987.5 2108.7 1987.2 2111.3 1986.9 2113.9 1986.6 2116.5 1986.4 2119.1 1986.3 2121.7 1986.1 2124.3 1985.9 2126.9 1985.7 2129.5 1985.6 2132.1 1985.5 2134.7 1985.5 2137.3 1985.5 2139.9 1985.5 2142.5 1985.6 2145.1 1985.7 2147.7 1985.7 2150.3 1985.8 2152.9 1985.9 2155.5 1985.9 2158.1 1985.9 2160.7 1986 2163.3 1986 2165.9 1986 2168.5 1986.1 2171.1 1986.1 2173.7 1986.1 2176.3 1986.1 2178.9 1986.1 2181.5 1986 2184.1 1985.9 2186.7 1985.8 2189.3 1985.7 2191.9 1985.6 2194.5 1985.5 2197.1 1985.3 2199.7 1985.1 2202.3 1984.8 2204.9 1984.5 2207.5 1984.2 2210.1 1983.9 2212.7 1983.6 2215.3 1983.3 2217.9 1983 2220.5 1982.7 2223.1 1982.4 2225.7 1982.1 2228.3 1981.8 2230.9 1981.5 2233.5 1981.2 2236.1 1980.9 2238.7 1980.6 2241.3 1980.3 2243.9 1980 2246.5 1979.7 2249.1 1979.4 2251.7 1979.1 2254.3 1978.8 2256.9 1978.6 2259.5 1978.3 2262.1 1978.1 2264.7 1977.8 2267.3 1977.6 2269.9 1977.4 2272.5 1977.2 2275.1 1977 2277.7 1976.8 2280.3 1976.6 2282.9 1976.5 2285.5 1976.3 2288.1 1976.1 2290.7 1976 2293.3 1975.8 2295.9 1975.7 2298.5 1975.5 2301.1 1975.3 2303.7 1975.2 2306.3 1975.2 2308.9 1975.1 2311.5 1975.1 2314.1 1975.1 2316.7 1975 2319.3 1975 2321.9 1975 2324.5 1974.9 2327.1 1974.9 2329.7 1974.9 2332.3 1974.9 2334.9 1974.8 2337.5 1974.8 2340.1 1974.8 2342.7 1974.8 2345.3 1974.8 2347.9 1974.8 2350.5 1974.7 2353.1 1974.7 2355.7 1974.7 2358.3 1974.7 2360.9 1974.7 2363.5 1974.7 2366.1 1974.7 2368.7 1974.7 2371.3 1974.7 2371.4 1974.7 2371.4 1974.7 2371.4 1974.7 2371.3 1974.7 2368.7 1974.7 2366.1 1974.7 2363.5 1974.7 2360.9 1974.7 2358.3 1974.7 2355.7 1974.7 2353.1 1974.6 2350.5 1974.6 2347.9 1974.6 2345.3 1974.6 2342.7 1974.6 2340.1 1974.6 2337.5 1974.5 2334.9 1974.5 2332.3 1974.5 2329.7 1974.5 2327.1 1974.4 2324.5 1974.4 2321.9 1974.4 2319.3 1974.3 2316.7 1974.3 2314.1 1974.3 2311.5 1974.2 2308.9 1974.2 2306.3 1974.1 2303.7 1973.9 2301.1 1973.7 2298.5 1973.6 2295.9 1973.4 2293.3 1973.3 2290.7 1973.1 2288.1 1972.9 2285.5 1972.8 2282.9 1972.6 2280.3 1972.4 2277.7 1972.2 2275.1 1972 2272.5 1971.8 2269.9 1971.6 2267.3 1971.3 2264.7 1971.1 2262.1 1970.8 2259.5 1970.6 2256.9 1970.3 2254.3 1970 2251.7 1969.7 2249.1 1969.4 2246.5 1969.1 2243.9 1968.8 2241.3 1968.5 2238.7 1968.2 2236.1 1967.9 2233.5 1967.6 2230.9 1967.3 2228.3 1967 2225.7 1966.7 2223.1 1966.4 2220.5 1966.1 2217.9 1965.8 2215.3 1965.5 2212.7 1965.2 2210.1 1964.9 2207.5 1964.6 2204.9 1964.3 2202.3 1964.1 2199.7 1963.9 2197.1 1963.8 2194.5 1963.7 2191.9 1963.6 2189.3 1963.5 2186.7 1963.4 2184.1 1963.3 2181.5 1963.3 2178.9 1963.3 2176.3 1963.3 2173.7 1963.3 2171.1 1963.4 2168.5 1963.4 2165.9 1963.4 2163.3 1963.5 2160.7 1963.5 2158.1 1963.5 2155.5 1963.6 2152.9 1963.7 2150.3 1963.7 2147.7 1963.8 2145.1 1963.9 2142.5 1963.9 2139.9 1963.9 2137.3 1963.9 2134.7 1963.8 2132.1 1963.7 2129.5 1963.5 2126.9 1963.3 2124.3 1963.1 2121.7 1963 2119.1 1962.8 2116.5 1962.5 2113.9 1962.2 2111.3 1961.9 2108.7 1961.5 2106.1 1961.1 2103.5 1960.7 2100.9 1960.3 2098.3 1959.9 2095.7 1959.4 2093.1 1958.8 2090.5 1958.2 2087.9 1957.6 2085.3 1957 2082.7 1956.3 2080.1 1955.6 2077.5 1954.9 2074.9 1954.1 2072.3 1953.3 2069.7 1952.4 2067.1 1951.5 2064.5 1950.6 2061.9 1949.7 2059.3 1948.7 2056.7 1947.7 2054.1 1947 2051.5 1946.3 2048.9 1945.6 2046.3 1945 2043.7 1944.5 2041.1 1943.9 2038.5 1943.4 2035.9 1942.8 2033.3 1942.2 2030.7 1941.7 2028.1 1941.1 2025.5 1940.5 2022.9 1939.9 2020.3 1939.5 2017.7 1939.1 2015.1 1938.8 2012.5 1938.5 2009.9 1938.3 2007.3 1938 2004.7 1937.8 2002.1 1937.7 1999.5 1937.5 1996.9 1937.5 1994.3 1937.5 1991.7 1937.6 1989.1 1937.7 1986.5 1937.8 1983.9 1938 1981.3 1938.2 1978.7 1938.4 1976.1 1938.6 1973.5 1938.8 1970.9 1939.1 1968.3 1939.4 1965.7 1939.8 1963.1 1940.1 1960.5 1940.5 1957.9 1940.9 1955.3 1941.3 1952.7 1941.8 1950.1 1942.3 1947.5 1942.8 1944.9 1943.4 1942.3 1943.9 1939.7 1944.5 1937.1 1945.1 1934.5 1945.7 1931.9 1946.3 1929.3 1946.9 1926.7 1947.6 1924.1 1948.2 1921.5 1948.9 1918.9 1949.6 1916.3 1950.3 1913.7 1951.1 1911.1 1951.8 1908.5 1952.6 1905.9 1953.4 1903.3 1954.2 1900.7 1954.9 1898.1 1955.7 1895.5 1956.4 1892.9 1957.2 1890.3 1957.9 1887.7 1958.6 1885.1 1959.4 1882.5 1960.1 1879.9 1960.8 1877.3 1961.5 1874.7 1962.2 1872.1 1962.8 1869.5 1963.5 1866.9 1964.2 1864.3 1964.8 1861.7 1965.4 1859.1 1966 1856.5 1966.6 1853.9 1967.1 1851.3 1967.7 1848.7 1968.2 1846.1 1968.7 1843.5 1969.2 1840.9 1969.6 1838.3 1970.1 1835.7 1970.5 1833.1 1970.9 1830.5 1971.3 1827.9 1971.7 1825.3 1972.1 1822.7 1972.4 1820.1 1972.7 1817.5 1973 1814.9 1973.3 1812.3 1973.5 1809.7 1973.7 1807.1 1973.8 1804.5 1974 1801.9 1974.1 1799.3 1974.1 1796.7 1974.2 1794.1 1974.2 1791.5 1974.3 1788.9 1974.3 1786.3 1974.4 1783.7 1974.4 1781.1 1974.5 1778.5 1974.5 1775.9 1974.5 1773.3 1974.6 1770.7 1974.6 1768.1 1974.6 1765.5 1974.6 1762.9 1974.6 1760.3 1974.7 1757.7 1974.7 1755.1 1974.7 1752.5 1974.7 1749.9 1974.7 1747.3 1974.7 1744.7Z" fill="none" stroke="#000" stroke-width="1.75" stroke-linejoin="round"/>
<path d="M2089.9 1811.2 L2089.9 1811.5 2089.9 1814.1 2089.9 1816.7 2090 1819.3 2090 1821.9 2090.1 1824.5 2090.1 1827.1 2090.2 1829.7 2090.3 1832.3 2090.4 1834.9 2090.5 1837.5 2090.8 1840.1 2091.1 1842.7 2091.6 1845.3 2092 1847.9 2092.6 1850.5 2093.2 1853.1 2093.8 1855.7 2094.6 1858.3 2095.4 1860.9 2096.3 1863.5 2097.2 1866.1 2098.2 1868.7 2099.4 1871.3 2100.8 1873.9 2102.3 1876.5 2103.9 1879.1 2105.5 1881.7 2107 1884.3 2108.5 1886.9 2110.1 1889.5 2111.7 1892.1 2113.4 1894.7 2115 1897.3 2116.6 1899.9 2118 1902.5 2119.3 1905.1 2120.4 1907.7 2121.5 1910.3 2122.5 1912.9 2123.5 1915.5 2124.4 1918.1 2125.1 1920.7 2125.8 1923.3 2126.3 1925.9 2126.7 1928.5 2127.1 1931.1 2127.4 1933.7 2127.4 1936.3 2127.2 1938.9 2127 1941.5 2126.6 1944.1 2126.2 1946.7 2125.7 1949.3 2125.2 1951.9 2124.8 1954.5 2124.2 1957.1 2123.6 1959.7 2122.9 1962.3 2122.2 1964.9 2121.5 1967.5 2120.9 1970.1 2120.4 1972.7 2120.1 1975.3 2119.9 1977.9 2119.6 1980.5 2119.4 1983.1 2119.3 1985.7 2119.1 1988.3 2119 1990.9 2118.8 1993.5 2118.7 1996.1 2118.6 1998.7 2118.5 2001.3 2118.4 2003.9 2118.3 2006.5 2118.2 2009.1 2118.1 2011.7 2118 2014.3 2117.8 2016.9 2117.6 2019.5 2117.3 2022.1 2117 2024.7 2116.7 2027.3 2116.4 2029.9 2116 2032.5 2115.6 2035.1 2115.1 2037.7 2114.5 2040.3 2113.8 2042.9 2113 2045.5 2112.2 2048.1 2111.3 2050.7 2110.2 2053.3 2109.2 2055.9 2108.1 2058.5 2107.1 2061.1 2106.1 2063.7 2105.1 2066.3 2104.1 2068.9 2103.1 2071.5 2102.1 2074.1 2101.2 2076.7 2100.4 2079.3 2099.6 2081.9 2098.9 2084.5 2098.2 2087.1 2097.5 2089.7 2096.9 2092.3 2096.3 2094.9 2095.8 2097.5 2095.2 2100.1 2094.7 2102.7 2094.2 2105.3 2093.7 2107.9 2093.3 2110.5 2092.9 2113.1 2092.5 2115.7 2092.2 2118.3 2091.9 2120.9 2091.7 2123.5 2091.5 2126.1 2091.3 2128.7 2091.1 2131.3 2090.9 2133.9 2090.8 2136.5 2090.6 2139.1 2090.5 2141.7 2090.4 2144.3 2090.4 2146.9 2090.3 2149.5 2090.3 2152.1 2090.2 2154.7 2090.2 2157.3 2090.1 2159.9 2090.1 2162.5 2090.1 2165.1 2090 2167.7 2090 2170.3 2090 2172.9 2089.9 2175.5 2089.9 2178.1 2089.9 2180.7 2089.9 2183.3 2089.9 2185.5 2089.9 2185.5 2089.9 2185.5 2089.9 2183.3 2089.9 2180.7 2089.9 2178.1 2089.9 2175.5 2089.8 2172.9 2089.8 2170.3 2089.8 2167.7 2089.7 2165.1 2089.7 2162.5 2089.7 2159.9 2089.6 2157.3 2089.6 2154.7 2089.5 2152.1 2089.5 2149.5 2089.4 2146.9 2089.4 2144.3 2089.3 2141.7 2089.2 2139.1 2089 2136.5 2088.9 2133.9 2088.7 2131.3 2088.5 2128.7 2088.3 2126.1 2088.1 2123.5 2087.9 2120.9 2087.6 2118.3 2087.3 2115.7 2086.9 2113.1 2086.5 2110.5 2086.1 2107.9 2085.6 2105.3 2085.1 2102.7 2084.6 2100.1 2084 2097.5 2083.5 2094.9 2082.9 2092.3 2082.3 2089.7 2081.6 2087.1 2080.9 2084.5 2080.2 2081.9 2079.4 2079.3 2078.6 2076.7 2077.7 2074.1 2076.7 2071.5 2075.7 2068.9 2074.7 2066.3 2073.7 2063.7 2072.7 2061.1 2071.7 2058.5 2070.6 2055.9 2069.6 2053.3 2068.5 2050.7 2067.6 2048.1 2066.8 2045.5 2066 2042.9 2065.3 2040.3 2064.7 2037.7 2064.2 2035.1 2063.8 2032.5 2063.4 2029.9 2063.1 2027.3 2062.8 2024.7 2062.5 2022.1 2062.2 2019.5 2062 2016.9 2061.8 2014.3 2061.7 2011.7 2061.6 2009.1 2061.5 2006.5 2061.4 2003.9 2061.3 2001.3 2061.2 1998.7 2061.1 1996.1 2061 1993.5 2060.8 1990.9 2060.7 1988.3 2060.5 1985.7 2060.4 1983.1 2060.2 1980.5 2059.9 1977.9 2059.7 1975.3 2059.4 1972.7 2058.9 1970.1 2058.3 1967.5 2057.6 1964.9 2056.9 1962.3 2056.2 1959.7 2055.6 1957.1 2055 1954.5 2054.6 1951.9 2054.1 1949.3 2053.6 1946.7 2053.2 1944.1 2052.8 1941.5 2052.6 1938.9 2052.4 1936.3 2052.4 1933.7 2052.7 1931.1 2053.1 1928.5 2053.5 1925.9 2054 1923.3 2054.7 1920.7 2055.4 1918.1 2056.3 1915.5 2057.3 1912.9 2058.3 1910.3 2059.4 1907.7 2060.5 1905.1 2061.8 1902.5 2063.2 1899.9 2064.8 1897.3 2066.4 1894.7 2068.1 1892.1 2069.7 1889.5 2071.3 1886.9 2072.8 1884.3 2074.3 1881.7 2075.9 1879.1 2077.5 1876.5 2079 1873.9 2080.4 1871.3 2081.6 1868.7 2082.6 1866.1 2083.5 1863.5 2084.4 1860.9 2085.2 1858.3 2086 1855.7 2086.6 1853.1 2087.2 1850.5 2087.8 1847.9 2088.2 1845.3 2088.7 1842.7 2089 1840.1 2089.3 1837.5 2089.4 1834.9 2089.5 1832.3 2089.6 1829.7 2089.7 1827.1 2089.7 1824.5 2089.8 1821.9 2089.8 1819.3 2089.9 1816.7 2089.9 1814.1 2089.9 1811.5Z" fill="#000080" stroke="none"/>
<g><line x1="2065.11" y1="2025.9" x2="2115.39" y2="2025.9" stroke="#000" stroke-width="2.5" stroke-linecap="round" stroke-dasharray="0.01 2.85"/><line x1="2055.8" y1="1925.4" x2="2124.7" y2="1925.4" stroke="#000" stroke-width="2.5" stroke-linecap="round" stroke-dasharray="0.01 2.85"/><line x1="2061.13" y1="1973.8" x2="2118.67" y2="1973.8" stroke="#000" stroke-width="4.4"/></g>
<g fill="#8c8c8c" fill-opacity="1"><circle cx="2089.9" cy="1925.4" r="3.7"/><circle cx="2089.9" cy="1968.5" r="3.7"/><circle cx="2089.9" cy="1979.9" r="3.7"/><circle cx="2089.9" cy="1989.5" r="3.7"/><circle cx="2089.9" cy="2002.2" r="3.7"/><circle cx="2089.9" cy="2022.8" r="3.7"/><circle cx="2089.9" cy="2027" r="3.7"/><circle cx="2089.9" cy="2031.2" r="3.7"/><circle cx="2089.9" cy="2058.6" r="3.7"/><circle cx="2089.9" cy="2062.1" r="3.7"/><circle cx="2089.9" cy="2071.3" r="3.7"/></g>
<path d="M2089.9 1811.2 L2089.9 1811.5 2089.9 1814.1 2089.9 1816.7 2090 1819.3 2090 1821.9 2090.1 1824.5 2090.1 1827.1 2090.2 1829.7 2090.3 1832.3 2090.4 1834.9 2090.5 1837.5 2090.8 1840.1 2091.1 1842.7 2091.6 1845.3 2092 1847.9 2092.6 1850.5 2093.2 1853.1 2093.8 1855.7 2094.6 1858.3 2095.4 1860.9 2096.3 1863.5 2097.2 1866.1 2098.2 1868.7 2099.4 1871.3 2100.8 1873.9 2102.3 1876.5 2103.9 1879.1 2105.5 1881.7 2107 1884.3 2108.5 1886.9 2110.1 1889.5 2111.7 1892.1 2113.4 1894.7 2115 1897.3 2116.6 1899.9 2118 1902.5 2119.3 1905.1 2120.4 1907.7 2121.5 1910.3 2122.5 1912.9 2123.5 1915.5 2124.4 1918.1 2125.1 1920.7 2125.8 1923.3 2126.3 1925.9 2126.7 1928.5 2127.1 1931.1 2127.4 1933.7 2127.4 1936.3 2127.2 1938.9 2127 1941.5 2126.6 1944.1 2126.2 1946.7 2125.7 1949.3 2125.2 1951.9 2124.8 1954.5 2124.2 1957.1 2123.6 1959.7 2122.9 1962.3 2122.2 1964.9 2121.5 1967.5 2120.9 1970.1 2120.4 1972.7 2120.1 1975.3 2119.9 1977.9 2119.6 1980.5 2119.4 1983.1 2119.3 1985.7 2119.1 1988.3 2119 1990.9 2118.8 1993.5 2118.7 1996.1 2118.6 1998.7 2118.5 2001.3 2118.4 2003.9 2118.3 2006.5 2118.2 2009.1 2118.1 2011.7 2118 2014.3 2117.8 2016.9 2117.6 2019.5 2117.3 2022.1 2117 2024.7 2116.7 2027.3 2116.4 2029.9 2116 2032.5 2115.6 2035.1 2115.1 2037.7 2114.5 2040.3 2113.8 2042.9 2113 2045.5 2112.2 2048.1 2111.3 2050.7 2110.2 2053.3 2109.2 2055.9 2108.1 2058.5 2107.1 2061.1 2106.1 2063.7 2105.1 2066.3 2104.1 2068.9 2103.1 2071.5 2102.1 2074.1 2101.2 2076.7 2100.4 2079.3 2099.6 2081.9 2098.9 2084.5 2098.2 2087.1 2097.5 2089.7 2096.9 2092.3 2096.3 2094.9 2095.8 2097.5 2095.2 2100.1 2094.7 2102.7 2094.2 2105.3 2093.7 2107.9 2093.3 2110.5 2092.9 2113.1 2092.5 2115.7 2092.2 2118.3 2091.9 2120.9 2091.7 2123.5 2091.5 2126.1 2091.3 2128.7 2091.1 2131.3 2090.9 2133.9 2090.8 2136.5 2090.6 2139.1 2090.5 2141.7 2090.4 2144.3 2090.4 2146.9 2090.3 2149.5 2090.3 2152.1 2090.2 2154.7 2090.2 2157.3 2090.1 2159.9 2090.1 2162.5 2090.1 2165.1 2090 2167.7 2090 2170.3 2090 2172.9 2089.9 2175.5 2089.9 2178.1 2089.9 2180.7 2089.9 2183.3 2089.9 2185.5 2089.9 2185.5 2089.9 2185.5 2089.9 2183.3 2089.9 2180.7 2089.9 2178.1 2089.9 2175.5 2089.8 2172.9 2089.8 2170.3 2089.8 2167.7 2089.7 2165.1 2089.7 2162.5 2089.7 2159.9 2089.6 2157.3 2089.6 2154.7 2089.5 2152.1 2089.5 2149.5 2089.4 2146.9 2089.4 2144.3 2089.3 2141.7 2089.2 2139.1 2089 2136.5 2088.9 2133.9 2088.7 2131.3 2088.5 2128.7 2088.3 2126.1 2088.1 2123.5 2087.9 2120.9 2087.6 2118.3 2087.3 2115.7 2086.9 2113.1 2086.5 2110.5 2086.1 2107.9 2085.6 2105.3 2085.1 2102.7 2084.6 2100.1 2084 2097.5 2083.5 2094.9 2082.9 2092.3 2082.3 2089.7 2081.6 2087.1 2080.9 2084.5 2080.2 2081.9 2079.4 2079.3 2078.6 2076.7 2077.7 2074.1 2076.7 2071.5 2075.7 2068.9 2074.7 2066.3 2073.7 2063.7 2072.7 2061.1 2071.7 2058.5 2070.6 2055.9 2069.6 2053.3 2068.5 2050.7 2067.6 2048.1 2066.8 2045.5 2066 2042.9 2065.3 2040.3 2064.7 2037.7 2064.2 2035.1 2063.8 2032.5 2063.4 2029.9 2063.1 2027.3 2062.8 2024.7 2062.5 2022.1 2062.2 2019.5 2062 2016.9 2061.8 2014.3 2061.7 2011.7 2061.6 2009.1 2061.5 2006.5 2061.4 2003.9 2061.3 2001.3 2061.2 1998.7 2061.1 1996.1 2061 1993.5 2060.8 1990.9 2060.7 1988.3 2060.5 1985.7 2060.4 1983.1 2060.2 1980.5 2059.9 1977.9 2059.7 1975.3 2059.4 1972.7 2058.9 1970.1 2058.3 1967.5 2057.6 1964.9 2056.9 1962.3 2056.2 1959.7 2055.6 1957.1 2055 1954.5 2054.6 1951.9 2054.1 1949.3 2053.6 1946.7 2053.2 1944.1 2052.8 1941.5 2052.6 1938.9 2052.4 1936.3 2052.4 1933.7 2052.7 1931.1 2053.1 1928.5 2053.5 1925.9 2054 1923.3 2054.7 1920.7 2055.4 1918.1 2056.3 1915.5 2057.3 1912.9 2058.3 1910.3 2059.4 1907.7 2060.5 1905.1 2061.8 1902.5 2063.2 1899.9 2064.8 1897.3 2066.4 1894.7 2068.1 1892.1 2069.7 1889.5 2071.3 1886.9 2072.8 1884.3 2074.3 1881.7 2075.9 1879.1 2077.5 1876.5 2079 1873.9 2080.4 1871.3 2081.6 1868.7 2082.6 1866.1 2083.5 1863.5 2084.4 1860.9 2085.2 1858.3 2086 1855.7 2086.6 1853.1 2087.2 1850.5 2087.8 1847.9 2088.2 1845.3 2088.7 1842.7 2089 1840.1 2089.3 1837.5 2089.4 1834.9 2089.5 1832.3 2089.6 1829.7 2089.7 1827.1 2089.7 1824.5 2089.8 1821.9 2089.8 1819.3 2089.9 1816.7 2089.9 1814.1 2089.9 1811.5Z" fill="none" stroke="#000" stroke-width="1.75" stroke-linejoin="round"/>
<path d="M1205.6 1725.2 V2388.8 H2171" fill="none" stroke="#0d0d0d" stroke-width="1.22"/>
<line x1="1196.6" y1="1793" x2="1205.6" y2="1793" stroke="#0d0d0d" stroke-width="1.2"/>
<text transform="translate(1166.2 1798.2) scale(0.8431 1)" font-size="18.6" fill="#000">1.5</text>
<line x1="1196.6" y1="1925.3" x2="1205.6" y2="1925.3" stroke="#0d0d0d" stroke-width="1.2"/>
<text transform="translate(1163.5 1930.5) scale(0.9475 1)" font-size="18.6" fill="#000">1.0</text>
<line x1="1196.6" y1="2057.6" x2="1205.6" y2="2057.6" stroke="#0d0d0d" stroke-width="1.2"/>
<text transform="translate(1161.5 2062.8) scale(1.0249 1)" font-size="18.6" fill="#000">0.5</text>
<line x1="1196.6" y1="2189.9" x2="1205.6" y2="2189.9" stroke="#0d0d0d" stroke-width="1.2"/>
<text transform="translate(1177.5 2195.1) scale(1.0150 1)" font-size="18.6" fill="#000">0</text>
<line x1="1196.6" y1="2322.2" x2="1205.6" y2="2322.2" stroke="#0d0d0d" stroke-width="1.2"/>
<text transform="translate(1151.1 2327.4) scale(1.0049 1)" font-size="18.6" fill="#000">−0.5</text>
<line x1="1282.4" y1="2388.8" x2="1282.4" y2="2398.6" stroke="#0d0d0d" stroke-width="1.2"/>
<line x1="1397.6" y1="2388.8" x2="1397.6" y2="2398.6" stroke="#0d0d0d" stroke-width="1.2"/>
<line x1="1513.1" y1="2388.8" x2="1513.1" y2="2398.6" stroke="#0d0d0d" stroke-width="1.2"/>
<line x1="1628.4" y1="2388.8" x2="1628.4" y2="2398.6" stroke="#0d0d0d" stroke-width="1.2"/>
<line x1="1743.6" y1="2388.8" x2="1743.6" y2="2398.6" stroke="#0d0d0d" stroke-width="1.2"/>
<line x1="1859.5" y1="2388.8" x2="1859.5" y2="2398.6" stroke="#0d0d0d" stroke-width="1.2"/>
<line x1="1974.3" y1="2388.8" x2="1974.3" y2="2398.6" stroke="#0d0d0d" stroke-width="1.2"/>
<line x1="2089.8" y1="2388.8" x2="2089.8" y2="2398.6" stroke="#0d0d0d" stroke-width="1.2"/>
<text transform="translate(1205.5 2427.2) scale(1.0027 1)" font-size="18.1" fill="#000">Day 15 &lt;0.01%</text>
<text transform="translate(1204.83 2448) scale(1.0133 1)" font-size="18.1" fill="#000">Day 42 &lt;0.01%</text>
<text transform="translate(1232.75 2468.8) scale(0.9720 1)" fill="#000"><tspan font-size="18.1" dy="0">(</tspan><tspan font-size="18.1" dy="0" font-style="italic">n</tspan><tspan font-size="18.1" dy="0"> = 170)</tspan></text>
<text transform="translate(1352.27 2427.2) scale(0.9720 1)" font-size="18.1" fill="#000">0.01–1%</text>
<text transform="translate(1356.92 2448) scale(0.9720 1)" font-size="18.1" fill="#000">&lt;0.01%</text>
<text transform="translate(1351.55 2468.8) scale(0.9720 1)" fill="#000"><tspan font-size="18.1" dy="0">(</tspan><tspan font-size="18.1" dy="0" font-style="italic">n</tspan><tspan font-size="18.1" dy="0"> = 186)</tspan></text>
<text transform="translate(1467.77 2427.2) scale(0.9720 1)" font-size="18.1" fill="#000">0.01–1%</text>
<text transform="translate(1467.77 2448) scale(0.9720 1)" font-size="18.1" fill="#000">0.01–1%</text>
<text transform="translate(1471.94 2468.8) scale(0.9720 1)" fill="#000"><tspan font-size="18.1" dy="0">(</tspan><tspan font-size="18.1" dy="0" font-style="italic">n</tspan><tspan font-size="18.1" dy="0"> = 18)</tspan></text>
<text transform="translate(1608.6 2427.2) scale(0.9720 1)" font-size="18.1" fill="#000">1–5%</text>
<text transform="translate(1601.02 2448) scale(0.9720 1)" font-size="18.1" fill="#000">&lt;0.01%</text>
<text transform="translate(1600.54 2468.8) scale(0.9720 1)" fill="#000"><tspan font-size="18.1" dy="0">(</tspan><tspan font-size="18.1" dy="0" font-style="italic">n</tspan><tspan font-size="18.1" dy="0"> = 53)</tspan></text>
<text transform="translate(1726.3 2427.2) scale(0.9720 1)" font-size="18.1" fill="#000">1–5%</text>
<text transform="translate(1714.07 2448) scale(0.9720 1)" font-size="18.1" fill="#000">0.01–1%</text>
<text transform="translate(1718.24 2468.8) scale(0.9720 1)" fill="#000"><tspan font-size="18.1" dy="0">(</tspan><tspan font-size="18.1" dy="0" font-style="italic">n</tspan><tspan font-size="18.1" dy="0"> = 19)</tspan></text>
<text transform="translate(1845.26 2427.2) scale(0.9720 1)" font-size="18.1" fill="#000">≥5%</text>
<text transform="translate(1832.72 2448) scale(0.9720 1)" font-size="18.1" fill="#000">&lt;0.01%</text>
<text transform="translate(1832.24 2468.8) scale(0.9720 1)" fill="#000"><tspan font-size="18.1" dy="0">(</tspan><tspan font-size="18.1" dy="0" font-style="italic">n</tspan><tspan font-size="18.1" dy="0"> = 27)</tspan></text>
<text transform="translate(1962.66 2427.2) scale(0.9720 1)" font-size="18.1" fill="#000">≥5%</text>
<text transform="translate(1945.47 2448) scale(0.9720 1)" font-size="18.1" fill="#000">0.01–1%</text>
<text transform="translate(1947.19 2468.8) scale(0.9720 1)" fill="#000"><tspan font-size="18.1" dy="0">(</tspan><tspan font-size="18.1" dy="0" font-style="italic">n</tspan><tspan font-size="18.1" dy="0"> = 1 9)</tspan></text>
<text transform="translate(2072.06 2427.2) scale(0.9720 1)" font-size="18.1" fill="#000">≥5%</text>
<text transform="translate(2072.06 2448) scale(0.9720 1)" font-size="18.1" fill="#000">≥1%</text>
<text transform="translate(2059.04 2468.8) scale(0.9720 1)" fill="#000"><tspan font-size="18.1" dy="0">(</tspan><tspan font-size="18.1" dy="0" font-style="italic">n</tspan><tspan font-size="18.1" dy="0"> = 16)</tspan></text>
<text transform="translate(1625.17 2509.4) scale(1.0034 1)" font-size="21.6" fill="#000">MRD</text>
<text transform="translate(1681.21 2509.4) scale(1.1508 1)" font-size="21.6" fill="#000">groups</text>
<text transform="translate(1125.4 2162.7) rotate(-90) translate(-1.58 0) scale(1.1913 1)" font-size="16.6" fill="#000">L</text>
<text transform="translate(1125.4 2162.7) rotate(-90) translate(9.97 0) scale(0.9819 1)" font-size="23.4" fill="#000">-asparaginase</text>
<text transform="translate(1125.4 2162.7) rotate(-90) translate(162.04 0) scale(0.9947 1)" font-size="23.4" fill="#000">LC</text>
<text transform="translate(1125.4 2162.7) rotate(-90) translate(192.43 5.9) scale(1.2112 1)" font-size="13.8" fill="#000">50</text>
<text transform="translate(2029.31 2352.3) scale(0.8755 1)" font-size="22.3" font-style="italic" fill="#000">P</text>
<text transform="translate(2048.99 2352.3) scale(0.8136 1)" font-size="22.3" fill="#000">=</text>
<text transform="translate(2064.99 2352.3) scale(1.1012 1)" font-size="22.3" fill="#000">9.2</text>
<text transform="translate(2105.15 2352.3) scale(0.8666 1)" font-size="22.3" fill="#000">×</text>
<text transform="translate(2121.43 2352.3) scale(0.9955 1)" font-size="22.3" fill="#000">10</text>
<text transform="translate(2146.43 2342.2) scale(1.0631 1)" font-size="12.6" fill="#000">−13</text>
<text transform="translate(0.48 20.85) scale(1.0131 1)" font-size="36.9" font-weight="bold" style="stroke:#000;stroke-width:1.2px;stroke-linejoin:round">a</text>
<text transform="translate(-1.89 882.8) scale(1.1075 1)" font-size="38.8" font-weight="bold" style="stroke:#000;stroke-width:1.2px;stroke-linejoin:round">b</text>
<text transform="translate(-0.06 1735.3) scale(1.1292 1)" font-size="36.7" font-weight="bold" style="stroke:#000;stroke-width:1.2px;stroke-linejoin:round">c</text>
</svg>
</body></html>
